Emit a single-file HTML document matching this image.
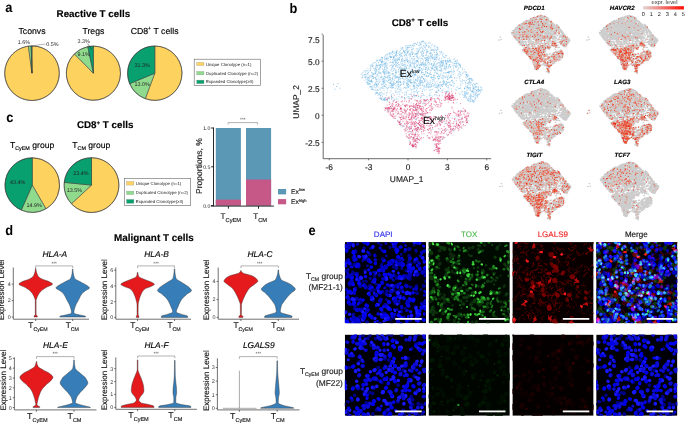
<!DOCTYPE html>
<html><head><meta charset="utf-8"><style>
html,body{margin:0;padding:0;background:#fff;width:685px;height:423px;overflow:hidden}
svg{display:block;will-change:transform}
text{font-family:"Liberation Sans", sans-serif;text-rendering:geometricPrecision}
</style></head><body>
<svg width="685" height="423" viewBox="0 0 685 423" font-family='"Liberation Sans", sans-serif'>
<rect width="685" height="423" fill="#fff"/>
<text transform="translate(5.2 11.7) scale(0.93 1)" font-size="13.8" font-weight="bold">a</text>
<text transform="translate(289.6 12.5) scale(0.93 1)" font-size="13.8" font-weight="bold">b</text>
<text transform="translate(6.2 121.5) scale(0.93 1)" font-size="13.8" font-weight="bold">c</text>
<text transform="translate(5.2 234.9) scale(0.93 1)" font-size="13.8" font-weight="bold">d</text>
<text transform="translate(308.6 235.0) scale(0.93 1)" font-size="13.8" font-weight="bold">e</text>
<text x="56.60" y="17.10" font-size="9.8" font-weight="bold" stroke="#000" stroke-width="0.15">Reactive T cells</text>
<text x="32.00" y="33.60" font-size="8.7" text-anchor="middle" stroke="#000" stroke-width="0.15">Tconvs</text>
<text x="93.40" y="33.60" font-size="8.7" text-anchor="middle" stroke="#000" stroke-width="0.15">Tregs</text>
<text x="154.60" y="33.60" font-size="8.7" text-anchor="middle" stroke="#000" stroke-width="0.15">CD8<tspan font-size="5.5" dy="-3.2">+</tspan><tspan dy="3.2"> T cells</tspan></text>
<path d="M32.00 73.20L32.00 45.90A27.3 27.3 0 1 1 28.41 46.14Z" fill="#FDD25E" stroke="#333" stroke-width="0.5" stroke-linejoin="round"/>
<path d="M32.00 73.20L28.41 46.14A27.3 27.3 0 0 1 31.14 45.91Z" fill="#90DA8E" stroke="#333" stroke-width="0.5" stroke-linejoin="round"/>
<path d="M32.00 73.20L31.14 45.91A27.3 27.3 0 0 1 32.00 45.90Z" fill="#08A06E" stroke="#333" stroke-width="0.5" stroke-linejoin="round"/>
<circle cx="32.0" cy="73.2" r="27.3" fill="none" stroke="#333" stroke-width="0.5"/>
<path d="M93.40 73.20L93.40 46.10A27.1 27.1 0 1 1 74.36 53.92Z" fill="#FDD25E" stroke="#333" stroke-width="0.5" stroke-linejoin="round"/>
<path d="M93.40 73.20L74.36 53.92A27.1 27.1 0 0 1 87.82 46.68Z" fill="#90DA8E" stroke="#333" stroke-width="0.5" stroke-linejoin="round"/>
<path d="M93.40 73.20L87.82 46.68A27.1 27.1 0 0 1 93.40 46.10Z" fill="#08A06E" stroke="#333" stroke-width="0.5" stroke-linejoin="round"/>
<circle cx="93.4" cy="73.2" r="27.1" fill="none" stroke="#333" stroke-width="0.5"/>
<path d="M154.80 73.20L154.80 46.00A27.2 27.2 0 1 1 145.27 98.67Z" fill="#FDD25E" stroke="#333" stroke-width="0.5" stroke-linejoin="round"/>
<path d="M154.80 73.20L145.27 98.67A27.2 27.2 0 0 1 129.70 83.69Z" fill="#90DA8E" stroke="#333" stroke-width="0.5" stroke-linejoin="round"/>
<path d="M154.80 73.20L129.70 83.69A27.2 27.2 0 0 1 154.80 46.00Z" fill="#08A06E" stroke="#333" stroke-width="0.5" stroke-linejoin="round"/>
<circle cx="154.8" cy="73.2" r="27.2" fill="none" stroke="#333" stroke-width="0.5"/>
<text x="17.80" y="44.20" font-size="5.4" fill="#222">1.6%</text>
<text x="46.20" y="46.00" font-size="5.4" fill="#222">0.5%</text>
<path d="M45.5 44.2 L39 44.8 L32.3 46.2" fill="none" stroke="#333" stroke-width="0.35"/>
<text x="77.40" y="43.20" font-size="5.4" fill="#222">3.3%</text>
<path d="M87.6 43.6 L91.8 49.5" fill="none" stroke="#222" stroke-width="0.5"/>
<text x="77.60" y="56.20" font-size="5.4" fill="#222">9.1%</text>
<text x="134.60" y="66.80" font-size="5.4" fill="#222">31.3%</text>
<text x="134.60" y="86.40" font-size="5.4" fill="#222">13.0%</text>
<rect x="194.2" y="59.2" width="66.40000000000003" height="26.299999999999997" fill="#fff" stroke="#666" stroke-width="0.6"/>
<rect x="196.7" y="62.4" width="7.300000000000011" height="3.1999999999999957" fill="#FDD25E" stroke="#999" stroke-width="0.3"/>
<text x="205.90" y="65.55" font-size="4.3" fill="#222">Unique Clonotype (n=1)</text>
<rect x="196.7" y="71.4" width="7.300000000000011" height="3.5" fill="#90DA8E" stroke="#999" stroke-width="0.3"/>
<text x="205.90" y="74.70" font-size="4.3" fill="#222">Duplicated Clonotype (n=2)</text>
<rect x="196.7" y="80.1" width="7.300000000000011" height="3.6000000000000085" fill="#08A06E" stroke="#999" stroke-width="0.3"/>
<text x="205.90" y="83.45" font-size="4.3" fill="#222">Expanded Clonotype(&#8805;3)</text>
<text x="76.90" y="128.10" font-size="9.8" font-weight="bold" stroke="#000" stroke-width="0.15">CD8<tspan font-size="6.2" dy="-3.6">+</tspan><tspan dy="3.6"> T cells</tspan></text>
<text x="32.10" y="148.40" font-size="8.6" text-anchor="middle" stroke="#000" stroke-width="0.15">T<tspan font-size="5.4" dy="2.0">CyEM</tspan><tspan dy="-2.0"> group</tspan></text>
<text x="91.30" y="148.40" font-size="8.6" text-anchor="middle" stroke="#000" stroke-width="0.15">T<tspan font-size="5.4" dy="2.0">CM</tspan><tspan dy="-2.0"> group</tspan></text>
<path d="M32.30 185.10L32.30 157.80A27.3 27.3 0 0 1 45.90 208.77Z" fill="#FDD25E" stroke="#333" stroke-width="0.5" stroke-linejoin="round"/>
<path d="M32.30 185.10L45.90 208.77A27.3 27.3 0 0 1 21.30 210.09Z" fill="#90DA8E" stroke="#333" stroke-width="0.5" stroke-linejoin="round"/>
<path d="M32.30 185.10L21.30 210.09A27.3 27.3 0 0 1 32.30 157.80Z" fill="#08A06E" stroke="#333" stroke-width="0.5" stroke-linejoin="round"/>
<circle cx="32.3" cy="185.1" r="27.3" fill="none" stroke="#333" stroke-width="0.5"/>
<path d="M91.50 185.10L91.50 157.70A27.4 27.4 0 1 1 71.41 203.73Z" fill="#FDD25E" stroke="#333" stroke-width="0.5" stroke-linejoin="round"/>
<path d="M91.50 185.10L71.41 203.73A27.4 27.4 0 0 1 64.24 182.35Z" fill="#90DA8E" stroke="#333" stroke-width="0.5" stroke-linejoin="round"/>
<path d="M91.50 185.10L64.24 182.35A27.4 27.4 0 0 1 91.50 157.70Z" fill="#08A06E" stroke="#333" stroke-width="0.5" stroke-linejoin="round"/>
<circle cx="91.5" cy="185.1" r="27.4" fill="none" stroke="#333" stroke-width="0.5"/>
<text x="9.90" y="184.30" font-size="5.4" fill="#222">43.4%</text>
<text x="26.50" y="206.50" font-size="5.4" fill="#222">14.9%</text>
<text x="73.20" y="174.90" font-size="5.4" fill="#222">23.4%</text>
<text x="66.80" y="191.60" font-size="5.4" fill="#222">13.5%</text>
<rect x="124.3" y="178.3" width="66.39999999999999" height="27.099999999999994" fill="#fff" stroke="#666" stroke-width="0.6"/>
<rect x="126.5" y="181.4" width="7.400000000000006" height="3.6999999999999886" fill="#FDD25E" stroke="#999" stroke-width="0.3"/>
<text x="135.80" y="184.80" font-size="4.3" fill="#222">Unique Clonotype (n=1)</text>
<rect x="126.5" y="191.1" width="7.400000000000006" height="3.5" fill="#90DA8E" stroke="#999" stroke-width="0.3"/>
<text x="135.80" y="194.40" font-size="4.3" fill="#222">Duplicated Clonotype (n=2)</text>
<rect x="126.5" y="199.4" width="7.400000000000006" height="3.9000000000000057" fill="#08A06E" stroke="#999" stroke-width="0.3"/>
<text x="135.80" y="202.90" font-size="4.3" fill="#222">Expanded Clonotype(&#8805;3)</text>
<rect x="215.8" y="128.00" width="25.1" height="77.60" fill="#5B98B6"/>
<rect x="215.8" y="199.62" width="25.1" height="5.98" fill="#C65887"/>
<rect x="246.0" y="128.00" width="25.1" height="77.60" fill="#5B98B6"/>
<rect x="246.0" y="179.53" width="25.1" height="26.07" fill="#C65887"/>
<path d="M213.5 127.5 V206.1 M211 206.1 H273.9 M228.4 206.1 v2.6 M258.5 206.1 v2.6 M213.5 128.00 h-2.4 M213.5 166.80 h-2.4 M213.5 205.60 h-2.4" stroke="#111" stroke-width="0.9" fill="none"/>
<text x="210.40" y="129.90" font-size="5.2" text-anchor="end" fill="#222">1.0</text>
<text x="210.40" y="168.70" font-size="5.2" text-anchor="end" fill="#222">0.5</text>
<text x="210.40" y="207.50" font-size="5.2" text-anchor="end" fill="#222">0.0</text>
<path d="M228.1 124.5 V122.6 H257.6 V124.5" stroke="#666" stroke-width="0.5" fill="none"/>
<text x="242.80" y="120.90" font-size="4.6" text-anchor="middle" fill="#444">***</text>
<text x="202.00" y="166.00" font-size="8.5" text-anchor="middle" fill="#222" stroke="#222" stroke-width="0.15" transform="rotate(-90 202.0 166.0)">Proportions, %</text>
<text x="220.60" y="218.90" font-size="8.1" fill="#222" stroke="#222" stroke-width="0.15">T<tspan font-size="5.7" dy="2.6">CyEM</tspan></text>
<text x="253.30" y="218.90" font-size="8.1" fill="#222" stroke="#222" stroke-width="0.15">T<tspan font-size="5.7" dy="2.6">CM</tspan></text>
<rect x="278" y="189" width="8.1" height="5.4" fill="#5B98B6"/>
<rect x="278" y="199.1" width="8.1" height="5.2" fill="#C65887"/>
<text x="291.00" y="194.00" font-size="6.8" fill="#222" stroke="#222" stroke-width="0.15">Ex<tspan font-size="4" dy="-2.6">low</tspan></text>
<text x="291.00" y="204.20" font-size="6.8" fill="#222" stroke="#222" stroke-width="0.15">Ex<tspan font-size="4" dy="-2.6">high</tspan></text>
<path d="M436.6 47.7h0.9M470.2 78.2h0.9M396.5 53.3h0.9M467.3 83.2h0.9M417.2 85.5h0.9M396.8 77.4h0.9M393.8 69.8h0.9M390.9 81.0h0.9M414.4 85.6h0.9M421.7 91.4h0.9M427.8 76.1h0.9M436.2 50.6h0.9M386.0 54.6h0.9M379.2 68.2h0.9M423.0 56.2h0.9M417.0 80.2h0.9M472.7 92.4h0.9M437.1 92.6h0.9M420.8 73.3h0.9M390.0 75.0h0.9M378.5 68.9h0.9M392.4 79.4h0.9M468.1 88.6h0.9M422.4 59.2h0.9M464.0 93.0h0.9M451.0 77.3h0.9M370.7 76.9h0.9M426.2 64.8h0.9M404.0 55.7h0.9M433.3 75.9h0.9M399.3 77.2h0.9M377.9 65.3h0.9M460.2 88.0h0.9M406.3 76.0h0.9M480.3 92.8h0.9M434.1 85.1h0.9M442.9 81.7h0.9M413.8 81.9h0.9M389.0 54.2h0.9M409.1 80.3h0.9M371.3 89.3h0.9M442.4 62.7h0.9M476.1 95.7h0.9M471.0 91.4h0.9M429.8 86.9h0.9M377.4 75.5h0.9M383.2 81.9h0.9M474.0 87.9h0.9M427.6 61.3h0.9M468.6 84.6h0.9M438.6 78.8h0.9M405.9 66.8h0.9M410.2 66.7h0.9M417.2 78.1h0.9M405.4 59.6h0.9M440.6 68.1h0.9M424.1 90.1h0.9M401.9 78.1h0.9M432.3 49.7h0.9M403.3 81.3h0.9M423.5 74.5h0.9M378.1 62.6h0.9M452.4 62.7h0.9M459.5 88.3h0.9M376.3 69.7h0.9M411.1 94.4h0.9M460.1 72.3h0.9M422.8 94.1h0.9M383.9 80.8h0.9M404.2 64.2h0.9M430.2 52.8h0.9M401.4 60.1h0.9M392.9 74.2h0.9M414.3 43.2h0.9M423.1 41.5h0.9M423.8 42.9h0.9M451.1 81.0h0.9M431.1 50.1h0.9M410.2 79.5h0.9M412.5 72.9h0.9M390.4 87.3h0.9M448.0 72.7h0.9M437.2 70.8h0.9M400.5 76.3h0.9M408.6 76.2h0.9M385.7 59.4h0.9M434.0 63.8h0.9M432.8 61.3h0.9M440.8 71.2h0.9M397.3 50.9h0.9M416.9 54.1h0.9M437.0 76.6h0.9M437.9 59.5h0.9M382.1 58.0h0.9M367.0 73.7h0.9M449.6 66.5h0.9M424.0 80.5h0.9M361.9 77.9h0.9M390.6 62.4h0.9M390.1 79.6h0.9M382.6 93.9h0.9M429.4 73.1h0.9M432.3 79.6h0.9M379.9 72.5h0.9M475.3 87.7h0.9M425.9 67.9h0.9M440.7 73.7h0.9M383.0 70.3h0.9M430.3 56.1h0.9M398.7 52.8h0.9M398.1 62.6h0.9M466.0 75.8h0.9M375.3 83.2h0.9M454.1 58.7h0.9M430.2 83.1h0.9M434.7 56.8h0.9M371.3 75.8h0.9M441.1 52.4h0.9M437.4 70.0h0.9M399.8 56.5h0.9M379.3 92.6h0.9M439.8 70.4h0.9M385.9 95.1h0.9M429.0 53.6h0.9M406.2 92.1h0.9M390.6 81.0h0.9M415.8 61.8h0.9M440.6 77.3h0.9M406.4 60.3h0.9M375.9 76.6h0.9M405.3 45.9h0.9M426.0 59.8h0.9M386.0 80.3h0.9M390.0 85.3h0.9M400.1 84.6h0.9M415.9 96.1h0.9M369.5 83.8h0.9M430.9 78.2h0.9M396.4 82.8h0.9M369.0 86.9h0.9M375.9 81.3h0.9M471.3 99.4h0.9M392.7 66.1h0.9M397.2 76.5h0.9M436.0 72.8h0.9M413.1 77.4h0.9M468.6 101.2h0.9M405.8 84.1h0.9M447.2 82.8h0.9M371.4 75.7h0.9M449.2 60.7h0.9M455.3 89.7h0.9M442.7 61.8h0.9M405.2 75.2h0.9M423.5 87.1h0.9M452.9 83.3h0.9M425.6 67.3h0.9M451.8 80.4h0.9M374.9 90.4h0.9M439.0 58.2h0.9M438.6 91.0h0.9M382.2 61.3h0.9M453.2 59.6h0.9M414.3 58.4h0.9M406.1 54.7h0.9M411.2 63.8h0.9M426.4 50.1h0.9M427.1 59.8h0.9M448.5 60.8h0.9M406.5 88.0h0.9M473.0 88.0h0.9M407.2 65.4h0.9M376.4 67.6h0.9M374.6 84.6h0.9M370.7 82.0h0.9M373.8 74.1h0.9M381.2 61.3h0.9M430.4 47.4h0.9M414.5 66.5h0.9M382.9 99.4h0.9M472.3 89.0h0.9M386.2 58.5h0.9M367.7 70.3h0.9M417.9 78.9h0.9M398.2 57.9h0.9M398.0 79.5h0.9M448.3 72.5h0.9M408.1 86.2h0.9M363.5 74.7h0.9M421.6 77.3h0.9M381.2 77.6h0.9M419.2 67.7h0.9M382.1 88.1h0.9M442.1 65.6h0.9M392.2 51.1h0.9M424.5 65.1h0.9M437.0 48.0h0.9M425.6 72.8h0.9M408.3 60.8h0.9M467.3 87.4h0.9M381.6 79.3h0.9M376.2 92.6h0.9M387.9 71.9h0.9M385.1 77.5h0.9M421.9 76.7h0.9M472.4 80.1h0.9M433.5 50.6h0.9M388.6 77.1h0.9M416.8 56.9h0.9M468.2 88.3h0.9M446.8 72.5h0.9M464.3 80.5h0.9M443.6 60.4h0.9M450.3 77.2h0.9M379.9 59.6h0.9M378.6 65.0h0.9M422.9 61.9h0.9M478.6 90.4h0.9M394.2 68.6h0.9M446.2 67.2h0.9M438.9 76.7h0.9M412.9 46.6h0.9M410.7 66.2h0.9M444.9 57.4h0.9M442.1 84.7h0.9M385.2 65.1h0.9M477.8 90.9h0.9M417.3 52.2h0.9M409.9 76.4h0.9M428.9 46.5h0.9M428.3 47.0h0.9M474.5 85.7h0.9M364.3 80.4h0.9M415.3 54.1h0.9M437.3 66.5h0.9M386.8 81.6h0.9M467.9 75.8h0.9M383.8 56.6h0.9M452.1 82.3h0.9M427.8 60.3h0.9M436.0 55.9h0.9M443.1 63.6h0.9M438.7 55.6h0.9M409.6 56.0h0.9M408.3 45.5h0.9M406.4 74.4h0.9M417.0 42.6h0.9M421.6 82.1h0.9M401.1 76.0h0.9M406.4 58.9h0.9M456.4 87.3h0.9M414.6 82.5h0.9M407.5 61.3h0.9M465.7 93.8h0.9M431.0 68.4h0.9M428.3 68.8h0.9M411.3 89.5h0.9M382.1 68.8h0.9M395.5 85.4h0.9M395.6 54.7h0.9M412.6 56.5h0.9M402.9 83.8h0.9M405.3 88.5h0.9M431.2 57.3h0.9M406.0 92.9h0.9M392.4 71.3h0.9M420.4 58.8h0.9M398.1 69.5h0.9M420.5 82.2h0.9M383.9 99.5h0.9M417.9 51.2h0.9M454.2 78.0h0.9M416.0 44.4h0.9M426.8 81.3h0.9M446.7 83.0h0.9M414.4 72.7h0.9M389.8 78.7h0.9M405.9 49.5h0.9M438.1 85.2h0.9M391.3 84.4h0.9M418.3 63.3h0.9M424.2 74.5h0.9M384.5 70.2h0.9M395.1 76.3h0.9M376.3 79.6h0.9M399.1 59.8h0.9M419.7 83.6h0.9M436.1 59.7h0.9M401.9 58.3h0.9M391.1 96.2h0.9M413.4 89.4h0.9M419.8 44.3h0.9M376.9 89.5h0.9M438.4 85.2h0.9M376.2 84.5h0.9M380.9 84.9h0.9M394.4 64.5h0.9M382.1 60.9h0.9M379.8 96.7h0.9M416.0 54.0h0.9M382.1 57.9h0.9M435.6 87.3h0.9M409.6 59.8h0.9M411.0 58.5h0.9M441.3 60.5h0.9M433.5 52.0h0.9M398.3 87.5h0.9M435.0 78.3h0.9M429.8 89.9h0.9M477.0 83.7h0.9M434.5 55.3h0.9M400.9 54.0h0.9M411.4 69.5h0.9M464.6 96.3h0.9M401.0 68.2h0.9M369.0 83.8h0.9M382.2 65.5h0.9M414.7 70.9h0.9M393.8 76.1h0.9M470.4 100.5h0.9M443.4 53.1h0.9M464.8 83.8h0.9M409.2 69.0h0.9M389.7 79.2h0.9M444.2 67.7h0.9M385.6 66.2h0.9M392.6 76.1h0.9M446.1 66.7h0.9M460.1 65.5h0.9M423.1 52.9h0.9M427.3 57.4h0.9M369.8 75.5h0.9M434.5 64.5h0.9M398.0 53.7h0.9M437.1 53.6h0.9M395.6 70.2h0.9M437.9 85.5h0.9M406.1 95.1h0.9M407.3 61.6h0.9M447.5 58.5h0.9M395.0 60.8h0.9M397.1 60.0h0.9M368.9 83.6h0.9M386.5 71.4h0.9M392.9 57.9h0.9M380.8 73.8h0.9M367.2 80.9h0.9M416.9 60.2h0.9M385.9 92.9h0.9M473.3 88.3h0.9M393.1 82.4h0.9M430.1 55.0h0.9M422.0 85.3h0.9M418.0 51.3h0.9M367.6 78.1h0.9M423.8 74.7h0.9M405.0 77.0h0.9M453.3 71.6h0.9M392.1 85.0h0.9M417.4 76.9h0.9M415.4 82.9h0.9M398.9 68.0h0.9M407.8 51.5h0.9M378.3 69.2h0.9M429.5 64.1h0.9M439.3 70.4h0.9M399.4 57.9h0.9M429.9 60.9h0.9M432.2 68.3h0.9M383.9 72.8h0.9M431.4 67.6h0.9M420.0 97.9h0.9M379.9 87.9h0.9M376.1 69.3h0.9M426.7 51.8h0.9M409.2 67.1h0.9M392.8 84.0h0.9M426.3 52.7h0.9M428.5 76.2h0.9M460.4 74.5h0.9M390.2 82.8h0.9M380.8 64.5h0.9M464.3 91.3h0.9M471.8 91.0h0.9M400.5 55.3h0.9M473.2 97.0h0.9M380.6 65.0h0.9M419.5 66.0h0.9M424.1 58.0h0.9M413.5 74.2h0.9M376.8 85.6h0.9M403.1 78.9h0.9M459.2 72.0h0.9M397.8 80.4h0.9M467.0 87.4h0.9M379.4 64.8h0.9M415.7 62.3h0.9M441.1 84.8h0.9M422.1 62.4h0.9M379.8 89.1h0.9M376.6 86.8h0.9M403.4 81.9h0.9M394.1 99.4h0.9M400.3 91.1h0.9M452.7 64.1h0.9M409.4 47.1h0.9M409.6 80.6h0.9M469.0 81.2h0.9M472.8 94.4h0.9M397.8 59.1h0.9M390.7 57.3h0.9M376.6 60.3h0.9M413.5 82.1h0.9M433.8 65.3h0.9M377.4 60.5h0.9M418.1 96.4h0.9M445.3 61.8h0.9M375.3 72.8h0.9M372.1 64.0h0.9M434.9 84.0h0.9M429.1 74.0h0.9M450.4 85.2h0.9M378.7 94.9h0.9M410.2 54.4h0.9M456.1 67.2h0.9M469.5 79.0h0.9M415.3 74.7h0.9M405.4 73.5h0.9M409.5 61.2h0.9M405.7 76.9h0.9M417.6 67.6h0.9M414.8 87.9h0.9M407.1 72.4h0.9M412.9 63.9h0.9M429.1 86.8h0.9M442.4 54.4h0.9M387.8 72.5h0.9M396.9 89.6h0.9M453.3 70.1h0.9M399.3 79.0h0.9M382.4 84.4h0.9M372.5 74.3h0.9M445.5 55.6h0.9M396.0 65.7h0.9M438.0 76.1h0.9M363.6 70.8h0.9M430.8 49.7h0.9M390.7 83.7h0.9M402.4 75.1h0.9M434.7 87.7h0.9M432.3 66.7h0.9M446.7 91.2h0.9M384.4 63.8h0.9M390.7 69.1h0.9M394.8 55.1h0.9M434.2 48.1h0.9M423.8 66.7h0.9M433.7 57.8h0.9M446.1 82.0h0.9M400.9 49.2h0.9M399.9 81.4h0.9M363.8 77.3h0.9M384.4 100.7h0.9M400.6 75.1h0.9M473.9 89.8h0.9M413.1 48.7h0.9M384.7 82.7h0.9M446.9 60.9h0.9M389.7 62.7h0.9M437.9 74.7h0.9M398.7 74.8h0.9M386.5 73.5h0.9M375.0 77.7h0.9M437.6 78.2h0.9M371.8 78.3h0.9M378.6 59.3h0.9M400.8 61.3h0.9M442.9 73.0h0.9M435.7 85.0h0.9M371.8 73.2h0.9M391.5 86.0h0.9M431.5 68.7h0.9M460.3 84.1h0.9M438.5 85.3h0.9M423.5 82.1h0.9M469.4 90.2h0.9M415.3 79.4h0.9M381.3 57.5h0.9M464.5 96.2h0.9M409.1 77.7h0.9M397.9 78.6h0.9M421.8 42.7h0.9M414.1 64.8h0.9M384.0 67.7h0.9M421.5 78.2h0.9M466.7 83.3h0.9M470.1 97.2h0.9M421.6 85.0h0.9M365.1 74.8h0.9M430.9 76.4h0.9M422.5 74.5h0.9M413.2 44.2h0.9M476.9 96.2h0.9M374.8 71.6h0.9M436.4 57.0h0.9M385.3 56.0h0.9M445.7 63.0h0.9M417.6 94.9h0.9M426.0 89.8h0.9M366.4 74.0h0.9M412.4 69.4h0.9M426.1 85.4h0.9M421.6 72.8h0.9M395.9 51.7h0.9M440.5 85.7h0.9M416.9 92.5h0.9M458.6 63.4h0.9M394.9 52.3h0.9M473.7 101.5h0.9M402.7 68.6h0.9M391.3 64.8h0.9M436.4 64.7h0.9M371.5 65.5h0.9M469.2 81.7h0.9M381.4 88.2h0.9M384.4 97.3h0.9M466.7 75.8h0.9M423.8 86.7h0.9M384.2 76.2h0.9M423.6 50.7h0.9M395.3 72.9h0.9M375.2 78.9h0.9M473.3 91.8h0.9M376.9 65.5h0.9M412.4 67.3h0.9M384.8 58.3h0.9M441.5 62.3h0.9M408.7 65.9h0.9M408.1 63.2h0.9M421.8 41.4h0.9M442.5 64.2h0.9M396.6 77.6h0.9M379.3 72.2h0.9M385.8 84.9h0.9M417.7 70.5h0.9M432.6 85.8h0.9M398.7 65.0h0.9M428.8 69.8h0.9M426.3 76.0h0.9M466.1 80.6h0.9M407.6 72.9h0.9M422.5 63.1h0.9M454.1 71.3h0.9M449.7 59.9h0.9M481.9 90.2h0.9M381.1 99.6h0.9M448.2 91.3h0.9M423.2 65.8h0.9M417.3 77.0h0.9M416.8 92.0h0.9M398.5 77.4h0.9M434.1 67.4h0.9M368.5 81.0h0.9M365.5 70.7h0.9M382.3 97.1h0.9M397.0 63.3h0.9M433.8 70.6h0.9M400.0 62.9h0.9M429.8 48.2h0.9M405.4 58.1h0.9M440.0 88.5h0.9M395.7 74.2h0.9M395.1 66.7h0.9M469.9 101.8h0.9M374.1 70.6h0.9M377.6 95.1h0.9M396.1 52.0h0.9M480.9 87.7h0.9M416.2 87.4h0.9M467.3 90.1h0.9M431.3 45.3h0.9M447.8 75.4h0.9M383.7 99.3h0.9M432.4 83.8h0.9M436.9 49.4h0.9M474.4 95.3h0.9M404.1 60.9h0.9M427.3 82.5h0.9M422.6 53.4h0.9M453.3 86.2h0.9M395.2 70.3h0.9M370.2 70.3h0.9M406.9 59.3h0.9M431.3 86.3h0.9M476.9 95.0h0.9M409.8 88.8h0.9M435.2 92.0h0.9M468.9 78.4h0.9M446.6 91.9h0.9M417.6 70.1h0.9M460.0 66.4h0.9M419.3 85.1h0.9M394.3 60.1h0.9M462.0 68.2h0.9M396.1 64.7h0.9M464.1 88.4h0.9M422.3 91.2h0.9M456.5 63.4h0.9M478.6 93.8h0.9M396.8 85.1h0.9M375.2 73.8h0.9M468.8 82.8h0.9M418.7 84.8h0.9M374.8 83.0h0.9M421.0 55.3h0.9M418.4 69.5h0.9M420.2 77.8h0.9M472.3 101.6h0.9M408.7 94.4h0.9M391.7 51.7h0.9M398.9 92.1h0.9M384.9 64.7h0.9M395.6 78.0h0.9M470.6 79.4h0.9M407.3 57.2h0.9M446.2 81.7h0.9M472.7 90.7h0.9M447.8 67.6h0.9M403.7 66.8h0.9M449.2 72.4h0.9M376.3 93.5h0.9M406.8 47.4h0.9M428.5 42.6h0.9M394.5 74.9h0.9M382.3 81.8h0.9M469.3 78.9h0.9M433.3 79.7h0.9M370.7 88.0h0.9M421.1 69.0h0.9M421.7 70.8h0.9M435.6 58.0h0.9M388.6 79.3h0.9M470.2 87.8h0.9M374.6 87.4h0.9M380.6 61.1h0.9M410.0 71.8h0.9M426.9 58.1h0.9M448.2 61.8h0.9M450.3 67.3h0.9M402.3 58.8h0.9M446.8 60.2h0.9M361.5 77.5h0.9M416.2 51.2h0.9M423.9 85.4h0.9M435.3 58.2h0.9M407.9 68.2h0.9M417.0 60.8h0.9M410.4 62.4h0.9M404.6 76.0h0.9M420.3 44.7h0.9M413.8 82.4h0.9M464.1 97.2h0.9M401.9 74.5h0.9M435.9 66.7h0.9M403.8 51.2h0.9M439.7 67.0h0.9M477.9 86.5h0.9M376.5 84.9h0.9M441.6 70.9h0.9M437.8 62.4h0.9M466.9 87.9h0.9M399.7 67.0h0.9M446.8 72.5h0.9M392.0 51.9h0.9M384.2 86.0h0.9M367.0 82.5h0.9M457.1 62.3h0.9M399.1 57.7h0.9M440.7 61.8h0.9M369.8 81.3h0.9M441.2 78.0h0.9M430.6 85.7h0.9M387.2 76.1h0.9M449.0 65.9h0.9M416.7 84.3h0.9M451.5 73.9h0.9M404.4 62.5h0.9M426.4 60.1h0.9M436.3 68.8h0.9M366.5 81.8h0.9M454.7 61.7h0.9M445.5 63.4h0.9M406.3 68.0h0.9M399.2 67.9h0.9M424.9 78.9h0.9M406.8 52.7h0.9M434.4 94.9h0.9M416.2 80.7h0.9M428.9 84.0h0.9M421.0 65.1h0.9M407.0 49.3h0.9M368.5 80.1h0.9M440.5 62.1h0.9M403.2 51.1h0.9M436.0 52.6h0.9M375.1 69.3h0.9M469.5 98.4h0.9M374.5 77.4h0.9M404.1 87.5h0.9M420.5 47.0h0.9M374.0 84.5h0.9M447.5 85.7h0.9M376.7 90.9h0.9M431.0 86.2h0.9M412.8 86.6h0.9M395.0 62.9h0.9M375.9 83.5h0.9M395.5 60.2h0.9M439.0 62.8h0.9M386.7 63.8h0.9M405.1 54.7h0.9M436.4 54.3h0.9M396.7 67.2h0.9M408.2 80.1h0.9M445.4 61.5h0.9M442.5 57.1h0.9M416.7 44.2h0.9M382.7 80.3h0.9M409.2 77.0h0.9M370.5 86.8h0.9M416.6 75.4h0.9M458.3 74.1h0.9M476.1 90.0h0.9M382.5 72.4h0.9M445.5 91.8h0.9M396.2 81.2h0.9M442.4 84.4h0.9M423.3 88.8h0.9M399.8 71.1h0.9M420.1 48.4h0.9M404.9 50.6h0.9M411.5 49.7h0.9M443.6 76.1h0.9M443.4 56.5h0.9M422.1 54.1h0.9M370.8 80.3h0.9M407.9 84.6h0.9M466.3 93.5h0.9M422.3 70.0h0.9M457.9 88.6h0.9M413.9 56.2h0.9M421.9 55.8h0.9M387.7 73.5h0.9M475.5 93.5h0.9M376.5 85.5h0.9M383.8 73.6h0.9M372.5 85.4h0.9M372.2 82.9h0.9M402.5 65.3h0.9M409.7 73.9h0.9M473.5 102.4h0.9M425.6 71.5h0.9M377.5 76.9h0.9M427.8 84.3h0.9M379.1 65.5h0.9M476.0 90.8h0.9M382.8 64.6h0.9M416.4 89.8h0.9M391.1 57.1h0.9M419.7 70.0h0.9M425.5 65.2h0.9M415.9 66.5h0.9M442.9 83.3h0.9M420.5 80.4h0.9M388.3 80.4h0.9M372.0 66.3h0.9M383.5 81.5h0.9M390.0 82.2h0.9M477.9 87.9h0.9M464.7 81.9h0.9M445.7 67.0h0.9M398.4 96.4h0.9M407.7 79.8h0.9M413.8 92.0h0.9M395.6 92.0h0.9M411.4 53.9h0.9M442.9 84.3h0.9M439.2 67.3h0.9M448.9 83.1h0.9M381.7 81.0h0.9M397.6 99.0h0.9M443.8 65.6h0.9M458.6 64.9h0.9M402.5 82.4h0.9M403.3 72.8h0.9M401.5 60.8h0.9M383.0 70.8h0.9M376.4 81.5h0.9M464.5 94.4h0.9M368.0 72.6h0.9M441.1 85.3h0.9M409.0 98.3h0.9M438.1 79.1h0.9M415.2 43.5h0.9M382.6 78.9h0.9M448.0 66.4h0.9M425.5 87.6h0.9M369.4 77.4h0.9M388.6 78.2h0.9M383.0 72.8h0.9M384.1 68.8h0.9M410.6 98.4h0.9M404.2 68.2h0.9M372.2 76.5h0.9M413.6 66.7h0.9M426.4 59.2h0.9M386.8 100.8h0.9M396.3 50.8h0.9M440.5 65.2h0.9M465.9 74.7h0.9M392.0 66.2h0.9M418.8 65.2h0.9M400.8 75.2h0.9M454.1 83.6h0.9M462.1 94.5h0.9M376.8 92.5h0.9M379.7 60.3h0.9M406.8 87.3h0.9M416.6 64.3h0.9M477.5 89.8h0.9M478.8 94.4h0.9M449.5 84.8h0.9M392.8 56.3h0.9M405.4 60.2h0.9M369.2 78.8h0.9M387.8 82.8h0.9M470.1 82.8h0.9M465.0 82.5h0.9M437.1 86.6h0.9M386.9 60.0h0.9M453.3 81.7h0.9M422.7 46.4h0.9M400.3 70.5h0.9M409.6 71.1h0.9M414.8 53.5h0.9M394.9 90.8h0.9M406.9 47.4h0.9M405.9 82.2h0.9M435.9 50.4h0.9M420.8 64.4h0.9M383.8 64.7h0.9M457.6 69.3h0.9M422.8 83.3h0.9M459.6 94.2h0.9M442.0 63.9h0.9M378.8 89.3h0.9M445.8 55.9h0.9M391.2 99.2h0.9M408.4 96.7h0.9M451.8 65.9h0.9M455.2 67.1h0.9M375.3 66.4h0.9M438.6 78.4h0.9M383.3 99.6h0.9M392.5 83.5h0.9M401.9 69.1h0.9M425.0 64.9h0.9M448.6 61.7h0.9M430.6 89.7h0.9M413.0 56.6h0.9M423.3 52.7h0.9M423.3 55.7h0.9M404.3 53.4h0.9M455.8 80.5h0.9M413.4 58.5h0.9M364.2 74.7h0.9M415.2 68.1h0.9M384.3 86.3h0.9M425.8 61.0h0.9M475.0 94.2h0.9M382.4 87.1h0.9M405.5 50.5h0.9M380.1 95.5h0.9M441.1 52.7h0.9M453.2 74.7h0.9M423.0 79.0h0.9M446.2 68.7h0.9M463.2 97.7h0.9M392.6 81.4h0.9M395.2 77.5h0.9M410.8 83.0h0.9M439.6 84.6h0.9M378.3 94.0h0.9M384.3 71.7h0.9M390.9 95.8h0.9M370.9 80.2h0.9M431.8 77.5h0.9M421.0 41.5h0.9M418.6 67.6h0.9M416.6 65.0h0.9M420.8 65.1h0.9M419.6 67.4h0.9M415.5 60.5h0.9M379.3 69.9h0.9M395.9 98.2h0.9M392.1 62.3h0.9M456.1 63.0h0.9M384.8 63.2h0.9M398.0 84.5h0.9M389.1 56.8h0.9M405.5 52.5h0.9M421.4 47.5h0.9M442.7 69.0h0.9M410.7 90.4h0.9M384.7 99.1h0.9M441.2 65.9h0.9M432.2 58.6h0.9M410.0 64.8h0.9M372.1 76.2h0.9M388.2 98.0h0.9M415.2 80.7h0.9M478.0 89.6h0.9M399.6 73.0h0.9M384.5 76.7h0.9M421.0 76.4h0.9M444.3 68.4h0.9M405.1 68.2h0.9M463.3 95.6h0.9M399.7 68.3h0.9M464.0 88.2h0.9M436.0 94.9h0.9M402.8 74.6h0.9M370.1 68.3h0.9M441.5 62.0h0.9M397.5 88.5h0.9M472.9 89.2h0.9M401.7 97.3h0.9M383.6 98.8h0.9M401.7 97.6h0.9M386.4 57.6h0.9M416.0 90.8h0.9M395.8 99.7h0.9M371.2 80.9h0.9M474.0 99.3h0.9M377.1 74.6h0.9M432.6 77.7h0.9M428.0 75.6h0.9M445.1 77.4h0.9M397.3 83.7h0.9M395.4 55.2h0.9M403.9 97.9h0.9M445.0 60.4h0.9M419.9 78.7h0.9M394.1 60.3h0.9M401.6 65.5h0.9M430.9 63.9h0.9M459.3 65.2h0.9M447.2 79.6h0.9M393.8 84.3h0.9M423.8 63.3h0.9M369.7 81.1h0.9M413.6 65.7h0.9M455.5 61.1h0.9M389.9 56.6h0.9M395.5 55.5h0.9M462.2 73.6h0.9M400.5 53.3h0.9M403.5 71.1h0.9M456.0 90.1h0.9M406.9 60.6h0.9M438.4 84.0h0.9M425.1 47.1h0.9M425.7 86.3h0.9M425.0 63.2h0.9M374.9 62.7h0.9M425.8 75.4h0.9M445.1 72.8h0.9M392.8 70.2h0.9M456.4 60.2h0.9M467.2 92.9h0.9M403.2 50.5h0.9M400.6 97.8h0.9M388.0 75.3h0.9M400.3 85.5h0.9M412.1 61.9h0.9M429.6 52.9h0.9M433.1 69.4h0.9M428.2 45.8h0.9M470.2 94.9h0.9M423.5 85.7h0.9M478.2 91.4h0.9M421.0 53.7h0.9M370.4 66.1h0.9M424.6 45.8h0.9M451.1 71.8h0.9M472.6 96.5h0.9M433.8 81.1h0.9M407.3 51.1h0.9M430.0 72.9h0.9M427.9 62.2h0.9M450.4 77.2h0.9M367.6 84.4h0.9M396.0 52.8h0.9M417.1 81.2h0.9M395.4 72.3h0.9M419.7 88.6h0.9M464.6 95.5h0.9M392.7 60.5h0.9M427.8 83.2h0.9M390.3 87.7h0.9M407.1 85.5h0.9M397.1 65.7h0.9M431.7 57.7h0.9M420.8 63.8h0.9M377.4 84.0h0.9M377.3 81.7h0.9M391.5 97.4h0.9M472.1 100.6h0.9M421.4 62.9h0.9M404.8 64.1h0.9M414.4 63.2h0.9M381.2 57.4h0.9M387.9 58.4h0.9M379.4 66.9h0.9M406.4 70.4h0.9M417.5 61.3h0.9M445.4 84.4h0.9M439.8 61.2h0.9M479.8 91.4h0.9M414.3 61.8h0.9M394.5 59.0h0.9M480.4 86.9h0.9M433.4 75.2h0.9M422.0 80.9h0.9M398.0 64.6h0.9M462.0 69.6h0.9M388.8 98.8h0.9M381.3 62.5h0.9M396.3 76.8h0.9M430.3 77.5h0.9M446.2 86.7h0.9M406.7 45.6h0.9M386.6 65.2h0.9M367.4 77.8h0.9M423.8 75.9h0.9M436.8 73.2h0.9M400.9 55.7h0.9M384.2 82.9h0.9M456.1 66.1h0.9M406.6 98.0h0.9M427.0 63.2h0.9M442.7 77.0h0.9M434.1 59.1h0.9M403.4 76.3h0.9M375.8 84.6h0.9M418.7 73.0h0.9M391.8 54.6h0.9M374.5 68.7h0.9M398.1 85.9h0.9M385.3 100.4h0.9M385.2 63.9h0.9M409.1 81.3h0.9M428.5 67.4h0.9M403.9 79.9h0.9M388.3 72.5h0.9M382.0 58.2h0.9M442.5 89.2h0.9M398.1 82.0h0.9M465.8 88.0h0.9M412.1 54.1h0.9M373.6 86.8h0.9M439.1 51.7h0.9M370.1 69.7h0.9M381.6 62.0h0.9M421.2 81.1h0.9M373.7 85.6h0.9M392.7 62.4h0.9M440.0 88.6h0.9M451.0 88.9h0.9M405.2 79.1h0.9M385.0 55.3h0.9M423.8 95.7h0.9M402.2 77.7h0.9M449.0 60.5h0.9M436.3 63.6h0.9M467.7 74.2h0.9M372.6 78.0h0.9M362.2 75.9h0.9M451.5 77.4h0.9M375.0 92.9h0.9M400.8 89.9h0.9M421.6 58.1h0.9M437.9 90.3h0.9M421.4 64.2h0.9M367.6 77.3h0.9M374.4 70.3h0.9M451.1 75.6h0.9M430.8 74.5h0.9M424.9 49.0h0.9M450.2 71.6h0.9M400.2 69.7h0.9M420.7 44.7h0.9M417.4 62.0h0.9M441.1 58.6h0.9M386.1 58.6h0.9M447.9 86.0h0.9M414.3 88.5h0.9M466.0 92.6h0.9M437.4 86.7h0.9M405.6 57.0h0.9M377.9 71.9h0.9M436.8 68.4h0.9M419.3 42.5h0.9M402.1 74.8h0.9M391.3 57.2h0.9M398.7 82.8h0.9M430.5 92.0h0.9M452.4 85.7h0.9M418.5 69.7h0.9M448.1 71.4h0.9M450.3 75.4h0.9M401.3 68.0h0.9M407.0 83.0h0.9M426.6 84.2h0.9M449.9 62.3h0.9M374.8 73.8h0.9M430.4 66.8h0.9M377.8 73.5h0.9M402.1 68.7h0.9M419.4 56.8h0.9M404.2 51.5h0.9M437.1 83.8h0.9M454.9 63.4h0.9M471.5 96.0h0.9M404.5 52.9h0.9M475.2 99.9h0.9M396.1 52.4h0.9M446.3 91.5h0.9M425.7 43.7h0.9M422.0 89.8h0.9M404.7 47.9h0.9M466.3 72.8h0.9M470.7 95.7h0.9M379.2 60.5h0.9M393.4 57.3h0.9M382.1 100.3h0.9M430.2 95.4h0.9M371.6 89.6h0.9M399.5 81.1h0.9M455.0 60.8h0.9M419.0 49.7h0.9M365.5 77.0h0.9M471.3 78.3h0.9M464.4 95.0h0.9M380.4 77.5h0.9M415.1 79.3h0.9M380.5 59.0h0.9M418.8 81.0h0.9M467.7 79.2h0.9M387.2 54.2h0.9M426.6 57.6h0.9M445.4 60.8h0.9M419.0 82.0h0.9M402.9 88.1h0.9M390.9 86.3h0.9M432.9 49.8h0.9M441.9 65.8h0.9M420.1 85.9h0.9M466.4 74.9h0.9M443.7 72.6h0.9M393.3 57.0h0.9M439.1 82.4h0.9M469.9 97.1h0.9M395.0 92.4h0.9M372.4 74.6h0.9M424.9 69.7h0.9M373.0 73.8h0.9M382.8 99.8h0.9M453.8 63.7h0.9M406.7 65.3h0.9M383.1 81.8h0.9M464.4 93.4h0.9M401.0 84.2h0.9M465.1 92.2h0.9M444.2 92.1h0.9M368.3 82.8h0.9M435.0 46.0h0.9M391.8 74.6h0.9M425.3 58.7h0.9M401.5 64.4h0.9M371.2 80.1h0.9M420.4 60.8h0.9M371.7 89.2h0.9M388.4 87.5h0.9M478.3 90.1h0.9M465.0 77.1h0.9M406.3 75.0h0.9M475.8 83.3h0.9M396.1 52.3h0.9M395.4 72.2h0.9M411.8 48.8h0.9M365.1 77.4h0.9M387.0 88.5h0.9M450.7 84.7h0.9M386.7 68.6h0.9M420.9 58.2h0.9M388.6 80.1h0.9M422.1 63.9h0.9M391.9 52.6h0.9M417.1 49.2h0.9M380.4 98.9h0.9M473.0 102.2h0.9M410.6 73.8h0.9M376.3 60.2h0.9M425.2 60.3h0.9M380.9 61.5h0.9M425.1 69.2h0.9M435.6 86.6h0.9M401.7 48.9h0.9M440.8 52.0h0.9M473.9 84.3h0.9M392.5 85.1h0.9M407.4 90.5h0.9M390.5 70.9h0.9M381.2 76.7h0.9M362.5 72.3h0.9M387.0 99.6h0.9M453.6 65.5h0.9M414.8 73.9h0.9M376.2 70.9h0.9M392.6 61.8h0.9M457.1 65.9h0.9M405.8 78.2h0.9M375.5 70.8h0.9M395.9 82.5h0.9M465.7 96.8h0.9M443.8 65.9h0.9M403.2 65.2h0.9M414.1 45.7h0.9M395.9 76.6h0.9M407.6 96.5h0.9M416.8 65.8h0.9M416.4 61.1h0.9M445.4 85.4h0.9M378.3 80.9h0.9M433.0 85.9h0.9M417.7 52.0h0.9M432.8 57.1h0.9M470.4 94.1h0.9M466.9 76.0h0.9M407.7 47.9h0.9M389.1 76.7h0.9M466.9 76.5h0.9M472.9 88.4h0.9M404.7 92.2h0.9M467.4 85.6h0.9M414.7 75.0h0.9M429.4 93.6h0.9M386.7 92.6h0.9M392.3 73.4h0.9M391.5 73.6h0.9M371.8 73.0h0.9M381.0 98.9h0.9M414.2 96.8h0.9M409.9 64.7h0.9M429.0 90.1h0.9M427.4 50.9h0.9M469.6 89.7h0.9M456.3 78.1h0.9M427.3 66.0h0.9M379.2 73.4h0.9M445.8 73.0h0.9M442.0 86.5h0.9M409.5 53.8h0.9M473.0 83.4h0.9M459.2 78.5h0.9M406.3 48.5h0.9M380.8 95.2h0.9M453.2 67.1h0.9M363.9 74.8h0.9M418.6 58.2h0.9M392.6 73.4h0.9M456.0 63.7h0.9M401.1 59.9h0.9M422.8 95.4h0.9M383.5 82.3h0.9M434.4 59.8h0.9M408.5 50.3h0.9M459.0 64.8h0.9M448.5 93.3h0.9M390.4 53.7h0.9M367.3 79.0h0.9M475.0 98.2h0.9M446.6 62.2h0.9M434.2 59.5h0.9M411.2 52.2h0.9M403.3 83.9h0.9M419.9 64.3h0.9M412.2 54.3h0.9M422.1 82.5h0.9M394.5 75.4h0.9M437.7 81.1h0.9M459.7 80.9h0.9M435.3 81.9h0.9M435.2 61.7h0.9M391.0 94.6h0.9M405.9 68.5h0.9M381.8 62.2h0.9M465.6 72.1h0.9M434.4 75.7h0.9M460.3 85.5h0.9M432.8 59.2h0.9M471.1 83.0h0.9M389.5 55.2h0.9M442.2 55.1h0.9M391.8 78.5h0.9M447.1 60.9h0.9M458.7 77.0h0.9M411.8 60.1h0.9M437.4 95.8h0.9M447.3 72.5h0.9M475.9 87.5h0.9M469.5 96.9h0.9M389.5 82.5h0.9M426.1 52.1h0.9M385.6 81.0h0.9M389.9 57.1h0.9M423.5 64.2h0.9M431.8 81.2h0.9M465.0 71.8h0.9M415.0 74.4h0.9M477.4 89.6h0.9M387.7 53.6h0.9M436.2 92.0h0.9M392.1 66.0h0.9M384.2 63.5h0.9M411.4 71.8h0.9M435.9 66.8h0.9M398.2 77.7h0.9M381.2 92.0h0.9M465.3 94.7h0.9M450.1 60.4h0.9M381.5 76.3h0.9M434.7 66.1h0.9M394.9 72.1h0.9M422.7 41.2h0.9M429.0 63.0h0.9M465.7 86.9h0.9M420.2 79.9h0.9M372.5 67.1h0.9M393.0 100.4h0.9M440.6 62.2h0.9M406.2 55.5h0.9M383.1 86.2h0.9M442.5 78.9h0.9M399.4 74.6h0.9M436.8 56.0h0.9M453.5 73.0h0.9M367.7 84.8h0.9M406.8 86.2h0.9M416.8 65.6h0.9M382.2 69.0h0.9M470.0 90.1h0.9M410.2 53.2h0.9M422.2 65.2h0.9M408.4 81.9h0.9M388.3 80.6h0.9M423.4 78.9h0.9M417.1 73.2h0.9M365.7 74.8h0.9M378.3 62.8h0.9M434.2 70.4h0.9M418.7 65.1h0.9M400.3 82.5h0.9M420.2 82.5h0.9M386.3 87.5h0.9M413.7 59.5h0.9M427.1 76.7h0.9M392.4 67.3h0.9M418.2 86.0h0.9M446.7 91.7h0.9M405.1 71.7h0.9M471.7 81.1h0.9M400.0 66.9h0.9M398.1 72.0h0.9M374.2 62.4h0.9M433.1 65.3h0.9M463.7 72.0h0.9M378.1 78.8h0.9M409.5 77.5h0.9M392.3 85.7h0.9M416.1 85.5h0.9M376.0 63.8h0.9M468.7 78.4h0.9M390.7 57.1h0.9M382.9 71.7h0.9M424.3 81.6h0.9M431.5 55.3h0.9M471.8 84.7h0.9M401.6 63.9h0.9M431.7 44.3h0.9M374.7 73.4h0.9M423.5 69.3h0.9M373.1 77.3h0.9M396.6 81.4h0.9M446.5 64.1h0.9M373.1 78.6h0.9M440.5 51.3h0.9M427.6 73.3h0.9M451.0 69.9h0.9M369.5 65.1h0.9M385.6 88.1h0.9M383.2 62.9h0.9M424.9 44.0h0.9M391.5 67.6h0.9M412.7 52.5h0.9M441.0 69.0h0.9M414.4 54.5h0.9M393.2 57.8h0.9M413.7 43.7h0.9M466.8 86.0h0.9M470.5 98.6h0.9M427.4 51.6h0.9M418.0 59.0h0.9M434.2 78.9h0.9M366.5 79.6h0.9M447.8 78.6h0.9M475.0 86.6h0.9M393.6 64.3h0.9M385.8 66.2h0.9M412.7 84.7h0.9M379.4 79.6h0.9M474.5 94.1h0.9M443.4 82.9h0.9M444.6 66.5h0.9M429.5 74.5h0.9M388.5 73.8h0.9M398.7 86.5h0.9M400.7 52.9h0.9M416.6 53.8h0.9M425.9 46.2h0.9M428.8 57.5h0.9M419.9 64.8h0.9M420.1 62.0h0.9M381.9 66.4h0.9M399.2 51.7h0.9M408.2 98.3h0.9M475.2 89.4h0.9M430.8 56.6h0.9M441.6 66.4h0.9M395.3 58.8h0.9M466.0 90.9h0.9M366.4 76.8h0.9M460.1 67.7h0.9M436.3 57.5h0.9M410.0 77.2h0.9M413.9 86.6h0.9M378.0 72.1h0.9M431.9 55.2h0.9M369.5 71.2h0.9M408.4 54.9h0.9M409.6 72.6h0.9M392.6 68.7h0.9M427.8 68.0h0.9M414.5 75.7h0.9M447.4 87.8h0.9M441.0 61.5h0.9M408.4 84.0h0.9M425.1 71.7h0.9M387.2 78.0h0.9M436.3 51.9h0.9M391.6 78.2h0.9M377.5 93.7h0.9M423.4 64.6h0.9M413.9 83.0h0.9M406.3 68.8h0.9M428.8 95.8h0.9M474.0 84.8h0.9M480.4 90.1h0.9M415.2 95.8h0.9M408.8 85.9h0.9M411.8 51.8h0.9M398.8 89.3h0.9M406.4 80.3h0.9M458.5 64.9h0.9M428.5 64.7h0.9M386.3 70.6h0.9M434.8 72.2h0.9M436.3 73.9h0.9M420.5 52.5h0.9M428.5 56.4h0.9M437.7 49.5h0.9M393.2 58.8h0.9M397.4 81.6h0.9M365.7 82.5h0.9M383.4 88.5h0.9M459.6 67.0h0.9M366.5 70.8h0.9M466.0 97.8h0.9M445.4 55.4h0.9M386.2 72.6h0.9M472.5 86.8h0.9M395.6 61.8h0.9M456.8 70.4h0.9M415.7 83.8h0.9M421.9 51.0h0.9M426.9 86.1h0.9M443.5 84.1h0.9M409.4 55.0h0.9M404.5 61.0h0.9M454.2 63.5h0.9M442.3 90.8h0.9M413.2 73.6h0.9M408.5 87.1h0.9M410.9 70.6h0.9M370.2 86.9h0.9M413.6 74.7h0.9M461.3 91.9h0.9M384.6 78.9h0.9M461.6 81.8h0.9M470.8 78.7h0.9M432.2 54.3h0.9M431.3 77.6h0.9M433.7 57.3h0.9M416.8 88.5h0.9M405.0 87.4h0.9M427.7 60.2h0.9M379.7 68.0h0.9M439.9 53.8h0.9M410.4 86.1h0.9M423.7 79.6h0.9M409.0 65.1h0.9M425.7 54.2h0.9M364.8 72.7h0.9M443.1 62.4h0.9M371.6 87.2h0.9M425.2 68.9h0.9M444.2 81.4h0.9M384.2 76.8h0.9M405.5 72.5h0.9M424.1 47.5h0.9M367.6 74.3h0.9M447.7 68.1h0.9M420.9 51.3h0.9M365.1 76.9h0.9M418.3 91.5h0.9M374.4 82.3h0.9M424.8 73.3h0.9M441.9 61.1h0.9M440.1 70.9h0.9M385.9 77.3h0.9M399.7 71.5h0.9M373.2 76.2h0.9M429.8 58.4h0.9M448.8 65.1h0.9M419.9 80.5h0.9M397.3 58.4h0.9M413.9 67.5h0.9M384.4 69.5h0.9M473.2 100.4h0.9M443.3 80.9h0.9M432.9 77.4h0.9M431.4 63.9h0.9M433.1 75.9h0.9M407.3 84.6h0.9M406.1 83.6h0.9M438.2 89.8h0.9M380.7 83.9h0.9M397.0 60.8h0.9M477.1 94.9h0.9M412.2 71.3h0.9M423.0 78.5h0.9M414.1 95.4h0.9M393.5 51.6h0.9M380.0 73.2h0.9M413.1 85.5h0.9M370.3 81.3h0.9M414.7 63.2h0.9M420.5 42.7h0.9M372.9 89.9h0.9M455.8 64.9h0.9M401.2 56.1h0.9M448.1 82.1h0.9M426.8 51.7h0.9M412.5 62.6h0.9M360.7 74.4h0.9M393.1 52.9h0.9M432.8 64.7h0.9M434.4 77.3h0.9M394.4 53.4h0.9M408.8 53.8h0.9M427.7 55.7h0.9M401.9 47.3h0.9M447.4 76.5h0.9M444.8 68.8h0.9M418.6 96.9h0.9M437.2 76.8h0.9M398.3 59.5h0.9M462.8 80.6h0.9M379.7 76.2h0.9M420.0 70.6h0.9M413.5 86.3h0.9M411.8 58.7h0.9M449.1 77.2h0.9M386.8 77.2h0.9M437.5 48.0h0.9M397.7 70.9h0.9M361.9 75.9h0.9M382.2 71.4h0.9M371.5 86.4h0.9M469.5 99.6h0.9M413.0 73.0h0.9M449.8 82.1h0.9M416.4 56.0h0.9M426.3 49.5h0.9M397.3 77.3h0.9M432.7 67.0h0.9M393.4 85.3h0.9M437.3 54.5h0.9M425.9 76.2h0.9M402.5 48.9h0.9M434.9 59.3h0.9M458.1 67.8h0.9M421.7 77.0h0.9M387.1 67.7h0.9M380.4 61.2h0.9M429.8 80.7h0.9M449.6 71.4h0.9M365.1 78.8h0.9M409.7 80.9h0.9M369.8 67.1h0.9M438.8 94.9h0.9M413.5 63.8h0.9M436.1 68.7h0.9M411.8 54.8h0.9M442.4 78.0h0.9M391.2 53.1h0.9M467.5 94.4h0.9M384.6 73.7h0.9M407.1 61.9h0.9M400.2 50.5h0.9M404.6 55.0h0.9M389.2 53.4h0.9M468.3 100.0h0.9M399.1 54.7h0.9M387.3 56.0h0.9M386.2 67.9h0.9M387.1 100.0h0.9M384.8 71.8h0.9M389.5 52.6h0.9M376.4 74.7h0.9M411.4 47.5h0.9M392.7 84.6h0.9M382.3 83.2h0.9M376.6 92.6h0.9M457.5 86.9h0.9M439.5 75.8h0.9M406.1 85.4h0.9M459.0 94.0h0.9M419.8 81.5h0.9M439.9 74.8h0.9M392.6 87.8h0.9M389.2 75.5h0.9M387.5 77.0h0.9M472.1 85.5h0.9M413.3 91.4h0.9M380.0 64.3h0.9M440.4 82.2h0.9M468.0 98.6h0.9M379.8 65.2h0.9M454.3 77.7h0.9M429.3 84.5h0.9M411.3 69.0h0.9M468.9 81.2h0.9M448.7 82.4h0.9M385.5 84.5h0.9M427.9 62.5h0.9M428.8 95.3h0.9M375.7 64.6h0.9M403.8 55.8h0.9M388.7 85.7h0.9M442.9 60.5h0.9M478.1 94.8h0.9M416.0 60.8h0.9M439.2 59.8h0.9M442.5 64.5h0.9M466.8 100.1h0.9M422.4 41.2h0.9M431.9 96.2h0.9M395.6 87.1h0.9M463.7 92.0h0.9M418.3 70.9h0.9M438.5 65.2h0.9M412.0 63.3h0.9M413.8 85.9h0.9M381.4 93.3h0.9M417.9 52.9h0.9M469.7 83.1h0.9M381.5 87.1h0.9M478.9 90.3h0.9M465.6 98.0h0.9M406.8 61.7h0.9M431.1 63.9h0.9M416.9 61.0h0.9M462.0 83.6h0.9M384.3 72.9h0.9M471.3 80.1h0.9M396.6 92.2h0.9M411.6 74.0h0.9M418.6 79.8h0.9M417.2 70.3h0.9M472.8 87.0h0.9M402.2 78.6h0.9M394.9 63.9h0.9M440.2 82.0h0.9M383.9 74.5h0.9M408.9 47.4h0.9M448.1 87.8h0.9M407.2 47.6h0.9M390.0 57.3h0.9M426.1 84.7h0.9M395.9 53.1h0.9M432.3 83.3h0.9M434.4 84.2h0.9M375.7 78.7h0.9M410.5 83.8h0.9M399.0 55.1h0.9M414.8 91.6h0.9M412.0 75.5h0.9M408.0 84.4h0.9M427.6 69.2h0.9M386.4 58.9h0.9M411.4 49.5h0.9M419.3 76.0h0.9M449.4 64.6h0.9M397.7 59.1h0.9M380.1 92.5h0.9M379.9 67.2h0.9M450.9 85.5h0.9M400.6 73.7h0.9M454.6 65.5h0.9M376.1 86.8h0.9M439.0 76.3h0.9M399.2 94.4h0.9M380.9 98.0h0.9M402.9 68.9h0.9M436.7 67.3h0.9M404.5 94.4h0.9M433.5 46.6h0.9M452.7 68.8h0.9M476.8 96.1h0.9M430.4 56.3h0.9M382.5 79.1h0.9M457.6 75.0h0.9M451.0 62.1h0.9M400.5 48.2h0.9M439.9 63.9h0.9M444.5 77.7h0.9M371.5 64.6h0.9M423.2 60.0h0.9M437.2 88.1h0.9M429.7 82.2h0.9M404.2 95.2h0.9M462.4 73.0h0.9M421.3 72.7h0.9M437.2 73.7h0.9M416.7 57.7h0.9M405.7 67.1h0.9M423.3 45.4h0.9M422.8 49.0h0.9M371.1 72.3h0.9M421.7 50.3h0.9M466.1 74.9h0.9M381.8 59.9h0.9M392.9 63.6h0.9M426.0 83.7h0.9M477.7 88.0h0.9M468.1 100.7h0.9M384.3 57.7h0.9M374.7 94.3h0.9M367.6 79.8h0.9M370.8 81.7h0.9M425.6 67.5h0.9M451.8 80.2h0.9M468.0 82.9h0.9M474.6 94.9h0.9M454.3 61.6h0.9M406.8 80.2h0.9M472.1 91.2h0.9M411.3 92.3h0.9M419.7 84.2h0.9M445.7 84.4h0.9M444.4 76.1h0.9M445.0 61.1h0.9M436.4 91.1h0.9M422.2 48.7h0.9M408.3 47.2h0.9M391.8 87.9h0.9M380.2 66.9h0.9M475.9 86.5h0.9M437.1 63.2h0.9M408.0 87.4h0.9M446.3 65.5h0.9M459.1 88.5h0.9M376.3 79.9h0.9M418.9 68.6h0.9M470.0 88.2h0.9M428.1 87.8h0.9M434.8 67.7h0.9M403.0 51.5h0.9M428.2 85.9h0.9M432.6 79.9h0.9M390.2 56.5h0.9M433.2 63.3h0.9M396.7 94.2h0.9M433.9 45.4h0.9M374.9 68.5h0.9M425.5 80.1h0.9M426.1 45.5h0.9M424.9 42.0h0.9M393.0 65.7h0.9M481.1 90.1h0.9M435.8 54.4h0.9M409.4 81.6h0.9M410.3 76.2h0.9M471.6 80.0h0.9M472.4 100.3h0.9M410.2 82.2h0.9M451.3 80.5h0.9M464.2 88.8h0.9M383.8 98.6h0.9M388.9 83.3h0.9M376.4 61.4h0.9M375.2 67.8h0.9M472.1 91.6h0.9M379.9 98.4h0.9M400.1 73.3h0.9M385.5 66.9h0.9M392.0 77.9h0.9M422.4 56.2h0.9M379.3 93.9h0.9M409.7 63.2h0.9M443.6 82.8h0.9M393.0 87.3h0.9M399.9 89.8h0.9M406.7 51.7h0.9M409.0 62.2h0.9M425.3 58.5h0.9M399.4 85.2h0.9M393.8 82.9h0.9M400.4 88.0h0.9M393.2 57.1h0.9M449.1 58.1h0.9M411.4 82.7h0.9M403.1 60.0h0.9M411.4 76.4h0.9M417.3 55.9h0.9M386.4 61.9h0.9M461.8 91.9h0.9M387.5 57.8h0.9M435.2 70.8h0.9M475.1 84.1h0.9M468.2 82.9h0.9M432.1 68.7h0.9M413.6 94.0h0.9M441.0 70.4h0.9M445.5 84.9h0.9M446.0 63.5h0.9M390.6 65.5h0.9M367.5 68.6h0.9M474.6 92.2h0.9M434.1 72.9h0.9M378.7 98.2h0.9M374.8 77.6h0.9M414.5 95.4h0.9M439.4 87.2h0.9M396.5 60.7h0.9M426.4 96.8h0.9M434.1 52.5h0.9M410.1 56.2h0.9M466.3 93.4h0.9M407.7 52.1h0.9M396.9 55.6h0.9M467.8 100.4h0.9M383.7 61.3h0.9M416.5 79.3h0.9M436.0 87.6h0.9M436.4 54.7h0.9M399.7 78.9h0.9M442.7 80.3h0.9M459.4 76.5h0.9M459.9 64.3h0.9M407.1 83.3h0.9M427.7 43.3h0.9M394.2 56.7h0.9M376.5 90.1h0.9M464.2 88.4h0.9M429.8 53.3h0.9M406.8 78.4h0.9M440.9 63.6h0.9M430.8 64.2h0.9M468.3 87.5h0.9M419.5 67.8h0.9M378.2 90.6h0.9M438.0 86.7h0.9M404.0 98.9h0.9M369.5 81.2h0.9M396.5 81.6h0.9M411.2 45.7h0.9M375.5 79.8h0.9M375.9 71.8h0.9M391.2 85.6h0.9M430.9 70.2h0.9M441.8 95.3h0.9M430.6 53.4h0.9M383.8 66.0h0.9M402.1 53.0h0.9M424.4 50.7h0.9M435.8 69.1h0.9M413.8 71.7h0.9M436.8 47.1h0.9M415.9 48.8h0.9M410.1 94.3h0.9M422.7 72.6h0.9M410.2 65.4h0.9M447.0 77.6h0.9M401.5 61.7h0.9M475.1 97.9h0.9M411.4 80.2h0.9M408.4 79.5h0.9M440.3 66.7h0.9M479.7 89.8h0.9M421.5 72.4h0.9M395.1 65.7h0.9M401.9 92.7h0.9M412.8 88.8h0.9M432.2 50.3h0.9M372.9 65.6h0.9M367.4 83.0h0.9M402.3 61.3h0.9M438.4 70.2h0.9M368.2 77.7h0.9M414.0 74.8h0.9M395.9 72.7h0.9M383.6 90.7h0.9M415.7 70.0h0.9M397.8 67.0h0.9M400.8 69.7h0.9M419.4 47.9h0.9M412.6 45.5h0.9M371.6 66.2h0.9M410.3 82.4h0.9M404.1 60.6h0.9M415.4 80.2h0.9M404.6 65.0h0.9M447.4 61.9h0.9M418.5 45.1h0.9M382.8 77.8h0.9M384.5 99.0h0.9M465.8 74.4h0.9M455.1 66.4h0.9M379.0 82.5h0.9M392.0 87.1h0.9M420.5 52.4h0.9M434.0 62.2h0.9M413.4 80.9h0.9M447.6 72.3h0.9M476.8 91.8h0.9M380.3 66.7h0.9M388.7 98.4h0.9M434.7 54.4h0.9M410.1 82.0h0.9M398.4 91.3h0.9M445.5 64.4h0.9M471.6 96.7h0.9M460.6 81.2h0.9M402.2 56.7h0.9M468.6 96.4h0.9M389.9 77.4h0.9M445.2 83.4h0.9M480.8 88.0h0.9M383.6 80.7h0.9M430.4 59.2h0.9M411.8 82.6h0.9M369.6 84.7h0.9M384.3 72.2h0.9M430.9 84.5h0.9M417.1 93.3h0.9M403.6 71.1h0.9M395.5 54.6h0.9M404.0 68.8h0.9M417.8 48.7h0.9M373.2 68.6h0.9M427.4 73.5h0.9M399.9 72.8h0.9M390.9 69.8h0.9M418.8 45.6h0.9M382.0 96.1h0.9M378.1 84.2h0.9M446.1 76.3h0.9M412.5 97.1h0.9M442.4 81.8h0.9M417.4 58.3h0.9M421.6 95.5h0.9M397.8 86.8h0.9M412.1 45.4h0.9M401.7 63.6h0.9M389.8 93.0h0.9M386.6 98.2h0.9M401.9 47.5h0.9M389.4 73.3h0.9M441.8 75.3h0.9M447.1 79.3h0.9M434.4 94.7h0.9M385.4 62.6h0.9M404.8 66.2h0.9M368.5 83.7h0.9M425.9 86.8h0.9M438.7 63.1h0.9M427.5 57.0h0.9M440.8 69.1h0.9M404.0 69.2h0.9M440.2 64.9h0.9M391.3 98.3h0.9M379.7 81.2h0.9M426.6 69.1h0.9M413.4 78.9h0.9M426.0 57.9h0.9M367.4 72.0h0.9M426.0 45.1h0.9M377.9 83.8h0.9M371.0 81.6h0.9M440.8 86.0h0.9M400.1 82.2h0.9M391.4 88.0h0.9M391.5 99.0h0.9M368.3 80.5h0.9M383.7 93.7h0.9M370.1 86.6h0.9M458.7 71.6h0.9M424.8 57.4h0.9M417.1 86.8h0.9M436.5 85.6h0.9M423.2 64.2h0.9M429.8 43.1h0.9M418.3 50.5h0.9M469.1 87.8h0.9M456.9 60.6h0.9M475.8 91.1h0.9M430.7 53.8h0.9M428.7 58.6h0.9M466.9 99.1h0.9M390.6 91.1h0.9M412.4 53.6h0.9M392.1 59.3h0.9M403.5 65.1h0.9M383.7 79.1h0.9M371.9 88.2h0.9M388.3 87.8h0.9M398.7 76.8h0.9M384.7 59.8h0.9M437.9 90.3h0.9M407.1 52.3h0.9M402.8 84.7h0.9M369.3 76.4h0.9M432.9 65.5h0.9M393.6 55.8h0.9M449.2 77.7h0.9M472.9 92.8h0.9M451.8 72.0h0.9M383.4 83.5h0.9M393.7 77.2h0.9M371.9 81.6h0.9M470.0 85.1h0.9M425.0 55.4h0.9M430.2 87.4h0.9M449.2 71.5h0.9M430.6 50.2h0.9M382.6 84.6h0.9M394.4 78.6h0.9M390.0 62.2h0.9M422.4 51.4h0.9M442.6 75.7h0.9M425.1 60.5h0.9M404.4 82.5h0.9M399.4 64.9h0.9M388.3 60.5h0.9M431.7 65.4h0.9M400.1 82.0h0.9M399.7 54.6h0.9M419.6 43.6h0.9M448.9 64.6h0.9M378.3 87.1h0.9M377.7 69.8h0.9M407.4 77.7h0.9M465.3 74.4h0.9M388.2 72.1h0.9M466.0 78.0h0.9M404.1 52.5h0.9M392.2 79.9h0.9M428.0 58.6h0.9M434.8 66.7h0.9M396.4 59.5h0.9M427.5 60.4h0.9M384.3 59.3h0.9M375.7 93.3h0.9M376.4 65.4h0.9M428.2 47.1h0.9M364.9 71.1h0.9M467.9 92.8h0.9M376.8 65.8h0.9M417.4 72.2h0.9M472.7 100.6h0.9M416.1 53.6h0.9M434.5 69.4h0.9M427.4 87.2h0.9M436.4 69.7h0.9M384.0 100.3h0.9M462.1 79.9h0.9M391.0 83.9h0.9M431.7 57.2h0.9M421.1 68.6h0.9M420.9 97.1h0.9M395.4 62.3h0.9M444.4 68.7h0.9M399.1 81.8h0.9M441.5 90.4h0.9M361.8 73.2h0.9M471.5 91.9h0.9M474.8 97.2h0.9M430.0 74.2h0.9M414.7 74.4h0.9M460.6 75.6h0.9M414.7 67.7h0.9M445.8 64.2h0.9M385.6 69.6h0.9M376.3 65.6h0.9M392.4 62.4h0.9M431.8 68.8h0.9M372.9 63.1h0.9M411.8 75.6h0.9M405.7 46.0h0.9M394.8 88.6h0.9M467.5 79.6h0.9M439.2 65.3h0.9M450.0 61.2h0.9M410.9 82.6h0.9M389.9 59.4h0.9M415.9 56.3h0.9M422.6 68.2h0.9M395.8 71.8h0.9M379.3 94.2h0.9M458.1 63.2h0.9M374.7 89.1h0.9M395.9 56.5h0.9M476.9 97.2h0.9M381.0 62.8h0.9M424.6 81.2h0.9M425.8 76.2h0.9M421.2 71.4h0.9M426.8 70.4h0.9M426.9 72.4h0.9M413.8 76.4h0.9M409.4 57.9h0.9M425.8 55.3h0.9M446.3 83.9h0.9M440.5 91.8h0.9M392.6 93.7h0.9M392.5 97.7h0.9M443.8 82.0h0.9M444.6 69.9h0.9M435.0 49.5h0.9M406.7 53.5h0.9M416.7 53.5h0.9M391.4 83.2h0.9M399.0 59.8h0.9M430.1 71.0h0.9M381.7 64.0h0.9M418.7 77.5h0.9M367.2 83.9h0.9M432.2 57.9h0.9M394.1 80.3h0.9M396.9 63.3h0.9M463.9 69.6h0.9M448.5 73.4h0.9M459.4 73.9h0.9M400.1 78.6h0.9M429.7 51.2h0.9M384.3 85.8h0.9M384.8 86.4h0.9M388.9 72.4h0.9M411.5 50.9h0.9M384.2 67.3h0.9M428.2 87.0h0.9M381.1 99.4h0.9M418.9 82.2h0.9M424.5 64.8h0.9M413.6 87.2h0.9M401.4 59.1h0.9M410.4 73.3h0.9M383.5 78.7h0.9M419.2 77.1h0.9M427.1 72.6h0.9M404.2 97.5h0.9M418.1 83.5h0.9M432.1 89.4h0.9M376.9 66.8h0.9M426.5 53.2h0.9M449.9 66.9h0.9M387.1 90.0h0.9M396.2 62.8h0.9M407.3 81.8h0.9M476.4 83.4h0.9M384.8 99.5h0.9M394.8 83.4h0.9M465.3 86.4h0.9M407.5 70.8h0.9M436.7 58.0h0.9M470.4 101.5h0.9M372.7 89.7h0.9M420.3 88.0h0.9M471.6 91.5h0.9M420.9 82.3h0.9M389.3 66.1h0.9M413.7 83.9h0.9M403.9 97.6h0.9M409.9 45.3h0.9M418.0 86.1h0.9M476.1 93.1h0.9M419.8 83.7h0.9M385.4 63.3h0.9M417.9 61.4h0.9M413.4 60.2h0.9M375.4 84.7h0.9M385.4 74.9h0.9M394.4 61.4h0.9M433.7 50.2h0.9M468.8 80.0h0.9M393.5 84.1h0.9M425.0 62.3h0.9M421.2 76.2h0.9M450.2 76.4h0.9M379.8 77.7h0.9M374.6 72.8h0.9M407.8 81.7h0.9M443.6 57.6h0.9M390.0 83.5h0.9M397.5 82.5h0.9M409.6 45.0h0.9M469.7 95.2h0.9" stroke="#62B0E2" stroke-width="0.9" stroke-opacity="0.62" fill="none"/>
<path d="M389.9 107.1h0.9M416.1 120.0h0.9M399.6 121.7h0.9M434.5 132.3h0.9M410.7 128.4h0.9M402.3 127.0h0.9M416.2 113.9h0.9M425.5 116.6h0.9M409.3 129.3h0.9M409.3 140.8h0.9M411.0 117.7h0.9M394.7 118.1h0.9M424.5 99.6h0.9M414.9 108.5h0.9M415.9 118.9h0.9M431.6 106.3h0.9M415.6 139.3h0.9M417.5 129.0h0.9M406.7 136.3h0.9M414.8 144.0h0.9M409.1 134.3h0.9M428.7 121.2h0.9M413.7 137.9h0.9M464.5 111.6h0.9M457.5 116.8h0.9M443.8 122.9h0.9M417.1 127.1h0.9M410.7 103.0h0.9M397.0 120.8h0.9M461.1 111.5h0.9M421.4 127.3h0.9M441.7 139.2h0.9M416.4 114.4h0.9M400.3 125.9h0.9M432.3 129.4h0.9M410.8 132.5h0.9M402.5 112.6h0.9M446.7 135.4h0.9M433.2 140.2h0.9M418.2 138.9h0.9M416.5 124.1h0.9M430.9 125.6h0.9M467.6 120.5h0.9M454.6 120.9h0.9M391.6 106.9h0.9M409.0 126.9h0.9M411.2 117.4h0.9M445.8 130.2h0.9M455.1 126.6h0.9M452.2 131.2h0.9M387.2 110.3h0.9M435.8 117.2h0.9M408.1 138.5h0.9M410.7 131.8h0.9M447.7 118.6h0.9M435.1 137.3h0.9M423.6 103.5h0.9M421.9 113.6h0.9M427.0 129.9h0.9M454.4 117.2h0.9M424.0 99.9h0.9M393.1 109.9h0.9M440.5 116.2h0.9M425.9 135.9h0.9M434.4 99.5h0.9M420.0 114.3h0.9M449.3 123.7h0.9M383.7 107.7h0.9M403.3 126.1h0.9M414.4 130.0h0.9M419.4 113.9h0.9M415.0 133.0h0.9M428.1 100.5h0.9M439.9 102.4h0.9M448.2 95.5h0.9M461.8 117.2h0.9M441.1 117.8h0.9M437.1 98.0h0.9M453.0 130.7h0.9M397.1 113.7h0.9M408.9 126.5h0.9M421.5 115.5h0.9M416.3 110.7h0.9M400.3 124.4h0.9M456.6 119.2h0.9M437.3 149.2h0.9M418.7 114.0h0.9M411.9 138.1h0.9M461.9 122.6h0.9M405.4 110.1h0.9M461.1 110.9h0.9M399.7 122.6h0.9M429.0 116.4h0.9M443.6 138.1h0.9M415.0 119.5h0.9M387.7 111.5h0.9M415.0 108.7h0.9M456.5 102.8h0.9M445.0 123.4h0.9M410.1 128.3h0.9M402.7 125.5h0.9M417.0 138.3h0.9M449.9 98.9h0.9M421.4 101.4h0.9M427.5 118.6h0.9M451.4 129.3h0.9M451.5 100.1h0.9M439.4 130.0h0.9M449.1 95.8h0.9M406.2 128.2h0.9" stroke="#62B0E2" stroke-width="0.9" stroke-opacity="0.6" fill="none"/>
<path d="M333.0 84.5h0.9M336.0 86.5h0.9M339.5 88.2h0.9M334.5 89.2h0.9M337.5 83.5h0.9" stroke="#62B0E2" stroke-width="0.9" stroke-opacity="0.8" fill="none"/>
<path d="M461.8 121.9h0.9M422.4 108.7h0.9M399.5 123.6h0.9M421.3 110.9h0.9M407.8 115.9h0.9M444.0 129.9h0.9M422.9 124.9h0.9M412.4 113.4h0.9M456.1 121.1h0.9M417.6 102.0h0.9M436.7 98.4h0.9M417.9 127.4h0.9M406.2 120.1h0.9M418.7 120.2h0.9M448.0 97.3h0.9M417.0 109.2h0.9M398.9 124.4h0.9M436.6 134.8h0.9M395.6 102.5h0.9M447.5 98.0h0.9M452.8 97.5h0.9M393.4 108.7h0.9M411.3 124.5h0.9M411.5 134.0h0.9M404.2 113.9h0.9M425.4 110.0h0.9M404.4 110.6h0.9M444.8 97.0h0.9M391.2 111.0h0.9M433.7 101.3h0.9M405.2 116.8h0.9M400.0 119.0h0.9M410.0 138.0h0.9M429.7 112.8h0.9M458.8 117.1h0.9M422.7 113.6h0.9M461.4 119.3h0.9M418.6 107.9h0.9M425.0 105.6h0.9M434.9 101.3h0.9M436.8 106.7h0.9M413.4 118.1h0.9M458.2 119.6h0.9M459.7 112.0h0.9M465.8 116.3h0.9M459.1 122.5h0.9M414.4 105.9h0.9M420.2 118.7h0.9M396.8 114.2h0.9M453.0 128.3h0.9M392.4 109.0h0.9M415.6 105.9h0.9M425.9 113.4h0.9M399.7 107.2h0.9M464.6 112.0h0.9M457.9 124.2h0.9M423.4 116.0h0.9M456.1 114.0h0.9M452.4 129.2h0.9M409.1 106.7h0.9M456.4 127.4h0.9M395.4 102.5h0.9M392.6 109.3h0.9M388.0 107.8h0.9M427.0 118.5h0.9M466.7 115.7h0.9M464.4 117.2h0.9M439.7 117.1h0.9M411.2 116.1h0.9M412.3 145.3h0.9M465.0 117.7h0.9M410.5 106.4h0.9M417.0 129.3h0.9M406.1 101.2h0.9M421.2 118.1h0.9M457.8 114.4h0.9M420.2 103.4h0.9M415.6 131.9h0.9M414.4 126.1h0.9M410.0 109.0h0.9M451.7 129.6h0.9M411.8 114.4h0.9M389.8 114.5h0.9M418.4 113.5h0.9M389.0 104.4h0.9M420.1 114.2h0.9M400.5 113.8h0.9M386.7 105.1h0.9M410.1 143.1h0.9M406.1 117.1h0.9M449.9 129.3h0.9M435.2 120.1h0.9M466.4 116.9h0.9M405.7 123.1h0.9M395.5 109.8h0.9M401.4 108.7h0.9M416.9 117.9h0.9M438.5 107.2h0.9M398.8 104.7h0.9M417.3 107.6h0.9M454.9 113.2h0.9M420.3 128.6h0.9M438.4 133.0h0.9M448.9 125.5h0.9M421.4 129.6h0.9M413.7 117.2h0.9M412.6 132.4h0.9M435.6 147.6h0.9M402.4 104.3h0.9M415.1 140.6h0.9M416.8 134.3h0.9M448.0 134.5h0.9M414.3 134.1h0.9M399.2 122.2h0.9M423.8 125.3h0.9M423.4 99.8h0.9M421.3 113.7h0.9M453.7 118.7h0.9M408.8 107.4h0.9M437.6 151.1h0.9M462.4 111.1h0.9M446.3 134.3h0.9M416.7 100.6h0.9M460.3 124.1h0.9M408.1 117.8h0.9M438.4 104.8h0.9M401.0 108.1h0.9M463.5 122.2h0.9M417.8 132.0h0.9M436.7 148.9h0.9M401.1 119.4h0.9M413.7 134.6h0.9M417.9 117.6h0.9M464.6 110.6h0.9M407.9 117.3h0.9M423.6 133.7h0.9M419.4 121.8h0.9M397.5 106.1h0.9M418.6 124.6h0.9M438.8 121.4h0.9M403.5 112.5h0.9M421.4 118.9h0.9M386.4 107.5h0.9M389.6 111.2h0.9M398.0 121.4h0.9M440.5 137.1h0.9M411.6 112.2h0.9M409.1 119.5h0.9M451.7 118.1h0.9M398.6 106.3h0.9M420.7 106.6h0.9M448.2 117.4h0.9M414.2 140.3h0.9M442.4 130.2h0.9M400.0 108.2h0.9M392.9 114.4h0.9M422.5 103.8h0.9M407.4 127.1h0.9M421.1 131.7h0.9M417.8 111.6h0.9M415.7 104.2h0.9M464.4 109.8h0.9M447.0 124.3h0.9M419.9 102.1h0.9M409.8 143.3h0.9M409.6 113.9h0.9M447.5 129.8h0.9M384.6 109.1h0.9M468.1 116.2h0.9M411.7 113.6h0.9M422.1 124.7h0.9M446.9 117.7h0.9M423.4 114.0h0.9M418.0 128.0h0.9M418.3 139.5h0.9M415.9 129.9h0.9M422.2 106.7h0.9M413.1 115.1h0.9M424.6 114.9h0.9M411.5 126.3h0.9M433.6 104.6h0.9M420.0 123.7h0.9M426.5 118.9h0.9M413.1 137.9h0.9M390.1 106.6h0.9M419.2 106.3h0.9M415.1 129.0h0.9M437.0 124.4h0.9M418.4 123.0h0.9M410.6 105.5h0.9M436.0 137.3h0.9M450.8 130.6h0.9M413.0 103.7h0.9M429.7 106.8h0.9M445.7 130.0h0.9M408.7 122.6h0.9M434.2 139.2h0.9M437.3 106.2h0.9M417.4 129.9h0.9M456.8 116.1h0.9M456.0 124.9h0.9M408.9 134.6h0.9M417.6 127.7h0.9M416.4 140.5h0.9M399.6 114.8h0.9M407.0 108.9h0.9M445.1 131.3h0.9M393.3 113.5h0.9M440.7 121.5h0.9M432.7 118.8h0.9M457.7 111.4h0.9M400.5 111.1h0.9M387.3 107.7h0.9M394.2 108.0h0.9M423.5 122.1h0.9M415.9 130.5h0.9M457.8 111.5h0.9M396.3 109.3h0.9M398.0 122.7h0.9M437.4 104.6h0.9M423.0 130.1h0.9M448.5 96.3h0.9M442.8 136.7h0.9M387.2 110.2h0.9M444.6 99.9h0.9M411.8 139.8h0.9M404.0 118.0h0.9M407.5 121.9h0.9M441.1 131.5h0.9M460.3 119.8h0.9M435.5 136.4h0.9M400.7 101.6h0.9M410.1 122.8h0.9M432.4 98.7h0.9M438.3 128.7h0.9M440.1 137.3h0.9M409.8 136.8h0.9M441.1 115.7h0.9M421.8 112.6h0.9M392.1 110.3h0.9M465.1 111.3h0.9M441.2 128.5h0.9M408.7 113.0h0.9M411.4 134.7h0.9M465.2 110.9h0.9M430.1 127.7h0.9M421.4 133.2h0.9M466.3 118.3h0.9M420.5 125.4h0.9M462.8 108.3h0.9M401.5 111.2h0.9M413.5 106.8h0.9M415.3 116.5h0.9M408.5 119.5h0.9M422.2 121.6h0.9M397.6 111.5h0.9M443.7 126.5h0.9M408.5 137.4h0.9M464.6 125.5h0.9M430.8 103.9h0.9M439.4 99.1h0.9M435.8 145.0h0.9M402.9 118.2h0.9M392.7 109.1h0.9M430.4 133.9h0.9M431.7 108.8h0.9M392.2 106.3h0.9M419.1 106.9h0.9M466.5 119.0h0.9M418.7 108.4h0.9M391.4 111.2h0.9M408.4 137.9h0.9M420.8 109.7h0.9M435.1 139.9h0.9M407.2 109.6h0.9M388.8 107.3h0.9M414.0 123.2h0.9M415.8 122.9h0.9M418.1 123.4h0.9M408.7 116.9h0.9M410.9 117.5h0.9M393.9 108.6h0.9M466.4 122.4h0.9M421.6 128.8h0.9M438.7 143.8h0.9M410.8 122.0h0.9M417.4 105.2h0.9M423.5 125.9h0.9M426.8 108.3h0.9M439.7 140.7h0.9M428.0 130.5h0.9M427.0 122.9h0.9M448.4 122.9h0.9M431.4 118.6h0.9M399.8 120.8h0.9M423.2 111.2h0.9M387.7 109.9h0.9M434.6 100.7h0.9M411.6 131.4h0.9M457.9 120.8h0.9M415.6 138.6h0.9M416.3 118.9h0.9M398.5 113.7h0.9M421.3 108.9h0.9M412.1 130.9h0.9M411.4 108.4h0.9M409.1 129.3h0.9M437.2 139.2h0.9M421.0 137.6h0.9M392.7 102.0h0.9M415.0 126.9h0.9M419.1 124.8h0.9M403.6 109.8h0.9M404.0 101.1h0.9M405.9 116.2h0.9M401.0 109.2h0.9M413.7 125.4h0.9M436.5 123.8h0.9M461.3 118.6h0.9M462.5 121.4h0.9M439.6 123.1h0.9M391.3 115.1h0.9M439.7 137.4h0.9M449.1 99.0h0.9M468.6 113.6h0.9M450.3 128.2h0.9M412.6 134.7h0.9M388.8 107.6h0.9M417.0 131.0h0.9M402.1 126.1h0.9M449.5 95.9h0.9M419.9 120.5h0.9M400.5 105.5h0.9M427.2 135.7h0.9M415.0 144.1h0.9M392.6 113.9h0.9M412.7 141.9h0.9M455.7 115.2h0.9M416.3 125.5h0.9M451.0 100.5h0.9M423.1 107.2h0.9M421.3 117.8h0.9M457.8 114.8h0.9M409.0 105.8h0.9M429.8 116.9h0.9M415.2 134.6h0.9M468.1 115.3h0.9M415.5 104.7h0.9M436.2 102.6h0.9M427.9 137.5h0.9M452.6 123.5h0.9M411.4 145.5h0.9M406.2 127.8h0.9M415.3 104.5h0.9M410.0 119.3h0.9M447.1 115.2h0.9M412.1 146.4h0.9M446.2 120.3h0.9M467.4 112.7h0.9M426.1 104.4h0.9M418.6 134.6h0.9M387.8 108.5h0.9M405.7 111.9h0.9M401.5 117.0h0.9M447.5 95.6h0.9M424.6 116.3h0.9M437.8 144.3h0.9M387.6 112.8h0.9M460.6 111.0h0.9M386.7 108.6h0.9M432.0 109.0h0.9M402.6 118.4h0.9M433.8 117.8h0.9M416.1 108.1h0.9M465.8 119.9h0.9M449.8 97.1h0.9M435.8 126.1h0.9M399.8 124.6h0.9M420.5 129.4h0.9M439.7 136.7h0.9M391.6 115.9h0.9M404.0 105.4h0.9M436.1 117.0h0.9M433.6 139.3h0.9M429.5 109.7h0.9M392.5 104.5h0.9M415.0 116.7h0.9M439.7 124.4h0.9M416.2 142.5h0.9M448.4 127.2h0.9M407.6 132.1h0.9M429.7 128.6h0.9M412.1 130.3h0.9M405.8 135.8h0.9M415.3 126.3h0.9M394.3 107.9h0.9M438.4 142.9h0.9M430.1 117.0h0.9M438.6 136.7h0.9M410.5 128.9h0.9M388.5 110.0h0.9M405.0 106.6h0.9M384.6 110.4h0.9M457.5 113.0h0.9M393.7 117.9h0.9M441.7 133.1h0.9M442.9 121.1h0.9M421.8 117.4h0.9M452.8 126.2h0.9M460.0 112.7h0.9M403.6 126.3h0.9M454.9 128.8h0.9M410.7 126.2h0.9M444.4 96.8h0.9M400.3 108.5h0.9M441.5 122.6h0.9M402.6 119.9h0.9M415.1 114.8h0.9M459.1 119.8h0.9M449.3 115.2h0.9M406.4 105.9h0.9M398.1 104.8h0.9M397.0 108.4h0.9M407.0 129.4h0.9M449.2 122.6h0.9M434.3 131.8h0.9M400.2 107.9h0.9M415.8 114.0h0.9M431.2 117.3h0.9M432.6 140.5h0.9M385.0 107.4h0.9M430.6 109.3h0.9M406.5 126.2h0.9M418.8 136.8h0.9M420.3 109.3h0.9M408.6 112.9h0.9M430.5 130.7h0.9M417.0 105.5h0.9M420.9 127.0h0.9M457.3 126.4h0.9M406.7 122.4h0.9M461.3 114.8h0.9M392.0 111.7h0.9M458.6 129.4h0.9M423.8 119.5h0.9M428.3 107.4h0.9M439.8 125.5h0.9M386.6 108.7h0.9M424.2 100.7h0.9M429.0 128.8h0.9M405.6 105.3h0.9M442.5 137.4h0.9M409.6 119.0h0.9M466.4 122.4h0.9M457.1 99.5h0.9M408.0 135.0h0.9M390.5 115.6h0.9M447.5 135.4h0.9M432.6 107.9h0.9M408.7 100.8h0.9M416.0 103.7h0.9M420.1 138.3h0.9M437.4 140.9h0.9M453.7 99.4h0.9M436.7 132.3h0.9M411.5 105.6h0.9M415.1 136.1h0.9M412.8 106.6h0.9M416.4 141.6h0.9M466.2 120.1h0.9M396.1 101.9h0.9M393.5 111.0h0.9M438.1 131.9h0.9M393.6 109.8h0.9M421.0 120.3h0.9M405.3 111.7h0.9M458.4 125.2h0.9M435.3 141.1h0.9M416.3 130.2h0.9M448.2 113.9h0.9M432.2 127.9h0.9M421.1 117.5h0.9M414.8 128.9h0.9M413.8 142.0h0.9M415.2 128.8h0.9M433.8 139.6h0.9M393.3 107.1h0.9M385.1 108.6h0.9M413.6 137.6h0.9M449.8 131.2h0.9M410.3 124.7h0.9M466.2 120.0h0.9M397.6 103.4h0.9M424.4 100.8h0.9M429.4 110.3h0.9M435.3 125.0h0.9M441.7 139.0h0.9M462.2 118.8h0.9M446.5 116.1h0.9M407.8 123.4h0.9M413.9 107.2h0.9M412.9 110.5h0.9M429.8 99.2h0.9M438.2 137.7h0.9M440.8 116.6h0.9M441.0 115.8h0.9M425.5 103.9h0.9M437.7 136.2h0.9M415.6 109.6h0.9M419.3 124.8h0.9M422.9 111.2h0.9M410.8 121.1h0.9M422.9 131.4h0.9M411.7 106.5h0.9M434.5 126.5h0.9M417.0 115.1h0.9M445.8 123.7h0.9M421.6 119.2h0.9M421.1 108.3h0.9M408.2 127.7h0.9M410.8 118.0h0.9M450.9 133.6h0.9M425.3 100.5h0.9M449.3 120.7h0.9M422.1 118.7h0.9M417.3 142.8h0.9M415.0 107.9h0.9M408.9 138.8h0.9M404.2 110.8h0.9M390.8 107.7h0.9M452.9 111.0h0.9M394.7 108.2h0.9M425.6 117.4h0.9M439.9 141.1h0.9M428.8 128.3h0.9M416.0 122.5h0.9M417.4 142.6h0.9M447.8 123.0h0.9M419.5 105.6h0.9M417.2 127.6h0.9M398.2 113.2h0.9M450.0 113.5h0.9M419.3 140.3h0.9M445.2 128.5h0.9M412.0 119.8h0.9M422.2 115.8h0.9M434.1 98.6h0.9M435.8 102.1h0.9M435.2 105.7h0.9M458.2 115.4h0.9M416.0 110.0h0.9M458.6 125.6h0.9M405.6 133.7h0.9M406.5 114.2h0.9M389.7 112.4h0.9M407.2 121.8h0.9M424.0 128.2h0.9M431.6 136.3h0.9M428.2 102.3h0.9M429.0 118.4h0.9M399.1 122.5h0.9M459.1 126.0h0.9M408.5 102.2h0.9M450.2 126.0h0.9M451.4 107.0h0.9M415.0 123.9h0.9M458.2 130.6h0.9M458.1 124.7h0.9M449.7 98.3h0.9M431.1 99.9h0.9M404.9 128.2h0.9M414.1 113.0h0.9M420.3 102.1h0.9M405.8 125.4h0.9M399.2 122.0h0.9M414.4 141.1h0.9M399.5 109.4h0.9M393.9 107.8h0.9M423.3 126.7h0.9M464.1 117.5h0.9M439.1 138.9h0.9M389.0 108.8h0.9M428.7 101.7h0.9M400.9 125.2h0.9M461.0 126.9h0.9M427.2 129.7h0.9M450.6 126.8h0.9M396.0 104.5h0.9M444.4 121.0h0.9M424.4 103.4h0.9M417.9 123.9h0.9M431.3 106.8h0.9M458.4 110.6h0.9M450.3 123.8h0.9M455.0 127.1h0.9M438.8 123.9h0.9M434.5 144.8h0.9M459.4 114.4h0.9M435.8 144.1h0.9M461.4 128.1h0.9M415.5 109.9h0.9M438.4 118.1h0.9M402.2 112.4h0.9M429.9 99.5h0.9M411.7 115.9h0.9M419.1 103.5h0.9M405.1 105.2h0.9M431.5 125.7h0.9M416.9 138.8h0.9M416.1 128.3h0.9M390.4 109.0h0.9M466.8 122.4h0.9M413.7 136.4h0.9M454.0 126.2h0.9M410.3 128.0h0.9M426.0 108.5h0.9M416.1 138.6h0.9M392.3 116.7h0.9M411.0 119.1h0.9M409.5 141.4h0.9M421.9 118.6h0.9M391.5 108.7h0.9M436.3 138.0h0.9M419.6 114.3h0.9M456.3 123.0h0.9M411.0 136.8h0.9M404.4 118.8h0.9M413.4 128.9h0.9M464.3 114.8h0.9M413.3 122.1h0.9M453.0 102.5h0.9M422.9 127.4h0.9M414.7 116.0h0.9M431.7 121.3h0.9M447.6 94.9h0.9M413.3 115.7h0.9M436.4 131.8h0.9M407.2 137.5h0.9M458.0 115.8h0.9M401.6 102.1h0.9M440.7 105.5h0.9M423.4 102.1h0.9M433.4 140.2h0.9M449.2 98.8h0.9M414.1 124.3h0.9M445.1 115.5h0.9M416.5 110.6h0.9M440.3 133.7h0.9M448.5 119.2h0.9M420.1 126.5h0.9M409.0 135.8h0.9M441.3 121.9h0.9M441.0 132.6h0.9M411.1 118.6h0.9M441.7 120.2h0.9M408.6 128.5h0.9M423.8 128.2h0.9M412.5 123.7h0.9M418.1 115.2h0.9M417.4 107.8h0.9M405.7 121.4h0.9M404.8 113.3h0.9M449.9 129.2h0.9M407.5 123.6h0.9M413.8 122.8h0.9M443.2 133.3h0.9M412.7 139.5h0.9M409.0 115.4h0.9M404.2 105.9h0.9M406.3 130.9h0.9M415.2 134.6h0.9M411.4 122.4h0.9M413.8 110.1h0.9M393.1 109.1h0.9M438.6 148.4h0.9M411.1 127.1h0.9M417.2 138.4h0.9M448.5 121.9h0.9M437.9 99.2h0.9M421.6 110.5h0.9M412.4 134.1h0.9M409.0 113.9h0.9M430.6 101.1h0.9M437.0 139.6h0.9M388.6 109.0h0.9M448.5 127.0h0.9M413.7 118.3h0.9M466.7 113.8h0.9M420.1 114.9h0.9M414.7 107.3h0.9M430.7 132.2h0.9M415.4 116.1h0.9M414.8 140.9h0.9M422.5 120.9h0.9M399.5 123.8h0.9M409.5 143.0h0.9M412.1 130.6h0.9M434.5 143.9h0.9M394.8 118.5h0.9M416.7 136.3h0.9M395.4 105.0h0.9M439.1 100.3h0.9M430.4 121.3h0.9M428.9 105.7h0.9M415.1 121.4h0.9M391.6 105.6h0.9M453.3 100.1h0.9M415.5 114.3h0.9M420.7 139.0h0.9M450.7 131.8h0.9M432.1 127.7h0.9M415.0 110.0h0.9M438.3 138.7h0.9M416.3 115.9h0.9M416.4 111.9h0.9M440.9 103.9h0.9M457.8 128.4h0.9M396.4 110.7h0.9M448.7 132.1h0.9M435.3 139.0h0.9M438.2 121.8h0.9M438.6 140.8h0.9M427.2 112.9h0.9M449.7 132.9h0.9M410.7 128.6h0.9M417.1 107.1h0.9M409.4 120.1h0.9M413.7 129.9h0.9M419.4 125.4h0.9M428.9 120.1h0.9M425.0 113.7h0.9M444.5 131.0h0.9M419.5 107.2h0.9M458.4 115.2h0.9M430.1 99.5h0.9M416.7 101.6h0.9M437.2 125.6h0.9M400.7 119.3h0.9M411.6 116.0h0.9M457.0 128.1h0.9M409.7 110.1h0.9M412.2 109.1h0.9M418.7 139.7h0.9M400.4 117.5h0.9M404.4 124.3h0.9M442.0 122.2h0.9M452.6 97.3h0.9M420.1 128.0h0.9M416.4 128.7h0.9M427.8 132.9h0.9M449.2 127.1h0.9M423.5 113.7h0.9M425.6 100.3h0.9M424.4 112.9h0.9M394.4 116.0h0.9M458.7 125.5h0.9M430.0 105.4h0.9M411.8 117.1h0.9M416.0 109.6h0.9M418.9 121.9h0.9M430.4 125.2h0.9M414.9 139.4h0.9M390.2 106.5h0.9M430.5 129.7h0.9M459.7 121.7h0.9M435.7 145.4h0.9M398.1 104.2h0.9M411.8 123.6h0.9M404.7 105.5h0.9M435.4 140.0h0.9M452.4 129.8h0.9M403.7 129.4h0.9M405.0 111.9h0.9M413.3 106.0h0.9M454.6 118.8h0.9M428.5 126.3h0.9M422.3 119.3h0.9M423.3 109.0h0.9M437.9 98.3h0.9M461.6 117.9h0.9M430.7 119.7h0.9M434.5 139.1h0.9M412.8 117.3h0.9M406.4 126.0h0.9M429.8 118.1h0.9M427.5 103.5h0.9M393.2 118.0h0.9M426.9 99.6h0.9M406.4 136.7h0.9M448.1 98.0h0.9M426.4 125.4h0.9M414.1 126.7h0.9M441.5 103.3h0.9M413.2 105.1h0.9M405.9 123.7h0.9M459.6 115.4h0.9M421.0 126.1h0.9M428.2 122.2h0.9M404.8 130.9h0.9M429.7 124.8h0.9M445.0 117.9h0.9M407.0 124.2h0.9M466.3 118.6h0.9M450.0 126.3h0.9M401.6 115.3h0.9M419.9 125.7h0.9M432.7 121.5h0.9M429.4 138.6h0.9M432.2 121.0h0.9M440.0 103.9h0.9M459.4 127.2h0.9M457.7 125.2h0.9M460.5 122.1h0.9M405.4 118.8h0.9M432.1 137.6h0.9M440.3 143.3h0.9M389.4 108.5h0.9M454.2 112.7h0.9M413.0 140.9h0.9M390.9 108.5h0.9M440.3 139.7h0.9M415.1 134.0h0.9M425.9 111.2h0.9M454.0 119.5h0.9M395.2 106.0h0.9M436.0 143.9h0.9M417.2 123.3h0.9M414.5 122.0h0.9M428.8 125.7h0.9M415.3 113.6h0.9M425.8 111.9h0.9M397.2 121.1h0.9M451.5 128.8h0.9M447.5 125.7h0.9M420.0 106.4h0.9M409.2 109.7h0.9M444.3 129.3h0.9M452.8 112.6h0.9M430.2 119.1h0.9M430.9 108.0h0.9M409.5 114.3h0.9M466.3 122.9h0.9M424.4 105.1h0.9M410.7 136.9h0.9M453.4 121.8h0.9M460.1 103.6h0.9M415.1 143.8h0.9M401.3 113.8h0.9M437.2 141.1h0.9M435.9 147.4h0.9M430.8 103.5h0.9M405.3 106.8h0.9M436.0 131.7h0.9M385.4 108.3h0.9M420.3 108.7h0.9M416.7 105.7h0.9M421.2 124.1h0.9M409.6 110.6h0.9M448.9 115.5h0.9M417.7 123.6h0.9M444.3 137.6h0.9M405.1 129.6h0.9M423.4 118.3h0.9M419.0 122.5h0.9M435.3 131.6h0.9M387.7 111.5h0.9M392.8 116.3h0.9M439.1 141.5h0.9M423.2 115.3h0.9M419.6 113.8h0.9M415.5 113.5h0.9M402.1 100.8h0.9M388.3 107.9h0.9M400.7 111.5h0.9M449.3 132.7h0.9M423.2 126.0h0.9M403.9 108.9h0.9M435.0 102.0h0.9M414.5 110.5h0.9M396.7 106.5h0.9M448.4 125.7h0.9M385.9 108.9h0.9M416.6 105.9h0.9M411.3 111.8h0.9M431.1 104.7h0.9M421.9 126.5h0.9M457.7 125.1h0.9M412.9 109.7h0.9M417.9 103.2h0.9M417.2 113.2h0.9M411.6 123.8h0.9M387.7 108.1h0.9M412.6 110.8h0.9M406.5 104.5h0.9M421.8 115.3h0.9M433.3 116.3h0.9M414.6 116.4h0.9M416.7 137.1h0.9M397.9 105.4h0.9M448.8 113.8h0.9M425.0 110.1h0.9M404.3 123.5h0.9M462.5 125.7h0.9M436.9 137.5h0.9M435.3 132.1h0.9M400.8 123.6h0.9M452.5 123.2h0.9M436.5 133.6h0.9M429.6 116.9h0.9M430.5 119.5h0.9M459.7 127.1h0.9M462.6 111.7h0.9M409.3 130.0h0.9M431.1 98.4h0.9M436.0 104.3h0.9M404.4 130.9h0.9M416.6 100.5h0.9M413.0 107.4h0.9M418.4 105.4h0.9M465.3 121.0h0.9M391.8 116.6h0.9M464.8 116.1h0.9M418.5 109.8h0.9M424.7 130.3h0.9M441.3 136.6h0.9M412.2 137.7h0.9M414.0 139.1h0.9M434.6 134.9h0.9M400.2 108.5h0.9M410.3 133.4h0.9M400.3 108.9h0.9M455.8 124.1h0.9M459.8 111.1h0.9M427.5 112.7h0.9M412.3 112.2h0.9M426.6 123.0h0.9M436.9 147.6h0.9M405.2 110.1h0.9M415.2 106.8h0.9M451.7 108.2h0.9M427.6 129.4h0.9M425.4 101.6h0.9M448.3 122.9h0.9M416.8 128.0h0.9M438.8 102.2h0.9M417.3 105.8h0.9M390.5 103.9h0.9M420.4 109.0h0.9M438.4 144.2h0.9M414.3 135.4h0.9M463.1 124.5h0.9M397.6 112.8h0.9M392.0 103.5h0.9M390.1 113.6h0.9M417.9 135.4h0.9M453.2 100.3h0.9M454.2 130.0h0.9M447.9 125.7h0.9M400.0 117.5h0.9M419.0 101.2h0.9M391.5 115.3h0.9M440.0 106.6h0.9M399.6 124.6h0.9M408.6 131.5h0.9M428.7 138.3h0.9M418.5 120.7h0.9M407.7 114.8h0.9M403.0 116.2h0.9M441.1 100.6h0.9M418.7 129.1h0.9M455.5 126.0h0.9M429.1 132.6h0.9M422.9 137.7h0.9M416.0 103.5h0.9M412.6 124.4h0.9M423.9 120.4h0.9M415.6 100.7h0.9M437.0 143.7h0.9M463.3 113.8h0.9M449.3 96.9h0.9M429.4 137.7h0.9M414.6 123.6h0.9M438.5 122.9h0.9M459.8 123.3h0.9M391.4 105.2h0.9M434.4 116.5h0.9M438.0 140.8h0.9M435.9 145.2h0.9M449.6 124.9h0.9M427.0 112.6h0.9M447.6 116.2h0.9M413.1 138.7h0.9M414.4 110.8h0.9M407.3 105.3h0.9M438.3 141.0h0.9M412.6 122.2h0.9M432.8 139.4h0.9M419.0 129.8h0.9M420.9 114.6h0.9M442.6 130.2h0.9M424.4 127.7h0.9M406.0 110.6h0.9M428.4 117.9h0.9M422.9 122.6h0.9M421.9 114.6h0.9M444.1 132.9h0.9M428.9 117.2h0.9M422.3 111.7h0.9M442.6 138.6h0.9M413.6 114.1h0.9M413.0 137.6h0.9M395.5 116.1h0.9M456.0 123.4h0.9M395.3 112.1h0.9M393.4 109.6h0.9M436.4 140.2h0.9M403.0 117.8h0.9M409.6 131.5h0.9M410.6 114.2h0.9M422.7 127.4h0.9M409.7 106.4h0.9M409.2 127.2h0.9M429.9 100.0h0.9M450.0 121.0h0.9M417.9 112.6h0.9M450.4 113.8h0.9M459.8 113.6h0.9M420.8 110.1h0.9M414.6 117.9h0.9M392.6 111.2h0.9M423.4 130.2h0.9M453.3 128.7h0.9M434.8 138.0h0.9M467.6 116.6h0.9M399.3 117.7h0.9M401.6 116.9h0.9M431.1 110.6h0.9M400.0 109.2h0.9M417.0 139.1h0.9M440.2 124.7h0.9M430.1 97.9h0.9M421.5 114.2h0.9M466.9 121.6h0.9M410.1 109.4h0.9M436.4 146.7h0.9M398.5 116.9h0.9M418.5 105.0h0.9M414.9 141.3h0.9M446.4 121.7h0.9M402.5 121.6h0.9M451.8 95.4h0.9M450.8 97.7h0.9M451.8 98.2h0.9M449.1 99.3h0.9M445.2 95.2h0.9M445.8 93.1h0.9M447.6 99.8h0.9M446.1 96.8h0.9M446.7 96.7h0.9M448.3 99.5h0.9M448.8 93.4h0.9M447.7 97.0h0.9M449.9 96.2h0.9M454.5 98.2h0.9M446.1 96.9h0.9M447.3 98.7h0.9M445.6 93.8h0.9M452.2 96.0h0.9M451.5 94.9h0.9M445.1 99.8h0.9M450.3 100.3h0.9M444.9 97.3h0.9M450.1 98.8h0.9M449.0 96.5h0.9M449.1 95.5h0.9M443.8 100.5h0.9M449.5 96.8h0.9M449.5 100.5h0.9M452.8 103.1h0.9M449.3 94.1h0.9M448.8 98.6h0.9M446.9 96.3h0.9M450.5 98.1h0.9M451.3 91.3h0.9M451.2 98.6h0.9M451.6 94.9h0.9M448.5 97.8h0.9M444.9 98.2h0.9M449.2 99.2h0.9M453.2 97.1h0.9M452.6 97.9h0.9M447.0 96.4h0.9M455.0 93.3h0.9M453.0 95.6h0.9M451.4 95.9h0.9M446.2 96.3h0.9M451.0 97.5h0.9M451.8 97.7h0.9M455.4 99.8h0.9M447.8 102.1h0.9M448.2 94.5h0.9M452.5 97.5h0.9M452.4 98.2h0.9M451.6 96.5h0.9M447.6 98.8h0.9M409.1 144.5h0.9M413.6 146.6h0.9M412.2 145.8h0.9M409.6 144.3h0.9M412.2 144.7h0.9M415.6 148.0h0.9M412.4 145.4h0.9M415.8 146.3h0.9M416.0 145.0h0.9M413.0 145.4h0.9M412.1 145.5h0.9M413.7 144.9h0.9M414.8 146.6h0.9M415.4 146.9h0.9M413.1 146.6h0.9M411.2 145.1h0.9M415.0 144.8h0.9M409.8 143.0h0.9M412.2 147.0h0.9M412.7 145.2h0.9M413.4 144.0h0.9M411.7 144.1h0.9M412.8 146.6h0.9M414.0 145.2h0.9M412.7 146.5h0.9M437.8 148.2h0.9M438.8 153.1h0.9M437.9 148.9h0.9M433.9 150.6h0.9M439.3 148.3h0.9M435.9 147.0h0.9M439.5 148.7h0.9M437.8 153.4h0.9M436.6 149.6h0.9M436.9 146.1h0.9M436.5 151.4h0.9M438.1 151.7h0.9M438.2 148.2h0.9M435.9 149.8h0.9M435.2 149.6h0.9M439.2 148.2h0.9M438.1 149.8h0.9M435.9 146.8h0.9M438.9 150.2h0.9M439.1 151.4h0.9M438.2 148.1h0.9M438.2 150.8h0.9M436.9 151.0h0.9M433.8 150.6h0.9M438.5 152.2h0.9" stroke="#D8336A" stroke-width="0.9" stroke-opacity="0.66" fill="none"/>
<path d="M444.5 97.9h0.9M414.3 100.1h0.9M426.2 100.2h0.9M411.3 99.0h0.9M380.3 98.1h0.9M445.7 92.1h0.9M388.7 102.2h0.9M447.9 94.3h0.9M385.4 97.7h0.9M435.8 92.4h0.9M393.8 95.2h0.9M413.2 95.2h0.9M445.0 93.7h0.9M420.6 99.9h0.9M420.4 96.0h0.9M421.6 93.5h0.9M446.4 99.5h0.9M416.3 95.6h0.9M445.0 97.6h0.9M386.3 99.6h0.9M389.2 102.6h0.9M391.2 96.7h0.9M445.4 98.5h0.9M415.7 95.4h0.9M451.2 95.2h0.9M442.3 92.6h0.9M401.4 96.5h0.9M426.5 99.4h0.9M386.4 99.4h0.9M397.7 101.3h0.9M412.1 96.4h0.9M387.3 98.3h0.9M449.3 98.2h0.9M392.7 101.1h0.9M420.0 100.6h0.9M388.5 97.8h0.9M404.6 98.9h0.9M431.1 97.7h0.9M423.4 99.9h0.9M410.9 96.0h0.9M388.5 97.2h0.9M449.2 97.3h0.9M439.1 95.9h0.9M449.1 92.6h0.9M408.8 100.8h0.9M395.7 102.1h0.9M451.6 93.3h0.9M394.3 100.3h0.9M410.8 98.8h0.9M409.4 99.0h0.9" stroke="#D8336A" stroke-width="0.9" stroke-opacity="0.6" fill="none"/>
<path d="M323.2 35.0 V158.7 H491.2" stroke="#444" stroke-width="0.8" fill="none"/>
<path d="M329.22 158.7v1.6M368.61 158.7v1.6M408.00 158.7v1.6M447.39 158.7v1.6M486.78 158.7v1.6M323.2 34.15h-1.6M323.2 61.20h-1.6M323.2 88.25h-1.6M323.2 115.30h-1.6M323.2 142.35h-1.6" stroke="#444" stroke-width="0.7" fill="none"/>
<text x="329.22" y="169.60" font-size="8.3" text-anchor="middle" fill="#222" stroke="#222" stroke-width="0.15">-6</text>
<text x="368.61" y="169.60" font-size="8.3" text-anchor="middle" fill="#222" stroke="#222" stroke-width="0.15">-3</text>
<text x="408.00" y="169.60" font-size="8.3" text-anchor="middle" fill="#222" stroke="#222" stroke-width="0.15">0</text>
<text x="447.39" y="169.60" font-size="8.3" text-anchor="middle" fill="#222" stroke="#222" stroke-width="0.15">3</text>
<text x="486.78" y="169.60" font-size="8.3" text-anchor="middle" fill="#222" stroke="#222" stroke-width="0.15">6</text>
<text x="319.60" y="42.90" font-size="8.3" text-anchor="end" fill="#222" stroke="#222" stroke-width="0.15">7.5</text>
<text x="319.60" y="64.70" font-size="8.3" text-anchor="end" fill="#222" stroke="#222" stroke-width="0.15">5.0</text>
<text x="319.60" y="91.50" font-size="8.3" text-anchor="end" fill="#222" stroke="#222" stroke-width="0.15">2.5</text>
<text x="319.60" y="118.50" font-size="8.3" text-anchor="end" fill="#222" stroke="#222" stroke-width="0.15">0</text>
<text x="319.60" y="145.90" font-size="8.3" text-anchor="end" fill="#222" stroke="#222" stroke-width="0.15">-2.5</text>
<text x="406.60" y="182.40" font-size="8.4" text-anchor="middle" fill="#222" stroke="#222" stroke-width="0.15">UMAP_1</text>
<text x="299.40" y="101.90" font-size="8.4" text-anchor="middle" fill="#222" stroke="#222" stroke-width="0.15" transform="rotate(-90 299.4 101.9)">UMAP_2</text>
<text x="399.80" y="76.90" font-size="10.3" stroke="#000" stroke-width="0.15">Ex<tspan font-size="5.2" dy="-3.9" fill="#555">low</tspan></text>
<text x="423.00" y="124.00" font-size="10.3" stroke="#000" stroke-width="0.15">Ex<tspan font-size="5.2" dy="-3.9" fill="#555">high</tspan></text>
<text x="391.70" y="25.50" font-size="9.8" font-weight="bold" stroke="#000" stroke-width="0.15">CD8<tspan font-size="6.2" dy="-3.6">+</tspan><tspan dy="3.6"> T cells</tspan></text>
<defs><path id="sg" d="M0.1 1.1h0.6M19.9 21.5h0.6M14.3 30.6h0.6M-14.0 17.9h0.6M-23.9 17.2h0.6M-14.8 22.3h0.6M-3.8 22.2h0.6M-15.6 27.8h0.6M24.1 25.3h0.6M-21.2 16.2h0.6M-19.8 23.9h0.6M-12.5 37.1h0.6M-20.1 12.0h0.6M0.9 31.3h0.6M13.4 18.9h0.6M8.6 10.9h0.6M3.5 17.4h0.6M6.6 3.8h0.6M-0.3 10.9h0.6M26.1 23.6h0.6M-0.9 26.1h0.6M-24.7 18.3h0.6M4.8 8.6h0.6M-2.0 37.7h0.6M-3.5 40.3h0.6M3.1 29.5h0.6M15.6 42.6h0.6M23.4 24.9h0.6M13.5 45.8h0.6M-7.8 21.2h0.6M2.0 47.5h0.6M13.4 45.3h0.6M20.8 18.2h0.6M1.8 16.9h0.6M11.5 43.8h0.6M11.5 48.7h0.6M-3.3 49.6h0.6M0.1 17.5h0.6M-5.6 11.6h0.6M-13.8 7.4h0.6M-1.3 21.4h0.6M-2.4 20.1h0.6M-15.6 6.4h0.6M4.4 13.5h0.6M14.2 30.7h0.6M-4.7 40.0h0.6M-22.6 13.9h0.6M-6.5 21.3h0.6M1.3 6.2h0.6M4.5 18.9h0.6M-2.4 51.0h0.6M-14.8 35.2h0.6M25.2 25.4h0.6M-6.4 23.4h0.6M-21.2 12.4h0.6M-0.8 37.5h0.6M6.2 51.2h0.6M-5.4 29.1h0.6M-3.3 30.8h0.6M3.0 3.9h0.6M4.2 21.9h0.6M-24.9 19.4h0.6M-0.8 5.3h0.6M-13.5 16.2h0.6M9.6 18.2h0.6M-3.9 37.9h0.6M11.2 28.6h0.6M-0.1 14.7h0.6M-4.7 8.0h0.6M-22.4 26.7h0.6M-7.4 10.4h0.6M-3.8 32.7h0.6M12.0 47.1h0.6M-4.4 41.9h0.6M-15.8 8.4h0.6M-3.9 37.5h0.6M-15.5 38.3h0.6M17.4 37.6h0.6M15.6 43.4h0.6M19.8 38.8h0.6M-18.9 11.7h0.6M-13.6 19.0h0.6M7.7 43.1h0.6M-19.5 21.1h0.6M-6.7 7.9h0.6M-4.9 38.6h0.6M-3.6 20.6h0.6M0.6 8.6h0.6M-3.9 33.0h0.6M-0.0 23.2h0.6M-5.1 3.1h0.6M-0.7 6.9h0.6M-2.4 41.2h0.6M21.0 24.1h0.6M-2.5 42.4h0.6M12.5 15.8h0.6M-5.4 37.4h0.6M6.6 51.6h0.6M-9.1 33.4h0.6M-5.6 17.9h0.6M-18.8 18.6h0.6M6.8 20.8h0.6M-5.9 25.1h0.6M-16.7 34.4h0.6M-11.7 41.9h0.6M17.5 16.3h0.6M-2.4 40.9h0.6M-2.2 45.9h0.6M-9.1 18.2h0.6M-3.1 44.8h0.6M12.3 44.5h0.6M-10.9 42.7h0.6M2.3 18.3h0.6M-5.7 18.0h0.6M5.1 50.7h0.6M-1.1 39.7h0.6M4.6 51.2h0.6M3.0 39.2h0.6M-20.3 8.7h0.6M-11.1 36.3h0.6M-8.7 6.1h0.6M5.5 40.9h0.6M-17.2 16.4h0.6M0.5 38.9h0.6M-3.4 17.9h0.6M7.8 12.0h0.6M8.2 5.8h0.6M6.5 17.0h0.6M3.0 39.9h0.6M-4.8 45.9h0.6M23.6 26.6h0.6M-24.4 25.2h0.6M-12.1 24.1h0.6M22.7 19.6h0.6M10.7 11.7h0.6M-12.1 37.6h0.6M-13.0 6.5h0.6M0.5 2.6h0.6M16.6 11.6h0.6M0.9 32.6h0.6M-24.5 17.3h0.6M11.4 24.3h0.6M-7.2 39.2h0.6M8.3 15.3h0.6M-8.9 7.2h0.6M11.6 42.4h0.6M-17.6 24.6h0.6M7.0 50.0h0.6M-13.6 31.8h0.6M-3.7 28.5h0.6M15.5 12.5h0.6M-7.8 22.6h0.6M-3.0 46.0h0.6M12.6 45.6h0.6M-2.5 5.0h0.6M-13.1 5.2h0.6M12.0 10.3h0.6M1.1 18.3h0.6M-1.4 35.5h0.6M-9.4 31.1h0.6M-23.6 15.2h0.6M7.2 51.5h0.6M10.3 39.8h0.6M-27.0 19.7h0.6M2.0 1.4h0.6M4.5 23.3h0.6M-11.6 8.9h0.6M0.7 14.7h0.6M-14.8 22.6h0.6M-0.4 2.9h0.6M-4.9 41.9h0.6M-7.1 23.3h0.6M-15.1 11.1h0.6M21.1 39.1h0.6M-11.4 15.8h0.6M-2.5 15.5h0.6M16.5 38.7h0.6M-19.1 16.6h0.6M-5.9 21.6h0.6M-5.1 53.9h0.6M-5.1 32.5h0.6M-11.2 34.9h0.6M-24.4 12.8h0.6M-13.4 16.0h0.6M-10.3 8.2h0.6M12.0 10.8h0.6M-8.1 5.7h0.6M-21.9 12.7h0.6M17.3 27.5h0.6M-11.6 20.8h0.6M-5.1 51.6h0.6M-1.7 19.1h0.6M21.4 24.7h0.6M-9.4 10.2h0.6M-2.1 18.2h0.6M1.7 9.8h0.6M4.8 5.1h0.6M21.3 38.9h0.6M27.3 23.8h0.6M-0.3 19.5h0.6M2.1 11.1h0.6M-22.8 22.5h0.6M-11.9 33.0h0.6M15.6 13.6h0.6M-0.4 4.3h0.6M-3.8 33.6h0.6M-13.3 8.1h0.6M3.1 7.4h0.6M-9.8 9.9h0.6M6.8 11.2h0.6M-24.2 18.3h0.6M13.9 29.1h0.6M-9.0 5.1h0.6M-0.6 15.1h0.6M-5.0 26.1h0.6M26.5 27.7h0.6M23.9 31.8h0.6M-6.8 10.6h0.6M-16.1 8.5h0.6M15.6 13.1h0.6M-1.3 5.5h0.6M-4.9 17.3h0.6M23.3 26.0h0.6M-15.0 19.9h0.6M-6.2 49.5h0.6M-4.5 24.6h0.6M-0.5 14.2h0.6M-3.5 5.4h0.6M12.2 28.4h0.6M-1.7 42.7h0.6M-10.4 17.4h0.6M20.6 39.2h0.6M-16.2 8.2h0.6M-6.6 52.8h0.6M-18.7 21.6h0.6M-4.3 42.7h0.6M12.3 30.0h0.6M-17.0 20.5h0.6M11.7 13.2h0.6M-26.9 22.7h0.6M25.4 22.0h0.6M-2.7 44.9h0.6M3.5 18.4h0.6M-7.0 37.7h0.6M-24.7 12.0h0.6M12.3 27.5h0.6M-1.3 35.7h0.6M-28.7 17.6h0.6M18.2 21.2h0.6M11.3 20.0h0.6M-15.1 32.3h0.6M-0.5 17.4h0.6M-15.5 30.1h0.6M-7.9 35.5h0.6M-3.3 31.3h0.6M6.9 23.7h0.6M17.3 13.5h0.6M23.4 20.3h0.6M-11.2 15.0h0.6M6.5 11.6h0.6M-6.7 11.6h0.6M-18.6 11.6h0.6M-4.7 39.4h0.6M6.0 24.1h0.6M-0.7 43.3h0.6M-3.0 18.7h0.6M-15.6 23.1h0.6M14.8 29.6h0.6M-3.5 46.1h0.6M-18.8 29.2h0.6M-11.8 8.8h0.6M0.1 28.3h0.6M21.5 30.5h0.6M-16.8 20.3h0.6M1.3 9.6h0.6M11.8 10.9h0.6M-15.8 26.0h0.6M3.7 40.1h0.6M6.1 50.1h0.6M14.2 13.6h0.6M2.6 6.6h0.6M15.1 27.1h0.6M-16.1 23.0h0.6M-19.4 30.4h0.6M-0.3 50.0h0.6M-4.1 17.4h0.6M27.0 26.1h0.6M-12.4 13.6h0.6M-11.9 25.0h0.6M12.4 22.7h0.6M10.2 14.5h0.6M5.3 8.3h0.6M-13.2 5.8h0.6M-17.9 9.4h0.6M-10.6 9.5h0.6M-13.2 11.4h0.6M0.9 39.1h0.6M9.1 12.1h0.6M-3.1 34.2h0.6M5.5 4.5h0.6M17.1 16.1h0.6M-10.6 12.2h0.6M-0.7 41.7h0.6M-5.4 14.8h0.6M-4.2 24.3h0.6M-2.8 36.5h0.6M6.5 15.5h0.6M-6.6 24.7h0.6M5.9 13.4h0.6M16.2 44.1h0.6M15.7 42.4h0.6M-8.0 35.1h0.6M10.5 7.7h0.6M18.7 41.6h0.6M3.2 24.0h0.6M3.3 26.4h0.6M-1.8 12.4h0.6M10.9 12.8h0.6M20.8 30.6h0.6M-17.7 31.0h0.6M2.2 3.3h0.6M8.9 22.7h0.6M9.4 11.8h0.6M-6.2 46.9h0.6M19.4 14.9h0.6M-11.3 40.3h0.6M-7.0 38.5h0.6M-4.0 48.4h0.6M-16.8 19.3h0.6M-13.4 19.2h0.6M-7.7 28.8h0.6M-14.4 22.4h0.6M5.0 11.1h0.6M21.0 25.5h0.6M0.3 21.1h0.6M-21.8 19.6h0.6M-0.2 12.1h0.6M-17.3 36.5h0.6M-3.1 37.3h0.6M-7.8 44.5h0.6M23.7 24.5h0.6M0.9 13.8h0.6M10.3 10.2h0.6M3.1 39.3h0.6M19.9 16.0h0.6M16.3 14.7h0.6M-22.8 23.7h0.6M6.3 16.7h0.6M-14.9 16.8h0.6M3.0 30.5h0.6M-8.3 18.2h0.6M0.6 14.9h0.6M-3.9 10.2h0.6M27.2 25.4h0.6M-1.5 45.7h0.6M22.1 25.2h0.6M16.9 15.9h0.6M5.9 53.7h0.6M-10.5 11.8h0.6M23.1 20.8h0.6M3.5 12.1h0.6M-4.5 1.3h0.6M20.5 40.9h0.6M-21.9 22.2h0.6M-5.9 53.8h0.6M8.2 41.6h0.6M-7.6 38.7h0.6M-5.4 13.7h0.6M21.6 31.1h0.6M-7.1 37.2h0.6M16.6 40.6h0.6M-14.2 30.2h0.6M-0.1 37.8h0.6M3.2 18.9h0.6M-27.9 15.4h0.6M11.5 30.4h0.6M-0.6 26.0h0.6M-2.1 43.3h0.6M-11.6 35.4h0.6M24.8 25.1h0.6M-9.2 36.0h0.6M15.1 44.2h0.6M-0.1 38.8h0.6M19.6 39.4h0.6M8.3 38.7h0.6M-7.6 21.1h0.6M13.8 11.3h0.6M-0.8 44.2h0.6M-15.9 35.2h0.6M18.5 16.9h0.6M18.1 40.1h0.6M-22.9 22.6h0.6M-19.9 24.4h0.6M9.7 30.8h0.6M-1.2 34.8h0.6M13.9 29.2h0.6M-5.2 11.9h0.6M14.3 41.8h0.6M-20.7 9.4h0.6M-16.1 11.1h0.6M7.7 49.8h0.6M22.2 31.5h0.6M-8.8 35.7h0.6M-18.6 16.0h0.6M-2.8 47.0h0.6M-4.3 15.6h0.6M-18.9 21.7h0.6M9.7 13.0h0.6M0.3 3.5h0.6M-4.1 41.5h0.6M9.6 10.1h0.6M-0.8 38.0h0.6M3.9 12.7h0.6M10.6 7.8h0.6M5.1 3.8h0.6M18.0 44.4h0.6M15.3 10.5h0.6M-8.4 31.1h0.6M-9.4 14.5h0.6M11.4 16.4h0.6M-4.0 45.4h0.6M17.1 19.5h0.6M5.6 47.1h0.6M17.0 27.4h0.6M-4.4 51.7h0.6M-19.4 21.2h0.6M-8.4 45.1h0.6M12.8 45.1h0.6M-21.9 16.1h0.6M-2.2 32.3h0.6M-12.1 39.2h0.6M-5.9 18.4h0.6M-12.5 30.0h0.6M-1.9 37.6h0.6M22.8 26.1h0.6M-8.0 45.7h0.6M16.6 17.2h0.6M-0.2 36.3h0.6M-5.0 54.6h0.6M-8.9 33.9h0.6M11.5 29.9h0.6M-13.6 16.6h0.6M-5.1 36.0h0.6M-25.2 21.1h0.6M-19.9 10.6h0.6M-5.0 38.3h0.6M12.3 41.2h0.6M-6.8 6.7h0.6M17.2 38.0h0.6M-27.4 20.0h0.6M10.5 12.2h0.6M5.2 18.0h0.6M-3.8 30.9h0.6M12.3 18.8h0.6M20.0 41.4h0.6M13.2 29.2h0.6M6.2 56.1h0.6M-17.7 35.0h0.6M-4.0 21.7h0.6M24.7 29.5h0.6M-5.3 36.1h0.6M2.6 11.5h0.6M-9.7 21.2h0.6M-2.7 44.7h0.6M-18.3 34.8h0.6M-3.4 43.0h0.6M-4.1 45.5h0.6M15.5 20.5h0.6M13.5 39.9h0.6M27.6 25.5h0.6M1.8 13.0h0.6M15.0 45.4h0.6M-9.0 46.5h0.6M-16.2 19.6h0.6M15.3 30.4h0.6M-5.3 16.6h0.6M-4.9 33.6h0.6M-6.3 22.2h0.6M19.5 26.1h0.6M6.5 51.7h0.6M-3.2 39.8h0.6M-20.5 30.0h0.6M-12.0 6.2h0.6M12.8 17.9h0.6M19.3 16.1h0.6M5.9 53.8h0.6M-2.3 49.5h0.6M-25.9 20.8h0.6M22.3 29.1h0.6M2.4 41.5h0.6M15.0 37.3h0.6M-1.7 38.2h0.6M-18.8 11.9h0.6M-4.1 49.1h0.6M-9.0 45.1h0.6M-6.7 40.3h0.6M1.2 22.7h0.6M-11.0 36.5h0.6M-15.0 35.2h0.6M12.0 21.5h0.6M-28.9 17.5h0.6M-16.8 18.7h0.6M-23.2 21.9h0.6M13.0 22.7h0.6M-4.9 9.1h0.6M16.8 12.4h0.6M8.8 28.1h0.6M22.0 28.9h0.6M8.2 11.1h0.6M1.7 16.4h0.6M-8.8 9.7h0.6M6.7 19.3h0.6M14.0 12.0h0.6M20.0 36.1h0.6M-18.9 8.7h0.6M-20.0 28.5h0.6M17.4 36.3h0.6M16.7 43.5h0.6M-11.1 17.7h0.6M-15.5 12.4h0.6M-12.3 12.3h0.6M-22.7 20.2h0.6M-14.7 30.7h0.6M-14.0 6.5h0.6M-23.2 17.0h0.6M-18.3 11.6h0.6M-4.7 21.2h0.6M-21.9 11.3h0.6M-7.4 39.7h0.6M6.6 13.3h0.6M0.7 16.0h0.6M-2.7 5.5h0.6M12.7 10.6h0.6M-14.4 35.6h0.6M3.5 15.2h0.6M-7.0 20.4h0.6M-10.5 39.2h0.6M-5.9 42.1h0.6M-9.3 33.6h0.6M-2.6 42.6h0.6M0.4 44.8h0.6M11.2 10.4h0.6M-8.7 16.4h0.6M-12.7 41.4h0.6M15.9 15.3h0.6M-4.1 40.6h0.6M-12.8 25.2h0.6M15.8 40.4h0.6M0.3 30.9h0.6M-14.6 21.5h0.6M17.3 38.5h0.6M-6.0 5.9h0.6M7.1 15.2h0.6M-11.7 39.6h0.6M-4.9 25.1h0.6M-7.8 5.3h0.6M-3.2 6.9h0.6M17.3 41.7h0.6M11.9 42.3h0.6M-10.0 43.7h0.6M-4.8 53.7h0.6M-14.5 8.5h0.6M-8.5 26.9h0.6M-0.9 45.4h0.6M-6.2 44.0h0.6M4.1 14.2h0.6M-24.9 25.0h0.6M20.5 40.8h0.6M5.2 44.2h0.6M10.4 23.0h0.6M15.8 32.0h0.6M1.7 48.9h0.6M1.1 49.1h0.6M7.2 53.1h0.6M-3.6 35.7h0.6M20.5 42.3h0.6M-9.6 44.1h0.6M-1.6 24.3h0.6M-22.3 17.4h0.6M19.4 24.6h0.6M-14.4 18.8h0.6M2.9 45.3h0.6M-20.2 27.1h0.6M-4.0 17.5h0.6M12.9 29.6h0.6M26.1 24.3h0.6M5.4 2.7h0.6M-3.1 23.1h0.6M-19.1 8.2h0.6M-1.1 12.1h0.6M14.4 12.8h0.6M-15.4 21.9h0.6M-10.1 37.0h0.6M6.9 18.2h0.6M8.4 13.0h0.6M-0.2 38.4h0.6M-13.3 32.9h0.6M-3.6 6.7h0.6M-4.8 24.0h0.6M-1.7 23.3h0.6M-5.4 36.8h0.6M20.7 23.3h0.6M9.5 22.4h0.6M4.1 41.4h0.6M7.2 49.4h0.6M17.6 40.7h0.6M3.8 14.4h0.6M-9.5 29.4h0.6M-13.8 11.9h0.6M-15.4 35.0h0.6M-10.9 43.5h0.6M19.9 18.7h0.6M25.1 23.6h0.6M-10.9 6.8h0.6M-15.9 15.5h0.6M-5.8 48.4h0.6M-5.5 46.3h0.6M-19.7 19.8h0.6M-8.4 40.9h0.6M1.2 9.9h0.6M-1.1 15.8h0.6M-2.6 23.3h0.6M23.7 25.0h0.6M3.4 25.2h0.6M-8.6 18.6h0.6M8.3 23.4h0.6M0.1 40.6h0.6M-6.5 35.4h0.6M-8.8 19.8h0.6M-11.5 41.7h0.6M-13.5 15.2h0.6M-8.6 22.4h0.6M-4.0 44.1h0.6M-8.3 26.5h0.6M-3.7 4.2h0.6M14.1 46.4h0.6M-28.5 17.5h0.6M-15.0 16.9h0.6M-2.0 8.3h0.6M-29.8 18.9h0.6M-5.9 36.6h0.6M-11.4 25.3h0.6M8.3 32.5h0.6M-14.3 15.0h0.6M-0.6 9.5h0.6M5.8 24.0h0.6M-9.0 37.4h0.6M2.5 33.5h0.6M-10.6 12.8h0.6M-3.3 22.4h0.6M-7.7 47.1h0.6M-10.5 4.2h0.6M0.4 12.6h0.6M-22.5 10.1h0.6M-23.8 22.5h0.6M1.6 46.0h0.6M-13.3 21.5h0.6M-5.9 34.9h0.6M-25.4 18.7h0.6M-19.9 8.9h0.6M11.9 16.4h0.6M1.4 40.3h0.6M11.6 29.0h0.6M26.0 25.8h0.6M-11.7 14.0h0.6M-15.0 11.2h0.6M9.0 21.2h0.6M-27.0 19.1h0.6M-15.1 5.3h0.6M12.5 13.3h0.6M6.8 4.5h0.6M-7.5 39.5h0.6M-0.7 4.1h0.6M-0.9 39.5h0.6M10.0 41.3h0.6M-6.6 52.7h0.6M10.4 28.1h0.6M-6.7 2.2h0.6M-25.6 20.9h0.6M0.6 19.7h0.6M-7.6 14.2h0.6M6.9 30.1h0.6M18.3 26.4h0.6M-4.2 51.8h0.6M-4.8 17.5h0.6M-4.3 17.7h0.6M-9.6 12.6h0.6M-3.8 42.4h0.6M-19.6 30.5h0.6M14.4 16.6h0.6M10.6 27.0h0.6M7.3 27.9h0.6M-11.3 34.8h0.6M-9.8 5.0h0.6M16.8 45.7h0.6M11.0 12.0h0.6M15.1 13.2h0.6M13.8 29.6h0.6M-14.7 37.9h0.6M-22.4 13.5h0.6M-10.0 22.6h0.6M5.4 50.1h0.6M11.4 29.9h0.6M10.8 21.3h0.6M-7.3 50.0h0.6M-22.0 15.0h0.6M10.5 27.4h0.6M-1.8 19.5h0.6M-18.8 15.2h0.6M-21.5 25.0h0.6M-9.4 33.3h0.6M4.1 7.0h0.6M-42.8 25.0h0.6M-26.0 20.8h0.6M-11.8 9.8h0.6M-10.8 9.9h0.6M3.3 48.0h0.6M-9.5 7.8h0.6M-5.7 7.2h0.6M19.5 38.1h0.6M-25.0 24.0h0.6M-16.0 21.7h0.6M-17.8 15.8h0.6M-0.2 24.8h0.6M-20.5 10.7h0.6M0.1 18.1h0.6M16.9 43.7h0.6M-7.1 42.2h0.6M23.0 26.2h0.6M0.4 12.4h0.6M21.4 21.7h0.6M-4.4 36.1h0.6M-1.0 19.3h0.6M-18.4 12.0h0.6M-6.2 13.1h0.6M-4.1 39.2h0.6M1.4 42.4h0.6M21.5 24.1h0.6M-8.5 14.3h0.6M-3.5 36.7h0.6M6.1 12.3h0.6M-4.0 14.1h0.6M0.8 30.8h0.6M-4.4 33.6h0.6M21.7 20.2h0.6M5.6 21.2h0.6M9.1 19.7h0.6M-23.4 17.0h0.6M8.8 12.0h0.6M-2.7 32.2h0.6M-15.3 5.7h0.6M18.5 40.2h0.6M-0.1 40.0h0.6M7.7 49.4h0.6M-16.0 24.2h0.6M-8.7 47.9h0.6M-3.6 24.1h0.6M1.3 28.9h0.6M-11.8 7.4h0.6M6.8 9.7h0.6M-17.3 37.1h0.6M3.6 12.0h0.6M-2.2 31.2h0.6M1.2 32.8h0.6M-5.7 33.9h0.6M-12.6 21.1h0.6M-24.2 14.4h0.6M11.1 21.8h0.6M-26.2 23.8h0.6M-10.9 35.3h0.6M-22.9 18.5h0.6M-2.8 19.7h0.6M5.6 50.6h0.6M0.9 24.2h0.6M-11.5 19.7h0.6M5.6 46.8h0.6M-19.2 21.0h0.6M12.2 13.0h0.6M14.2 15.9h0.6M2.8 50.4h0.6M19.7 21.2h0.6M19.6 20.5h0.6M14.8 10.8h0.6M-8.3 17.4h0.6M-3.2 45.6h0.6M-0.8 18.5h0.6M11.6 14.1h0.6M-5.8 5.2h0.6M13.8 23.2h0.6M17.0 42.1h0.6M6.5 22.2h0.6M1.2 2.3h0.6M8.5 41.8h0.6M-6.8 52.7h0.6M20.3 26.7h0.6M-2.5 26.2h0.6M10.9 23.7h0.6M10.5 11.7h0.6M-0.7 12.6h0.6M-7.3 20.0h0.6M-13.6 36.8h0.6M-10.5 11.9h0.6M3.5 32.4h0.6M-13.7 26.6h0.6M-18.8 16.2h0.6M-4.6 23.6h0.6M1.9 45.7h0.6M22.0 29.7h0.6M5.9 49.8h0.6M-6.8 40.9h0.6M10.0 18.2h0.6M-24.5 23.0h0.6M-27.4 17.2h0.6M-14.9 35.3h0.6M-13.5 35.6h0.6M26.9 25.3h0.6M-18.9 23.5h0.6M2.6 47.3h0.6M2.9 39.3h0.6M3.9 20.9h0.6M20.1 16.2h0.6M-21.0 28.8h0.6M-9.4 29.3h0.6M-7.9 6.0h0.6M-17.7 29.6h0.6M-8.5 4.6h0.6M6.3 47.2h0.6M-18.9 18.3h0.6M-0.1 35.2h0.6M-0.1 30.4h0.6M-20.2 23.9h0.6M26.2 27.9h0.6M22.5 29.8h0.6M-6.5 42.3h0.6M1.1 7.5h0.6M4.1 25.1h0.6M-7.5 23.4h0.6M26.4 25.6h0.6M-4.6 53.8h0.6M-1.3 7.5h0.6M-16.1 37.5h0.6M-9.8 5.4h0.6M10.5 10.7h0.6M6.1 8.7h0.6M-6.5 50.1h0.6M5.1 15.3h0.6M2.9 6.3h0.6M-12.8 11.6h0.6M3.8 43.8h0.6M2.4 12.4h0.6M-3.4 51.4h0.6M14.7 22.1h0.6M4.4 12.4h0.6M5.0 9.5h0.6M-5.4 54.7h0.6M-22.9 22.0h0.6M-21.7 27.4h0.6M-4.8 9.7h0.6M11.6 17.9h0.6M19.0 29.3h0.6M-6.5 16.0h0.6M-4.9 21.3h0.6M-14.8 10.2h0.6M-9.1 26.5h0.6M-7.2 13.0h0.6M12.6 11.1h0.6M-1.7 37.8h0.6M6.2 26.0h0.6M-9.2 6.3h0.6M17.0 12.4h0.6M-7.0 11.1h0.6M1.6 16.3h0.6M5.8 44.0h0.6M-14.9 21.0h0.6M-1.1 31.2h0.6M-8.8 17.8h0.6M2.5 45.1h0.6M5.1 9.7h0.6M-2.3 14.4h0.6M-15.7 28.4h0.6M-20.0 9.9h0.6M22.0 25.5h0.6M-7.0 53.5h0.6M-1.5 6.0h0.6M4.7 3.0h0.6M22.5 19.9h0.6M-15.8 11.2h0.6M-8.9 15.9h0.6M6.1 26.4h0.6M11.2 16.4h0.6M25.6 28.0h0.6M1.2 22.1h0.6M2.6 23.8h0.6M0.4 30.9h0.6M-1.2 14.4h0.6M14.2 17.5h0.6M24.4 28.1h0.6M8.3 15.7h0.6M-13.5 7.5h0.6M1.3 4.5h0.6M-0.4 27.5h0.6M6.9 17.5h0.6M-3.5 43.7h0.6M2.8 35.9h0.6M-25.8 17.9h0.6M-2.3 41.8h0.6M-16.2 26.9h0.6M-5.8 33.4h0.6M10.8 13.6h0.6M8.4 6.0h0.6M-3.0 18.6h0.6M21.0 21.9h0.6M-4.2 34.9h0.6M9.1 50.4h0.6M-14.4 12.2h0.6M-18.4 12.5h0.6M20.7 42.1h0.6M6.9 56.2h0.6M13.3 34.1h0.6M9.5 6.4h0.6M-12.8 7.7h0.6M-22.2 17.9h0.6M-19.1 19.8h0.6M-17.6 21.0h0.6M1.9 10.1h0.6M-3.2 12.9h0.6M-18.9 14.5h0.6M0.9 20.3h0.6M3.9 8.7h0.6M1.5 15.3h0.6M14.2 23.4h0.6M-9.9 14.5h0.6M13.1 15.0h0.6M15.2 13.6h0.6M-21.0 24.3h0.6M3.1 44.8h0.6M-22.4 23.1h0.6M6.3 14.3h0.6M-3.7 13.3h0.6M10.1 13.3h0.6M12.9 37.6h0.6M-9.5 5.4h0.6M-13.9 34.8h0.6M-3.6 34.7h0.6M1.6 30.3h0.6M-23.5 27.6h0.6M-13.5 7.2h0.6M2.6 39.0h0.6M16.4 36.4h0.6M0.8 9.2h0.6M-4.8 12.9h0.6M22.6 28.3h0.6M2.2 23.3h0.6M9.4 11.2h0.6M-4.0 37.5h0.6M-14.3 35.0h0.6M-24.7 13.2h0.6M-4.2 26.2h0.6M-4.3 39.0h0.6M11.1 48.8h0.6M-14.1 34.7h0.6M-14.6 8.5h0.6M-5.7 42.8h0.6M-21.1 10.1h0.6M7.5 55.4h0.6M-20.4 30.3h0.6M4.4 40.2h0.6M-10.7 14.0h0.6M-7.1 34.3h0.6M1.0 10.5h0.6M6.1 7.0h0.6M-4.1 42.9h0.6M13.8 45.6h0.6M-4.0 1.5h0.6M4.4 12.7h0.6M-16.8 23.2h0.6M-9.8 16.5h0.6M-12.2 21.3h0.6M21.4 24.5h0.6M2.6 25.4h0.6M5.6 43.4h0.6M8.6 42.2h0.6M26.1 25.2h0.6M-8.3 15.3h0.6M16.3 17.6h0.6M20.7 38.6h0.6M12.0 28.6h0.6M11.8 39.5h0.6M-3.2 1.0h0.6M-14.0 10.7h0.6M-8.9 36.7h0.6M1.8 8.6h0.6M-15.5 8.5h0.6M-14.4 36.2h0.6M5.3 47.2h0.6M12.6 13.5h0.6M18.6 16.6h0.6M19.7 28.6h0.6M12.1 12.3h0.6M-4.4 16.5h0.6M12.4 47.4h0.6M-24.5 19.2h0.6M-12.4 20.4h0.6M14.0 14.5h0.6M23.9 26.3h0.6M-11.7 5.7h0.6M9.2 20.4h0.6M2.5 15.0h0.6M-11.4 15.7h0.6M20.2 23.8h0.6M-5.1 34.4h0.6M-10.9 34.7h0.6M-26.1 18.4h0.6M-2.8 4.1h0.6M4.4 10.6h0.6M2.2 2.6h0.6M0.4 33.2h0.6M5.9 39.4h0.6M22.1 30.3h0.6M-15.1 20.2h0.6M-16.6 18.6h0.6M8.8 17.8h0.6M-14.3 34.6h0.6M-11.9 18.6h0.6M-21.0 20.8h0.6M-6.3 11.2h0.6M26.5 25.5h0.6M-16.4 7.4h0.6M-4.0 6.9h0.6M13.2 18.0h0.6M-13.5 23.9h0.6M-9.4 14.7h0.6M-15.4 30.0h0.6M-4.4 28.2h0.6M-11.1 18.3h0.6M-24.0 23.8h0.6M20.8 41.7h0.6M14.5 11.8h0.6M-15.3 24.3h0.6M-2.2 34.1h0.6M-13.7 18.3h0.6M-0.9 28.2h0.6M-1.9 24.6h0.6M-11.8 7.2h0.6M7.0 55.3h0.6M11.6 40.1h0.6M3.0 20.6h0.6M-8.2 32.9h0.6M-24.7 18.4h0.6M-16.2 18.9h0.6M-19.9 8.8h0.6M-0.6 36.6h0.6M21.6 19.4h0.6M10.3 46.7h0.6M9.3 21.9h0.6M1.0 30.7h0.6M-18.2 14.9h0.6M1.9 10.1h0.6M22.1 21.8h0.6M-16.3 36.9h0.6M2.5 3.0h0.6M-18.4 11.3h0.6M-13.3 29.6h0.6M0.7 33.4h0.6M-7.8 12.7h0.6M2.3 13.8h0.6M-6.1 15.4h0.6M4.9 15.4h0.6M-2.1 51.3h0.6M7.1 12.6h0.6M-4.2 45.4h0.6M-14.3 18.2h0.6M4.8 4.9h0.6M-5.8 44.1h0.6M-20.6 28.1h0.6M10.4 10.9h0.6M-0.2 2.4h0.6M3.4 40.7h0.6M-14.5 34.2h0.6M3.4 31.1h0.6M6.5 24.4h0.6M9.9 26.5h0.6M10.8 14.4h0.6M7.2 23.0h0.6M2.5 40.9h0.6M-3.1 20.9h0.6M-0.5 6.6h0.6M0.6 4.3h0.6M-3.3 49.2h0.6M-2.3 19.0h0.6M-7.4 29.7h0.6M3.5 8.2h0.6M9.8 47.5h0.6M20.7 21.9h0.6M12.3 30.1h0.6M-29.6 18.1h0.6M2.8 12.0h0.6M10.7 16.7h0.6M-13.6 33.6h0.6M-1.2 39.5h0.6M-19.2 29.9h0.6M-5.8 17.1h0.6M-28.2 16.5h0.6M-3.7 40.3h0.6M4.6 18.1h0.6M6.6 33.7h0.6M2.1 11.2h0.6M-17.7 11.9h0.6M-3.8 11.1h0.6M-3.9 35.7h0.6M-5.2 54.5h0.6M9.6 50.2h0.6M7.0 47.0h0.6M-3.7 10.4h0.6M-23.2 14.0h0.6M12.8 18.4h0.6M7.7 13.5h0.6M3.1 30.3h0.6M-12.0 33.8h0.6M4.2 22.2h0.6M1.6 23.4h0.6M16.7 36.0h0.6M-3.5 45.3h0.6M7.2 34.2h0.6M-12.9 27.5h0.6M22.8 21.8h0.6M-8.6 13.6h0.6M20.4 19.2h0.6M-21.0 24.9h0.6M-22.7 15.0h0.6M-10.3 17.6h0.6M-5.5 7.0h0.6M-10.4 26.8h0.6M20.8 24.3h0.6M-14.7 35.2h0.6M-4.1 47.5h0.6M13.2 24.8h0.6M-14.5 35.5h0.6M-11.4 8.1h0.6M-12.9 22.9h0.6M18.5 20.2h0.6M5.7 8.9h0.6M-7.8 33.3h0.6M14.9 12.8h0.6M5.0 13.7h0.6M-18.3 22.6h0.6M-4.8 11.9h0.6M-2.4 28.9h0.6M-0.9 0.4h0.6M25.6 29.1h0.6M20.3 25.9h0.6M11.7 23.3h0.6M-30.2 17.3h0.6M4.1 14.4h0.6M14.0 32.1h0.6M-0.9 15.5h0.6M-14.7 6.3h0.6M-1.2 18.3h0.6M2.9 34.0h0.6M14.8 19.1h0.6M4.8 5.8h0.6M-18.0 9.2h0.6M-8.2 29.5h0.6M-5.9 4.5h0.6M-18.5 35.0h0.6M-15.0 13.7h0.6M3.7 8.6h0.6M4.5 14.8h0.6M20.7 37.7h0.6M8.0 21.2h0.6M5.9 16.6h0.6M-3.5 38.0h0.6M-4.1 35.7h0.6M-19.0 20.7h0.6M-21.0 12.6h0.6M-1.8 22.1h0.6M-17.9 9.1h0.6M-22.8 11.9h0.6M-6.1 41.4h0.6M-22.6 26.7h0.6M17.6 42.9h0.6M25.1 25.8h0.6M21.9 19.6h0.6M-5.2 53.8h0.6M-12.1 28.7h0.6M1.1 25.3h0.6M-13.3 16.5h0.6M7.6 30.1h0.6M-3.0 16.2h0.6M4.2 4.7h0.6M-6.5 12.4h0.6M-8.3 14.1h0.6M-3.2 38.3h0.6M-7.2 23.9h0.6M-0.0 43.9h0.6M6.6 55.9h0.6M-7.1 31.0h0.6M3.3 9.5h0.6M23.6 23.8h0.6M13.9 29.5h0.6M-11.2 15.3h0.6M-13.8 24.7h0.6M11.8 27.7h0.6M-1.0 37.8h0.6M-8.7 10.0h0.6M-7.0 48.4h0.6M16.4 43.5h0.6M-1.1 16.5h0.6M-14.9 37.7h0.6M-10.6 35.0h0.6M5.3 30.9h0.6M-4.2 50.8h0.6M-1.0 16.3h0.6M-14.1 8.3h0.6M6.8 53.4h0.6M-15.2 36.6h0.6M-6.8 46.0h0.6M-8.8 9.0h0.6M-0.7 21.5h0.6M14.6 15.8h0.6M1.8 23.9h0.6M-15.6 28.6h0.6M9.3 41.4h0.6M-8.1 6.6h0.6M3.2 40.4h0.6M13.5 16.1h0.6M-13.8 40.1h0.6M11.3 21.7h0.6M2.5 50.2h0.6M12.3 10.3h0.6M-7.5 11.6h0.6M-8.0 3.5h0.6M7.1 33.0h0.6M-19.1 16.9h0.6M-16.1 22.1h0.6M-21.7 20.7h0.6M-3.3 26.4h0.6M-3.5 7.9h0.6M28.0 25.5h0.6M-6.3 17.0h0.6M-0.3 0.4h0.6M-0.4 22.0h0.6M-16.6 35.1h0.6M-26.2 22.2h0.6M-5.7 39.4h0.6M26.3 25.4h0.6M-14.5 37.5h0.6M-3.2 8.3h0.6M-9.2 42.6h0.6M-28.2 15.6h0.6M-1.8 41.1h0.6M0.9 12.6h0.6M12.4 28.4h0.6M-14.0 9.4h0.6M-25.4 21.1h0.6M20.7 18.1h0.6M-25.1 20.7h0.6M-2.5 35.6h0.6M-10.9 17.8h0.6M9.9 45.6h0.6M17.2 18.4h0.6M-6.1 21.6h0.6M0.6 0.7h0.6M-9.3 5.6h0.6M-18.4 30.7h0.6M-19.2 20.6h0.6M-19.5 16.0h0.6M-3.6 35.5h0.6M-19.9 30.7h0.6M-8.4 7.2h0.6M-21.3 10.2h0.6M24.4 27.5h0.6M11.7 48.3h0.6M-4.9 19.7h0.6M-0.9 22.8h0.6M-7.2 40.6h0.6M5.9 53.3h0.6M22.9 19.4h0.6M-9.2 11.2h0.6M20.2 17.3h0.6M23.7 26.9h0.6M12.1 27.2h0.6M8.1 26.3h0.6M-9.8 44.0h0.6M-4.6 44.3h0.6M21.3 18.1h0.6M10.6 42.7h0.6M-2.9 13.8h0.6M18.8 20.6h0.6M-0.0 41.9h0.6M-22.7 21.0h0.6M3.6 33.0h0.6M-7.0 45.6h0.6M9.1 49.8h0.6M-5.5 53.5h0.6M-12.2 19.1h0.6M-1.7 37.9h0.6M3.4 4.7h0.6M-4.2 17.1h0.6M-10.8 40.5h0.6M-21.3 14.2h0.6M0.2 25.4h0.6M-6.0 38.8h0.6M-19.0 13.9h0.6M11.1 26.3h0.6M-11.3 35.3h0.6M22.5 30.8h0.6M-10.6 10.8h0.6M-20.2 19.9h0.6M24.9 27.2h0.6M-15.7 15.0h0.6M-12.8 11.7h0.6M-5.2 39.4h0.6M23.6 30.9h0.6M-6.5 27.6h0.6M-5.2 52.1h0.6M-5.5 10.9h0.6M-16.2 9.6h0.6M-18.9 23.2h0.6M-5.3 8.1h0.6M4.4 50.8h0.6M-4.1 53.6h0.6M-2.2 4.7h0.6M19.8 22.2h0.6M11.6 13.9h0.6M-23.1 15.5h0.6M-6.2 45.3h0.6M-4.0 48.4h0.6M-2.3 45.5h0.6M-11.4 43.2h0.6M-13.7 12.9h0.6M-8.1 12.7h0.6M7.0 19.8h0.6M-5.8 3.5h0.6M-14.9 18.2h0.6M-2.9 44.8h0.6M-11.3 19.5h0.6M-1.6 40.2h0.6M5.2 7.5h0.6M-11.5 34.2h0.6M-19.8 15.8h0.6M-4.7 42.3h0.6M-3.4 36.0h0.6M2.0 10.1h0.6M17.1 43.9h0.6M17.5 12.8h0.6M10.2 8.6h0.6M-0.3 34.3h0.6M-11.2 23.1h0.6M12.7 37.5h0.6M0.5 20.8h0.6M3.3 41.5h0.6M-21.6 29.6h0.6M-2.1 18.7h0.6M-6.2 47.3h0.6M-0.8 40.1h0.6M-22.5 25.8h0.6M-8.0 9.6h0.6M-25.5 13.1h0.6M11.3 19.9h0.6M13.1 47.9h0.6M-3.2 20.4h0.6M-21.6 12.5h0.6M-10.2 44.5h0.6M7.9 24.7h0.6M-6.4 47.7h0.6M23.6 27.6h0.6M6.6 32.9h0.6M-8.0 43.0h0.6M22.4 24.2h0.6M0.3 17.4h0.6M-8.1 10.8h0.6M-12.6 5.2h0.6M-19.7 22.6h0.6M-12.3 33.3h0.6M5.1 16.6h0.6M3.6 4.8h0.6M18.3 39.4h0.6M10.4 7.6h0.6M16.5 43.0h0.6M-6.4 16.8h0.6M21.9 21.1h0.6M-5.9 54.0h0.6M14.7 46.0h0.6M19.7 43.7h0.6M-23.4 15.9h0.6M-5.5 6.9h0.6M-1.0 16.5h0.6M-12.5 24.6h0.6M-8.7 33.3h0.6M5.9 55.0h0.6M-8.3 33.6h0.6M6.4 56.8h0.6M-13.2 20.9h0.6M-15.8 14.6h0.6M-18.2 22.8h0.6M15.2 25.2h0.6M-18.1 7.1h0.6M-13.4 17.3h0.6M-14.5 8.4h0.6M8.4 9.2h0.6M1.7 37.2h0.6M4.0 28.6h0.6M-26.9 22.5h0.6M14.1 36.2h0.6M13.0 44.3h0.6M-17.5 13.9h0.6M4.5 12.7h0.6M-2.7 10.7h0.6M2.5 43.8h0.6M-5.7 10.0h0.6M3.3 23.2h0.6M8.7 41.0h0.6M-13.9 39.8h0.6M-15.7 34.5h0.6M1.9 8.4h0.6M-5.2 54.5h0.6M-20.9 26.7h0.6M14.1 45.1h0.6M-1.0 18.8h0.6M-8.6 42.4h0.6M19.9 36.4h0.6M7.2 11.5h0.6M-4.9 20.7h0.6M10.2 29.0h0.6M4.1 4.9h0.6M-23.0 12.3h0.6M-1.0 35.9h0.6M0.1 43.6h0.6M6.1 46.9h0.6M14.4 30.2h0.6M-16.9 17.0h0.6M-18.9 16.6h0.6M8.1 12.6h0.6M-1.6 32.3h0.6M16.8 43.7h0.6M-7.9 21.9h0.6M-19.1 27.3h0.6M-12.4 19.5h0.6M-0.3 46.7h0.6M25.2 27.0h0.6M8.6 25.6h0.6M16.3 23.8h0.6M5.4 13.9h0.6M-2.7 5.4h0.6M-8.2 37.8h0.6M27.5 24.3h0.6M-7.3 21.2h0.6M-1.5 20.4h0.6M-4.3 17.3h0.6M18.5 27.7h0.6M13.5 28.7h0.6M6.5 6.6h0.6M24.4 23.2h0.6M10.7 12.1h0.6M0.2 30.5h0.6M18.8 34.8h0.6M-17.5 35.8h0.6M-9.2 10.4h0.6M8.4 6.2h0.6M12.7 44.1h0.6M22.5 31.3h0.6M-27.8 21.5h0.6M13.3 26.0h0.6M7.6 18.1h0.6M-20.1 20.8h0.6M-13.6 11.1h0.6M-22.8 14.7h0.6M-1.7 20.2h0.6M-0.7 11.2h0.6M8.3 11.8h0.6M23.0 28.5h0.6M3.5 34.7h0.6M-10.6 31.6h0.6M-12.3 42.2h0.6M-12.7 12.9h0.6M-11.7 42.0h0.6M-0.8 7.8h0.6M23.5 25.7h0.6M-14.9 14.4h0.6M-11.6 17.4h0.6M-6.2 45.2h0.6M-24.3 17.1h0.6M1.0 16.5h0.6M11.5 23.2h0.6M2.1 9.2h0.6M-2.5 14.9h0.6M-19.1 13.0h0.6M6.5 43.7h0.6M-4.3 11.6h0.6M18.4 41.8h0.6M2.0 22.4h0.6M-15.7 23.5h0.6M20.3 18.1h0.6M16.5 13.9h0.6M6.8 25.5h0.6M-8.5 19.3h0.6M18.4 14.9h0.6M-13.2 6.0h0.6M0.4 32.3h0.6M-3.1 42.6h0.6M23.7 31.7h0.6M4.9 2.4h0.6M-17.1 9.1h0.6M-20.4 19.0h0.6M7.4 9.0h0.6M-6.4 20.0h0.6M17.1 12.6h0.6M-16.2 38.0h0.6M-2.9 31.6h0.6M-6.9 18.7h0.6M-21.3 27.5h0.6M-24.5 13.6h0.6M8.3 14.6h0.6M-9.5 20.2h0.6M-23.4 14.3h0.6M2.0 7.7h0.6M-2.0 13.9h0.6M-14.0 19.5h0.6M14.0 29.2h0.6M-18.3 17.6h0.6M-26.8 15.2h0.6M-1.8 21.0h0.6M-20.1 11.1h0.6M-9.4 6.1h0.6M-5.7 38.7h0.6M11.9 42.3h0.6M14.9 10.8h0.6M23.2 22.7h0.6M-6.2 29.7h0.6M-1.3 29.0h0.6M-4.3 39.8h0.6M-15.1 9.6h0.6M-1.8 1.9h0.6M10.0 28.9h0.6M18.7 36.6h0.6M-16.1 20.0h0.6M10.9 22.3h0.6M3.3 46.4h0.6M-25.1 18.0h0.6M2.4 44.1h0.6M15.7 44.6h0.6M11.6 31.6h0.6M-26.4 20.3h0.6M-20.2 18.3h0.6M8.5 49.4h0.6M-17.8 34.4h0.6M-10.7 37.7h0.6M-9.4 35.1h0.6M1.6 11.6h0.6M-26.4 20.8h0.6M-10.2 9.3h0.6M3.7 2.3h0.6M-14.3 39.8h0.6M10.0 46.5h0.6M13.2 20.8h0.6M-17.1 17.8h0.6M-9.4 39.8h0.6M10.6 11.5h0.6M-14.0 38.8h0.6M12.0 40.4h0.6M-14.7 11.8h0.6M-8.3 43.9h0.6M-22.7 20.0h0.6M-9.7 18.3h0.6M23.3 23.1h0.6M-7.0 20.9h0.6M-14.9 24.3h0.6M-7.0 29.6h0.6M17.8 36.2h0.6M-11.5 14.2h0.6M-1.2 46.8h0.6M-5.9 11.9h0.6M-12.9 33.9h0.6M-5.9 14.6h0.6M-12.0 17.5h0.6M-18.2 9.6h0.6M3.1 15.6h0.6M2.4 1.0h0.6M-9.7 20.9h0.6M-5.3 48.4h0.6M-25.0 12.3h0.6M18.4 14.2h0.6M7.1 45.3h0.6M-17.0 29.5h0.6M-10.5 38.4h0.6M3.5 14.3h0.6M-2.6 50.9h0.6M-14.1 20.4h0.6M22.3 21.7h0.6M11.0 38.8h0.6M12.3 8.9h0.6M-15.0 39.1h0.6M9.2 49.4h0.6M4.2 13.4h0.6M2.5 28.4h0.6M-4.8 49.3h0.6M8.1 23.2h0.6M-3.1 4.4h0.6M3.7 34.0h0.6M-8.9 33.2h0.6M-5.4 53.9h0.6M6.5 29.5h0.6M6.0 9.8h0.6M-11.6 22.9h0.6M-3.5 25.3h0.6M-10.3 14.4h0.6M-23.2 16.6h0.6M-17.7 26.7h0.6M20.3 38.9h0.6M-15.2 13.2h0.6M1.9 14.7h0.6M-26.7 16.4h0.6M11.5 28.3h0.6M21.3 29.8h0.6M-25.4 24.4h0.6M19.5 24.6h0.6M-10.0 17.5h0.6M21.7 21.7h0.6M-12.3 20.0h0.6M-11.7 27.6h0.6M2.0 21.9h0.6M-9.1 3.7h0.6M-14.9 29.4h0.6M-12.5 36.5h0.6M-3.5 36.1h0.6M20.5 17.6h0.6M-12.9 13.6h0.6M19.4 24.5h0.6M-12.4 15.6h0.6M-1.3 12.2h0.6M-11.3 34.9h0.6M-7.6 20.1h0.6M12.7 29.9h0.6M5.6 10.8h0.6M-3.4 52.0h0.6M-6.0 39.7h0.6M9.7 42.3h0.6M-20.9 16.7h0.6M-17.5 7.0h0.6M-3.2 10.1h0.6M-20.5 29.5h0.6M-4.7 43.6h0.6M7.5 13.7h0.6M-26.9 14.4h0.6M-14.1 10.0h0.6M-26.0 15.7h0.6M-16.3 19.8h0.6M-19.3 19.6h0.6M-18.1 28.0h0.6M24.2 30.2h0.6M-8.2 44.0h0.6M-7.3 7.3h0.6M1.2 8.9h0.6M-4.7 23.3h0.6M-15.2 5.8h0.6M14.1 22.0h0.6M-1.5 21.4h0.6M6.2 47.9h0.6M2.3 34.3h0.6M-21.3 27.4h0.6M16.3 39.2h0.6M-6.7 46.7h0.6M2.8 27.2h0.6M10.9 26.2h0.6M-2.4 13.8h0.6M6.2 42.8h0.6M1.2 34.9h0.6M20.5 40.0h0.6M-27.1 17.0h0.6M2.2 42.0h0.6M-12.6 18.8h0.6M20.4 29.4h0.6M23.0 28.8h0.6M-19.3 24.6h0.6M-7.6 5.9h0.6M3.0 10.4h0.6M-19.6 12.3h0.6M5.8 53.9h0.6M11.5 45.9h0.6M7.8 6.8h0.6M-0.0 37.6h0.6M-7.2 37.2h0.6M-2.0 22.9h0.6M14.0 37.0h0.6M-23.4 21.8h0.6M7.8 17.6h0.6M14.9 41.3h0.6M-18.8 14.9h0.6M15.3 43.9h0.6M-15.0 23.2h0.6M-12.2 16.1h0.6M2.3 14.5h0.6M13.7 28.5h0.6M11.9 43.8h0.6M-16.9 24.2h0.6M12.3 42.2h0.6M-2.1 33.8h0.6M17.6 22.3h0.6M-14.9 13.1h0.6M-1.1 11.4h0.6M5.1 19.7h0.6M-15.3 19.5h0.6M4.1 44.9h0.6M10.8 29.0h0.6M17.0 40.7h0.6M9.9 14.3h0.6M6.2 54.6h0.6M-26.0 12.6h0.6M-0.5 41.3h0.6M11.7 43.8h0.6M11.8 15.8h0.6M-1.5 1.0h0.6M-25.1 18.1h0.6M3.6 36.0h0.6M-2.7 23.4h0.6M7.5 9.8h0.6M-25.5 23.7h0.6M13.5 29.6h0.6M13.5 29.3h0.6M14.2 29.1h0.6M-11.8 9.9h0.6M-23.5 16.5h0.6M-14.9 22.0h0.6M-7.7 15.5h0.6M5.0 11.9h0.6M23.9 24.5h0.6M16.9 39.3h0.6M-7.2 45.2h0.6M8.8 42.0h0.6M0.1 13.4h0.6M-23.3 14.7h0.6M-12.5 32.3h0.6M20.6 40.3h0.6M22.9 30.2h0.6M-15.4 17.0h0.6M3.4 47.1h0.6M-0.1 6.2h0.6M-8.8 36.5h0.6M0.2 23.0h0.6M-1.2 43.0h0.6M11.5 9.2h0.6M-28.1 17.5h0.6M1.3 10.0h0.6M5.2 39.0h0.6M-1.2 18.4h0.6M-4.1 53.3h0.6M3.9 41.5h0.6M13.1 11.0h0.6M24.7 23.6h0.6M-16.1 17.7h0.6M-5.7 5.7h0.6M-19.5 15.2h0.6M8.2 17.0h0.6M-7.3 4.9h0.6M-25.7 15.2h0.6M11.9 44.4h0.6M-14.6 35.6h0.6M10.2 29.6h0.6M4.8 50.8h0.6M6.9 25.6h0.6M22.3 25.4h0.6M-22.5 12.9h0.6M-6.6 2.4h0.6M26.4 27.3h0.6M-5.2 22.6h0.6M9.3 16.6h0.6M21.6 22.6h0.6M-22.4 25.1h0.6M6.4 49.9h0.6M-1.5 10.4h0.6M-9.3 37.7h0.6M-0.1 12.3h0.6M-4.5 28.9h0.6M-1.1 37.6h0.6M-16.6 21.9h0.6M15.7 10.1h0.6M-2.0 41.8h0.6M18.2 39.8h0.6M-10.4 9.1h0.6M3.0 9.1h0.6M-1.2 12.5h0.6M-40.4 24.5h0.6M-25.0 25.2h0.6M-0.1 19.7h0.6M-2.5 2.3h0.6M-4.7 18.4h0.6M6.3 13.7h0.6M-15.4 38.4h0.6M-7.4 20.3h0.6M-6.4 12.7h0.6M7.8 10.6h0.6M7.1 42.3h0.6M-14.1 34.6h0.6M4.7 17.8h0.6M7.3 18.5h0.6M-13.3 30.4h0.6M7.0 25.3h0.6M19.7 36.0h0.6M12.6 29.1h0.6M-23.3 26.9h0.6M24.7 22.4h0.6M-8.7 40.2h0.6M-2.1 43.3h0.6M5.6 51.7h0.6M9.1 46.1h0.6M-2.8 42.8h0.6M2.6 45.4h0.6M6.1 5.1h0.6M-1.5 43.6h0.6M-16.6 7.0h0.6M-0.9 37.0h0.6M0.9 35.7h0.6M-22.7 27.2h0.6M-0.9 1.0h0.6M10.1 15.1h0.6M25.6 28.6h0.6M-18.7 17.0h0.6M-6.7 17.1h0.6M-25.0 12.8h0.6M-11.0 6.3h0.6M1.8 40.1h0.6M8.9 7.4h0.6M-13.3 6.4h0.6M1.2 23.0h0.6M-19.4 11.4h0.6M-4.7 21.5h0.6M-8.7 5.1h0.6M-8.1 19.4h0.6M1.0 7.0h0.6M-10.8 7.9h0.6M5.6 9.0h0.6M-17.8 12.6h0.6M-6.0 2.6h0.6M-14.9 36.3h0.6M-27.0 21.8h0.6M-13.1 35.3h0.6M-7.9 21.8h0.6M0.7 37.6h0.6M13.2 30.8h0.6M-7.0 12.6h0.6M3.0 23.8h0.6M5.1 22.9h0.6M0.7 7.6h0.6M12.0 27.1h0.6M-6.2 25.6h0.6M-0.0 17.4h0.6M25.1 21.9h0.6M5.3 48.5h0.6M-3.6 40.8h0.6M-1.3 9.0h0.6M-2.0 43.6h0.6M-3.2 50.7h0.6M3.7 39.4h0.6M-1.7 29.5h0.6M-12.3 41.6h0.6M5.2 22.4h0.6M-17.6 18.8h0.6M-12.9 18.9h0.6M-14.6 9.3h0.6M8.3 10.7h0.6M-12.4 23.7h0.6M-3.6 53.7h0.6M10.9 41.0h0.6M-0.2 6.3h0.6M12.1 12.6h0.6M3.5 32.5h0.6M18.1 38.2h0.6M-16.7 34.3h0.6M-8.3 7.6h0.6M14.6 44.0h0.6M-22.2 21.1h0.6M3.5 11.9h0.6M-4.3 34.3h0.6M-4.5 37.2h0.6M-16.9 20.5h0.6M-7.1 50.5h0.6M-18.6 23.5h0.6M-11.1 33.4h0.6M17.4 12.1h0.6M16.1 30.3h0.6M-4.6 12.4h0.6M-14.5 23.0h0.6M-6.5 18.8h0.6M23.8 30.7h0.6M-22.1 28.0h0.6M-4.8 37.8h0.6M-10.9 25.3h0.6M6.5 43.1h0.6M-26.9 18.8h0.6M9.6 21.7h0.6M12.3 30.2h0.6M18.4 42.2h0.6M-22.2 22.3h0.6M-11.1 6.5h0.6M-15.4 19.3h0.6M0.0 20.1h0.6M-10.1 40.0h0.6M-16.3 36.3h0.6M-3.7 6.9h0.6M-1.9 37.9h0.6M-10.9 7.7h0.6M-1.4 12.6h0.6M-27.1 20.7h0.6M-11.5 7.2h0.6M7.1 52.6h0.6M-20.0 13.2h0.6M-16.6 32.8h0.6M21.2 19.8h0.6M1.0 1.5h0.6M-4.7 35.7h0.6M17.7 17.4h0.6M-8.9 18.7h0.6M-10.3 19.1h0.6M4.2 29.9h0.6M-11.1 3.8h0.6M11.1 11.1h0.6M8.0 12.4h0.6M-10.1 21.5h0.6M-19.6 20.4h0.6M-6.7 16.4h0.6M-7.8 8.5h0.6M-6.7 35.8h0.6M-5.7 4.1h0.6M-26.3 22.1h0.6M6.8 49.2h0.6M-3.8 15.1h0.6M-1.2 20.8h0.6M-3.5 38.7h0.6M11.8 26.1h0.6M1.6 9.0h0.6M8.6 32.3h0.6M-14.7 24.0h0.6M14.1 28.3h0.6M-26.9 20.1h0.6M-13.0 21.1h0.6M-2.5 15.0h0.6M19.1 28.3h0.6M12.4 28.9h0.6M-4.8 13.4h0.6M-14.3 22.5h0.6M2.7 22.6h0.6M16.8 11.7h0.6M-13.3 18.5h0.6M-21.2 26.7h0.6M9.3 21.1h0.6M-11.6 42.7h0.6M15.4 42.9h0.6M-17.3 6.6h0.6M5.7 23.6h0.6M7.4 51.9h0.6M-7.5 22.5h0.6M-8.7 16.9h0.6M8.1 49.6h0.6M-4.8 54.5h0.6M24.5 27.9h0.6M2.3 39.8h0.6M0.5 38.2h0.6M7.4 11.4h0.6M-8.3 49.5h0.6M3.8 33.8h0.6M11.2 43.1h0.6M-16.5 13.1h0.6M9.1 12.3h0.6M-2.2 42.1h0.6M12.1 38.5h0.6M-3.6 50.4h0.6M-41.3 22.0h0.6M-23.0 27.1h0.6M5.9 13.4h0.6M-18.1 26.9h0.6M-27.8 17.6h0.6M-17.0 34.6h0.6M-9.3 36.1h0.6M-6.3 45.4h0.6M10.4 22.0h0.6M7.5 55.4h0.6M-20.6 17.0h0.6M-11.5 16.6h0.6M-5.3 42.0h0.6M-11.4 16.5h0.6M-13.5 7.6h0.6M-11.4 21.0h0.6M10.0 19.0h0.6M-5.1 16.6h0.6M-4.4 23.1h0.6M-19.8 22.5h0.6M-11.7 42.1h0.6M-7.3 28.8h0.6M3.5 19.3h0.6M-21.8 11.4h0.6M-12.9 37.9h0.6M8.9 12.8h0.6M22.4 27.9h0.6M-9.6 35.6h0.6M-4.5 28.2h0.6M-20.2 11.0h0.6M-8.4 44.9h0.6M24.2 24.3h0.6M-8.3 10.1h0.6M-5.0 4.1h0.6M-9.9 39.7h0.6M9.7 12.8h0.6M22.3 22.9h0.6M-22.6 25.5h0.6M-8.2 9.4h0.6M-3.0 33.2h0.6M-3.1 23.8h0.6M-4.2 51.6h0.6M12.0 16.8h0.6M1.3 4.9h0.6M-2.5 33.3h0.6M-6.8 3.3h0.6M12.2 21.8h0.6M-1.1 45.8h0.6M-14.0 12.2h0.6M-12.4 9.5h0.6M1.0 23.5h0.6M11.2 28.7h0.6M-5.8 4.7h0.6M1.2 2.5h0.6M-20.3 24.5h0.6M-7.9 16.3h0.6M-9.1 7.3h0.6M9.5 21.7h0.6M3.6 29.7h0.6M7.7 51.5h0.6M2.1 46.3h0.6M-1.5 35.2h0.6M7.9 15.5h0.6M-9.6 37.0h0.6M-5.0 1.8h0.6M19.6 27.6h0.6M0.4 30.3h0.6M5.9 5.0h0.6M9.0 7.0h0.6M-8.4 22.1h0.6M19.2 26.4h0.6M5.3 13.1h0.6M-13.2 6.0h0.6M-3.7 37.8h0.6M-17.2 34.9h0.6M-5.5 2.4h0.6M-21.0 9.7h0.6M-16.1 21.4h0.6M-12.4 9.5h0.6M-19.1 17.4h0.6M-9.3 6.6h0.6M-17.1 16.1h0.6M-0.3 42.2h0.6M7.1 53.3h0.6M0.5 46.2h0.6M12.1 43.7h0.6M-21.9 16.2h0.6M4.8 8.8h0.6M-6.7 9.8h0.6M21.7 20.9h0.6M-6.7 37.7h0.6M16.3 37.2h0.6M-7.2 46.8h0.6M11.1 10.0h0.6M-20.3 18.5h0.6M19.6 28.0h0.6M-4.1 51.5h0.6M-3.7 46.2h0.6M6.9 29.7h0.6M-18.1 20.4h0.6M13.5 28.2h0.6M-25.7 23.6h0.6M9.1 8.4h0.6M-6.7 20.5h0.6M-1.5 9.3h0.6M14.7 19.2h0.6M-0.8 20.7h0.6M-19.7 16.3h0.6M-13.3 5.6h0.6M-0.7 11.9h0.6M7.8 51.7h0.6M-2.2 21.3h0.6M-12.6 22.2h0.6M-1.4 34.0h0.6M-6.8 37.9h0.6M-1.6 35.3h0.6M-5.9 14.8h0.6M-6.2 33.3h0.6M0.7 11.6h0.6M-7.0 49.0h0.6M-26.6 20.5h0.6M12.6 28.6h0.6M20.5 42.1h0.6M13.3 45.6h0.6M-5.4 6.6h0.6M-5.7 53.3h0.6M-19.9 10.4h0.6M-17.8 16.9h0.6M5.3 7.0h0.6M23.1 25.9h0.6M6.6 28.4h0.6M-6.8 18.9h0.6M6.2 48.4h0.6M-10.9 14.9h0.6M-2.9 10.6h0.6M-18.7 30.1h0.6M25.7 27.9h0.6M-1.8 43.8h0.6M11.3 38.4h0.6M-17.7 33.2h0.6M5.2 30.3h0.6M7.2 19.6h0.6M11.1 28.8h0.6M-15.2 6.1h0.6M8.8 23.6h0.6M-17.7 14.4h0.6M9.7 21.3h0.6M-8.0 6.2h0.6M-8.1 42.1h0.6M-27.2 21.5h0.6M-14.5 35.0h0.6M-6.2 32.1h0.6M12.8 42.8h0.6M-2.7 39.6h0.6M2.3 3.3h0.6M17.5 32.4h0.6M-20.4 26.4h0.6M4.1 9.2h0.6M-13.3 6.2h0.6M-12.1 26.1h0.6M-25.8 20.9h0.6M-2.4 48.4h0.6M25.1 24.1h0.6M11.9 44.5h0.6M-2.7 6.3h0.6M-8.7 35.8h0.6M-1.8 20.5h0.6M-10.7 10.0h0.6M-18.8 30.9h0.6M-17.5 19.2h0.6M-4.6 2.6h0.6M-8.0 23.5h0.6M24.1 31.3h0.6M14.3 15.1h0.6M20.8 24.1h0.6M-4.2 54.5h0.6M2.9 37.1h0.6M-16.5 17.9h0.6M18.6 36.3h0.6M-18.9 16.0h0.6M-22.1 27.3h0.6M-16.4 34.9h0.6M-16.1 33.9h0.6M-1.5 3.3h0.6M-2.8 42.7h0.6M-3.2 33.4h0.6M-23.6 14.4h0.6M-6.4 43.3h0.6M12.6 45.6h0.6M-10.1 40.8h0.6M-0.2 43.9h0.6M-7.8 10.8h0.6M10.1 30.5h0.6M11.5 27.9h0.6M12.4 12.3h0.6M-12.5 33.7h0.6M-1.9 15.1h0.6M-17.5 30.6h0.6M-0.1 31.6h0.6M-1.3 38.1h0.6M-8.8 24.6h0.6M-3.0 52.5h0.6M-6.6 18.4h0.6M-6.4 18.3h0.6M-3.3 33.6h0.6M3.4 6.5h0.6M-15.1 22.8h0.6M-6.1 9.2h0.6M-9.1 12.5h0.6M-26.4 22.2h0.6M-11.1 39.5h0.6M-4.7 21.8h0.6M10.5 26.3h0.6M-24.9 16.7h0.6M24.8 30.5h0.6M-20.8 13.4h0.6M-0.0 5.2h0.6M8.7 50.7h0.6M-23.7 11.2h0.6M6.9 55.7h0.6M-6.9 13.6h0.6M12.8 18.8h0.6M-18.7 35.9h0.6M10.6 46.0h0.6M-4.0 39.0h0.6M-11.2 43.9h0.6M-3.0 5.9h0.6M-7.9 49.8h0.6M-15.7 20.8h0.6M-4.5 48.1h0.6M-11.2 43.1h0.6M12.3 38.3h0.6M-8.6 43.6h0.6M21.1 20.0h0.6M-28.1 18.7h0.6M-11.9 43.1h0.6M-5.2 34.0h0.6M-9.2 21.5h0.6M4.8 32.9h0.6M-20.0 9.0h0.6M-3.4 12.5h0.6M16.4 38.0h0.6M-11.7 18.8h0.6M-10.3 31.0h0.6M6.6 15.1h0.6M-3.1 50.3h0.6M-17.5 35.8h0.6M21.1 41.1h0.6M-25.9 22.6h0.6M-2.4 34.9h0.6M2.9 21.4h0.6M4.9 56.6h0.6M-15.8 22.2h0.6M-1.1 36.1h0.6M3.0 25.3h0.6M3.8 7.5h0.6M-0.6 5.5h0.6M-0.0 12.1h0.6M3.6 23.4h0.6M-18.7 9.8h0.6M-2.9 45.5h0.6M-4.0 32.9h0.6M-9.3 14.2h0.6M7.3 56.4h0.6M19.2 42.0h0.6M13.2 16.0h0.6M20.8 18.4h0.6M-0.4 16.4h0.6M-7.5 22.6h0.6M15.0 11.7h0.6M7.3 41.6h0.6M-20.8 13.5h0.6M0.6 1.7h0.6M3.7 23.5h0.6M-1.2 14.6h0.6M12.3 28.9h0.6M-1.6 2.1h0.6M6.0 6.1h0.6M5.2 53.1h0.6M-19.9 14.5h0.6M6.5 23.6h0.6M12.8 15.9h0.6M-2.2 21.4h0.6M-19.8 29.1h0.6M1.1 36.3h0.6M-13.5 38.8h0.6M-25.8 13.6h0.6M-17.0 16.2h0.6M-2.5 37.5h0.6M13.4 17.1h0.6M-1.6 35.0h0.6M-3.2 35.3h0.6M-16.6 8.3h0.6M22.3 24.4h0.6M14.0 44.0h0.6M-22.7 26.7h0.6M21.2 17.3h0.6M-19.7 27.4h0.6M-0.9 4.9h0.6M-5.1 8.2h0.6M-12.3 14.8h0.6M5.4 9.6h0.6M24.8 24.2h0.6M10.3 30.4h0.6M5.9 54.6h0.6M5.6 15.5h0.6M-21.2 20.0h0.6M-18.5 34.3h0.6M-2.7 38.4h0.6M-5.4 53.9h0.6M-21.4 21.5h0.6M-3.2 50.5h0.6M12.0 29.4h0.6M3.9 19.0h0.6M10.5 22.5h0.6M-7.1 3.5h0.6M-5.5 50.0h0.6M-10.6 39.3h0.6M19.1 37.7h0.6M-0.8 38.4h0.6M-18.1 18.9h0.6M11.6 19.5h0.6M-17.6 30.3h0.6M11.5 16.3h0.6M19.6 36.5h0.6M-4.6 50.7h0.6M-23.1 20.1h0.6M12.9 22.9h0.6M-10.8 18.2h0.6M3.0 1.3h0.6M10.8 21.1h0.6M3.0 6.5h0.6M6.2 14.9h0.6M-11.5 13.5h0.6M-22.7 12.8h0.6M-4.1 35.0h0.6M-7.1 6.8h0.6M-0.5 32.5h0.6M-6.1 39.6h0.6M12.3 29.9h0.6M7.0 56.7h0.6M-6.4 21.5h0.6M-28.1 18.9h0.6M-3.6 23.1h0.6M-5.0 18.9h0.6M14.7 37.1h0.6M-22.7 12.7h0.6M5.6 26.4h0.6M6.9 57.2h0.6M-26.0 18.9h0.6M8.7 47.6h0.6M-25.1 25.0h0.6M20.5 40.1h0.6M4.4 8.4h0.6M8.4 23.0h0.6M-11.5 43.2h0.6M-9.3 28.1h0.6M1.1 2.8h0.6M-15.2 23.9h0.6M-13.7 13.4h0.6M-18.7 19.7h0.6M8.3 14.6h0.6M-0.1 44.3h0.6M16.5 24.7h0.6M-8.4 23.0h0.6M-15.9 32.5h0.6M10.6 22.5h0.6M2.9 5.4h0.6M-3.9 38.8h0.6M-7.9 23.0h0.6M-17.2 21.7h0.6M3.1 17.3h0.6M-8.2 20.4h0.6M7.1 22.3h0.6M15.6 41.4h0.6M-10.9 10.6h0.6M3.9 35.1h0.6M14.1 31.8h0.6M-13.8 22.0h0.6M-24.2 19.5h0.6M-23.1 22.7h0.6M1.8 5.6h0.6M-14.8 31.6h0.6M11.2 39.7h0.6M4.9 12.7h0.6M-6.9 45.6h0.6M-24.8 21.0h0.6M2.8 50.0h0.6M-1.7 33.8h0.6M-8.3 17.6h0.6M-26.1 19.6h0.6M-1.9 13.0h0.6M-23.0 19.6h0.6M20.3 17.5h0.6M5.9 32.7h0.6M2.1 30.8h0.6M-3.6 37.7h0.6M-3.6 32.5h0.6M-0.6 35.0h0.6M1.1 37.5h0.6M1.4 22.4h0.6M15.1 10.3h0.6M13.2 18.9h0.6M-10.4 19.3h0.6M7.6 55.6h0.6M19.7 36.7h0.6M-10.2 17.7h0.6M18.0 36.4h0.6M-1.0 38.5h0.6M-20.6 22.2h0.6M24.6 29.6h0.6M-17.2 16.9h0.6M-0.7 38.7h0.6M-1.7 15.4h0.6M-6.9 35.6h0.6M-27.9 18.7h0.6M-2.6 22.1h0.6M-23.5 24.1h0.6M10.6 13.5h0.6M7.3 31.7h0.6M-21.3 16.8h0.6M9.6 16.4h0.6M1.9 32.4h0.6M-19.1 30.3h0.6M-16.9 16.4h0.6M-7.4 44.8h0.6M4.3 20.2h0.6M-18.4 7.9h0.6M-28.5 20.4h0.6M-2.4 43.2h0.6M27.2 26.8h0.6M3.3 43.5h0.6M13.1 23.1h0.6M20.8 30.1h0.6M6.6 7.1h0.6M-15.9 38.6h0.6M6.2 23.1h0.6M-13.1 21.7h0.6M8.4 38.6h0.6M7.9 24.6h0.6M25.6 22.2h0.6M-18.2 13.1h0.6M12.3 19.1h0.6M2.1 18.0h0.6M7.8 15.3h0.6M-3.4 30.8h0.6M3.1 33.3h0.6M7.7 42.4h0.6M-6.2 37.8h0.6M-1.4 50.6h0.6M12.4 30.8h0.6M-10.9 14.2h0.6M-3.6 45.1h0.6M-5.6 50.2h0.6M-11.2 25.9h0.6M-22.4 12.8h0.6M-5.2 24.8h0.6M-4.8 22.2h0.6M8.7 13.2h0.6M-10.2 36.9h0.6M-7.0 33.5h0.6M5.9 31.6h0.6M-0.1 7.7h0.6M-0.4 0.3h0.6M-15.6 22.2h0.6M-5.7 42.7h0.6M-3.0 11.0h0.6M-11.7 19.7h0.6M-1.3 11.9h0.6M6.4 4.5h0.6M13.8 45.9h0.6M8.8 12.9h0.6M-4.1 53.1h0.6M21.3 30.9h0.6M-4.6 17.6h0.6M-22.7 10.1h0.6M16.6 38.5h0.6M-20.3 11.2h0.6M-4.1 48.0h0.6M-17.9 24.1h0.6M-16.8 35.7h0.6M9.3 10.2h0.6M3.8 49.2h0.6M-6.0 49.5h0.6M6.2 8.4h0.6M-1.0 40.4h0.6M-19.6 19.1h0.6M-0.3 8.0h0.6M23.5 28.7h0.6M-4.5 10.9h0.6M-15.4 29.2h0.6M11.0 26.4h0.6M-2.4 9.0h0.6M-17.4 7.9h0.6M5.9 56.2h0.6M-3.3 24.6h0.6M6.1 17.1h0.6M-3.1 19.2h0.6M-9.7 22.2h0.6M21.8 24.3h0.6M-23.6 18.9h0.6M1.4 6.4h0.6M-17.9 14.0h0.6M-17.1 34.5h0.6M-2.7 9.4h0.6M16.0 10.3h0.6M-5.6 40.7h0.6M-12.2 37.4h0.6M-15.5 29.7h0.6M4.6 11.6h0.6M-11.0 17.0h0.6M-4.4 9.1h0.6M-3.8 50.8h0.6M-4.1 44.4h0.6M12.7 41.3h0.6M-14.6 39.8h0.6M-4.9 39.9h0.6M-19.1 12.4h0.6M3.3 4.9h0.6M-13.2 31.5h0.6M-4.4 13.3h0.6M-15.8 12.8h0.6M-26.9 19.3h0.6M-7.9 3.5h0.6M3.3 45.8h0.6M-8.6 8.4h0.6M-4.8 48.4h0.6M-17.9 8.7h0.6M1.1 17.9h0.6M-21.8 22.4h0.6M-12.2 11.3h0.6M21.2 30.8h0.6M-16.2 8.5h0.6M-2.4 33.1h0.6M-14.7 12.9h0.6M-6.3 33.9h0.6M-28.8 15.5h0.6M-22.7 15.5h0.6M-10.4 3.5h0.6M-5.1 49.9h0.6M-2.7 48.8h0.6M3.7 12.0h0.6M-16.9 10.2h0.6M-24.6 17.4h0.6M-1.3 44.4h0.6M14.2 45.3h0.6M-4.1 38.2h0.6M6.5 50.7h0.6M8.6 15.6h0.6M-9.6 15.7h0.6M-9.0 12.0h0.6M-22.7 17.5h0.6M-16.7 29.9h0.6M-24.4 25.4h0.6M-12.1 9.7h0.6M-10.3 44.0h0.6M-7.3 2.5h0.6M-13.7 10.3h0.6M0.7 10.2h0.6M5.4 22.3h0.6M-28.7 18.9h0.6M3.9 1.8h0.6M-11.2 35.1h0.6M-1.7 11.0h0.6M5.2 53.6h0.6M-12.3 32.7h0.6M-7.5 24.1h0.6M11.9 30.3h0.6M-6.4 45.0h0.6M-4.7 34.3h0.6M9.9 49.9h0.6M-6.5 35.2h0.6M-4.2 53.2h0.6M1.9 37.1h0.6M-3.0 34.5h0.6M1.6 37.0h0.6M2.5 22.3h0.6M-3.8 10.9h0.6M0.6 16.8h0.6M7.4 57.0h0.6M-0.4 28.2h0.6M6.2 57.0h0.6M5.9 54.8h0.6M-10.1 41.6h0.6M-17.3 18.7h0.6M0.8 14.5h0.6M-13.4 10.9h0.6M16.4 45.2h0.6M8.1 38.9h0.6M14.5 40.2h0.6M2.2 31.7h0.6M-7.8 19.1h0.6M-11.3 21.4h0.6M21.2 26.8h0.6M18.1 45.0h0.6M-8.4 28.0h0.6M11.8 37.7h0.6M0.7 35.8h0.6M5.2 27.9h0.6M-7.4 50.4h0.6M5.0 6.1h0.6M2.6 39.4h0.6M2.5 28.1h0.6M-4.0 34.1h0.6M-25.4 21.3h0.6M-4.3 13.9h0.6M19.9 26.5h0.6M9.0 25.8h0.6M-0.2 12.9h0.6M-3.2 26.7h0.6M-2.6 28.7h0.6M-19.9 14.6h0.6M-21.0 13.7h0.6M-19.2 25.8h0.6M-13.5 33.1h0.6M-7.3 22.3h0.6M3.3 40.6h0.6M-14.6 8.8h0.6M3.5 43.7h0.6M-0.6 40.5h0.6M-7.9 10.9h0.6M-11.2 21.5h0.6M-4.4 7.1h0.6M5.2 14.8h0.6M20.2 24.4h0.6M10.8 13.4h0.6M19.4 29.1h0.6M-4.4 46.0h0.6M25.8 25.2h0.6M-19.8 21.1h0.6M-15.5 22.5h0.6M-6.5 45.1h0.6M-16.4 6.1h0.6M-14.0 17.6h0.6M-5.5 46.1h0.6M-5.9 26.6h0.6M11.1 26.0h0.6M5.4 31.2h0.6M-15.3 7.1h0.6M-4.0 20.4h0.6M-5.6 51.0h0.6M1.9 10.6h0.6M9.0 19.2h0.6M-22.6 23.7h0.6M-27.0 16.1h0.6M-7.2 31.7h0.6M-11.3 13.5h0.6M19.5 24.8h0.6M7.3 57.9h0.6M2.8 16.7h0.6M6.9 51.5h0.6M7.4 21.5h0.6M-5.5 46.5h0.6M22.2 29.0h0.6M-1.0 44.6h0.6M12.7 10.1h0.6M-7.6 42.6h0.6M-4.1 19.9h0.6M-4.9 53.2h0.6M-8.3 4.0h0.6M-1.2 0.4h0.6M-7.0 44.4h0.6M-12.2 33.0h0.6M-2.4 22.7h0.6M14.8 39.4h0.6M6.7 56.9h0.6M11.0 41.7h0.6M-8.6 41.6h0.6M-3.2 50.3h0.6M-8.5 38.9h0.6M24.6 29.1h0.6M-3.4 12.2h0.6M-16.0 33.9h0.6M-10.3 6.3h0.6M-10.5 29.1h0.6M1.7 45.9h0.6M-6.9 51.6h0.6M19.4 26.9h0.6M-2.3 12.6h0.6M-21.0 29.7h0.6M-23.2 13.2h0.6M20.5 27.1h0.6M-4.8 27.4h0.6M8.1 11.0h0.6M20.5 42.1h0.6M10.5 22.8h0.6M-10.0 39.9h0.6M-18.0 16.4h0.6M-4.0 19.9h0.6M-3.9 54.7h0.6M0.8 10.1h0.6M-2.1 0.9h0.6M-1.1 40.3h0.6M-25.0 23.5h0.6M7.5 12.6h0.6M-10.4 3.4h0.6M6.5 18.6h0.6M-0.9 9.0h0.6M-12.1 18.9h0.6M9.7 44.2h0.6M-15.8 8.6h0.6M17.5 13.9h0.6M20.4 17.6h0.6M8.4 30.9h0.6M4.9 20.8h0.6M-22.6 22.7h0.6M5.6 33.5h0.6M-9.9 19.7h0.6M-12.2 8.9h0.6M18.4 22.1h0.6M-14.9 22.9h0.6M-5.1 50.1h0.6M7.1 50.5h0.6M-8.4 39.4h0.6M-3.0 7.8h0.6M-15.1 35.8h0.6M11.7 29.1h0.6M-5.5 35.2h0.6M-5.0 50.4h0.6M13.4 27.9h0.6M-8.8 2.7h0.6M-2.6 11.6h0.6M12.5 9.9h0.6M1.8 21.6h0.6M-13.5 10.0h0.6M-3.0 52.6h0.6M4.8 31.2h0.6M23.0 20.2h0.6M-5.8 20.4h0.6M17.5 37.1h0.6M17.5 13.2h0.6M-15.2 17.5h0.6M2.5 9.2h0.6M11.4 18.5h0.6M-21.7 14.5h0.6M-15.0 15.7h0.6M-8.1 2.5h0.6M8.0 52.8h0.6M-12.7 10.0h0.6M6.1 11.8h0.6M15.9 38.9h0.6M11.8 28.2h0.6M-3.3 1.8h0.6M-15.2 19.2h0.6M7.4 18.3h0.6M-15.4 13.8h0.6M-2.3 2.5h0.6M1.0 39.5h0.6M-13.1 9.7h0.6M4.1 8.9h0.6M16.1 11.1h0.6M-22.9 20.9h0.6M-0.3 44.6h0.6M-11.3 5.1h0.6M-21.4 12.8h0.6M10.8 18.3h0.6M-7.6 5.6h0.6M17.2 17.1h0.6M-22.7 10.7h0.6M-19.5 30.2h0.6M-19.1 34.5h0.6M23.3 26.2h0.6M7.9 33.9h0.6M8.0 51.0h0.6M6.3 3.3h0.6M2.0 14.1h0.6M5.2 18.8h0.6M-19.1 10.6h0.6M-16.0 8.1h0.6M2.0 18.2h0.6M0.2 45.1h0.6M-0.3 46.1h0.6M-1.6 21.5h0.6M-18.9 23.3h0.6M11.1 16.4h0.6M0.4 37.2h0.6M25.5 26.3h0.6M-0.7 34.0h0.6M15.4 38.3h0.6M-10.4 14.6h0.6M1.1 36.7h0.6M-0.3 19.7h0.6M13.9 42.5h0.6M20.5 27.2h0.6M-0.4 37.5h0.6M13.4 28.4h0.6M-19.9 12.8h0.6M8.6 11.1h0.6M-20.7 12.5h0.6M-8.5 13.4h0.6M-10.1 4.2h0.6M-8.5 42.7h0.6M-3.3 6.6h0.6M-11.1 24.4h0.6M-5.7 9.3h0.6M-9.3 29.2h0.6M-13.4 26.4h0.6M-26.9 17.3h0.6M11.8 21.3h0.6M-6.0 27.7h0.6M9.9 13.9h0.6M-5.5 54.5h0.6M1.4 43.6h0.6M-10.9 4.4h0.6M-0.1 23.9h0.6M20.5 16.5h0.6M12.6 21.3h0.6M-4.0 20.6h0.6M22.1 28.1h0.6M17.6 24.3h0.6M6.2 3.6h0.6M-3.2 46.5h0.6M-1.6 45.3h0.6M-19.8 21.9h0.6M-3.3 12.8h0.6M-10.1 12.7h0.6M-14.8 11.2h0.6M7.6 46.0h0.6M-9.4 10.4h0.6M-7.7 16.6h0.6M-12.8 10.3h0.6M4.7 51.2h0.6M1.5 34.8h0.6M5.5 49.8h0.6M4.5 4.7h0.6M-5.3 43.1h0.6M9.4 47.7h0.6M13.4 27.9h0.6M21.0 37.1h0.6M7.5 5.7h0.6M-3.7 32.3h0.6M5.8 22.8h0.6M-3.4 19.9h0.6M-5.0 16.9h0.6M-27.4 21.2h0.6M4.2 20.0h0.6M20.3 40.8h0.6M4.4 41.6h0.6M1.5 20.9h0.6M-25.3 20.3h0.6M6.5 26.8h0.6M-8.2 24.4h0.6M11.4 10.9h0.6M6.1 7.2h0.6M-23.4 25.6h0.6M2.8 35.5h0.6M-22.2 10.2h0.6M-8.4 36.0h0.6M7.0 41.8h0.6M-1.7 50.3h0.6M9.3 22.5h0.6M-2.9 27.9h0.6M25.6 28.5h0.6M-4.7 16.0h0.6M-5.1 35.5h0.6M4.1 49.9h0.6M8.4 45.2h0.6M-9.2 40.2h0.6M-8.6 36.7h0.6M-0.9 18.7h0.6M11.3 10.4h0.6M-1.2 49.9h0.6M-2.0 34.2h0.6M3.7 19.0h0.6M8.1 18.8h0.6M7.1 47.5h0.6M7.8 43.7h0.6M-10.5 29.3h0.6M9.2 10.9h0.6M-11.0 29.4h0.6M-19.3 21.4h0.6M10.9 48.2h0.6M-23.5 16.8h0.6M-13.0 10.3h0.6M-14.9 10.9h0.6M7.2 55.5h0.6M-15.7 34.9h0.6M24.5 26.5h0.6M-13.6 16.3h0.6M-12.7 37.6h0.6M-26.0 22.2h0.6M0.1 23.7h0.6M-1.7 4.0h0.6M3.0 30.3h0.6M21.7 19.4h0.6M19.9 39.7h0.6M-6.7 36.0h0.6M23.8 29.0h0.6M-14.3 21.7h0.6M7.2 25.9h0.6M25.2 28.3h0.6M21.0 27.6h0.6M10.8 28.6h0.6M3.1 16.6h0.6M24.2 22.4h0.6M-11.2 34.6h0.6M-1.0 21.3h0.6M23.7 22.0h0.6M-12.8 41.2h0.6M-6.7 20.7h0.6M-4.5 43.1h0.6M-1.4 16.8h0.6M-6.1 21.8h0.6M-8.3 46.4h0.6M25.9 25.3h0.6M14.6 9.3h0.6M20.0 27.8h0.6M15.1 44.5h0.6M-8.9 45.8h0.6M25.0 26.0h0.6M7.9 49.8h0.6M-25.7 14.9h0.6M-13.1 18.6h0.6M-18.3 24.4h0.6M-2.4 37.8h0.6M-4.3 35.9h0.6M5.7 49.3h0.6M-5.3 42.7h0.6M9.5 8.1h0.6M-17.2 34.7h0.6M6.3 8.9h0.6M6.4 55.1h0.6M1.2 5.9h0.6M-12.5 21.5h0.6M-13.5 23.0h0.6M9.6 8.7h0.6M13.1 46.3h0.6M-4.9 45.4h0.6M-23.4 11.3h0.6M-15.5 33.2h0.6M-16.3 11.3h0.6M11.2 19.0h0.6M4.7 38.9h0.6" stroke="#CCCCCC" stroke-width="1.25" stroke-linecap="round" fill="none"/></defs>
<g transform="translate(541.4 15.0)"><use href="#sg"/><path d="M-23.9 17.2h1.0M13.4 18.9h1.0M13.5 45.8h1.0M-14.8 35.2h1.0M-13.5 16.2h1.0M-15.5 38.3h1.0M-3.9 33.0h1.0M-2.4 41.2h1.0M-10.9 42.7h1.0M5.5 40.9h1.0M-12.1 24.1h1.0M7.0 50.0h1.0M-5.9 21.6h1.0M21.3 38.9h1.0M-5.0 26.1h1.0M-17.0 20.5h1.0M17.1 16.1h1.0M16.2 44.1h1.0M10.5 7.7h1.0M-6.2 46.9h1.0M-11.3 40.3h1.0M-13.4 19.2h1.0M3.1 39.3h1.0M3.0 30.5h1.0M-11.6 35.4h1.0M-0.8 44.2h1.0M-19.9 24.4h1.0M-4.1 41.5h1.0M-0.8 38.0h1.0M18.0 44.4h1.0M-8.0 45.7h1.0M-5.0 38.3h1.0M-17.7 35.0h1.0M22.3 29.1h1.0M1.2 22.7h1.0M20.0 36.1h1.0M-12.3 12.3h1.0M-7.4 39.7h1.0M0.7 16.0h1.0M-5.9 42.1h1.0M-11.7 39.6h1.0M2.9 45.3h1.0M-23.8 22.5h1.0M11.6 29.0h1.0M-9.6 12.6h1.0M-19.6 30.5h1.0M-11.3 34.8h1.0M16.8 45.7h1.0M-7.3 50.0h1.0M10.5 27.4h1.0M23.0 26.2h1.0M-8.7 47.9h1.0M1.2 2.3h1.0M2.6 47.3h1.0M3.8 43.8h1.0M-7.0 53.5h1.0M4.7 3.0h1.0M9.1 50.4h1.0M9.4 11.2h1.0M-9.8 16.5h1.0M5.6 43.4h1.0M16.3 17.6h1.0M12.0 28.6h1.0M-3.2 1.0h1.0M-14.0 10.7h1.0M-4.4 28.2h1.0M14.5 11.8h1.0M-16.2 18.9h1.0M3.4 40.7h1.0M0.6 4.3h1.0M-7.4 29.7h1.0M-0.9 0.4h1.0M-4.1 35.7h1.0M9.3 41.4h1.0M-3.3 26.4h1.0M-0.3 0.4h1.0M-16.6 35.1h1.0M-1.8 41.1h1.0M9.1 49.8h1.0M3.4 4.7h1.0M11.1 26.3h1.0M-6.5 27.6h1.0M-11.5 34.2h1.0M-0.3 34.3h1.0M3.3 41.5h1.0M6.6 32.9h1.0M10.4 7.6h1.0M14.7 46.0h1.0M-23.4 15.9h1.0M5.9 55.0h1.0M-15.7 34.5h1.0M10.7 12.1h1.0M-17.5 35.8h1.0M16.5 13.9h1.0M-3.1 42.6h1.0M2.0 7.7h1.0M-1.8 21.0h1.0M14.9 10.8h1.0M-26.4 20.3h1.0M10.0 46.5h1.0M17.8 36.2h1.0M-18.2 9.6h1.0M-15.0 39.1h1.0M11.5 28.3h1.0M21.3 29.8h1.0M-4.7 43.6h1.0M16.3 39.2h1.0M-2.4 13.8h1.0M11.5 45.9h1.0M15.3 43.9h1.0M4.1 44.9h1.0M11.7 43.8h1.0M14.2 29.1h1.0M-14.9 22.0h1.0M-7.7 15.5h1.0M5.0 11.9h1.0M16.9 39.3h1.0M3.9 41.5h1.0M-16.1 17.7h1.0M10.2 29.6h1.0M6.4 49.9h1.0M-1.1 37.6h1.0M-4.7 18.4h1.0M6.1 5.1h1.0M-0.9 37.0h1.0M-3.6 40.8h1.0M-16.7 34.3h1.0M-16.9 20.5h1.0M-6.5 18.8h1.0M-1.9 37.9h1.0M-10.9 7.7h1.0M7.1 52.6h1.0M17.7 17.4h1.0M12.4 28.9h1.0M2.3 39.8h1.0M-5.0 4.1h1.0M11.2 28.7h1.0M-5.5 2.4h1.0M0.5 46.2h1.0M12.1 43.7h1.0M6.9 29.7h1.0M-7.0 49.0h1.0M6.6 28.4h1.0M25.1 24.1h1.0M24.1 31.3h1.0M-16.1 33.9h1.0M12.6 45.6h1.0M-1.9 15.1h1.0M-1.3 38.1h1.0M10.6 46.0h1.0M-7.9 49.8h1.0M-1.1 36.1h1.0M-4.0 32.9h1.0M-5.1 8.2h1.0M-21.2 20.0h1.0M-5.4 53.9h1.0M-7.1 3.5h1.0M-5.0 18.9h1.0M-14.8 31.6h1.0M-8.3 17.6h1.0M7.3 31.7h1.0M25.6 22.2h1.0M-5.6 50.2h1.0M8.7 13.2h1.0M-4.1 53.1h1.0M-17.4 7.9h1.0M-12.2 37.4h1.0M-4.1 44.4h1.0M3.3 45.8h1.0M-2.4 33.1h1.0M-6.3 33.9h1.0M11.9 30.3h1.0M-11.3 21.4h1.0M3.5 43.7h1.0M-1.2 0.4h1.0M6.7 56.9h1.0M-8.6 41.6h1.0M1.7 45.9h1.0M11.7 29.1h1.0M6.1 11.8h1.0M-19.9 12.8h1.0M17.6 24.3h1.0M7.0 41.8h1.0M-5.1 35.5h1.0M10.9 48.2h1.0M-23.5 16.8h1.0M-8.3 46.4h1.0M-8.9 45.8h1.0M-2.4 37.8h1.0M-4.3 35.9h1.0M13.1 46.3h1.0" stroke="#F4A898" stroke-width="1.0" fill="none"/><path d="M-20.1 12.0h1.0M-2.4 51.0h1.0M-22.4 26.7h1.0M5.1 50.7h1.0M-9.4 31.1h1.0M7.2 51.5h1.0M-13.4 16.0h1.0M-11.6 20.8h1.0M4.8 5.1h1.0M12.2 28.4h1.0M-26.9 22.7h1.0M-28.7 17.6h1.0M-19.4 30.4h1.0M10.2 14.5h1.0M-0.7 41.7h1.0M21.0 25.5h1.0M-21.8 19.6h1.0M-17.3 36.5h1.0M-2.2 32.3h1.0M-5.1 36.0h1.0M12.3 41.2h1.0M6.2 56.1h1.0M13.5 39.9h1.0M6.5 51.7h1.0M-3.2 39.8h1.0M2.4 41.5h1.0M15.0 37.3h1.0M1.7 16.4h1.0M-18.9 8.7h1.0M5.2 44.2h1.0M8.4 13.0h1.0M-10.9 43.5h1.0M-11.5 41.7h1.0M8.3 32.5h1.0M9.0 21.2h1.0M-16.0 21.7h1.0M-4.4 36.1h1.0M8.8 12.0h1.0M-2.7 32.2h1.0M-15.3 5.7h1.0M-5.7 33.9h1.0M-19.2 21.0h1.0M-13.6 36.8h1.0M22.0 29.7h1.0M-0.1 30.4h1.0M21.0 21.9h1.0M9.5 6.4h1.0M3.1 44.8h1.0M12.9 37.6h1.0M-13.9 34.8h1.0M-14.4 36.2h1.0M-15.1 20.2h1.0M-16.3 36.9h1.0M-13.3 29.6h1.0M-4.2 45.4h1.0M-18.5 35.0h1.0M3.7 8.6h1.0M20.7 37.7h1.0M-11.2 15.3h1.0M-14.5 37.5h1.0M-9.2 42.6h1.0M-21.3 14.2h1.0M0.2 25.4h1.0M-12.8 11.7h1.0M-1.6 40.2h1.0M-10.2 44.5h1.0M3.3 23.2h1.0M0.1 43.6h1.0M-4.3 17.3h1.0M-27.8 21.5h1.0M-1.7 20.2h1.0M-11.7 42.0h1.0M1.0 16.5h1.0M-19.1 13.0h1.0M6.5 43.7h1.0M-17.1 9.1h1.0M18.7 36.6h1.0M-12.9 33.9h1.0M-2.6 50.9h1.0M-4.8 49.3h1.0M-8.9 33.2h1.0M-10.3 14.4h1.0M-10.0 17.5h1.0M6.2 42.8h1.0M17.0 40.7h1.0M-1.5 1.0h1.0M22.3 25.4h1.0M-22.7 27.2h1.0M1.8 40.1h1.0M12.0 27.1h1.0M5.2 22.4h1.0M18.4 42.2h1.0M-3.7 6.9h1.0M-11.1 3.8h1.0M-1.2 20.8h1.0M2.7 22.6h1.0M-7.5 22.5h1.0M-6.3 45.4h1.0M7.7 51.5h1.0M-0.3 42.2h1.0M21.7 20.9h1.0M-1.6 35.3h1.0M-5.7 53.3h1.0M9.7 21.3h1.0M-17.5 19.2h1.0M14.3 15.1h1.0M18.6 36.3h1.0M-12.5 33.7h1.0M-3.0 52.5h1.0M-4.5 48.1h1.0M-17.5 35.8h1.0M-25.9 22.6h1.0M-2.9 45.5h1.0M-4.6 50.7h1.0M-4.1 35.0h1.0M20.5 40.1h1.0M8.4 23.0h1.0M-18.7 19.7h1.0M-3.6 37.7h1.0M-16.9 16.4h1.0M7.9 24.6h1.0M-3.4 30.8h1.0M-22.7 10.1h1.0M-11.0 17.0h1.0M-1.3 44.4h1.0M-12.1 9.7h1.0M-6.4 45.0h1.0M-10.1 41.6h1.0M-0.2 12.9h1.0M-13.5 33.1h1.0M3.3 40.6h1.0M-5.6 51.0h1.0M14.8 39.4h1.0M11.0 41.7h1.0M-10.5 29.1h1.0M7.1 50.5h1.0M-3.0 52.6h1.0M1.0 39.5h1.0M-0.3 44.6h1.0M-0.3 46.1h1.0M15.4 38.3h1.0M13.9 42.5h1.0M1.5 20.9h1.0M-22.2 10.2h1.0M7.1 47.5h1.0M-13.6 16.3h1.0M24.2 22.4h1.0M20.0 27.8h1.0M15.1 44.5h1.0" stroke="#EF7A62" stroke-width="1.0" fill="none"/><path d="M14.3 30.6h1.0M-0.9 26.1h1.0M-2.0 37.7h1.0M-3.5 40.3h1.0M-6.5 21.3h1.0M-0.7 6.9h1.0M-5.9 25.1h1.0M0.5 38.9h1.0M-3.0 46.0h1.0M21.1 39.1h1.0M16.5 38.7h1.0M-0.4 4.3h1.0M-4.3 42.7h1.0M-3.1 34.2h1.0M-2.8 36.5h1.0M13.2 29.2h1.0M-4.1 49.1h1.0M-11.0 36.5h1.0M16.8 12.4h1.0M-12.7 41.4h1.0M17.3 38.5h1.0M17.3 41.7h1.0M11.9 42.3h1.0M-15.4 21.9h1.0M-10.1 37.0h1.0M9.5 22.4h1.0M10.0 41.3h1.0M18.3 26.4h1.0M-4.8 17.5h1.0M-9.4 33.3h1.0M3.3 48.0h1.0M-3.5 36.7h1.0M3.5 32.4h1.0M-14.9 21.0h1.0M-1.1 31.2h1.0M0.4 30.9h1.0M6.9 56.2h1.0M-3.2 12.9h1.0M-9.5 5.4h1.0M-5.7 42.8h1.0M-7.1 34.3h1.0M11.8 39.5h1.0M-15.5 8.5h1.0M-4.0 6.9h1.0M-15.3 24.3h1.0M-2.2 34.1h1.0M1.0 30.7h1.0M1.9 10.1h1.0M-2.1 51.3h1.0M-0.5 6.6h1.0M9.6 50.2h1.0M-14.7 35.2h1.0M14.0 32.1h1.0M-14.9 37.7h1.0M14.6 15.8h1.0M17.2 18.4h1.0M-7.0 45.6h1.0M-5.2 52.1h1.0M-11.4 43.2h1.0M-8.3 33.6h1.0M4.0 28.6h1.0M-13.9 39.8h1.0M-14.9 14.4h1.0M-2.5 14.9h1.0M-1.2 46.8h1.0M-3.5 36.1h1.0M5.8 53.9h1.0M11.9 43.8h1.0M6.2 54.6h1.0M-4.1 53.3h1.0M-2.0 41.8h1.0M-15.4 38.4h1.0M19.7 36.0h1.0M9.1 46.1h1.0M-1.5 43.6h1.0M1.2 23.0h1.0M18.1 38.2h1.0M-22.2 22.3h1.0M-16.3 36.3h1.0M-11.5 7.2h1.0M-16.6 32.8h1.0M-17.0 34.6h1.0M24.2 24.3h1.0M-9.9 39.7h1.0M-5.8 4.7h1.0M2.1 46.3h1.0M-19.1 17.4h1.0M13.5 28.2h1.0M7.8 51.7h1.0M-6.2 33.3h1.0M-3.2 33.4h1.0M2.9 21.4h1.0M-0.0 12.1h1.0M-3.2 50.5h1.0M-7.1 6.8h1.0M-11.5 43.2h1.0M12.4 30.8h1.0M-5.2 24.8h1.0M-17.9 24.1h1.0M-1.0 40.4h1.0M-12.2 11.3h1.0M-16.2 8.5h1.0M0.7 10.2h1.0M5.2 53.6h1.0M1.9 37.1h1.0M6.9 51.5h1.0M-8.5 38.9h1.0M24.6 29.1h1.0M-6.9 51.6h1.0M20.5 42.1h1.0M-12.2 8.9h1.0M-8.1 2.5h1.0M-0.4 37.5h1.0M13.4 28.4h1.0M9.9 13.9h1.0M1.5 34.8h1.0M-1.7 50.3h1.0M8.4 45.2h1.0M-18.3 24.4h1.0M6.4 55.1h1.0" stroke="#EC5234" stroke-width="1.0" fill="none"/><path d="M14.2 30.7h1.0M0.6 8.6h1.0M-2.4 40.9h1.0M0.9 32.6h1.0M-1.4 35.5h1.0M-13.3 8.1h1.0M-7.0 37.7h1.0M-11.8 8.8h1.0M9.1 12.1h1.0M-22.8 23.7h1.0M-4.5 1.3h1.0M-7.1 37.2h1.0M-18.9 21.7h1.0M9.6 10.1h1.0M5.6 47.1h1.0M-8.4 45.1h1.0M2.6 11.5h1.0M0.4 44.8h1.0M-22.3 17.4h1.0M-4.2 51.8h1.0M-22.4 13.5h1.0M5.4 50.1h1.0M-9.5 7.8h1.0M19.5 38.1h1.0M5.6 21.2h1.0M-11.8 7.4h1.0M20.3 26.7h1.0M-7.3 20.0h1.0M-5.8 33.4h1.0M2.6 25.4h1.0M20.7 38.6h1.0M22.1 30.3h1.0M13.2 18.0h1.0M-5.8 44.1h1.0M-4.1 47.5h1.0M-15.2 36.6h1.0M7.1 33.0h1.0M3.6 33.0h1.0M-4.1 53.6h1.0M-8.0 9.6h1.0M21.9 21.1h1.0M1.7 37.2h1.0M13.0 44.3h1.0M-10.2 9.3h1.0M8.1 23.2h1.0M-3.2 10.1h1.0M2.3 34.3h1.0M3.4 47.1h1.0M7.1 42.3h1.0M-2.1 43.3h1.0M-0.0 17.4h1.0M5.3 48.5h1.0M-12.3 41.6h1.0M-3.5 38.7h1.0M19.1 28.3h1.0M-4.8 13.4h1.0M-8.4 44.9h1.0M9.0 7.0h1.0M-17.2 34.9h1.0M-3.7 46.2h1.0M12.6 28.6h1.0M-8.7 35.8h1.0M-17.5 30.6h1.0M8.7 50.7h1.0M-9.2 21.5h1.0M10.3 30.4h1.0M3.0 1.3h1.0M8.7 47.6h1.0M-15.9 32.5h1.0M-3.9 38.8h1.0M-13.8 22.0h1.0M5.9 32.7h1.0M-17.2 16.9h1.0M5.9 31.6h1.0M16.6 38.5h1.0M-4.1 48.0h1.0M11.0 26.4h1.0M-3.3 24.6h1.0M4.6 11.6h1.0M12.7 41.3h1.0M0.6 16.8h1.0M2.6 39.4h1.0M10.8 13.4h1.0M-5.5 46.5h1.0M-4.1 19.9h1.0M-7.0 44.4h1.0M-3.2 50.3h1.0M-5.5 35.2h1.0M-21.7 14.5h1.0M-5.5 54.5h1.0M4.5 4.7h1.0M24.5 26.5h1.0M-1.7 4.0h1.0M10.8 28.6h1.0M23.7 22.0h1.0M-1.4 16.8h1.0" stroke="#E8301A" stroke-width="1.0" fill="none"/></g>
<text x="534.30" y="10.00" font-size="6.2" text-anchor="middle" font-weight="bold" font-style="italic" stroke="#000" stroke-width="0.15">PDCD1</text>
<g transform="translate(629.4 15.0)"><use href="#sg"/><path d="M-12.5 37.1h1.0M2.0 47.5h1.0M-4.7 40.0h1.0M-14.8 35.2h1.0M-4.7 8.0h1.0M-2.4 41.2h1.0M12.3 44.5h1.0M5.1 50.7h1.0M-11.1 36.3h1.0M-12.1 37.6h1.0M-4.9 41.9h1.0M-5.1 53.9h1.0M-6.2 49.5h1.0M-10.4 17.4h1.0M-7.0 37.7h1.0M-3.5 46.1h1.0M15.1 27.1h1.0M-11.3 40.3h1.0M-7.0 38.5h1.0M-17.3 36.5h1.0M22.1 25.2h1.0M-7.6 38.7h1.0M-11.6 35.4h1.0M-9.2 36.0h1.0M19.6 39.4h1.0M8.3 38.7h1.0M-0.8 44.2h1.0M-0.8 38.0h1.0M5.1 3.8h1.0M-21.9 16.1h1.0M-5.0 54.6h1.0M12.3 41.2h1.0M-3.8 30.9h1.0M-5.3 36.1h1.0M-3.2 39.8h1.0M-2.3 49.5h1.0M-9.3 33.6h1.0M-4.1 40.6h1.0M0.3 30.9h1.0M-10.0 43.7h1.0M-3.6 35.7h1.0M12.9 29.6h1.0M-0.2 38.4h1.0M1.4 40.3h1.0M-21.5 25.0h1.0M-9.4 33.3h1.0M-3.6 24.1h1.0M3.5 32.4h1.0M-0.1 30.4h1.0M-16.1 37.5h1.0M2.5 45.1h1.0M20.7 42.1h1.0M13.3 34.1h1.0M-3.6 34.7h1.0M16.4 36.4h1.0M-4.0 37.5h1.0M0.4 33.2h1.0M7.0 55.3h1.0M10.3 46.7h1.0M-16.3 36.9h1.0M-5.8 44.1h1.0M10.8 14.4h1.0M2.8 12.0h1.0M9.6 50.2h1.0M-10.4 26.8h1.0M-14.5 35.5h1.0M-5.9 4.5h1.0M-3.2 38.3h1.0M9.3 41.4h1.0M3.2 40.4h1.0M-0.4 22.0h1.0M11.7 48.3h1.0M-1.7 37.9h1.0M-10.8 40.5h1.0M-11.3 19.5h1.0M-12.3 33.3h1.0M16.5 43.0h1.0M19.7 43.7h1.0M-8.7 33.3h1.0M14.1 45.1h1.0M19.9 36.4h1.0M-1.0 35.9h1.0M6.1 46.9h1.0M16.8 43.7h1.0M-1.8 21.0h1.0M3.3 46.4h1.0M2.4 44.1h1.0M7.1 45.3h1.0M-4.8 49.3h1.0M-3.5 36.1h1.0M12.7 29.9h1.0M-3.4 52.0h1.0M9.7 42.3h1.0M14.9 41.3h1.0M11.9 43.8h1.0M6.2 54.6h1.0M13.5 29.3h1.0M3.4 47.1h1.0M11.9 44.4h1.0M-14.6 35.6h1.0M-22.4 25.1h1.0M-2.0 41.8h1.0M-4.7 18.4h1.0M7.1 42.3h1.0M-2.8 42.8h1.0M0.7 37.6h1.0M13.2 30.8h1.0M-7.1 50.5h1.0M18.4 42.2h1.0M-10.1 40.0h1.0M-16.3 36.3h1.0M-16.6 32.8h1.0M6.8 49.2h1.0M-3.5 38.7h1.0M11.8 26.1h1.0M9.3 21.1h1.0M-11.6 42.7h1.0M-2.2 42.1h1.0M7.5 55.4h1.0M-9.9 39.7h1.0M-1.1 45.8h1.0M-21.9 16.2h1.0M-3.7 46.2h1.0M-5.7 53.3h1.0M11.3 38.4h1.0M-8.7 35.8h1.0M24.1 31.3h1.0M-4.2 54.5h1.0M2.9 37.1h1.0M-18.9 16.0h1.0M-16.4 34.9h1.0M-2.8 42.7h1.0M-6.4 43.3h1.0M-0.1 31.6h1.0M-3.0 52.5h1.0M-1.1 36.1h1.0M12.3 28.9h1.0M1.1 36.3h1.0M-6.1 39.6h1.0M7.0 56.7h1.0M20.5 40.1h1.0M11.2 39.7h1.0M-6.2 37.8h1.0M-1.4 50.6h1.0M-1.3 11.9h1.0M-4.1 53.1h1.0M-16.8 35.7h1.0M-17.1 34.5h1.0M-4.4 9.1h1.0M12.7 41.3h1.0M3.3 45.8h1.0M-4.1 38.2h1.0M-10.3 44.0h1.0M9.9 49.9h1.0M-4.2 53.2h1.0M5.9 54.8h1.0M16.4 45.2h1.0M-4.0 34.1h1.0M3.3 40.6h1.0M-7.2 31.7h1.0M-1.0 44.6h1.0M4.8 31.2h1.0M0.2 45.1h1.0M-0.3 46.1h1.0M-0.4 37.5h1.0M-11.1 24.4h1.0M-5.5 54.5h1.0M17.6 24.3h1.0M-1.6 45.3h1.0M-1.7 50.3h1.0M-1.2 49.9h1.0M0.1 23.7h1.0M3.0 30.3h1.0M-5.3 42.7h1.0" stroke="#F4A898" stroke-width="1.0" fill="none"/><path d="M13.4 45.3h1.0M11.5 43.8h1.0M11.5 48.7h1.0M-3.3 49.6h1.0M14.2 30.7h1.0M1.3 6.2h1.0M-4.4 41.9h1.0M-3.9 37.5h1.0M-15.5 38.3h1.0M19.8 38.8h1.0M-3.9 33.0h1.0M-4.8 45.9h1.0M-1.4 35.5h1.0M-9.4 31.1h1.0M7.2 51.5h1.0M-5.1 32.5h1.0M12.2 28.4h1.0M-16.2 8.2h1.0M3.7 40.1h1.0M-19.4 30.4h1.0M-8.0 35.1h1.0M-6.2 46.9h1.0M-4.0 48.4h1.0M5.9 53.7h1.0M23.1 20.8h1.0M-5.9 53.8h1.0M-7.1 37.2h1.0M-7.6 21.1h1.0M-1.2 34.8h1.0M-8.0 45.7h1.0M-8.9 33.9h1.0M12.3 18.8h1.0M-18.3 34.8h1.0M-4.1 45.5h1.0M13.5 39.9h1.0M15.0 45.4h1.0M-11.0 36.5h1.0M-14.4 35.6h1.0M-5.9 42.1h1.0M0.4 44.8h1.0M15.8 40.4h1.0M-11.7 39.6h1.0M1.7 48.9h1.0M7.2 49.4h1.0M-5.8 48.4h1.0M-5.5 46.3h1.0M-8.4 40.9h1.0M0.1 40.6h1.0M-3.8 42.4h1.0M-14.7 37.9h1.0M0.1 18.1h1.0M-4.4 36.1h1.0M18.5 40.2h1.0M-8.7 47.9h1.0M-11.8 7.4h1.0M2.8 50.4h1.0M-3.2 45.6h1.0M-13.6 36.8h1.0M-13.5 35.6h1.0M-4.2 34.9h1.0M-18.4 12.5h1.0M12.9 37.6h1.0M-4.3 39.0h1.0M4.4 12.7h1.0M5.6 43.4h1.0M20.7 38.6h1.0M-10.9 34.7h1.0M-2.2 34.1h1.0M1.0 30.7h1.0M-3.3 49.2h1.0M3.1 30.3h1.0M16.7 36.0h1.0M-3.5 45.3h1.0M-1.0 37.8h1.0M-10.6 35.0h1.0M6.8 53.4h1.0M7.1 33.0h1.0M-1.8 41.1h1.0M-4.6 44.3h1.0M-11.4 43.2h1.0M-1.6 40.2h1.0M-11.2 23.1h1.0M13.1 47.9h1.0M18.3 39.4h1.0M-8.3 33.6h1.0M1.7 37.2h1.0M12.7 44.1h1.0M-10.7 37.7h1.0M-14.3 39.8h1.0M12.0 40.4h1.0M-12.9 33.9h1.0M-10.5 38.4h1.0M11.5 28.3h1.0M-1.5 21.4h1.0M-6.7 46.7h1.0M1.2 34.9h1.0M-2.1 33.8h1.0M-0.5 41.3h1.0M3.6 36.0h1.0M8.8 42.0h1.0M10.2 29.6h1.0M-5.2 22.6h1.0M12.6 29.1h1.0M-0.9 37.0h1.0M-12.3 41.6h1.0M8.3 10.7h1.0M10.9 41.0h1.0M18.1 38.2h1.0M-4.5 37.2h1.0M12.3 30.2h1.0M4.2 29.9h1.0M-7.8 8.5h1.0M8.6 32.3h1.0M8.1 49.6h1.0M0.5 38.2h1.0M3.8 33.8h1.0M11.2 43.1h1.0M-12.9 37.9h1.0M-9.6 35.6h1.0M2.1 46.3h1.0M-9.6 37.0h1.0M-2.2 21.3h1.0M-1.4 34.0h1.0M12.6 28.6h1.0M-8.1 42.1h1.0M-2.7 6.3h1.0M-1.5 3.3h1.0M10.1 30.5h1.0M-11.1 39.5h1.0M-4.7 21.8h1.0M4.8 32.9h1.0M4.9 56.6h1.0M-1.6 35.0h1.0M-5.4 53.9h1.0M-3.9 38.8h1.0M5.9 32.7h1.0M-3.6 37.7h1.0M-0.6 35.0h1.0M-15.9 38.6h1.0M8.4 38.6h1.0M7.7 42.4h1.0M-4.1 48.0h1.0M-4.1 44.4h1.0M-14.6 39.8h1.0M-13.2 31.5h1.0M21.2 30.8h1.0M-11.2 35.1h1.0M-4.4 46.0h1.0M-6.5 45.1h1.0M7.3 57.9h1.0M24.6 29.1h1.0M-3.9 54.7h1.0M-5.1 50.1h1.0M-3.0 52.6h1.0M7.6 46.0h1.0M1.5 34.8h1.0M5.5 49.8h1.0M20.3 40.8h1.0M7.2 55.5h1.0M10.8 28.6h1.0M-6.1 21.8h1.0M15.1 44.5h1.0M-8.9 45.8h1.0" stroke="#EF7A62" stroke-width="1.0" fill="none"/><path d="M14.3 30.6h1.0M-22.6 13.9h1.0M-3.8 32.7h1.0M17.4 37.6h1.0M-1.1 39.7h1.0M3.0 39.2h1.0M0.5 38.9h1.0M8.3 15.3h1.0M-1.7 42.7h1.0M18.7 41.6h1.0M-7.8 44.5h1.0M-14.2 30.2h1.0M-0.1 38.8h1.0M-5.1 36.0h1.0M17.2 38.0h1.0M6.2 56.1h1.0M-1.7 38.2h1.0M-9.0 45.1h1.0M-6.7 40.3h1.0M-7.4 39.7h1.0M-12.7 41.4h1.0M11.9 42.3h1.0M-10.1 37.0h1.0M4.1 41.4h1.0M8.3 32.5h1.0M10.0 41.3h1.0M-6.6 52.7h1.0M1.4 42.4h1.0M5.6 46.8h1.0M8.5 41.8h1.0M22.0 29.7h1.0M-6.8 40.9h1.0M-21.0 28.8h1.0M-4.6 53.8h1.0M6.1 8.7h1.0M-14.3 35.0h1.0M12.0 28.6h1.0M12.4 47.4h1.0M3.4 31.1h1.0M6.6 33.7h1.0M7.2 34.2h1.0M-14.7 35.2h1.0M14.0 32.1h1.0M-18.5 35.0h1.0M20.7 37.7h1.0M-3.5 38.0h1.0M6.6 55.9h1.0M11.8 27.7h1.0M-16.6 35.1h1.0M-9.2 42.6h1.0M9.9 45.6h1.0M-3.6 35.5h1.0M-7.2 40.6h1.0M0.2 25.4h1.0M-5.2 52.1h1.0M17.1 43.9h1.0M-8.0 43.0h1.0M22.4 24.2h1.0M-5.9 54.0h1.0M14.4 30.2h1.0M10.0 46.5h1.0M-14.0 38.8h1.0M-5.4 53.9h1.0M-4.7 43.6h1.0M6.2 47.9h1.0M-12.6 18.8h1.0M-0.0 37.6h1.0M10.8 29.0h1.0M-8.8 36.5h1.0M-1.2 43.0h1.0M-4.1 53.3h1.0M6.4 49.9h1.0M-9.3 37.7h1.0M-8.7 40.2h1.0M5.6 51.7h1.0M-1.5 43.6h1.0M0.9 35.7h1.0M-3.6 40.8h1.0M-3.2 50.7h1.0M-1.9 37.9h1.0M-11.1 3.8h1.0M-8.3 49.5h1.0M-4.4 23.1h1.0M-3.7 37.8h1.0M16.3 37.2h1.0M-7.2 46.8h1.0M-0.2 43.9h1.0M-1.3 38.1h1.0M-4.0 39.0h1.0M-8.6 43.6h1.0M-5.2 34.0h1.0M21.1 41.1h1.0M12.3 29.9h1.0M-0.1 44.3h1.0M15.6 41.4h1.0M2.1 30.8h1.0M1.1 37.5h1.0M18.0 36.4h1.0M-3.6 45.1h1.0M13.8 45.9h1.0M5.9 56.2h1.0M14.2 45.3h1.0M18.1 45.0h1.0M-5.5 46.1h1.0M-5.6 51.0h1.0M6.9 51.5h1.0M-16.0 33.9h1.0M-6.9 51.6h1.0M7.1 50.5h1.0M-8.4 39.4h1.0M-15.2 17.5h1.0M-2.3 2.5h1.0M7.9 33.9h1.0M-0.7 34.0h1.0M-22.2 10.2h1.0M7.0 41.8h1.0M-5.1 35.5h1.0M-8.6 36.7h1.0M7.1 47.5h1.0M-15.7 34.9h1.0M7.9 49.8h1.0M-2.4 37.8h1.0M13.1 46.3h1.0" stroke="#EC5234" stroke-width="1.0" fill="none"/><path d="M-3.9 37.9h1.0M11.2 28.6h1.0M15.6 43.4h1.0M-4.9 38.6h1.0M6.6 51.6h1.0M-16.7 34.4h1.0M-7.2 39.2h1.0M-4.3 42.7h1.0M-3.1 37.3h1.0M3.1 39.3h1.0M3.0 30.5h1.0M-2.1 43.3h1.0M-15.9 35.2h1.0M7.7 49.8h1.0M-2.8 47.0h1.0M-5.0 38.3h1.0M13.2 29.2h1.0M-4.9 33.6h1.0M-15.0 35.2h1.0M17.4 36.3h1.0M-10.5 39.2h1.0M7.2 53.1h1.0M-9.6 44.1h1.0M-9.0 37.4h1.0M-19.9 8.9h1.0M10.4 28.1h1.0M6.9 30.1h1.0M19.5 38.1h1.0M-7.1 42.2h1.0M-3.5 36.7h1.0M1.2 32.8h1.0M-0.7 12.6h1.0M2.6 47.3h1.0M-6.5 50.1h1.0M-1.1 31.2h1.0M4.7 3.0h1.0M9.1 50.4h1.0M-14.1 34.7h1.0M-7.1 34.3h1.0M13.8 45.6h1.0M-8.9 36.7h1.0M5.9 39.4h1.0M7.2 23.0h1.0M-0.0 43.9h1.0M-7.0 48.4h1.0M10.6 42.7h1.0M-0.8 40.1h1.0M14.1 36.2h1.0M-11.7 42.0h1.0M6.5 43.7h1.0M-5.7 38.7h1.0M-9.4 35.1h1.0M9.2 49.4h1.0M5.8 53.9h1.0M11.7 43.8h1.0M16.9 39.3h1.0M-7.2 45.2h1.0M18.2 39.8h1.0M-7.4 20.3h1.0M17.4 12.1h1.0M-22.1 28.0h1.0M1.0 1.5h1.0M15.4 42.9h1.0M-8.4 44.9h1.0M-0.3 42.2h1.0M-20.4 26.4h1.0M-2.4 48.4h1.0M-10.1 40.8h1.0M-12.5 33.7h1.0M-8.8 24.6h1.0M24.8 30.5h1.0M6.9 55.7h1.0M-11.9 43.1h1.0M-3.1 50.3h1.0M19.2 42.0h1.0M7.3 41.6h1.0M5.2 53.1h1.0M-5.5 50.0h1.0M-4.6 50.7h1.0M-4.1 35.0h1.0M-18.7 19.7h1.0M-1.7 33.8h1.0M-7.4 44.8h1.0M-2.4 43.2h1.0M-10.2 36.9h1.0M-6.0 49.5h1.0M6.5 50.7h1.0M5.4 22.3h1.0M-6.4 45.0h1.0M-6.5 35.2h1.0M-10.1 41.6h1.0M2.6 39.4h1.0M3.5 43.7h1.0M-5.5 46.5h1.0M-4.9 53.2h1.0M-8.6 41.6h1.0M1.7 45.9h1.0M4.7 51.2h1.0M4.1 49.9h1.0M8.4 45.2h1.0M-2.0 34.2h1.0M-17.2 34.7h1.0M-23.4 11.3h1.0" stroke="#E8301A" stroke-width="1.0" fill="none"/></g>
<text x="622.30" y="10.00" font-size="6.2" text-anchor="middle" font-weight="bold" font-style="italic" stroke="#000" stroke-width="0.15">HAVCR2</text>
<g transform="translate(541.9 88.3)"><use href="#sg"/><path d="M20.8 18.2h1.0M-6.4 23.4h1.0M-4.4 41.9h1.0M-3.9 37.5h1.0M-15.5 38.3h1.0M16.5 38.7h1.0M1.7 9.8h1.0M-1.3 35.7h1.0M-18.6 11.6h1.0M-16.1 23.0h1.0M-6.2 46.9h1.0M11.5 30.4h1.0M-0.8 44.2h1.0M20.0 41.4h1.0M-5.3 36.1h1.0M-18.3 34.8h1.0M12.8 17.9h1.0M-1.7 38.2h1.0M-7.0 20.4h1.0M-3.2 6.9h1.0M26.1 24.3h1.0M-5.5 46.3h1.0M-2.0 8.3h1.0M12.5 13.3h1.0M-7.5 39.5h1.0M13.8 29.6h1.0M-9.5 7.8h1.0M-3.5 36.7h1.0M2.8 50.4h1.0M-4.6 53.8h1.0M3.8 43.8h1.0M-9.2 6.3h1.0M5.8 44.0h1.0M-1.1 31.2h1.0M-13.9 34.8h1.0M-3.2 1.0h1.0M-14.4 36.2h1.0M0.4 33.2h1.0M-14.3 34.6h1.0M-6.3 11.2h1.0M-16.3 36.9h1.0M3.4 31.1h1.0M3.7 8.6h1.0M-10.6 35.0h1.0M-7.2 40.6h1.0M-9.8 44.0h1.0M-5.5 53.5h1.0M-5.2 52.1h1.0M-11.4 43.2h1.0M-4.7 42.3h1.0M7.2 11.5h1.0M4.1 4.9h1.0M16.8 43.7h1.0M-6.0 39.7h1.0M-8.8 36.5h1.0M-14.6 35.6h1.0M-16.6 21.9h1.0M7.1 42.3h1.0M3.7 39.4h1.0M-26.9 18.8h1.0M-8.3 49.5h1.0M-4.4 23.1h1.0M21.7 20.9h1.0M-4.1 51.5h1.0M25.1 24.1h1.0M-0.2 43.9h1.0M10.1 30.5h1.0M12.8 15.9h1.0M-1.6 35.0h1.0M-12.3 14.8h1.0M-5.5 50.0h1.0M-4.1 35.0h1.0M-6.1 39.6h1.0M8.7 47.6h1.0M-24.8 21.0h1.0M-3.6 37.7h1.0M5.9 31.6h1.0M-8.6 8.4h1.0M11.9 30.3h1.0M11.8 37.7h1.0M-0.6 40.5h1.0M-5.6 51.0h1.0M-8.6 41.6h1.0M-10.3 6.3h1.0M-10.0 39.9h1.0M-3.9 54.7h1.0M-8.5 42.7h1.0M-1.6 45.3h1.0M7.8 43.7h1.0M10.8 28.6h1.0M5.7 49.3h1.0" stroke="#F4A898" stroke-width="1.0" fill="none"/><path d="M26.1 23.6h1.0M7.7 43.1h1.0M-3.1 44.8h1.0M-20.3 8.7h1.0M-12.1 37.6h1.0M-0.5 14.2h1.0M-2.7 44.9h1.0M12.3 27.5h1.0M-12.4 13.6h1.0M13.9 29.2h1.0M5.6 47.1h1.0M-5.1 36.0h1.0M-5.0 38.3h1.0M12.3 41.2h1.0M-27.4 20.0h1.0M6.2 56.1h1.0M-3.2 39.8h1.0M-10.5 39.2h1.0M-6.5 35.4h1.0M-22.5 10.1h1.0M-5.9 34.9h1.0M-3.8 42.4h1.0M-26.0 20.8h1.0M-4.4 36.1h1.0M-4.1 39.2h1.0M-17.3 37.1h1.0M-22.9 18.5h1.0M-6.5 50.1h1.0M0.4 30.9h1.0M-25.8 17.9h1.0M-2.3 41.8h1.0M6.9 56.2h1.0M-13.5 7.2h1.0M-4.0 37.5h1.0M-10.9 34.7h1.0M7.0 55.3h1.0M-5.8 44.1h1.0M-3.7 40.3h1.0M4.6 18.1h1.0M6.6 33.7h1.0M-3.9 35.7h1.0M16.7 36.0h1.0M4.8 5.8h1.0M-1.0 16.3h1.0M20.7 18.1h1.0M-4.6 44.3h1.0M-7.0 45.6h1.0M-4.1 53.6h1.0M-2.3 45.5h1.0M-8.0 43.0h1.0M-5.9 54.0h1.0M-0.3 46.7h1.0M-6.2 45.2h1.0M-3.1 42.6h1.0M18.7 36.6h1.0M9.2 49.4h1.0M11.5 45.9h1.0M14.0 37.0h1.0M13.5 29.3h1.0M14.2 29.1h1.0M-7.2 45.2h1.0M4.8 50.8h1.0M-15.4 38.4h1.0M-8.7 40.2h1.0M-3.2 50.7h1.0M-7.1 50.5h1.0M7.4 51.9h1.0M-4.8 54.5h1.0M-5.3 42.0h1.0M0.5 46.2h1.0M-5.9 14.8h1.0M11.9 44.5h1.0M10.5 26.3h1.0M-7.9 49.8h1.0M12.3 38.3h1.0M-11.9 43.1h1.0M-3.1 50.3h1.0M-1.1 36.1h1.0M-1.6 2.1h1.0M-7.4 44.8h1.0M-5.7 42.7h1.0M5.9 56.2h1.0M-11.2 35.1h1.0M-1.0 44.6h1.0M-7.0 44.4h1.0M-4.0 19.9h1.0M8.0 52.8h1.0M1.0 39.5h1.0M20.5 16.5h1.0M1.2 5.9h1.0" stroke="#EF7A62" stroke-width="1.0" fill="none"/><path d="M-12.5 37.1h1.0M13.4 45.3h1.0M-4.9 38.6h1.0M-9.1 33.4h1.0M5.5 40.9h1.0M3.0 39.9h1.0M-3.0 46.0h1.0M-1.4 35.5h1.0M21.1 39.1h1.0M-3.1 34.2h1.0M-1.2 34.8h1.0M14.3 41.8h1.0M-0.2 36.3h1.0M-19.9 10.6h1.0M-9.0 46.5h1.0M-9.0 45.1h1.0M-2.7 5.5h1.0M2.5 33.5h1.0M-25.6 20.9h1.0M7.3 27.9h1.0M1.4 42.4h1.0M-2.2 31.2h1.0M-5.8 33.4h1.0M-3.7 13.3h1.0M-11.4 15.7h1.0M-19.9 8.8h1.0M12.3 30.1h1.0M-12.0 33.8h1.0M7.2 34.2h1.0M-8.6 13.6h1.0M-10.3 17.6h1.0M-15.0 13.7h1.0M-3.2 38.3h1.0M17.1 43.9h1.0M-12.3 33.3h1.0M11.6 31.6h1.0M-14.3 39.8h1.0M-10.5 38.4h1.0M-3.5 36.1h1.0M-2.8 42.8h1.0M13.2 30.8h1.0M-4.3 34.3h1.0M-3.5 38.7h1.0M-7.9 16.3h1.0M-0.3 42.2h1.0M6.2 48.4h1.0M-5.6 50.2h1.0M16.6 38.5h1.0M-19.6 19.1h1.0M-4.5 10.9h1.0M-17.9 8.7h1.0M-10.4 3.5h1.0M-7.3 22.3h1.0M-3.4 12.2h1.0M15.1 44.5h1.0M-17.2 34.7h1.0" stroke="#EC5234" stroke-width="1.0" fill="none"/><path d="M-3.9 33.0h1.0M-4.8 45.9h1.0M-1.7 42.7h1.0M18.5 16.9h1.0M4.1 41.4h1.0M-5.9 36.6h1.0M8.3 32.5h1.0M-22.0 15.0h1.0M-18.9 14.5h1.0M12.9 37.6h1.0M12.8 18.4h1.0M-21.0 24.9h1.0M-1.0 37.8h1.0M9.3 41.4h1.0M12.4 28.4h1.0M-0.3 34.3h1.0M14.7 46.0h1.0M-12.5 24.6h1.0M5.4 13.9h1.0M0.2 30.5h1.0M14.0 29.2h1.0M-4.8 49.3h1.0M12.3 42.2h1.0M-3.6 40.8h1.0M-6.5 18.8h1.0M12.4 28.9h1.0M16.8 11.7h1.0M-9.1 7.3h1.0M-11.1 39.5h1.0M10.6 46.0h1.0M1.1 36.3h1.0M14.7 37.1h1.0M-15.9 32.5h1.0M-1.7 15.4h1.0M7.8 15.3h1.0M-4.8 48.4h1.0M18.1 45.0h1.0M-7.2 31.7h1.0M-11.3 5.1h1.0M-5.5 54.5h1.0M7.1 47.5h1.0M19.9 39.7h1.0" stroke="#E8301A" stroke-width="1.0" fill="none"/></g>
<text x="534.30" y="83.70" font-size="6.2" text-anchor="middle" font-weight="bold" font-style="italic" stroke="#000" stroke-width="0.15">CTLA4</text>
<g transform="translate(629.9 88.3)"><use href="#sg"/><path d="M0.9 31.3h1.0M-3.5 40.3h1.0M3.1 29.5h1.0M13.5 45.8h1.0M-22.6 13.9h1.0M-3.3 30.8h1.0M-4.4 41.9h1.0M-3.9 37.5h1.0M-15.5 38.3h1.0M-4.9 38.6h1.0M-2.2 45.9h1.0M4.6 51.2h1.0M3.0 39.2h1.0M-11.1 36.3h1.0M6.5 17.0h1.0M0.9 32.6h1.0M-3.0 46.0h1.0M-13.1 5.2h1.0M21.3 38.9h1.0M-11.9 33.0h1.0M-1.3 5.5h1.0M-6.2 49.5h1.0M-1.7 42.7h1.0M-28.7 17.6h1.0M6.1 50.1h1.0M0.9 39.1h1.0M-4.0 48.4h1.0M-7.8 44.5h1.0M16.3 14.7h1.0M20.5 40.9h1.0M-0.1 37.8h1.0M-11.6 35.4h1.0M8.3 38.7h1.0M12.8 45.1h1.0M-5.0 54.6h1.0M-17.7 35.0h1.0M-5.3 36.1h1.0M-18.3 34.8h1.0M-3.4 43.0h1.0M-4.1 45.5h1.0M17.4 36.3h1.0M-10.5 39.2h1.0M-4.9 25.1h1.0M11.9 42.3h1.0M-10.0 43.7h1.0M-0.9 45.4h1.0M-20.2 27.1h1.0M-3.1 23.1h1.0M-13.3 32.9h1.0M-5.4 36.8h1.0M-15.4 35.0h1.0M-10.9 43.5h1.0M0.1 40.6h1.0M-22.5 10.1h1.0M-23.8 22.5h1.0M-5.9 34.9h1.0M1.4 40.3h1.0M11.6 29.0h1.0M-0.9 39.5h1.0M10.0 41.3h1.0M-25.6 20.9h1.0M6.9 30.1h1.0M-4.2 51.8h1.0M-14.7 37.9h1.0M-22.4 13.5h1.0M-26.0 20.8h1.0M-7.1 42.2h1.0M1.4 42.4h1.0M-3.5 36.7h1.0M-4.0 14.1h1.0M-8.7 47.9h1.0M-17.3 37.1h1.0M2.6 47.3h1.0M-7.9 6.0h1.0M-18.9 18.3h1.0M-0.1 30.4h1.0M-4.6 53.8h1.0M-6.5 50.1h1.0M5.1 15.3h1.0M-3.4 51.4h1.0M-7.2 13.0h1.0M22.0 25.5h1.0M-7.0 53.5h1.0M8.3 15.7h1.0M-3.0 18.6h1.0M9.1 50.4h1.0M-12.8 7.7h1.0M-3.6 34.7h1.0M-23.5 27.6h1.0M-14.3 35.0h1.0M-21.1 10.1h1.0M-4.1 42.9h1.0M-8.9 36.7h1.0M19.7 28.6h1.0M5.9 39.4h1.0M-13.5 23.9h1.0M-8.2 32.9h1.0M-0.6 36.6h1.0M-16.3 36.9h1.0M0.7 33.4h1.0M-2.1 51.3h1.0M-4.2 45.4h1.0M-20.6 28.1h1.0M3.4 40.7h1.0M3.4 31.1h1.0M-4.1 47.5h1.0M-14.5 35.5h1.0M14.9 12.8h1.0M2.9 34.0h1.0M-18.0 9.2h1.0M-15.0 13.7h1.0M8.0 21.2h1.0M-22.6 26.7h1.0M-13.3 16.5h1.0M-0.0 43.9h1.0M-1.0 37.8h1.0M-10.6 35.0h1.0M-15.2 36.6h1.0M-6.8 46.0h1.0M9.3 41.4h1.0M7.1 33.0h1.0M-3.5 7.9h1.0M-14.5 37.5h1.0M-2.5 35.6h1.0M-3.6 35.5h1.0M-7.2 40.6h1.0M-6.0 38.8h1.0M-2.3 45.5h1.0M-6.2 47.3h1.0M-10.2 44.5h1.0M-12.3 33.3h1.0M-6.4 16.8h1.0M19.7 43.7h1.0M-23.4 15.9h1.0M-15.8 14.6h1.0M-13.9 39.8h1.0M-20.9 26.7h1.0M-0.3 46.7h1.0M-8.2 37.8h1.0M0.2 30.5h1.0M-11.7 42.0h1.0M18.4 41.8h1.0M-17.1 9.1h1.0M7.4 9.0h1.0M-16.2 38.0h1.0M-4.3 39.8h1.0M-26.4 20.8h1.0M-14.3 39.8h1.0M-1.2 46.8h1.0M9.2 49.4h1.0M4.2 13.4h1.0M-3.1 4.4h1.0M21.7 21.7h1.0M-11.3 34.9h1.0M-21.3 27.4h1.0M2.8 27.2h1.0M-27.1 17.0h1.0M-12.2 16.1h1.0M-23.3 14.7h1.0M-1.2 43.0h1.0M-9.3 37.7h1.0M9.1 46.1h1.0M-1.5 43.6h1.0M-6.7 17.1h1.0M-8.1 19.4h1.0M0.7 37.6h1.0M0.7 7.6h1.0M-3.6 53.7h1.0M3.5 32.5h1.0M-16.7 34.3h1.0M14.6 44.0h1.0M-4.5 37.2h1.0M-10.9 25.3h1.0M-11.5 7.2h1.0M-4.7 35.7h1.0M-3.5 38.7h1.0M8.6 32.3h1.0M15.4 42.9h1.0M-4.8 54.5h1.0M8.9 12.8h1.0M7.7 51.5h1.0M-3.7 37.8h1.0M-17.2 34.9h1.0M-16.1 21.4h1.0M-0.3 42.2h1.0M7.1 53.3h1.0M4.8 8.8h1.0M-6.7 9.8h1.0M-7.2 46.8h1.0M19.6 28.0h1.0M-6.8 37.9h1.0M-14.5 35.0h1.0M12.8 42.8h1.0M-2.7 39.6h1.0M-16.1 33.9h1.0M-23.6 14.4h1.0M-17.5 30.6h1.0M-3.0 52.5h1.0M-18.7 35.9h1.0M12.3 38.3h1.0M4.8 32.9h1.0M16.4 38.0h1.0M-26.0 18.9h1.0M2.9 5.4h1.0M-1.7 33.8h1.0M-10.2 17.7h1.0M-6.9 35.6h1.0M-28.5 20.4h1.0M-2.4 43.2h1.0M27.2 26.8h1.0M-22.4 12.8h1.0M-10.2 36.9h1.0M-7.0 33.5h1.0M-3.0 11.0h1.0M3.8 49.2h1.0M6.1 17.1h1.0M-2.7 9.4h1.0M-12.2 37.4h1.0M4.6 11.6h1.0M-13.2 31.5h1.0M-4.8 48.4h1.0M-2.7 48.8h1.0M-13.7 10.3h1.0M0.7 10.2h1.0M-11.2 35.1h1.0M-12.3 32.7h1.0M1.9 37.1h1.0M1.6 37.0h1.0M-10.1 41.6h1.0M2.6 39.4h1.0M-19.9 14.6h1.0M3.3 40.6h1.0M19.4 29.1h1.0M-4.4 46.0h1.0M-6.5 45.1h1.0M-4.0 20.4h1.0M12.7 10.1h1.0M-1.1 40.3h1.0M9.7 44.2h1.0M-5.1 50.1h1.0M-8.4 39.4h1.0M-3.0 7.8h1.0M4.8 31.2h1.0M-16.0 8.1h1.0M1.1 36.7h1.0M-0.4 37.5h1.0M11.8 21.3h1.0M-3.2 46.5h1.0M11.4 10.9h1.0M-2.0 34.2h1.0M7.1 47.5h1.0M9.2 10.9h1.0M-1.0 21.3h1.0M-8.9 45.8h1.0" stroke="#F4A898" stroke-width="1.0" fill="none"/><path d="M0.1 1.1h1.0M-2.0 37.7h1.0M13.4 45.3h1.0M-3.3 49.6h1.0M-2.4 20.1h1.0M-0.8 37.5h1.0M11.2 28.6h1.0M-5.1 3.1h1.0M-2.5 42.4h1.0M-10.9 42.7h1.0M-8.7 6.1h1.0M-7.2 39.2h1.0M8.3 15.3h1.0M-3.7 28.5h1.0M12.6 45.6h1.0M-4.9 41.9h1.0M-5.1 53.9h1.0M27.3 23.8h1.0M-6.6 52.8h1.0M-18.7 21.6h1.0M-4.3 42.7h1.0M-26.9 22.7h1.0M-2.7 44.9h1.0M-7.0 37.7h1.0M12.3 27.5h1.0M-1.3 35.7h1.0M-4.7 39.4h1.0M16.2 44.1h1.0M-8.0 35.1h1.0M10.5 7.7h1.0M-11.3 40.3h1.0M-7.0 38.5h1.0M-3.1 37.3h1.0M16.9 15.9h1.0M-10.5 11.8h1.0M16.6 40.6h1.0M-8.8 35.7h1.0M-8.4 31.1h1.0M-1.9 37.6h1.0M-8.0 45.7h1.0M11.5 29.9h1.0M-25.2 21.1h1.0M-5.0 38.3h1.0M17.2 38.0h1.0M-16.2 19.6h1.0M-3.2 39.8h1.0M-4.1 49.1h1.0M-28.9 17.5h1.0M-4.9 9.1h1.0M-9.3 33.6h1.0M-2.6 42.6h1.0M-4.1 40.6h1.0M-4.8 53.7h1.0M15.8 32.0h1.0M2.9 45.3h1.0M8.4 13.0h1.0M-5.5 46.3h1.0M-11.5 41.7h1.0M-28.5 17.5h1.0M-15.0 16.9h1.0M-9.0 37.4h1.0M2.5 33.5h1.0M-10.6 12.8h1.0M-3.8 42.4h1.0M16.8 45.7h1.0M19.5 38.1h1.0M-4.4 36.1h1.0M-4.1 39.2h1.0M0.8 30.8h1.0M18.5 40.2h1.0M-3.6 24.1h1.0M-22.9 18.5h1.0M1.9 45.7h1.0M-14.9 35.3h1.0M-0.1 35.2h1.0M-16.1 37.5h1.0M3.8 43.8h1.0M-5.4 54.7h1.0M19.0 29.3h1.0M-15.7 28.4h1.0M22.5 19.9h1.0M-2.3 41.8h1.0M10.8 13.6h1.0M10.1 13.3h1.0M16.4 36.4h1.0M9.4 11.2h1.0M-4.3 39.0h1.0M-20.4 30.3h1.0M4.4 40.2h1.0M20.7 38.6h1.0M-15.5 8.5h1.0M18.6 16.6h1.0M-4.4 16.5h1.0M12.4 47.4h1.0M-15.1 20.2h1.0M21.6 19.4h1.0M-3.1 20.9h1.0M3.5 8.2h1.0M3.1 30.3h1.0M-2.4 28.9h1.0M-5.9 4.5h1.0M6.6 55.9h1.0M-14.9 37.7h1.0M14.6 15.8h1.0M-13.8 40.1h1.0M-5.7 39.4h1.0M17.2 18.4h1.0M0.6 0.7h1.0M23.7 26.9h1.0M-9.8 44.0h1.0M-5.2 39.4h1.0M-11.4 43.2h1.0M-3.4 36.0h1.0M12.7 37.5h1.0M3.3 41.5h1.0M-8.0 43.0h1.0M-5.9 54.0h1.0M4.0 28.6h1.0M-1.0 35.9h1.0M-19.1 27.3h1.0M7.6 18.1h1.0M3.5 34.7h1.0M-12.3 42.2h1.0M-6.2 45.2h1.0M6.8 25.5h1.0M14.0 29.2h1.0M-5.7 38.7h1.0M11.9 42.3h1.0M10.0 28.9h1.0M10.0 46.5h1.0M-17.1 17.8h1.0M-10.5 38.4h1.0M-12.9 13.6h1.0M5.6 10.8h1.0M-3.4 52.0h1.0M13.7 28.5h1.0M-2.1 33.8h1.0M-1.1 11.4h1.0M0.1 13.4h1.0M-0.1 6.2h1.0M-8.8 36.5h1.0M5.2 39.0h1.0M-4.1 53.3h1.0M-1.5 10.4h1.0M-2.1 43.3h1.0M-0.9 37.0h1.0M0.9 35.7h1.0M25.6 28.6h1.0M1.8 40.1h1.0M13.2 30.8h1.0M-14.6 9.3h1.0M-12.4 23.7h1.0M-0.2 6.3h1.0M18.1 38.2h1.0M17.4 12.1h1.0M9.6 21.7h1.0M-10.1 40.0h1.0M-1.9 37.9h1.0M16.8 11.7h1.0M-11.6 42.7h1.0M8.1 49.6h1.0M0.5 38.2h1.0M-2.2 42.1h1.0M-3.6 50.4h1.0M-6.3 45.4h1.0M7.5 55.4h1.0M-5.3 42.0h1.0M-11.7 42.1h1.0M-9.6 35.6h1.0M24.2 24.3h1.0M9.7 12.8h1.0M-1.1 45.8h1.0M0.4 30.3h1.0M0.5 46.2h1.0M-6.7 37.7h1.0M13.5 28.2h1.0M13.3 45.6h1.0M-5.7 53.3h1.0M-6.8 18.9h1.0M-10.9 14.9h1.0M-1.8 43.8h1.0M11.1 28.8h1.0M-6.2 32.1h1.0M-25.8 20.9h1.0M-10.1 40.8h1.0M-0.2 43.9h1.0M-0.1 31.6h1.0M-1.3 38.1h1.0M-9.1 12.5h1.0M-26.4 22.2h1.0M-5.2 34.0h1.0M21.1 41.1h1.0M-0.0 12.1h1.0M19.2 42.0h1.0M21.2 17.3h1.0M-0.9 4.9h1.0M5.9 54.6h1.0M-2.7 38.4h1.0M-3.2 50.5h1.0M-10.6 39.3h1.0M-6.1 39.6h1.0M-5.0 18.9h1.0M6.9 57.2h1.0M20.5 40.1h1.0M-11.5 43.2h1.0M14.1 31.8h1.0M1.8 5.6h1.0M2.1 30.8h1.0M1.1 37.5h1.0M19.7 36.7h1.0M-0.7 38.7h1.0M7.7 42.4h1.0M6.4 4.5h1.0M13.8 45.9h1.0M-4.6 17.6h1.0M-16.8 35.7h1.0M-2.4 9.0h1.0M16.0 10.3h1.0M-5.6 40.7h1.0M-14.6 39.8h1.0M-16.9 10.2h1.0M-1.3 44.4h1.0M14.2 45.3h1.0M-4.1 38.2h1.0M5.9 54.8h1.0M-25.4 21.3h1.0M-0.6 40.5h1.0M-5.5 46.1h1.0M19.5 24.8h1.0M7.4 21.5h1.0M-1.0 44.6h1.0M-7.6 42.6h1.0M-4.9 53.2h1.0M-7.0 44.4h1.0M14.8 39.4h1.0M7.5 12.6h1.0M8.0 52.8h1.0M11.8 28.2h1.0M1.0 39.5h1.0M23.3 26.2h1.0M0.4 37.2h1.0M-0.7 34.0h1.0M-13.4 26.4h1.0M-5.5 54.5h1.0M1.4 43.6h1.0M20.5 16.5h1.0M1.5 34.8h1.0M7.5 5.7h1.0M-1.7 50.3h1.0M10.9 48.2h1.0M24.5 26.5h1.0M-1.7 4.0h1.0M21.7 19.4h1.0M7.2 25.9h1.0M21.0 27.6h1.0M-12.8 41.2h1.0M-8.3 46.4h1.0M9.6 8.7h1.0M13.1 46.3h1.0" stroke="#EF7A62" stroke-width="1.0" fill="none"/><path d="M24.1 25.3h1.0M-0.3 10.9h1.0M11.5 48.7h1.0M-2.4 51.0h1.0M-14.8 35.2h1.0M-7.4 10.4h1.0M6.6 51.6h1.0M17.5 16.3h1.0M-1.1 39.7h1.0M-4.8 45.9h1.0M-12.1 37.6h1.0M-0.4 2.9h1.0M16.5 38.7h1.0M-5.1 32.5h1.0M-7.9 35.5h1.0M-3.5 46.1h1.0M-0.3 50.0h1.0M6.5 15.5h1.0M-6.2 46.9h1.0M-17.3 36.5h1.0M-7.6 38.7h1.0M-9.2 36.0h1.0M-0.8 44.2h1.0M-16.1 11.1h1.0M-9.4 14.5h1.0M-4.0 45.4h1.0M-8.4 45.1h1.0M-0.2 36.3h1.0M-5.1 36.0h1.0M-5.3 16.6h1.0M-4.9 33.6h1.0M-2.3 49.5h1.0M2.4 41.5h1.0M-18.8 11.9h1.0M-11.0 36.5h1.0M-6.0 5.9h1.0M12.9 29.6h1.0M-10.1 37.0h1.0M1.2 9.9h1.0M3.4 25.2h1.0M-15.0 11.2h1.0M5.4 50.1h1.0M-42.8 25.0h1.0M-4.4 33.6h1.0M5.6 21.2h1.0M-0.1 40.0h1.0M-3.2 45.6h1.0M-6.8 52.7h1.0M-6.8 40.9h1.0M-17.7 29.6h1.0M-9.2 6.3h1.0M-3.5 43.7h1.0M1.6 30.3h1.0M7.5 55.4h1.0M2.6 25.4h1.0M14.0 14.5h1.0M-10.9 34.7h1.0M-14.3 34.6h1.0M-1.9 24.6h1.0M-3.3 49.2h1.0M10.7 16.7h1.0M-28.2 16.5h1.0M-3.7 40.3h1.0M-5.2 54.5h1.0M-3.5 45.3h1.0M4.5 14.8h1.0M-3.5 38.0h1.0M-5.2 53.8h1.0M16.4 43.5h1.0M-1.0 16.3h1.0M-14.1 8.3h1.0M9.9 45.6h1.0M-6.1 21.6h1.0M-18.4 30.7h1.0M5.9 53.3h1.0M4.4 50.8h1.0M-6.2 45.3h1.0M-2.9 44.8h1.0M-4.7 42.3h1.0M17.1 43.9h1.0M-0.8 40.1h1.0M-2.7 10.7h1.0M0.1 43.6h1.0M25.2 27.0h1.0M-0.8 7.8h1.0M-20.4 19.0h1.0M-2.9 31.6h1.0M-24.5 13.6h1.0M-9.4 6.1h1.0M8.5 49.4h1.0M-9.4 39.8h1.0M12.0 40.4h1.0M17.8 36.2h1.0M-5.9 11.9h1.0M3.5 14.3h1.0M22.3 21.7h1.0M-5.4 53.9h1.0M-3.5 25.3h1.0M-12.5 36.5h1.0M-3.2 10.1h1.0M24.2 30.2h1.0M-7.2 37.2h1.0M12.3 42.2h1.0M6.2 54.6h1.0M-0.5 41.3h1.0M14.2 29.1h1.0M-11.8 9.9h1.0M4.8 50.8h1.0M-1.1 37.6h1.0M18.2 39.8h1.0M-15.4 38.4h1.0M-0.9 1.0h1.0M-25.0 12.8h1.0M1.0 7.0h1.0M-14.5 23.0h1.0M12.4 28.9h1.0M-8.3 49.5h1.0M-41.3 22.0h1.0M-11.5 16.6h1.0M-19.8 22.5h1.0M2.1 46.3h1.0M-1.5 35.2h1.0M12.1 43.7h1.0M-3.7 46.2h1.0M-1.6 35.3h1.0M-17.8 16.9h1.0M-8.1 42.1h1.0M-2.4 48.4h1.0M-18.8 30.9h1.0M-4.2 54.5h1.0M-6.4 43.3h1.0M3.4 6.5h1.0M24.8 30.5h1.0M-20.8 13.4h1.0M-11.2 43.9h1.0M-4.5 48.1h1.0M-11.2 43.1h1.0M-3.1 50.3h1.0M-2.4 34.9h1.0M-15.8 22.2h1.0M-1.1 36.1h1.0M-1.2 14.6h1.0M-2.2 21.4h1.0M1.1 36.3h1.0M-17.0 16.2h1.0M-3.2 35.3h1.0M-5.4 53.9h1.0M-4.6 50.7h1.0M14.7 37.1h1.0M15.6 41.4h1.0M-26.1 19.6h1.0M3.3 43.5h1.0M2.1 18.0h1.0M-3.4 30.8h1.0M3.1 33.3h1.0M-1.4 50.6h1.0M12.4 30.8h1.0M-1.3 11.9h1.0M16.6 38.5h1.0M-4.1 48.0h1.0M-6.0 49.5h1.0M11.0 26.4h1.0M1.4 6.4h1.0M-3.8 50.8h1.0M-6.3 33.9h1.0M6.5 50.7h1.0M-4.2 53.2h1.0M8.1 38.9h1.0M-7.4 50.4h1.0M-4.0 34.1h1.0M-13.5 33.1h1.0M3.5 43.7h1.0M5.2 14.8h1.0M-5.9 26.6h1.0M-7.2 31.7h1.0M-5.5 46.5h1.0M11.0 41.7h1.0M-8.6 41.6h1.0M20.5 42.1h1.0M-10.0 39.9h1.0M8.4 30.9h1.0M-5.0 50.4h1.0M-3.0 52.6h1.0M-3.3 1.8h1.0M10.8 18.3h1.0M-0.3 46.1h1.0M-19.9 12.8h1.0M-5.7 9.3h1.0M17.6 24.3h1.0M-23.4 25.6h1.0M-8.4 36.0h1.0M-8.6 36.7h1.0M-1.2 49.9h1.0M23.7 22.0h1.0M-4.5 43.1h1.0M-4.3 35.9h1.0M5.7 49.3h1.0" stroke="#EC5234" stroke-width="1.0" fill="none"/><path d="M19.9 21.5h1.0M-12.5 37.1h1.0M2.0 47.5h1.0M11.5 43.8h1.0M4.2 21.9h1.0M-5.4 37.4h1.0M-5.6 17.9h1.0M5.1 50.7h1.0M-7.8 22.6h1.0M17.3 27.5h1.0M-1.7 19.1h1.0M13.9 29.1h1.0M-0.7 43.3h1.0M-3.0 18.7h1.0M14.8 29.6h1.0M15.1 27.1h1.0M-3.1 34.2h1.0M6.3 16.7h1.0M27.2 25.4h1.0M-21.9 22.2h1.0M-7.1 37.2h1.0M-2.1 43.3h1.0M-15.9 35.2h1.0M9.7 30.8h1.0M-0.8 38.0h1.0M-1.7 38.2h1.0M-9.0 45.1h1.0M-15.0 35.2h1.0M-12.7 41.4h1.0M0.3 30.9h1.0M-6.2 44.0h1.0M1.1 49.1h1.0M-14.4 18.8h1.0M-0.2 38.4h1.0M-3.6 6.7h1.0M17.6 40.7h1.0M-5.8 48.4h1.0M-2.0 8.3h1.0M-5.9 36.6h1.0M-11.4 25.3h1.0M1.6 46.0h1.0M-6.6 52.7h1.0M11.4 29.9h1.0M-7.3 50.0h1.0M-17.8 15.8h1.0M-5.7 33.9h1.0M17.0 42.1h1.0M2.9 39.3h1.0M2.5 45.1h1.0M11.2 16.4h1.0M9.5 6.4h1.0M-4.0 37.5h1.0M-5.7 42.8h1.0M-8.3 15.3h1.0M5.0 13.7h1.0M-18.5 35.0h1.0M20.7 37.7h1.0M-4.1 35.7h1.0M-4.2 50.8h1.0M-16.6 35.1h1.0M-9.2 42.6h1.0M-0.9 22.8h1.0M-4.6 44.3h1.0M-5.5 53.5h1.0M-1.7 37.9h1.0M-11.5 34.2h1.0M-8.3 33.6h1.0M14.1 45.1h1.0M-1.6 32.3h1.0M-12.7 12.9h1.0M-19.1 13.0h1.0M-3.1 42.6h1.0M14.9 10.8h1.0M3.3 46.4h1.0M11.6 31.6h1.0M-10.7 37.7h1.0M-8.3 43.9h1.0M-22.7 20.0h1.0M-7.0 29.6h1.0M-12.9 33.9h1.0M-2.6 50.9h1.0M6.5 29.5h1.0M-8.2 44.0h1.0M-4.7 23.3h1.0M-6.7 46.7h1.0M20.5 40.0h1.0M5.8 53.9h1.0M14.0 37.0h1.0M16.9 39.3h1.0M-7.2 45.2h1.0M-12.5 32.3h1.0M3.4 47.1h1.0M-0.1 19.7h1.0M-6.0 2.6h1.0M-14.9 36.3h1.0M-7.1 50.5h1.0M-6.5 18.8h1.0M-4.8 37.8h1.0M-16.3 36.3h1.0M-7.8 8.5h1.0M-6.7 35.8h1.0M6.8 49.2h1.0M14.1 28.3h1.0M-17.0 34.6h1.0M22.4 27.9h1.0M-3.0 33.2h1.0M3.6 29.7h1.0M-21.9 16.2h1.0M-6.2 33.3h1.0M-7.0 49.0h1.0M20.5 42.1h1.0M18.6 36.3h1.0M-16.4 34.9h1.0M-7.9 49.8h1.0M-2.9 45.5h1.0M-1.6 2.1h1.0M-2.5 37.5h1.0M-19.7 27.4h1.0M-5.5 50.0h1.0M19.6 36.5h1.0M3.0 6.5h1.0M-0.5 32.5h1.0M8.7 47.6h1.0M-0.1 44.3h1.0M2.8 50.0h1.0M-3.6 37.7h1.0M-2.6 22.1h1.0M-23.5 24.1h1.0M-15.9 38.6h1.0M7.9 24.6h1.0M-3.6 45.1h1.0M21.3 30.9h1.0M-1.0 40.4h1.0M-4.9 39.9h1.0M-4.4 13.3h1.0M2.5 22.3h1.0M2.2 31.7h1.0M19.9 26.5h1.0M-2.6 28.7h1.0M-8.5 38.9h1.0M-10.5 29.1h1.0M-6.9 51.6h1.0M19.4 26.9h1.0M-3.9 54.7h1.0M-12.2 8.9h1.0M-15.1 35.8h1.0M-5.5 35.2h1.0M-12.7 10.0h1.0M-11.3 5.1h1.0M0.2 45.1h1.0M-9.3 29.2h1.0M12.6 21.3h1.0M4.7 51.2h1.0M9.3 22.5h1.0M-15.7 34.9h1.0M-12.7 37.6h1.0M-4.9 45.4h1.0" stroke="#E8301A" stroke-width="1.0" fill="none"/></g>
<text x="622.30" y="83.70" font-size="6.2" text-anchor="middle" font-weight="bold" font-style="italic" stroke="#000" stroke-width="0.15">LAG3</text>
<g transform="translate(542.4 161.6)"><use href="#sg"/><path d="M-14.8 22.3h1.0M-21.2 16.2h1.0M8.6 10.9h1.0M-3.5 40.3h1.0M15.6 42.6h1.0M11.5 43.8h1.0M-22.6 13.9h1.0M-14.8 35.2h1.0M11.2 28.6h1.0M-15.8 8.4h1.0M17.4 37.6h1.0M-18.9 11.7h1.0M12.5 15.8h1.0M3.0 39.9h1.0M-1.4 35.5h1.0M7.2 51.5h1.0M10.3 39.8h1.0M16.5 38.7h1.0M-24.4 12.8h1.0M-10.3 8.2h1.0M17.3 27.5h1.0M-11.9 33.0h1.0M3.1 7.4h1.0M-16.1 8.5h1.0M-1.3 5.5h1.0M-15.0 19.9h1.0M-1.7 42.7h1.0M-6.6 52.8h1.0M12.3 30.0h1.0M-15.5 30.1h1.0M-3.3 31.3h1.0M6.9 23.7h1.0M-16.8 20.3h1.0M-13.2 5.8h1.0M0.9 39.1h1.0M17.1 16.1h1.0M-2.8 36.5h1.0M16.2 44.1h1.0M18.7 41.6h1.0M3.3 26.4h1.0M-11.3 40.3h1.0M5.0 11.1h1.0M0.3 21.1h1.0M-3.1 37.3h1.0M16.3 14.7h1.0M16.9 15.9h1.0M16.6 40.6h1.0M-0.6 26.0h1.0M24.8 25.1h1.0M-0.1 38.8h1.0M-0.8 44.2h1.0M18.1 40.1h1.0M9.7 30.8h1.0M9.6 10.1h1.0M12.8 45.1h1.0M-0.2 36.3h1.0M12.3 18.8h1.0M6.2 56.1h1.0M15.5 20.5h1.0M-9.0 46.5h1.0M15.3 30.4h1.0M15.0 37.3h1.0M-1.7 38.2h1.0M-9.0 45.1h1.0M14.0 12.0h1.0M-14.4 35.6h1.0M-10.5 39.2h1.0M-4.1 40.6h1.0M0.3 30.9h1.0M5.2 44.2h1.0M20.5 42.3h1.0M-4.0 17.5h1.0M-3.1 23.1h1.0M-15.4 21.9h1.0M6.9 18.2h1.0M-3.6 6.7h1.0M17.6 40.7h1.0M-15.4 35.0h1.0M-10.9 43.5h1.0M-8.4 40.9h1.0M-8.8 19.8h1.0M-3.7 4.2h1.0M-5.9 36.6h1.0M-15.0 11.2h1.0M6.8 4.5h1.0M-6.6 52.7h1.0M-11.3 34.8h1.0M-9.8 5.0h1.0M-26.0 20.8h1.0M16.9 43.7h1.0M0.8 30.8h1.0M-0.1 40.0h1.0M-16.0 24.2h1.0M-8.7 47.9h1.0M-11.8 7.4h1.0M2.8 50.4h1.0M19.7 21.2h1.0M-3.2 45.6h1.0M-10.5 11.9h1.0M10.0 18.2h1.0M-18.9 23.5h1.0M-0.1 35.2h1.0M-0.1 30.4h1.0M-9.8 5.4h1.0M-4.9 21.3h1.0M-9.1 26.5h1.0M1.6 16.3h1.0M-14.9 21.0h1.0M6.1 26.4h1.0M25.6 28.0h1.0M0.4 30.9h1.0M9.1 50.4h1.0M3.9 8.7h1.0M2.2 23.3h1.0M-4.3 39.0h1.0M-21.1 10.1h1.0M-20.4 30.3h1.0M4.4 12.7h1.0M-16.8 23.2h1.0M26.1 25.2h1.0M20.7 38.6h1.0M11.8 39.5h1.0M-12.4 20.4h1.0M2.5 15.0h1.0M-5.1 34.4h1.0M-2.8 4.1h1.0M5.9 39.4h1.0M-15.1 20.2h1.0M-15.4 30.0h1.0M10.3 46.7h1.0M1.0 30.7h1.0M1.9 10.1h1.0M2.5 3.0h1.0M-2.1 51.3h1.0M-5.8 44.1h1.0M9.8 47.5h1.0M-3.7 40.3h1.0M-3.5 45.3h1.0M13.2 24.8h1.0M5.0 13.7h1.0M-30.2 17.3h1.0M4.8 5.8h1.0M-3.2 38.3h1.0M-0.0 43.9h1.0M6.6 55.9h1.0M-1.0 37.8h1.0M-7.0 48.4h1.0M5.3 30.9h1.0M6.8 53.4h1.0M-15.2 36.6h1.0M-9.2 42.6h1.0M-8.4 7.2h1.0M20.2 17.3h1.0M12.1 27.2h1.0M-22.7 21.0h1.0M-16.2 9.6h1.0M-3.4 36.0h1.0M-8.0 43.0h1.0M14.7 46.0h1.0M-1.0 18.8h1.0M14.4 30.2h1.0M25.2 27.0h1.0M-27.8 21.5h1.0M3.5 34.7h1.0M-11.7 42.0h1.0M2.1 9.2h1.0M6.8 25.5h1.0M-16.2 38.0h1.0M-24.5 13.6h1.0M-14.3 39.8h1.0M-9.7 18.3h1.0M-1.2 46.8h1.0M-5.3 48.4h1.0M7.1 45.3h1.0M2.5 28.4h1.0M-3.5 36.1h1.0M-4.7 43.6h1.0M14.1 22.0h1.0M5.8 53.9h1.0M13.7 28.5h1.0M11.9 43.8h1.0M-2.1 33.8h1.0M10.8 29.0h1.0M11.7 43.8h1.0M-2.7 23.4h1.0M13.5 29.3h1.0M14.2 29.1h1.0M-8.8 36.5h1.0M9.3 16.6h1.0M-22.4 25.1h1.0M-0.1 12.3h1.0M-1.2 12.5h1.0M-8.7 40.2h1.0M2.6 45.4h1.0M-0.9 37.0h1.0M-22.7 27.2h1.0M-11.0 6.3h1.0M1.8 40.1h1.0M-8.1 19.4h1.0M-6.0 2.6h1.0M-14.9 36.3h1.0M-13.1 35.3h1.0M0.7 37.6h1.0M3.0 23.8h1.0M-3.6 53.7h1.0M3.5 32.5h1.0M-16.7 34.3h1.0M-7.1 50.5h1.0M-4.8 37.8h1.0M-4.7 35.7h1.0M-10.1 21.5h1.0M-6.7 35.8h1.0M-14.7 24.0h1.0M12.4 28.9h1.0M-8.7 16.9h1.0M-8.3 49.5h1.0M-23.0 27.1h1.0M5.9 13.4h1.0M10.4 22.0h1.0M-5.3 42.0h1.0M3.5 19.3h1.0M-8.4 44.9h1.0M0.4 30.3h1.0M7.1 53.3h1.0M-7.2 46.8h1.0M-20.3 18.5h1.0M6.9 29.7h1.0M-2.2 21.3h1.0M-1.6 35.3h1.0M-7.0 49.0h1.0M13.3 45.6h1.0M5.3 7.0h1.0M6.6 28.4h1.0M6.2 48.4h1.0M-18.7 30.1h1.0M-1.8 43.8h1.0M-2.7 39.6h1.0M11.9 44.5h1.0M-4.6 2.6h1.0M24.1 31.3h1.0M-4.2 54.5h1.0M2.9 37.1h1.0M-18.9 16.0h1.0M-22.1 27.3h1.0M-16.1 33.9h1.0M-6.4 43.3h1.0M12.4 12.3h1.0M-3.3 33.6h1.0M-20.8 13.4h1.0M-17.5 35.8h1.0M21.1 41.1h1.0M-25.9 22.6h1.0M-1.1 36.1h1.0M-3.2 35.3h1.0M-16.6 8.3h1.0M19.1 37.7h1.0M-11.5 13.5h1.0M14.7 37.1h1.0M-0.1 44.3h1.0M2.9 5.4h1.0M-23.0 19.6h1.0M-1.0 38.5h1.0M-28.5 20.4h1.0M-16.8 35.7h1.0M-9.0 12.0h1.0M0.7 10.2h1.0M-6.4 45.0h1.0M-10.1 41.6h1.0M3.3 40.6h1.0M-14.6 8.8h1.0M5.2 14.8h1.0M-5.5 46.1h1.0M5.4 31.2h1.0M-4.0 20.4h1.0M-5.6 51.0h1.0M-22.6 23.7h1.0M-7.2 31.7h1.0M-3.2 50.3h1.0M-6.9 51.6h1.0M8.1 11.0h1.0M-3.9 54.7h1.0M-1.1 40.3h1.0M18.4 22.1h1.0M15.9 38.9h1.0M7.4 18.3h1.0M-13.1 9.7h1.0M-21.4 12.8h1.0M10.8 18.3h1.0M-19.1 34.5h1.0M-19.1 10.6h1.0M0.2 45.1h1.0M-8.5 42.7h1.0M-3.3 6.6h1.0M12.6 21.3h1.0M-19.8 21.9h1.0M-10.1 12.7h1.0M9.4 47.7h1.0M4.4 41.6h1.0M-22.2 10.2h1.0M-8.4 36.0h1.0M4.1 49.9h1.0M-8.6 36.7h1.0M11.3 10.4h1.0M-12.7 37.6h1.0M-4.5 43.1h1.0M14.6 9.3h1.0M-13.1 18.6h1.0M-17.2 34.7h1.0M-4.9 45.4h1.0" stroke="#F4A898" stroke-width="1.0" fill="none"/><path d="M13.4 45.3h1.0M-13.8 7.4h1.0M-4.4 41.9h1.0M-0.7 6.9h1.0M-5.4 37.4h1.0M-16.7 34.4h1.0M-11.7 41.9h1.0M-8.7 6.1h1.0M-3.4 17.9h1.0M22.7 19.6h1.0M-12.1 37.6h1.0M-23.6 15.2h1.0M21.4 24.7h1.0M-6.2 49.5h1.0M-18.7 21.6h1.0M11.3 20.0h1.0M-15.1 32.3h1.0M3.7 40.1h1.0M-3.1 34.2h1.0M-6.6 24.7h1.0M22.1 25.2h1.0M-7.6 38.7h1.0M-5.4 13.7h1.0M-0.1 37.8h1.0M9.7 13.0h1.0M-4.1 41.5h1.0M18.0 44.4h1.0M15.3 10.5h1.0M5.6 47.1h1.0M-1.9 37.6h1.0M-8.0 45.7h1.0M-8.9 33.9h1.0M-5.3 36.1h1.0M2.6 11.5h1.0M-3.4 43.0h1.0M-4.1 45.5h1.0M6.5 51.7h1.0M22.3 29.1h1.0M-12.3 12.3h1.0M-7.0 20.4h1.0M0.4 44.8h1.0M-12.7 41.4h1.0M-14.5 8.5h1.0M-0.9 45.4h1.0M1.7 48.9h1.0M1.1 49.1h1.0M-22.3 17.4h1.0M12.9 29.6h1.0M19.9 18.7h1.0M-15.9 15.5h1.0M2.5 33.5h1.0M1.6 46.0h1.0M11.6 29.0h1.0M9.0 21.2h1.0M10.4 28.1h1.0M13.8 29.6h1.0M-14.7 37.9h1.0M-22.0 15.0h1.0M-16.0 21.7h1.0M0.4 12.4h1.0M21.5 24.1h1.0M-4.4 33.6h1.0M21.7 20.2h1.0M5.6 21.2h1.0M3.6 12.0h1.0M13.8 23.2h1.0M1.2 2.3h1.0M10.9 23.7h1.0M10.5 10.7h1.0M5.0 9.5h1.0M-22.9 22.0h1.0M-9.2 6.3h1.0M-15.7 28.4h1.0M-7.0 53.5h1.0M-2.3 41.8h1.0M6.9 56.2h1.0M-17.6 21.0h1.0M-3.2 12.9h1.0M3.1 44.8h1.0M-13.9 34.8h1.0M-3.6 34.7h1.0M-4.0 37.5h1.0M-14.3 35.0h1.0M7.5 55.4h1.0M4.4 40.2h1.0M5.3 47.2h1.0M18.6 16.6h1.0M14.0 14.5h1.0M-11.4 15.7h1.0M-14.3 34.6h1.0M-11.9 18.6h1.0M14.5 11.8h1.0M-11.8 7.2h1.0M22.1 21.8h1.0M7.1 12.6h1.0M-3.3 49.2h1.0M4.6 18.1h1.0M2.1 11.2h1.0M9.6 50.2h1.0M16.7 36.0h1.0M-8.6 13.6h1.0M-14.7 35.2h1.0M-4.1 47.5h1.0M-12.9 22.9h1.0M14.0 32.1h1.0M8.0 21.2h1.0M11.8 27.7h1.0M-10.6 35.0h1.0M-4.2 50.8h1.0M-0.3 0.4h1.0M0.9 12.6h1.0M17.2 18.4h1.0M-3.6 35.5h1.0M-4.6 44.3h1.0M9.1 49.8h1.0M-1.7 37.9h1.0M-11.3 35.3h1.0M-4.1 53.6h1.0M-21.6 29.6h1.0M-0.8 40.1h1.0M16.5 43.0h1.0M19.7 43.7h1.0M-12.5 24.6h1.0M2.5 43.8h1.0M7.2 11.5h1.0M10.2 29.0h1.0M-1.0 35.9h1.0M-16.9 17.0h1.0M16.8 43.7h1.0M-12.4 19.5h1.0M0.2 30.5h1.0M8.4 6.2h1.0M12.7 44.1h1.0M13.3 26.0h1.0M-0.7 11.2h1.0M20.3 18.1h1.0M4.9 2.4h1.0M-4.3 39.8h1.0M10.0 28.9h1.0M3.3 46.4h1.0M11.6 31.6h1.0M-10.7 37.7h1.0M13.2 20.8h1.0M-12.0 17.5h1.0M-2.6 50.9h1.0M-15.0 39.1h1.0M-4.8 49.3h1.0M-17.7 26.7h1.0M20.5 17.6h1.0M-6.0 39.7h1.0M1.2 8.9h1.0M-21.3 27.4h1.0M23.0 28.8h1.0M-0.0 37.6h1.0M5.1 19.7h1.0M3.6 36.0h1.0M-7.3 4.9h1.0M10.2 29.6h1.0M4.8 50.8h1.0M-9.3 37.7h1.0M-1.1 37.6h1.0M-2.0 41.8h1.0M-25.0 25.2h1.0M-7.4 20.3h1.0M19.7 36.0h1.0M12.6 29.1h1.0M-16.6 7.0h1.0M3.7 39.4h1.0M18.1 38.2h1.0M-11.1 33.4h1.0M16.1 30.3h1.0M-1.9 37.9h1.0M-20.0 13.2h1.0M8.6 32.3h1.0M19.1 28.3h1.0M0.5 38.2h1.0M-16.5 13.1h1.0M12.1 38.5h1.0M-1.1 45.8h1.0M7.7 51.5h1.0M2.1 46.3h1.0M-3.7 37.8h1.0M-17.2 34.9h1.0M-6.7 9.8h1.0M-1.4 34.0h1.0M-6.2 33.3h1.0M23.1 25.9h1.0M-17.7 33.2h1.0M5.2 30.3h1.0M11.1 28.8h1.0M-8.1 42.1h1.0M-14.5 35.0h1.0M12.8 42.8h1.0M-20.4 26.4h1.0M-2.4 48.4h1.0M-2.8 42.7h1.0M-3.2 33.4h1.0M-23.6 14.4h1.0M12.6 45.6h1.0M-12.5 33.7h1.0M-24.9 16.7h1.0M-5.2 34.0h1.0M-10.3 31.0h1.0M4.9 56.6h1.0M-2.9 45.5h1.0M15.0 11.7h1.0M-10.6 39.3h1.0M-23.1 20.1h1.0M-3.6 23.1h1.0M-5.0 18.9h1.0M6.9 57.2h1.0M8.7 47.6h1.0M8.3 14.6h1.0M-3.9 38.8h1.0M-6.9 45.6h1.0M7.6 55.6h1.0M18.0 36.4h1.0M-1.7 15.4h1.0M-2.4 43.2h1.0M3.3 43.5h1.0M-3.4 30.8h1.0M-3.6 45.1h1.0M-5.6 50.2h1.0M5.9 31.6h1.0M-15.6 22.2h1.0M-3.0 11.0h1.0M6.2 8.4h1.0M-2.4 9.0h1.0M-4.4 9.1h1.0M-4.4 13.3h1.0M3.3 45.8h1.0M-14.7 12.9h1.0M3.9 1.8h1.0M5.2 53.6h1.0M1.9 37.1h1.0M5.9 54.8h1.0M16.4 45.2h1.0M-4.0 34.1h1.0M-0.2 12.9h1.0M20.2 24.4h1.0M-27.0 16.1h1.0M19.5 24.8h1.0M6.9 51.5h1.0M22.2 29.0h1.0M-2.4 22.7h1.0M-21.0 29.7h1.0M-10.0 39.9h1.0M-5.0 50.4h1.0M11.8 28.2h1.0M-22.7 10.7h1.0M7.9 33.9h1.0M0.4 37.2h1.0M-10.4 14.6h1.0M11.8 21.3h1.0M21.0 37.1h1.0M-3.7 32.3h1.0M-9.2 40.2h1.0M3.7 19.0h1.0M-15.7 34.9h1.0M10.8 28.6h1.0M-8.3 46.4h1.0M-15.5 33.2h1.0M11.2 19.0h1.0" stroke="#EF7A62" stroke-width="1.0" fill="none"/><path d="M-14.0 17.9h1.0M-23.9 17.2h1.0M0.9 31.3h1.0M-21.2 12.4h1.0M-3.8 32.7h1.0M-3.9 33.0h1.0M-0.0 23.2h1.0M6.8 20.8h1.0M2.3 18.3h1.0M-7.2 39.2h1.0M-9.4 31.1h1.0M-2.5 15.5h1.0M12.2 28.4h1.0M20.6 39.2h1.0M-0.7 43.3h1.0M10.2 14.5h1.0M-8.0 35.1h1.0M9.4 11.8h1.0M0.9 13.8h1.0M-14.2 30.2h1.0M11.5 30.4h1.0M-2.1 43.3h1.0M-11.6 35.4h1.0M-9.2 36.0h1.0M13.8 11.3h1.0M-8.8 35.7h1.0M-18.6 16.0h1.0M3.9 12.7h1.0M-12.1 39.2h1.0M-25.2 21.1h1.0M-18.3 34.8h1.0M13.5 39.9h1.0M5.9 53.8h1.0M2.4 41.5h1.0M16.8 12.4h1.0M-8.8 9.7h1.0M-5.9 42.1h1.0M-11.7 39.6h1.0M-7.8 5.3h1.0M-3.2 6.9h1.0M-4.8 53.7h1.0M-3.6 35.7h1.0M-14.4 18.8h1.0M2.9 45.3h1.0M-19.1 8.2h1.0M-1.1 12.1h1.0M8.4 13.0h1.0M-0.2 38.4h1.0M-5.5 46.3h1.0M-0.6 9.5h1.0M-9.0 37.4h1.0M0.4 12.6h1.0M-23.8 22.5h1.0M26.0 25.8h1.0M-15.1 5.3h1.0M-7.5 39.5h1.0M-4.2 51.8h1.0M5.4 50.1h1.0M18.5 40.2h1.0M5.6 46.8h1.0M-18.8 16.2h1.0M2.9 39.3h1.0M-4.6 53.8h1.0M-14.8 10.2h1.0M-1.1 31.2h1.0M22.5 19.9h1.0M-21.0 24.3h1.0M2.6 39.0h1.0M9.4 11.2h1.0M1.0 10.5h1.0M13.8 45.6h1.0M-14.4 36.2h1.0M-4.4 16.5h1.0M26.5 25.5h1.0M-4.4 28.2h1.0M-13.7 18.3h1.0M-0.6 36.6h1.0M-16.3 36.9h1.0M2.3 13.8h1.0M3.4 31.1h1.0M-1.2 39.5h1.0M4.2 22.2h1.0M-14.5 35.5h1.0M-14.7 6.3h1.0M14.8 19.1h1.0M-18.5 35.0h1.0M3.7 8.6h1.0M5.9 16.6h1.0M-5.2 53.8h1.0M-12.1 28.7h1.0M-7.2 23.9h1.0M-11.2 15.3h1.0M-14.9 37.7h1.0M-15.6 28.6h1.0M-21.7 20.7h1.0M-3.3 26.4h1.0M-14.5 37.5h1.0M20.7 18.1h1.0M0.6 0.7h1.0M5.9 53.3h1.0M22.9 19.4h1.0M10.6 42.7h1.0M-4.0 48.4h1.0M-11.3 19.5h1.0M-1.6 40.2h1.0M-0.3 34.3h1.0M5.1 16.6h1.0M-13.4 17.3h1.0M-2.7 10.7h1.0M-5.2 54.5h1.0M-12.3 42.2h1.0M-11.6 17.4h1.0M-6.2 45.2h1.0M0.4 32.3h1.0M-6.4 20.0h1.0M-20.1 11.1h1.0M-25.1 18.0h1.0M10.6 11.5h1.0M17.8 36.2h1.0M11.0 38.8h1.0M6.0 9.8h1.0M-12.9 13.6h1.0M19.4 24.5h1.0M5.6 10.8h1.0M-14.1 10.0h1.0M2.2 42.0h1.0M5.0 11.9h1.0M23.9 24.5h1.0M-23.3 14.7h1.0M-12.5 32.3h1.0M-1.2 43.0h1.0M-1.2 18.4h1.0M-4.1 53.3h1.0M24.7 23.6h1.0M-19.5 15.2h1.0M6.4 49.9h1.0M-1.5 43.6h1.0M12.3 30.2h1.0M17.7 17.4h1.0M4.2 29.9h1.0M-2.5 15.0h1.0M16.8 11.7h1.0M15.4 42.9h1.0M24.5 27.9h1.0M-11.7 42.1h1.0M-9.9 39.7h1.0M-3.0 33.2h1.0M-9.6 37.0h1.0M-16.1 21.4h1.0M-19.1 17.4h1.0M-0.3 42.2h1.0M16.3 37.2h1.0M12.6 28.6h1.0M20.5 42.1h1.0M-10.9 14.9h1.0M17.5 32.4h1.0M-2.7 6.3h1.0M-16.5 17.9h1.0M10.1 30.5h1.0M-4.0 32.9h1.0M7.3 41.6h1.0M12.8 15.9h1.0M24.8 24.2h1.0M10.3 30.4h1.0M-3.2 50.5h1.0M19.6 36.5h1.0M-22.7 12.8h1.0M-6.1 39.6h1.0M5.9 32.7h1.0M2.1 30.8h1.0M-3.6 37.7h1.0M13.2 18.9h1.0M-0.7 38.7h1.0M-13.1 21.7h1.0M16.0 10.3h1.0M-5.6 40.7h1.0M-8.6 8.4h1.0M-4.8 48.4h1.0M21.2 30.8h1.0M-16.9 10.2h1.0M-4.1 38.2h1.0M-10.3 44.0h1.0M-13.7 10.3h1.0M-25.4 21.3h1.0M-21.0 13.7h1.0M-19.2 25.8h1.0M-13.5 33.1h1.0M-4.4 46.0h1.0M-16.4 6.1h1.0M-5.9 26.6h1.0M-11.3 13.5h1.0M-3.4 12.2h1.0M-10.5 29.1h1.0M7.5 12.6h1.0M-8.8 2.7h1.0M4.8 31.2h1.0M-5.8 20.4h1.0M2.5 9.2h1.0M-11.3 5.1h1.0M-16.0 8.1h1.0M25.5 26.3h1.0M-0.7 34.0h1.0M20.5 16.5h1.0M5.8 22.8h1.0M6.1 7.2h1.0M-13.6 16.3h1.0M3.0 30.3h1.0M3.1 16.6h1.0M24.2 22.4h1.0" stroke="#EC5234" stroke-width="1.0" fill="none"/><path d="M2.0 47.5h1.0M-2.4 41.2h1.0M-1.1 39.7h1.0M-5.1 53.9h1.0M-11.2 34.9h1.0M-26.9 22.7h1.0M3.5 18.4h1.0M12.3 27.5h1.0M-4.7 39.4h1.0M-16.1 23.0h1.0M8.9 22.7h1.0M-7.0 38.5h1.0M-5.0 38.3h1.0M-2.7 44.7h1.0M15.0 45.4h1.0M12.0 21.5h1.0M-22.7 20.2h1.0M-4.7 21.2h1.0M-2.7 5.5h1.0M12.7 10.6h1.0M15.9 15.3h1.0M15.8 40.4h1.0M-4.9 25.1h1.0M-10.0 43.7h1.0M-1.7 23.3h1.0M4.1 41.4h1.0M-2.6 23.3h1.0M23.7 25.0h1.0M-14.3 15.0h1.0M-10.6 12.8h1.0M11.9 16.4h1.0M6.9 30.1h1.0M-9.6 12.6h1.0M-3.8 42.4h1.0M11.4 29.9h1.0M-8.5 14.3h1.0M14.2 15.9h1.0M11.6 14.1h1.0M8.5 41.8h1.0M-13.6 36.8h1.0M-13.7 26.6h1.0M6.3 47.2h1.0M-6.5 42.3h1.0M2.9 6.3h1.0M-3.4 51.4h1.0M11.6 17.9h1.0M-6.5 16.0h1.0M-1.7 37.8h1.0M-16.2 26.9h1.0M16.4 36.4h1.0M-14.1 34.7h1.0M-4.1 42.9h1.0M19.7 28.6h1.0M4.4 10.6h1.0M7.0 55.3h1.0M-6.1 15.4h1.0M-0.5 6.6h1.0M-3.9 35.7h1.0M-3.5 38.0h1.0M-4.1 35.7h1.0M-6.1 41.4h1.0M13.9 29.5h1.0M-8.7 10.0h1.0M-7.5 11.6h1.0M-25.4 21.1h1.0M-2.5 35.6h1.0M9.9 45.6h1.0M-5.2 52.1h1.0M-6.2 45.3h1.0M17.1 43.9h1.0M10.2 8.6h1.0M3.3 41.5h1.0M-5.9 54.0h1.0M-13.9 39.8h1.0M14.1 45.1h1.0M8.1 12.6h1.0M-1.6 32.3h1.0M13.5 28.7h1.0M-1.7 20.2h1.0M-14.9 14.4h1.0M-21.3 27.5h1.0M-5.7 38.7h1.0M-15.1 9.6h1.0M-1.8 1.9h1.0M15.7 44.6h1.0M10.0 46.5h1.0M-11.6 22.9h1.0M-26.7 16.4h1.0M21.7 21.7h1.0M-7.6 20.1h1.0M-7.2 37.2h1.0M20.6 40.3h1.0M11.5 9.2h1.0M6.9 25.6h1.0M-16.6 21.9h1.0M15.7 10.1h1.0M-15.4 38.4h1.0M5.3 48.5h1.0M8.3 10.7h1.0M-8.3 7.6h1.0M-4.3 34.3h1.0M11.1 11.1h1.0M-3.5 38.7h1.0M-4.8 54.5h1.0M-2.2 42.1h1.0M-17.0 34.6h1.0M-9.3 36.1h1.0M11.2 28.7h1.0M-3.7 46.2h1.0M18.6 36.3h1.0M-7.8 10.8h1.0M11.5 27.9h1.0M-8.6 43.6h1.0M-20.0 9.0h1.0M-1.2 14.6h1.0M6.5 23.6h1.0M-4.6 50.7h1.0M4.4 8.4h1.0M3.9 35.1h1.0M-14.8 31.6h1.0M-10.4 19.3h1.0M-23.5 24.1h1.0M9.6 16.4h1.0M1.9 32.4h1.0M20.8 30.1h1.0M-18.2 13.1h1.0M-3.1 19.2h1.0M1.4 6.4h1.0M-12.2 37.4h1.0M-6.3 33.9h1.0M-24.6 17.4h1.0M-12.1 9.7h1.0M9.9 49.9h1.0M0.7 35.8h1.0M19.9 26.5h1.0M10.8 13.4h1.0M-5.5 46.5h1.0M-7.6 42.6h1.0M-4.9 53.2h1.0M-1.2 0.4h1.0M0.8 10.1h1.0M-15.1 35.8h1.0M-12.7 10.0h1.0M-3.3 1.8h1.0M16.1 11.1h1.0M-5.7 9.3h1.0M-26.9 17.3h1.0M1.4 43.6h1.0M-3.2 46.5h1.0M-5.3 43.1h1.0M-2.9 27.9h1.0M-0.9 18.7h1.0M-6.7 36.0h1.0M-1.4 16.8h1.0M-18.3 24.4h1.0" stroke="#E8301A" stroke-width="1.0" fill="none"/></g>
<text x="534.30" y="157.40" font-size="6.2" text-anchor="middle" font-weight="bold" font-style="italic" stroke="#000" stroke-width="0.15">TIGIT</text>
<g transform="translate(630.4 161.6)"><use href="#sg"/><path d="M-14.8 22.3h1.0M-4.7 40.0h1.0M-22.4 26.7h1.0M-20.3 8.7h1.0M11.4 24.3h1.0M-2.1 18.2h1.0M26.5 27.7h1.0M-4.9 17.3h1.0M-17.0 20.5h1.0M-4.1 17.4h1.0M-19.9 24.4h1.0M22.3 29.1h1.0M-3.6 6.7h1.0M-8.3 26.5h1.0M0.4 12.6h1.0M-18.9 23.5h1.0M6.1 26.4h1.0M-13.3 29.6h1.0M-18.4 30.7h1.0M5.9 53.3h1.0M-15.7 15.0h1.0M-4.7 42.3h1.0M-19.1 27.3h1.0M-22.8 14.7h1.0M-11.6 17.4h1.0M-10.2 9.3h1.0M-17.1 17.8h1.0M-14.1 20.4h1.0M-10.0 17.5h1.0M-7.6 20.1h1.0M6.2 47.9h1.0M-23.4 21.8h1.0M5.0 11.9h1.0M-0.1 6.2h1.0M26.4 27.3h1.0M-16.9 20.5h1.0M-16.5 13.1h1.0M-23.0 27.1h1.0M7.5 55.4h1.0M-11.5 16.6h1.0M-11.4 16.5h1.0M-13.5 7.6h1.0M-20.3 24.5h1.0M-7.9 16.3h1.0M-21.9 16.2h1.0M-18.1 20.4h1.0M-3.0 5.9h1.0M20.8 18.4h1.0M-8.2 20.4h1.0M-14.8 31.6h1.0M-11.7 19.7h1.0M-4.5 10.9h1.0M-16.9 10.2h1.0M-9.0 12.0h1.0M-27.0 16.1h1.0M8.1 11.0h1.0M5.6 33.5h1.0M-22.7 10.7h1.0M7.5 5.7h1.0M7.1 47.5h1.0" stroke="#F4A898" stroke-width="1.0" fill="none"/><path d="M-24.7 18.3h1.0M4.4 13.5h1.0M-17.2 16.4h1.0M-17.6 24.6h1.0M1.7 9.8h1.0M17.3 13.5h1.0M-16.1 23.0h1.0M-14.4 22.4h1.0M5.0 11.1h1.0M-5.4 13.7h1.0M16.6 17.2h1.0M-20.0 28.5h1.0M11.2 10.4h1.0M-10.6 12.8h1.0M-19.9 8.9h1.0M7.3 27.9h1.0M-10.0 22.6h1.0M5.4 50.1h1.0M-22.0 15.0h1.0M-1.8 19.5h1.0M-11.8 9.8h1.0M-12.8 11.6h1.0M-5.1 34.4h1.0M13.2 18.0h1.0M-9.4 14.7h1.0M4.8 4.9h1.0M-12.9 22.9h1.0M-4.8 11.9h1.0M-1.2 18.3h1.0M-7.0 48.4h1.0M-3.5 7.9h1.0M-10.9 17.8h1.0M-6.1 21.6h1.0M-12.2 19.1h1.0M-11.5 34.2h1.0M-8.0 9.6h1.0M5.1 16.6h1.0M2.5 43.8h1.0M-1.5 20.4h1.0M2.0 22.4h1.0M-16.2 38.0h1.0M-14.0 19.5h1.0M-1.8 1.9h1.0M-11.3 34.9h1.0M-16.3 19.8h1.0M-4.7 23.3h1.0M14.2 29.1h1.0M19.7 36.0h1.0M-20.0 13.2h1.0M-4.4 23.1h1.0M-19.8 22.5h1.0M-19.7 16.3h1.0M-2.2 21.4h1.0M10.6 13.5h1.0M-3.0 11.0h1.0M6.4 4.5h1.0M-4.1 38.2h1.0M-8.4 28.0h1.0M-7.9 10.9h1.0M1.7 45.9h1.0M-6.1 21.8h1.0M-18.3 24.4h1.0M-23.4 11.3h1.0" stroke="#EF7A62" stroke-width="1.0" fill="none"/><path d="M-2.4 20.1h1.0M-11.7 41.9h1.0M-5.7 18.0h1.0M2.0 1.4h1.0M4.8 5.1h1.0M-1.3 5.5h1.0M-11.9 25.0h1.0M-21.9 22.2h1.0M-17.7 35.0h1.0M-3.7 4.2h1.0M-1.0 19.3h1.0M10.5 11.7h1.0M-13.5 7.5h1.0M-20.6 28.1h1.0M-17.7 11.9h1.0M-4.1 35.7h1.0M-1.8 22.1h1.0M-4.3 11.6h1.0M23.2 22.7h1.0M-10.5 38.4h1.0M-18.8 14.9h1.0M23.9 24.5h1.0M6.1 5.1h1.0M-3.2 50.7h1.0M-1.5 9.3h1.0M-10.7 10.0h1.0M-6.6 18.4h1.0M-6.1 9.2h1.0M-17.4 7.9h1.0M-3.1 19.2h1.0M-5.6 40.7h1.0M6.1 11.8h1.0M-5.0 16.9h1.0" stroke="#EC5234" stroke-width="1.0" fill="none"/><path d="M4.2 21.9h1.0M-10.3 8.2h1.0M3.5 18.4h1.0M-18.8 29.2h1.0M11.8 10.9h1.0M-13.2 11.4h1.0M5.1 3.8h1.0M15.5 20.5h1.0M-24.9 25.0h1.0M-1.1 12.1h1.0M-9.5 29.4h1.0M-15.9 15.5h1.0M-25.6 20.9h1.0M-5.7 7.2h1.0M-25.0 24.0h1.0M-13.7 26.6h1.0M5.8 44.0h1.0M-18.0 9.2h1.0M-7.5 11.6h1.0M-25.4 21.1h1.0M-9.2 11.2h1.0M-21.3 14.2h1.0M-5.3 8.1h1.0M-8.7 33.3h1.0M4.5 12.7h1.0M-24.3 17.1h1.0M7.1 45.3h1.0M2.5 28.4h1.0M-27.1 17.0h1.0M-12.2 16.1h1.0M-22.4 25.1h1.0M-16.6 7.0h1.0M-4.7 21.5h1.0M-14.5 23.0h1.0M0.0 20.1h1.0M-8.9 18.7h1.0M-5.7 4.1h1.0M-2.5 15.0h1.0M-20.6 17.0h1.0M3.0 25.3h1.0M-13.7 13.4h1.0M-4.6 17.6h1.0M-2.6 28.7h1.0M3.3 40.6h1.0M-11.2 21.5h1.0M-4.0 19.9h1.0M-2.1 0.9h1.0M4.9 20.8h1.0M-10.4 14.6h1.0M-19.9 12.8h1.0M-23.5 16.8h1.0" stroke="#E8301A" stroke-width="1.0" fill="none"/></g>
<text x="622.30" y="157.40" font-size="6.2" text-anchor="middle" font-weight="bold" font-style="italic" stroke="#000" stroke-width="0.15">TCF7</text>
<defs><linearGradient id="eg" x1="0" x2="1"><stop offset="0" stop-color="#E2D6D4"/><stop offset="1" stop-color="#FF0A00"/></linearGradient></defs>
<text x="664.50" y="3.60" font-size="5.8" text-anchor="middle" fill="#333">expr. level</text>
<rect x="643" y="6.2" width="40.9" height="3.3" fill="url(#eg)"/>
<text x="643.30" y="15.80" font-size="5.6" text-anchor="middle" fill="#222">0</text>
<text x="651.30" y="15.80" font-size="5.6" text-anchor="middle" fill="#222">1</text>
<text x="659.30" y="15.80" font-size="5.6" text-anchor="middle" fill="#222">2</text>
<text x="667.30" y="15.80" font-size="5.6" text-anchor="middle" fill="#222">3</text>
<text x="675.30" y="15.80" font-size="5.6" text-anchor="middle" fill="#222">4</text>
<text x="683.30" y="15.80" font-size="5.6" text-anchor="middle" fill="#222">5</text>
<text x="114.10" y="240.80" font-size="9.9" font-weight="bold" stroke="#000" stroke-width="0.15">Malignant T cells</text>
<text x="54.80" y="257.00" font-size="8.4" text-anchor="middle" font-style="italic" stroke="#000" stroke-width="0.15">HLA-A</text>
<path d="M13.30 267.50V319.20H89.00M13.30 317.00h-1.6M13.30 300.56h-1.6M13.30 284.12h-1.6M35.70 319.20v1.8M72.70 319.20v1.8" stroke="#333" stroke-width="0.7" fill="none"/>
<text x="10.70" y="318.90" font-size="5.4" text-anchor="end" fill="#333">0</text>
<text x="10.70" y="302.46" font-size="5.4" text-anchor="end" fill="#333">2</text>
<text x="10.70" y="286.02" font-size="5.4" text-anchor="end" fill="#333">4</text>
<text x="4.50" y="289.85" font-size="8.0" text-anchor="middle" fill="#222" stroke="#222" stroke-width="0.15" transform="rotate(-90 4.50 289.85)">Expression Level</text>
<path d="M35.70 268.10V265.90H72.70V268.10" stroke="#666" stroke-width="0.5" fill="none"/>
<text x="54.20" y="264.70" font-size="4.6" text-anchor="middle" fill="#444">***</text>
<path d="M36.00 268.50L36.01 269.04L36.05 269.59L36.11 270.13L36.20 270.68L36.31 271.22L36.43 271.77L36.58 272.31L36.74 272.86L36.92 273.40L37.12 273.95L37.33 274.49L37.55 275.04L37.79 275.58L38.13 276.13L38.60 276.67L39.17 277.22L39.83 277.76L40.57 278.31L41.53 278.85L42.91 279.40L44.51 279.94L46.16 280.49L47.66 281.03L48.85 281.58L49.94 282.12L51.02 282.67L51.92 283.21L52.49 283.76L52.54 284.30L51.90 284.85L50.75 285.39L49.38 285.94L48.04 286.48L46.98 287.03L46.06 287.57L45.14 288.12L44.25 288.66L43.41 289.21L42.64 289.75L41.95 290.30L41.35 290.84L40.82 291.39L40.32 291.93L39.86 292.48L39.44 293.02L39.05 293.57L38.69 294.11L38.37 294.66L38.07 295.20L37.79 295.75L37.53 296.29L37.28 296.84L37.06 297.38L36.86 297.93L36.68 298.47L36.49 299.02L36.30 299.56L36.16 300.11L36.10 300.65L36.10 301.20L36.10 301.74L36.10 302.29L36.10 302.83L36.10 303.38L36.10 303.92L36.10 304.47L36.10 305.01L36.10 305.56L36.10 306.10L36.10 306.65L36.10 307.19L36.10 307.74L36.10 308.28L36.10 308.83L36.10 309.37L36.10 309.92L36.10 310.46L36.10 311.01L36.10 311.55L36.10 312.10L36.10 312.64L36.10 313.19L36.10 313.73L36.10 314.28L36.10 314.82L36.62 315.37L37.30 315.91L37.30 316.46L37.30 317.00L34.10 317.00L34.10 316.46L34.10 315.91L34.78 315.37L35.30 314.82L35.30 314.28L35.30 313.73L35.30 313.19L35.30 312.64L35.30 312.10L35.30 311.55L35.30 311.01L35.30 310.46L35.30 309.92L35.30 309.37L35.30 308.83L35.30 308.28L35.30 307.74L35.30 307.19L35.30 306.65L35.30 306.10L35.30 305.56L35.30 305.01L35.30 304.47L35.30 303.92L35.30 303.38L35.30 302.83L35.30 302.29L35.30 301.74L35.30 301.20L35.30 300.65L35.24 300.11L35.10 299.56L34.91 299.02L34.72 298.47L34.54 297.93L34.34 297.38L34.12 296.84L33.87 296.29L33.61 295.75L33.33 295.20L33.03 294.66L32.71 294.11L32.35 293.57L31.96 293.02L31.54 292.48L31.08 291.93L30.58 291.39L30.05 290.84L29.45 290.30L28.76 289.75L27.99 289.21L27.15 288.66L26.26 288.12L25.34 287.57L24.42 287.03L23.36 286.48L22.02 285.94L20.65 285.39L19.50 284.85L18.86 284.30L18.91 283.76L19.48 283.21L20.38 282.67L21.46 282.12L22.55 281.58L23.74 281.03L25.24 280.49L26.89 279.94L28.49 279.40L29.87 278.85L30.83 278.31L31.57 277.76L32.23 277.22L32.80 276.67L33.27 276.13L33.61 275.58L33.85 275.04L34.07 274.49L34.28 273.95L34.48 273.40L34.66 272.86L34.82 272.31L34.97 271.77L35.09 271.22L35.20 270.68L35.29 270.13L35.35 269.59L35.39 269.04L35.40 268.50Z" fill="#E41A1C" stroke="#333" stroke-width="0.45" stroke-linejoin="round"/>
<path d="M73.00 269.20L73.01 269.74L73.02 270.27L73.05 270.81L73.09 271.35L73.14 271.89L73.20 272.42L73.27 272.96L73.36 273.50L73.45 274.03L73.56 274.57L73.68 275.11L73.82 275.64L73.96 276.18L74.12 276.72L74.29 277.26L74.48 277.79L74.67 278.33L75.03 278.87L75.73 279.40L76.67 279.94L77.73 280.48L78.80 281.02L79.79 281.55L80.77 282.09L81.82 282.63L82.87 283.16L83.90 283.70L84.84 284.24L85.66 284.78L86.51 285.31L87.38 285.85L88.19 286.39L88.87 286.92L89.33 287.46L89.50 288.00L89.19 288.53L88.41 289.07L87.37 289.61L86.30 290.15L85.42 290.68L84.72 291.22L84.04 291.76L83.39 292.29L82.79 292.83L82.26 293.37L81.82 293.91L81.43 294.44L81.08 294.98L80.75 295.52L80.45 296.05L80.17 296.59L79.90 297.13L79.64 297.67L79.39 298.20L79.13 298.74L78.87 299.28L78.60 299.81L78.31 300.35L78.02 300.89L77.71 301.42L77.41 301.96L77.10 302.50L76.81 303.04L76.52 303.57L76.24 304.11L75.98 304.65L75.74 305.18L75.53 305.72L75.35 306.26L75.17 306.80L74.99 307.33L74.81 307.87L74.63 308.41L74.47 308.94L74.32 309.48L74.19 310.02L74.07 310.56L73.99 311.09L73.93 311.63L73.90 312.17L73.98 312.70L74.33 313.24L74.87 313.78L76.43 314.31L79.01 314.85L81.91 315.39L84.81 315.93L85.50 316.46L85.70 317.00L59.70 317.00L59.90 316.46L60.59 315.93L63.49 315.39L66.39 314.85L68.97 314.31L70.53 313.78L71.07 313.24L71.42 312.70L71.50 312.17L71.47 311.63L71.41 311.09L71.33 310.56L71.21 310.02L71.08 309.48L70.93 308.94L70.77 308.41L70.59 307.87L70.41 307.33L70.23 306.80L70.05 306.26L69.87 305.72L69.66 305.18L69.42 304.65L69.16 304.11L68.88 303.57L68.59 303.04L68.30 302.50L67.99 301.96L67.69 301.42L67.38 300.89L67.09 300.35L66.80 299.81L66.53 299.28L66.27 298.74L66.01 298.20L65.76 297.67L65.50 297.13L65.23 296.59L64.95 296.05L64.65 295.52L64.32 294.98L63.97 294.44L63.58 293.91L63.14 293.37L62.61 292.83L62.01 292.29L61.36 291.76L60.68 291.22L59.98 290.68L59.10 290.15L58.03 289.61L56.99 289.07L56.21 288.53L55.90 288.00L56.07 287.46L56.53 286.92L57.21 286.39L58.02 285.85L58.89 285.31L59.74 284.78L60.56 284.24L61.50 283.70L62.53 283.16L63.58 282.63L64.63 282.09L65.61 281.55L66.60 281.02L67.67 280.48L68.73 279.94L69.67 279.40L70.37 278.87L70.73 278.33L70.92 277.79L71.11 277.26L71.28 276.72L71.44 276.18L71.58 275.64L71.72 275.11L71.84 274.57L71.95 274.03L72.04 273.50L72.13 272.96L72.20 272.42L72.26 271.89L72.31 271.35L72.35 270.81L72.38 270.27L72.39 269.74L72.40 269.20Z" fill="#377EB8" stroke="#333" stroke-width="0.45" stroke-linejoin="round"/>
<text x="28.30" y="328.10" font-size="8.3" fill="#222" stroke="#222" stroke-width="0.15">T<tspan font-size="5.23" dy="3.07">CyEM</tspan></text>
<text x="65.70" y="328.10" font-size="8.3" fill="#222" stroke="#222" stroke-width="0.15">T<tspan font-size="5.23" dy="3.07">CM</tspan></text>
<text x="156.60" y="257.00" font-size="8.4" text-anchor="middle" font-style="italic" stroke="#000" stroke-width="0.15">HLA-B</text>
<path d="M115.80 267.40V319.20H191.00M115.80 317.40h-1.6M115.80 301.66h-1.6M115.80 285.92h-1.6M115.80 270.18h-1.6M137.60 319.20v1.8M174.50 319.20v1.8" stroke="#333" stroke-width="0.7" fill="none"/>
<text x="113.20" y="319.30" font-size="5.4" text-anchor="end" fill="#333">0</text>
<text x="113.20" y="303.56" font-size="5.4" text-anchor="end" fill="#333">2</text>
<text x="113.20" y="287.82" font-size="5.4" text-anchor="end" fill="#333">4</text>
<text x="113.20" y="272.08" font-size="5.4" text-anchor="end" fill="#333">6</text>
<text x="107.00" y="289.80" font-size="8.0" text-anchor="middle" fill="#222" stroke="#222" stroke-width="0.15" transform="rotate(-90 107.00 289.80)">Expression Level</text>
<path d="M137.60 268.10V265.90H174.50V268.10" stroke="#666" stroke-width="0.5" fill="none"/>
<text x="156.05" y="264.70" font-size="4.6" text-anchor="middle" fill="#444">***</text>
<path d="M137.90 272.40L137.92 272.91L137.96 273.41L138.03 273.92L138.13 274.42L138.26 274.93L138.41 275.43L138.58 275.94L138.78 276.44L139.16 276.95L139.92 277.46L140.96 277.96L142.18 278.47L143.48 278.97L144.75 279.48L145.92 279.98L147.20 280.49L148.55 281.00L149.86 281.50L151.03 282.01L151.99 282.51L152.94 283.02L153.79 283.52L154.32 284.03L154.33 284.53L153.80 285.04L152.92 285.55L151.89 286.05L150.88 286.56L149.62 287.06L148.15 287.57L146.71 288.07L145.52 288.58L144.77 289.09L144.20 289.59L143.69 290.10L143.24 290.60L142.85 291.11L142.50 291.61L142.19 292.12L141.90 292.62L141.63 293.13L141.38 293.64L141.14 294.14L140.91 294.65L140.69 295.15L140.49 295.66L140.30 296.16L140.11 296.67L139.94 297.18L139.78 297.68L139.62 298.19L139.47 298.69L139.33 299.20L139.20 299.70L139.06 300.21L138.93 300.71L138.79 301.22L138.66 301.73L138.53 302.23L138.42 302.74L138.33 303.24L138.26 303.75L138.21 304.25L138.20 304.76L138.19 305.27L138.18 305.77L138.17 306.28L138.16 306.78L138.15 307.29L138.15 307.79L138.14 308.30L138.13 308.80L138.13 309.31L138.12 309.82L138.12 310.32L138.11 310.83L138.11 311.33L138.11 311.84L138.11 312.34L138.10 312.85L138.10 313.36L138.10 313.86L138.10 314.37L138.10 314.87L138.36 315.38L138.87 315.88L138.90 316.39L138.90 316.89L138.90 317.40L136.30 317.40L136.30 316.89L136.30 316.39L136.33 315.88L136.84 315.38L137.10 314.87L137.10 314.37L137.10 313.86L137.10 313.36L137.10 312.85L137.09 312.34L137.09 311.84L137.09 311.33L137.09 310.83L137.08 310.32L137.08 309.82L137.07 309.31L137.07 308.80L137.06 308.30L137.05 307.79L137.05 307.29L137.04 306.78L137.03 306.28L137.02 305.77L137.01 305.27L137.00 304.76L136.99 304.25L136.94 303.75L136.87 303.24L136.78 302.74L136.67 302.23L136.54 301.73L136.41 301.22L136.27 300.71L136.14 300.21L136.00 299.70L135.87 299.20L135.73 298.69L135.58 298.19L135.42 297.68L135.26 297.18L135.09 296.67L134.90 296.16L134.71 295.66L134.51 295.15L134.29 294.65L134.06 294.14L133.82 293.64L133.57 293.13L133.30 292.62L133.01 292.12L132.70 291.61L132.35 291.11L131.96 290.60L131.51 290.10L131.00 289.59L130.43 289.09L129.68 288.58L128.49 288.07L127.05 287.57L125.58 287.06L124.32 286.56L123.31 286.05L122.28 285.55L121.40 285.04L120.87 284.53L120.88 284.03L121.41 283.52L122.26 283.02L123.21 282.51L124.17 282.01L125.34 281.50L126.65 281.00L128.00 280.49L129.28 279.98L130.45 279.48L131.72 278.97L133.02 278.47L134.24 277.96L135.28 277.46L136.04 276.95L136.42 276.44L136.62 275.94L136.79 275.43L136.94 274.93L137.07 274.42L137.17 273.92L137.24 273.41L137.28 272.91L137.30 272.40Z" fill="#E41A1C" stroke="#333" stroke-width="0.45" stroke-linejoin="round"/>
<path d="M174.80 269.10L174.80 269.64L174.82 270.19L174.84 270.73L174.87 271.27L174.91 271.81L174.95 272.36L175.01 272.90L175.07 273.44L175.15 273.98L175.23 274.53L175.32 275.07L175.42 275.61L175.52 276.16L175.64 276.70L175.76 277.24L175.89 277.78L176.04 278.33L176.36 278.87L176.90 279.41L177.60 279.95L178.43 280.50L179.34 281.04L180.30 281.58L181.24 282.12L182.14 282.67L182.96 283.21L183.78 283.75L184.66 284.30L185.54 284.84L186.42 285.38L187.26 285.92L188.02 286.47L188.69 287.01L189.25 287.55L189.82 288.09L190.37 288.64L190.85 289.18L191.23 289.72L191.46 290.27L191.47 290.81L191.10 291.35L190.42 291.89L189.56 292.44L188.64 292.98L187.79 293.52L187.11 294.06L186.50 294.61L185.88 295.15L185.27 295.69L184.67 296.23L184.09 296.78L183.53 297.32L183.00 297.86L182.51 298.41L182.05 298.95L181.64 299.49L181.28 300.03L180.94 300.58L180.62 301.12L180.31 301.66L180.02 302.20L179.74 302.75L179.48 303.29L179.23 303.83L178.99 304.38L178.76 304.92L178.54 305.46L178.32 306.00L178.10 306.55L177.87 307.09L177.63 307.63L177.39 308.17L177.16 308.72L176.94 309.26L176.74 309.80L176.57 310.34L176.44 310.89L176.34 311.43L176.30 311.97L176.59 312.52L177.69 313.06L179.30 313.60L181.09 314.14L182.76 314.69L184.94 315.23L187.02 315.77L187.70 316.31L187.70 316.86L187.70 317.40L161.30 317.40L161.30 316.86L161.30 316.31L161.98 315.77L164.06 315.23L166.24 314.69L167.91 314.14L169.70 313.60L171.31 313.06L172.41 312.52L172.70 311.97L172.66 311.43L172.56 310.89L172.43 310.34L172.26 309.80L172.06 309.26L171.84 308.72L171.61 308.17L171.37 307.63L171.13 307.09L170.90 306.55L170.68 306.00L170.46 305.46L170.24 304.92L170.01 304.38L169.77 303.83L169.52 303.29L169.26 302.75L168.98 302.20L168.69 301.66L168.38 301.12L168.06 300.58L167.72 300.03L167.36 299.49L166.95 298.95L166.49 298.41L166.00 297.86L165.47 297.32L164.91 296.78L164.33 296.23L163.73 295.69L163.12 295.15L162.50 294.61L161.89 294.06L161.21 293.52L160.36 292.98L159.44 292.44L158.58 291.89L157.90 291.35L157.53 290.81L157.54 290.27L157.77 289.72L158.15 289.18L158.63 288.64L159.18 288.09L159.75 287.55L160.31 287.01L160.98 286.47L161.74 285.92L162.58 285.38L163.46 284.84L164.34 284.30L165.22 283.75L166.04 283.21L166.86 282.67L167.76 282.12L168.70 281.58L169.66 281.04L170.57 280.50L171.40 279.95L172.10 279.41L172.64 278.87L172.96 278.33L173.11 277.78L173.24 277.24L173.36 276.70L173.48 276.16L173.58 275.61L173.68 275.07L173.77 274.53L173.85 273.98L173.93 273.44L173.99 272.90L174.05 272.36L174.09 271.81L174.13 271.27L174.16 270.73L174.18 270.19L174.20 269.64L174.20 269.10Z" fill="#377EB8" stroke="#333" stroke-width="0.45" stroke-linejoin="round"/>
<text x="130.20" y="328.10" font-size="8.3" fill="#222" stroke="#222" stroke-width="0.15">T<tspan font-size="5.23" dy="3.07">CyEM</tspan></text>
<text x="167.50" y="328.10" font-size="8.3" fill="#222" stroke="#222" stroke-width="0.15">T<tspan font-size="5.23" dy="3.07">CM</tspan></text>
<text x="260.00" y="257.00" font-size="8.4" text-anchor="middle" font-style="italic" stroke="#000" stroke-width="0.15">HLA-C</text>
<path d="M218.20 267.50V319.20H299.00M218.20 317.40h-1.6M218.20 299.46h-1.6M218.20 281.52h-1.6M240.90 319.20v1.8M278.30 319.20v1.8" stroke="#333" stroke-width="0.7" fill="none"/>
<text x="215.60" y="319.30" font-size="5.4" text-anchor="end" fill="#333">0</text>
<text x="215.60" y="301.36" font-size="5.4" text-anchor="end" fill="#333">2</text>
<text x="215.60" y="283.42" font-size="5.4" text-anchor="end" fill="#333">4</text>
<text x="209.40" y="289.85" font-size="8.0" text-anchor="middle" fill="#222" stroke="#222" stroke-width="0.15" transform="rotate(-90 209.40 289.85)">Expression Level</text>
<path d="M240.90 268.10V265.90H278.30V268.10" stroke="#666" stroke-width="0.5" fill="none"/>
<text x="259.60" y="264.70" font-size="4.6" text-anchor="middle" fill="#444">***</text>
<path d="M241.20 270.70L241.31 271.22L241.60 271.75L242.05 272.27L242.62 272.80L243.29 273.32L244.76 273.85L246.90 274.37L249.22 274.90L251.18 275.42L252.40 275.95L253.37 276.47L254.24 277.00L254.99 277.52L255.65 278.05L256.21 278.57L256.68 279.10L257.13 279.62L257.54 280.14L257.82 280.67L257.89 281.19L257.67 281.72L257.18 282.24L256.53 282.77L255.81 283.29L255.12 283.82L254.49 284.34L253.80 284.87L253.06 285.39L252.31 285.92L251.56 286.44L250.85 286.97L250.21 287.49L249.68 288.02L249.22 288.54L248.80 289.07L248.41 289.59L248.04 290.11L247.68 290.64L247.35 291.16L247.03 291.69L246.73 292.21L246.44 292.74L246.15 293.26L245.88 293.79L245.60 294.31L245.33 294.84L245.06 295.36L244.80 295.89L244.54 296.41L244.29 296.94L244.05 297.46L243.81 297.99L243.58 298.51L243.36 299.03L243.15 299.56L242.94 300.08L242.75 300.61L242.56 301.13L242.37 301.66L242.17 302.18L241.97 302.71L241.78 303.23L241.63 303.76L241.53 304.28L241.50 304.81L241.49 305.33L241.48 305.86L241.47 306.38L241.46 306.91L241.45 307.43L241.44 307.96L241.44 308.48L241.43 309.00L241.43 309.53L241.42 310.05L241.42 310.58L241.41 311.10L241.41 311.63L241.41 312.15L241.40 312.68L241.40 313.20L241.40 313.73L241.40 314.25L241.40 314.78L241.44 315.30L242.43 315.83L242.90 316.35L242.90 316.88L242.90 317.40L238.90 317.40L238.90 316.88L238.90 316.35L239.37 315.83L240.36 315.30L240.40 314.78L240.40 314.25L240.40 313.73L240.40 313.20L240.40 312.68L240.39 312.15L240.39 311.63L240.39 311.10L240.38 310.58L240.38 310.05L240.37 309.53L240.37 309.00L240.36 308.48L240.36 307.96L240.35 307.43L240.34 306.91L240.33 306.38L240.32 305.86L240.31 305.33L240.30 304.81L240.27 304.28L240.17 303.76L240.02 303.23L239.83 302.71L239.63 302.18L239.43 301.66L239.24 301.13L239.05 300.61L238.86 300.08L238.65 299.56L238.44 299.03L238.22 298.51L237.99 297.99L237.75 297.46L237.51 296.94L237.26 296.41L237.00 295.89L236.74 295.36L236.47 294.84L236.20 294.31L235.92 293.79L235.65 293.26L235.36 292.74L235.07 292.21L234.77 291.69L234.45 291.16L234.12 290.64L233.76 290.11L233.39 289.59L233.00 289.07L232.58 288.54L232.12 288.02L231.59 287.49L230.95 286.97L230.24 286.44L229.49 285.92L228.74 285.39L228.00 284.87L227.31 284.34L226.68 283.82L225.99 283.29L225.27 282.77L224.62 282.24L224.13 281.72L223.91 281.19L223.98 280.67L224.26 280.14L224.67 279.62L225.12 279.10L225.59 278.57L226.15 278.05L226.81 277.52L227.56 277.00L228.43 276.47L229.40 275.95L230.62 275.42L232.58 274.90L234.90 274.37L237.04 273.85L238.51 273.32L239.18 272.80L239.75 272.27L240.20 271.75L240.49 271.22L240.60 270.70Z" fill="#E41A1C" stroke="#333" stroke-width="0.45" stroke-linejoin="round"/>
<path d="M278.60 269.90L278.61 270.43L278.63 270.97L278.67 271.50L278.72 272.03L278.78 272.57L278.86 273.10L278.96 273.64L279.07 274.17L279.20 274.70L279.34 275.24L279.50 275.77L279.67 276.30L279.86 276.84L280.06 277.37L280.28 277.91L280.52 278.44L280.77 278.97L281.04 279.51L281.39 280.04L282.19 280.57L283.37 281.11L284.76 281.64L286.20 282.18L287.51 282.71L288.55 283.24L289.48 283.78L290.37 284.31L291.22 284.84L291.99 285.38L292.67 285.91L293.24 286.44L293.78 286.98L294.30 287.51L294.76 288.05L295.11 288.58L295.29 289.11L295.23 289.65L294.88 290.18L294.31 290.71L293.60 291.25L292.82 291.78L292.05 292.32L291.37 292.85L290.82 293.38L290.30 293.92L289.79 294.45L289.28 294.98L288.78 295.52L288.30 296.05L287.82 296.59L287.36 297.12L286.90 297.65L286.46 298.19L286.04 298.72L285.63 299.25L285.24 299.79L284.84 300.32L284.44 300.86L284.03 301.39L283.63 301.92L283.24 302.46L282.86 302.99L282.50 303.52L282.17 304.06L281.87 304.59L281.61 305.12L281.40 305.66L281.23 306.19L281.10 306.73L280.97 307.26L280.85 307.79L280.74 308.33L280.63 308.86L280.54 309.39L280.46 309.93L280.39 310.46L280.34 311.00L280.31 311.53L280.30 312.06L280.79 312.60L282.17 313.13L284.04 313.66L286.00 314.20L287.71 314.73L289.71 315.27L291.48 315.80L292.00 316.33L292.00 316.87L292.00 317.40L264.60 317.40L264.60 316.87L264.60 316.33L265.12 315.80L266.89 315.27L268.89 314.73L270.60 314.20L272.56 313.66L274.43 313.13L275.81 312.60L276.30 312.06L276.29 311.53L276.26 311.00L276.21 310.46L276.14 309.93L276.06 309.39L275.97 308.86L275.86 308.33L275.75 307.79L275.63 307.26L275.50 306.73L275.37 306.19L275.20 305.66L274.99 305.12L274.73 304.59L274.43 304.06L274.10 303.52L273.74 302.99L273.36 302.46L272.97 301.92L272.57 301.39L272.16 300.86L271.76 300.32L271.36 299.79L270.97 299.25L270.56 298.72L270.14 298.19L269.70 297.65L269.24 297.12L268.78 296.59L268.30 296.05L267.82 295.52L267.32 294.98L266.81 294.45L266.30 293.92L265.78 293.38L265.23 292.85L264.55 292.32L263.78 291.78L263.00 291.25L262.29 290.71L261.72 290.18L261.37 289.65L261.31 289.11L261.49 288.58L261.84 288.05L262.30 287.51L262.82 286.98L263.36 286.44L263.93 285.91L264.61 285.38L265.38 284.84L266.23 284.31L267.12 283.78L268.05 283.24L269.09 282.71L270.40 282.18L271.84 281.64L273.23 281.11L274.41 280.57L275.21 280.04L275.56 279.51L275.83 278.97L276.08 278.44L276.32 277.91L276.54 277.37L276.74 276.84L276.93 276.30L277.10 275.77L277.26 275.24L277.40 274.70L277.53 274.17L277.64 273.64L277.74 273.10L277.82 272.57L277.88 272.03L277.93 271.50L277.97 270.97L277.99 270.43L278.00 269.90Z" fill="#377EB8" stroke="#333" stroke-width="0.45" stroke-linejoin="round"/>
<text x="233.50" y="328.10" font-size="8.3" fill="#222" stroke="#222" stroke-width="0.15">T<tspan font-size="5.23" dy="3.07">CyEM</tspan></text>
<text x="271.30" y="328.10" font-size="8.3" fill="#222" stroke="#222" stroke-width="0.15">T<tspan font-size="5.23" dy="3.07">CM</tspan></text>
<text x="55.40" y="348.00" font-size="8.4" text-anchor="middle" font-style="italic" stroke="#000" stroke-width="0.15">HLA-E</text>
<path d="M14.40 357.40V409.90H96.50M14.40 407.60h-1.6M14.40 397.74h-1.6M14.40 387.88h-1.6M14.40 378.02h-1.6M14.40 368.16h-1.6M14.40 358.30h-1.6M36.40 409.90v1.8M74.00 409.90v1.8" stroke="#333" stroke-width="0.7" fill="none"/>
<text x="11.80" y="409.50" font-size="5.4" text-anchor="end" fill="#333">0</text>
<text x="11.80" y="399.64" font-size="5.4" text-anchor="end" fill="#333">1</text>
<text x="11.80" y="389.78" font-size="5.4" text-anchor="end" fill="#333">2</text>
<text x="11.80" y="379.92" font-size="5.4" text-anchor="end" fill="#333">3</text>
<text x="11.80" y="370.06" font-size="5.4" text-anchor="end" fill="#333">4</text>
<text x="11.80" y="360.20" font-size="5.4" text-anchor="end" fill="#333">5</text>
<text x="5.60" y="380.15" font-size="8.0" text-anchor="middle" fill="#222" stroke="#222" stroke-width="0.15" transform="rotate(-90 5.60 380.15)">Expression Level</text>
<path d="M36.40 358.80V356.60H74.00V358.80" stroke="#666" stroke-width="0.5" fill="none"/>
<text x="55.20" y="355.40" font-size="4.6" text-anchor="middle" fill="#444">***</text>
<path d="M36.70 361.60L36.72 362.12L36.78 362.63L36.87 363.15L36.99 363.67L37.14 364.18L37.31 364.70L37.52 365.22L37.74 365.73L37.98 366.25L38.27 366.77L38.77 367.29L39.45 367.80L40.26 368.32L41.15 368.84L42.07 369.35L42.95 369.87L43.87 370.39L44.90 370.90L45.99 371.42L47.06 371.94L48.05 372.45L48.89 372.97L49.56 373.49L50.21 374.00L50.85 374.52L51.46 375.04L51.99 375.56L52.42 376.07L52.73 376.59L52.89 377.11L52.87 377.62L52.70 378.14L52.42 378.66L52.06 379.17L51.64 379.69L51.22 380.21L50.80 380.72L50.33 381.24L49.78 381.76L49.17 382.27L48.54 382.79L47.90 383.31L47.27 383.82L46.68 384.34L46.14 384.86L45.62 385.38L45.09 385.89L44.57 386.41L44.06 386.93L43.57 387.44L43.10 387.96L42.67 388.48L42.27 388.99L41.92 389.51L41.61 390.03L41.32 390.54L41.04 391.06L40.78 391.58L40.53 392.09L40.29 392.61L40.07 393.13L39.85 393.64L39.65 394.16L39.46 394.68L39.27 395.20L39.09 395.71L38.92 396.23L38.76 396.75L38.60 397.26L38.45 397.78L38.31 398.30L38.18 398.81L38.05 399.33L37.92 399.85L37.80 400.36L37.69 400.88L37.58 401.40L37.46 401.91L37.33 402.43L37.21 402.95L37.11 403.47L37.04 403.98L37.00 404.50L37.15 405.02L37.61 405.53L38.33 406.05L39.50 406.57L39.70 407.08L39.70 407.60L33.10 407.60L33.10 407.08L33.30 406.57L34.47 406.05L35.19 405.53L35.65 405.02L35.80 404.50L35.76 403.98L35.69 403.47L35.59 402.95L35.47 402.43L35.34 401.91L35.22 401.40L35.11 400.88L35.00 400.36L34.88 399.85L34.75 399.33L34.62 398.81L34.49 398.30L34.35 397.78L34.20 397.26L34.04 396.75L33.88 396.23L33.71 395.71L33.53 395.20L33.34 394.68L33.15 394.16L32.95 393.64L32.73 393.13L32.51 392.61L32.27 392.09L32.02 391.58L31.76 391.06L31.48 390.54L31.19 390.03L30.88 389.51L30.53 388.99L30.13 388.48L29.70 387.96L29.23 387.44L28.74 386.93L28.23 386.41L27.71 385.89L27.18 385.38L26.66 384.86L26.12 384.34L25.53 383.82L24.90 383.31L24.26 382.79L23.63 382.27L23.02 381.76L22.47 381.24L22.00 380.72L21.58 380.21L21.16 379.69L20.74 379.17L20.38 378.66L20.10 378.14L19.93 377.62L19.91 377.11L20.07 376.59L20.38 376.07L20.81 375.56L21.34 375.04L21.95 374.52L22.59 374.00L23.24 373.49L23.91 372.97L24.75 372.45L25.74 371.94L26.81 371.42L27.90 370.90L28.93 370.39L29.85 369.87L30.73 369.35L31.65 368.84L32.54 368.32L33.35 367.80L34.03 367.29L34.53 366.77L34.82 366.25L35.06 365.73L35.28 365.22L35.49 364.70L35.66 364.18L35.81 363.67L35.93 363.15L36.02 362.63L36.08 362.12L36.10 361.60Z" fill="#E41A1C" stroke="#333" stroke-width="0.45" stroke-linejoin="round"/>
<path d="M74.30 359.90L74.30 360.44L74.32 360.97L74.34 361.51L74.36 362.04L74.40 362.58L74.44 363.12L74.49 363.65L74.55 364.19L74.61 364.72L74.68 365.26L74.76 365.80L74.85 366.33L74.94 366.87L75.04 367.40L75.15 367.94L75.28 368.48L75.56 369.01L75.97 369.55L76.48 370.08L77.08 370.62L77.73 371.16L78.40 371.69L79.08 372.23L79.72 372.76L80.30 373.30L80.91 373.83L81.55 374.37L82.23 374.91L82.90 375.44L83.56 375.98L84.18 376.51L84.74 377.05L85.23 377.59L85.61 378.12L85.95 378.66L86.29 379.19L86.62 379.73L86.92 380.27L87.19 380.80L87.43 381.34L87.61 381.87L87.74 382.41L87.80 382.95L87.76 383.48L87.59 384.02L87.30 384.55L86.93 385.09L86.50 385.63L86.05 386.16L85.60 386.70L85.17 387.23L84.75 387.77L84.28 388.31L83.77 388.84L83.25 389.38L82.71 389.91L82.16 390.45L81.62 390.99L81.10 391.52L80.59 392.06L80.13 392.59L79.70 393.13L79.28 393.67L78.86 394.20L78.44 394.74L78.04 395.27L77.66 395.81L77.31 396.34L77.00 396.88L76.73 397.42L76.52 397.95L76.34 398.49L76.16 399.02L75.99 399.56L75.84 400.10L75.70 400.63L75.58 401.17L75.49 401.70L75.43 402.24L75.40 402.78L75.82 403.31L77.25 403.85L79.09 404.38L80.88 404.92L82.98 405.46L85.19 405.99L87.40 406.53L89.86 407.06L90.50 407.60L57.50 407.60L58.14 407.06L60.60 406.53L62.81 405.99L65.02 405.46L67.12 404.92L68.91 404.38L70.75 403.85L72.18 403.31L72.60 402.78L72.57 402.24L72.51 401.70L72.42 401.17L72.30 400.63L72.16 400.10L72.01 399.56L71.84 399.02L71.66 398.49L71.48 397.95L71.27 397.42L71.00 396.88L70.69 396.34L70.34 395.81L69.96 395.27L69.56 394.74L69.14 394.20L68.72 393.67L68.30 393.13L67.87 392.59L67.41 392.06L66.90 391.52L66.38 390.99L65.84 390.45L65.29 389.91L64.75 389.38L64.23 388.84L63.72 388.31L63.25 387.77L62.83 387.23L62.40 386.70L61.95 386.16L61.50 385.63L61.07 385.09L60.70 384.55L60.41 384.02L60.24 383.48L60.20 382.95L60.26 382.41L60.39 381.87L60.57 381.34L60.81 380.80L61.08 380.27L61.38 379.73L61.71 379.19L62.05 378.66L62.39 378.12L62.77 377.59L63.26 377.05L63.82 376.51L64.44 375.98L65.10 375.44L65.77 374.91L66.45 374.37L67.09 373.83L67.70 373.30L68.28 372.76L68.92 372.23L69.60 371.69L70.27 371.16L70.92 370.62L71.52 370.08L72.03 369.55L72.44 369.01L72.72 368.48L72.85 367.94L72.96 367.40L73.06 366.87L73.15 366.33L73.24 365.80L73.32 365.26L73.39 364.72L73.45 364.19L73.51 363.65L73.56 363.12L73.60 362.58L73.64 362.04L73.66 361.51L73.68 360.97L73.70 360.44L73.70 359.90Z" fill="#377EB8" stroke="#333" stroke-width="0.45" stroke-linejoin="round"/>
<text x="27.10" y="418.50" font-size="8.8" fill="#222" stroke="#222" stroke-width="0.15">T<tspan font-size="5.54" dy="3.26">CyEM</tspan></text>
<text x="67.50" y="418.50" font-size="8.8" fill="#222" stroke="#222" stroke-width="0.15">T<tspan font-size="5.54" dy="3.26">CM</tspan></text>
<text x="156.50" y="348.00" font-size="8.4" text-anchor="middle" font-style="italic" stroke="#000" stroke-width="0.15">HLA-F</text>
<path d="M115.80 357.40V409.30H196.90M115.80 407.40h-1.6M115.80 394.50h-1.6M115.80 381.60h-1.6M115.80 368.70h-1.6M137.60 409.30v1.8M174.80 409.30v1.8" stroke="#333" stroke-width="0.7" fill="none"/>
<text x="113.20" y="409.30" font-size="5.4" text-anchor="end" fill="#333">0</text>
<text x="113.20" y="396.40" font-size="5.4" text-anchor="end" fill="#333">1</text>
<text x="113.20" y="383.50" font-size="5.4" text-anchor="end" fill="#333">2</text>
<text x="113.20" y="370.60" font-size="5.4" text-anchor="end" fill="#333">3</text>
<text x="107.00" y="379.85" font-size="8.0" text-anchor="middle" fill="#222" stroke="#222" stroke-width="0.15" transform="rotate(-90 107.00 379.85)">Expression Level</text>
<path d="M137.60 358.20V356.00H174.80V358.20" stroke="#666" stroke-width="0.5" fill="none"/>
<text x="156.20" y="354.80" font-size="4.6" text-anchor="middle" fill="#444">***</text>
<path d="M137.90 359.90L137.90 360.43L137.90 360.97L137.90 361.50L137.90 362.03L137.90 362.57L137.90 363.10L137.90 363.64L137.91 364.17L137.91 364.70L137.91 365.24L137.91 365.77L137.92 366.30L137.92 366.84L137.92 367.37L137.93 367.91L137.93 368.44L137.94 368.97L137.95 369.51L137.97 370.04L138.10 370.57L138.27 371.11L138.44 371.64L138.63 372.18L138.85 372.71L139.07 373.24L139.30 373.78L139.53 374.31L139.76 374.84L139.97 375.38L140.18 375.91L140.40 376.44L140.62 376.98L140.84 377.51L141.06 378.05L141.27 378.58L141.47 379.11L141.67 379.65L141.86 380.18L142.04 380.71L142.21 381.25L142.39 381.78L142.57 382.32L142.74 382.85L142.91 383.38L143.06 383.92L143.20 384.45L143.32 384.98L143.43 385.52L143.51 386.05L143.57 386.59L143.64 387.12L143.70 387.65L143.76 388.19L143.81 388.72L143.85 389.25L143.88 389.79L143.90 390.32L143.90 390.86L143.81 391.39L143.65 391.92L143.44 392.46L143.19 392.99L142.94 393.52L142.60 394.06L142.16 394.59L141.67 395.12L141.17 395.66L140.71 396.19L140.34 396.73L140.04 397.26L139.73 397.79L139.43 398.33L139.18 398.86L139.00 399.39L138.91 399.93L138.94 400.46L139.16 401.00L139.55 401.53L140.07 402.06L140.72 402.60L141.84 403.13L144.32 403.66L147.21 404.20L149.48 404.73L151.54 405.27L153.22 405.80L153.86 406.33L154.03 406.87L154.10 407.40L121.10 407.40L121.17 406.87L121.34 406.33L121.98 405.80L123.66 405.27L125.72 404.73L127.99 404.20L130.88 403.66L133.36 403.13L134.48 402.60L135.13 402.06L135.65 401.53L136.04 401.00L136.26 400.46L136.29 399.93L136.20 399.39L136.02 398.86L135.77 398.33L135.47 397.79L135.16 397.26L134.86 396.73L134.49 396.19L134.03 395.66L133.53 395.12L133.04 394.59L132.60 394.06L132.26 393.52L132.01 392.99L131.76 392.46L131.55 391.92L131.39 391.39L131.30 390.86L131.30 390.32L131.32 389.79L131.35 389.25L131.39 388.72L131.44 388.19L131.50 387.65L131.56 387.12L131.63 386.59L131.69 386.05L131.77 385.52L131.88 384.98L132.00 384.45L132.14 383.92L132.29 383.38L132.46 382.85L132.63 382.32L132.81 381.78L132.99 381.25L133.16 380.71L133.34 380.18L133.53 379.65L133.73 379.11L133.93 378.58L134.14 378.05L134.36 377.51L134.58 376.98L134.80 376.44L135.02 375.91L135.23 375.38L135.44 374.84L135.67 374.31L135.90 373.78L136.13 373.24L136.35 372.71L136.57 372.18L136.76 371.64L136.93 371.11L137.10 370.57L137.23 370.04L137.25 369.51L137.26 368.97L137.27 368.44L137.27 367.91L137.28 367.37L137.28 366.84L137.28 366.30L137.29 365.77L137.29 365.24L137.29 364.70L137.29 364.17L137.30 363.64L137.30 363.10L137.30 362.57L137.30 362.03L137.30 361.50L137.30 360.97L137.30 360.43L137.30 359.90Z" fill="#E41A1C" stroke="#333" stroke-width="0.45" stroke-linejoin="round"/>
<path d="M175.10 360.40L175.10 360.93L175.10 361.46L175.10 361.98L175.10 362.51L175.11 363.04L175.11 363.57L175.11 364.10L175.12 364.62L175.12 365.15L175.13 365.68L175.13 366.21L175.14 366.74L175.15 367.27L175.15 367.79L175.16 368.32L175.17 368.85L175.18 369.38L175.19 369.91L175.20 370.43L175.21 370.96L175.22 371.49L175.23 372.02L175.24 372.55L175.25 373.07L175.26 373.60L175.27 374.13L175.29 374.66L175.30 375.19L175.32 375.71L175.34 376.24L175.37 376.77L175.40 377.30L175.44 377.83L175.48 378.36L175.53 378.88L175.57 379.41L175.62 379.94L175.67 380.47L175.72 381.00L175.77 381.52L175.81 382.05L175.86 382.58L175.92 383.11L175.98 383.64L176.05 384.16L176.12 384.69L176.18 385.22L176.25 385.75L176.31 386.28L176.36 386.80L176.41 387.33L176.45 387.86L176.49 388.39L176.51 388.92L176.53 389.44L176.55 389.97L176.56 390.50L176.58 391.03L176.59 391.56L176.60 392.09L176.60 392.61L176.58 393.14L176.53 393.67L176.45 394.20L176.35 394.73L176.23 395.25L176.12 395.78L176.01 396.31L175.91 396.84L175.84 397.37L175.80 397.89L175.80 398.42L175.80 398.95L175.80 399.48L175.80 400.01L175.80 400.53L175.80 401.06L175.80 401.59L175.80 402.12L175.81 402.65L176.54 403.18L178.19 403.70L180.30 404.23L182.54 404.76L186.06 405.29L189.46 405.82L190.68 406.34L190.91 406.87L191.00 407.40L158.60 407.40L158.69 406.87L158.92 406.34L160.14 405.82L163.54 405.29L167.06 404.76L169.30 404.23L171.41 403.70L173.06 403.18L173.79 402.65L173.80 402.12L173.80 401.59L173.80 401.06L173.80 400.53L173.80 400.01L173.80 399.48L173.80 398.95L173.80 398.42L173.80 397.89L173.76 397.37L173.69 396.84L173.59 396.31L173.48 395.78L173.37 395.25L173.25 394.73L173.15 394.20L173.07 393.67L173.02 393.14L173.00 392.61L173.00 392.09L173.01 391.56L173.02 391.03L173.04 390.50L173.05 389.97L173.07 389.44L173.09 388.92L173.11 388.39L173.15 387.86L173.19 387.33L173.24 386.80L173.29 386.28L173.35 385.75L173.42 385.22L173.48 384.69L173.55 384.16L173.62 383.64L173.68 383.11L173.74 382.58L173.79 382.05L173.83 381.52L173.88 381.00L173.93 380.47L173.98 379.94L174.03 379.41L174.07 378.88L174.12 378.36L174.16 377.83L174.20 377.30L174.23 376.77L174.26 376.24L174.28 375.71L174.30 375.19L174.31 374.66L174.33 374.13L174.34 373.60L174.35 373.07L174.36 372.55L174.37 372.02L174.38 371.49L174.39 370.96L174.40 370.43L174.41 369.91L174.42 369.38L174.43 368.85L174.44 368.32L174.45 367.79L174.45 367.27L174.46 366.74L174.47 366.21L174.47 365.68L174.48 365.15L174.48 364.62L174.49 364.10L174.49 363.57L174.49 363.04L174.50 362.51L174.50 361.98L174.50 361.46L174.50 360.93L174.50 360.40Z" fill="#377EB8" stroke="#333" stroke-width="0.45" stroke-linejoin="round"/>
<text x="128.30" y="417.90" font-size="8.8" fill="#222" stroke="#222" stroke-width="0.15">T<tspan font-size="5.54" dy="3.26">CyEM</tspan></text>
<text x="168.30" y="417.90" font-size="8.8" fill="#222" stroke="#222" stroke-width="0.15">T<tspan font-size="5.54" dy="3.26">CM</tspan></text>
<text x="258.80" y="348.00" font-size="8.4" text-anchor="middle" font-style="italic" stroke="#000" stroke-width="0.15">LGALS9</text>
<path d="M217.40 358.30V409.90H299.50M217.40 408.30h-1.6M217.40 394.70h-1.6M217.40 381.10h-1.6M217.40 367.50h-1.6M239.40 409.90v1.8M277.20 409.90v1.8" stroke="#333" stroke-width="0.7" fill="none"/>
<text x="214.80" y="410.20" font-size="5.4" text-anchor="end" fill="#333">0</text>
<text x="214.80" y="396.60" font-size="5.4" text-anchor="end" fill="#333">1</text>
<text x="214.80" y="383.00" font-size="5.4" text-anchor="end" fill="#333">2</text>
<text x="214.80" y="369.40" font-size="5.4" text-anchor="end" fill="#333">3</text>
<text x="208.60" y="380.60" font-size="8.0" text-anchor="middle" fill="#222" stroke="#222" stroke-width="0.15" transform="rotate(-90 208.60 380.60)">Expression Level</text>
<path d="M239.40 358.80V356.60H277.20V358.80" stroke="#666" stroke-width="0.5" fill="none"/>
<text x="258.30" y="355.40" font-size="4.6" text-anchor="middle" fill="#444">***</text>
<path d="M277.50 360.80L277.50 361.33L277.50 361.87L277.51 362.40L277.51 362.93L277.52 363.47L277.52 364.00L277.53 364.54L277.54 365.07L277.55 365.60L277.56 366.14L277.57 366.67L277.58 367.20L277.60 367.74L277.61 368.27L277.62 368.81L277.64 369.34L277.65 369.87L277.67 370.41L277.68 370.94L277.70 371.47L277.72 372.01L277.74 372.54L277.77 373.08L277.80 373.61L277.83 374.14L277.87 374.68L277.91 375.21L277.96 375.74L278.00 376.28L278.04 376.81L278.09 377.34L278.14 377.88L278.18 378.41L278.23 378.95L278.27 379.48L278.32 380.01L278.36 380.55L278.41 381.08L278.46 381.61L278.51 382.15L278.57 382.68L278.62 383.22L278.67 383.75L278.72 384.28L278.77 384.82L278.82 385.35L278.86 385.88L278.90 386.42L278.94 386.95L278.98 387.49L279.03 388.02L279.07 388.55L279.11 389.09L279.15 389.62L279.19 390.15L279.23 390.69L279.25 391.22L279.28 391.76L279.29 392.29L279.30 392.82L279.29 393.36L279.24 393.89L279.16 394.42L279.06 394.96L278.94 395.49L278.82 396.02L278.71 396.56L278.61 397.09L278.53 397.63L278.49 398.16L278.46 398.69L278.43 399.23L278.40 399.76L278.37 400.29L278.35 400.83L278.33 401.36L278.31 401.90L278.30 402.43L278.30 402.96L278.62 403.50L279.53 404.03L280.80 404.56L282.19 405.10L284.01 405.63L286.36 406.17L288.78 406.70L291.39 407.23L293.58 407.77L293.70 408.30L260.70 408.30L260.82 407.77L263.01 407.23L265.62 406.70L268.04 406.17L270.39 405.63L272.21 405.10L273.60 404.56L274.87 404.03L275.78 403.50L276.10 402.96L276.10 402.43L276.09 401.90L276.07 401.36L276.05 400.83L276.03 400.29L276.00 399.76L275.97 399.23L275.94 398.69L275.91 398.16L275.87 397.63L275.79 397.09L275.69 396.56L275.58 396.02L275.46 395.49L275.34 394.96L275.24 394.42L275.16 393.89L275.11 393.36L275.10 392.82L275.11 392.29L275.12 391.76L275.15 391.22L275.17 390.69L275.21 390.15L275.25 389.62L275.29 389.09L275.33 388.55L275.37 388.02L275.42 387.49L275.46 386.95L275.50 386.42L275.54 385.88L275.58 385.35L275.63 384.82L275.68 384.28L275.73 383.75L275.78 383.22L275.83 382.68L275.89 382.15L275.94 381.61L275.99 381.08L276.04 380.55L276.08 380.01L276.13 379.48L276.17 378.95L276.22 378.41L276.26 377.88L276.31 377.34L276.36 376.81L276.40 376.28L276.44 375.74L276.49 375.21L276.53 374.68L276.57 374.14L276.60 373.61L276.63 373.08L276.66 372.54L276.68 372.01L276.70 371.47L276.72 370.94L276.73 370.41L276.75 369.87L276.76 369.34L276.78 368.81L276.79 368.27L276.80 367.74L276.82 367.20L276.83 366.67L276.84 366.14L276.85 365.60L276.86 365.07L276.87 364.54L276.88 364.00L276.88 363.47L276.89 362.93L276.89 362.40L276.90 361.87L276.90 361.33L276.90 360.80Z" fill="#377EB8" stroke="#333" stroke-width="0.45" stroke-linejoin="round"/>
<text x="230.10" y="418.50" font-size="8.8" fill="#222" stroke="#222" stroke-width="0.15">T<tspan font-size="5.54" dy="3.26">CyEM</tspan></text>
<text x="270.70" y="418.50" font-size="8.8" fill="#222" stroke="#222" stroke-width="0.15">T<tspan font-size="5.54" dy="3.26">CM</tspan></text>
<path d="M239.4 370.7V408.3M222.9 408.3H256.5" stroke="#555" stroke-width="0.5" fill="none"/>
<text x="308.60" y="235.00" font-size="13" stroke="#000" stroke-width="0.15"></text>
<text x="383.20" y="237.00" font-size="8.0" text-anchor="middle" fill="#3535EE" stroke="#3535EE" stroke-width="0.15">DAPI</text>
<text x="469.20" y="237.00" font-size="8.0" text-anchor="middle" fill="#4DB84D" stroke="#4DB84D" stroke-width="0.15">TOX</text>
<text x="552.80" y="237.00" font-size="8.0" text-anchor="middle" fill="#EE2A2A" stroke="#EE2A2A" stroke-width="0.15">LGALS9</text>
<text x="636.30" y="237.00" font-size="8.0" text-anchor="middle" fill="#111" stroke="#111" stroke-width="0.15">Merge</text>
<text x="342.90" y="278.70" font-size="8.4" text-anchor="end" fill="#222" stroke="#222" stroke-width="0.15">T<tspan font-size="5.2" dy="2">CM</tspan><tspan dy="-2"> group</tspan></text>
<text x="342.90" y="290.30" font-size="8.4" text-anchor="end" fill="#222" stroke="#222" stroke-width="0.15">(MF21-1)</text>
<text x="342.90" y="373.90" font-size="8.4" text-anchor="end" fill="#222" stroke="#222" stroke-width="0.15">T<tspan font-size="5.2" dy="2">CyEM</tspan><tspan dy="-2"> group</tspan></text>
<text x="342.90" y="385.50" font-size="8.4" text-anchor="end" fill="#222" stroke="#222" stroke-width="0.15">(MF22)</text>
<defs><filter id="bl" x="-5%" y="-5%" width="110%" height="110%"><feGaussianBlur stdDeviation="0.65"/></filter><clipPath id="ci"><rect width="81.2" height="81.2"/></clipPath><g id="d1"><path d="M41.6 57.4l0.3 0.3M80.6 8.2l-0.9 0.2M48.2 58.2l0.0 0.1M18.6 39.0l-0.2 0.4M17.1 78.5l-0.1 0.2M37.2 21.6l-0.1 0.3M1.8 69.5l0.0 0.6M69.4 1.8l-0.0 1.0M66.0 20.9l0.5 0.6M17.1 66.7l-0.2 0.6M19.4 66.0l-0.7 0.7M76.2 47.4l-0.2 0.0M35.9 2.8l0.6 0.3M49.8 60.7l0.2 0.6M18.3 18.4l-0.4 0.7M31.9 47.1l0.2 0.0M6.2 22.1h.1M45.7 44.5l-0.2 0.8M74.5 74.7l-0.1 0.1M65.9 52.4l-0.2 0.1M21.2 38.9l0.6 0.5M44.7 48.8l0.4 0.6M65.5 6.6l0.2 0.1M31.0 42.0l0.8 0.1M57.7 45.8l0.2 0.2M69.9 64.5h.1M10.2 8.7l-0.9 0.2" stroke="#000080" stroke-width="2.67" stroke-linecap="round" fill="none"/><path d="M77.9 61.6h.1M44.7 43.6l-0.2 0.1M39.2 27.9l0.0 0.3M37.9 69.5l0.0 0.1M81.9 51.7l-0.5 0.3M60.5 66.2l0.1 0.4M15.3 40.7l-0.2 0.2M1.2 35.2l0.5 0.3M20.5 17.2l0.0 0.2M54.0 61.1l-0.6 0.1M56.6 46.0l-0.1 0.8M64.4 13.2l-0.3 0.5M4.1 5.6l-0.9 0.0M45.2 5.2l-0.1 0.1M9.9 65.6l-0.3 0.9M50.8 18.1l0.7 0.4M20.4 28.3l-0.1 0.8M45.6 77.3l0.1 0.4M71.9 43.7l-0.5 0.7M50.3 34.2l0.6 0.2M43.0 52.9l0.6 0.2M13.2 24.5l0.5 0.3M43.6 20.1l-0.1 0.0" stroke="#000080" stroke-width="3.20" stroke-linecap="round" fill="none"/><path d="M9.7 10.1l-0.7 0.3M49.0 24.4l-0.1 0.4M9.8 58.7l-0.5 0.4M50.7 23.0l0.3 0.4M29.7 33.7l0.1 0.0M54.1 49.1l-0.3 0.1M74.0 24.5l-0.3 0.2M15.7 59.8l0.2 0.4M38.0 16.8l0.1 0.1M74.4 71.0l-0.0 0.2M24.7 12.3l0.1 0.0M48.8 75.1l-0.1 0.6M14.8 74.9l0.3 0.6M59.5 35.3l-0.7 0.7M35.3 59.5l0.1 0.5M28.9 48.1l0.2 0.2M26.0 47.6l-0.0 0.1M25.2 46.4l-0.2 0.2M64.7 36.7l0.5 0.1M49.1 48.7l-0.7 0.2M64.2 20.1l-0.5 0.4M61.9 33.5l0.4 0.1M52.7 7.2l-0.1 0.1M71.9 50.8l0.4 0.5" stroke="#000080" stroke-width="3.73" stroke-linecap="round" fill="none"/><path d="M76.2 -0.3l0.1 0.5M41.5 13.7l0.0 0.2M21.9 68.8l0.6 0.0M54.8 20.7l-0.2 0.7M73.5 71.5l-0.7 0.4M15.8 56.9l-0.3 0.7M27.8 57.8l0.6 0.8M57.0 26.3l-0.1 0.0M0.4 3.2l0.7 0.0M56.5 69.0l0.4 0.9M1.0 69.8l-0.0 0.3M27.3 55.0l-0.0 0.1M60.7 9.2l-0.8 0.4M64.0 26.7l-0.7 0.1M73.4 19.4l-0.1 0.9M19.3 5.6l0.3 0.5M5.5 22.5h.1M52.0 36.3l-0.6 0.2M52.5 67.6l-0.8 0.1M28.3 3.7l0.5 0.6M11.0 47.0l-0.2 0.4M37.7 41.7l-0.2 0.0M19.7 16.7l0.1 0.0M22.8 23.7l-0.4 0.0M49.4 4.2l0.1 0.4M19.0 5.8l0.3 0.4M42.1 48.6l-0.5 0.1M80.5 25.5l0.1 0.3M26.0 47.8l0.1 0.6M11.9 21.3l-0.3 0.2M56.4 12.3l-0.1 0.0M61.0 28.6l0.8 0.1M40.3 70.9l-0.7 0.2M6.6 80.5l-0.1 0.2M50.5 2.6l-0.3 0.5M2.7 77.4l-0.0 0.2" stroke="#00009A" stroke-width="2.67" stroke-linecap="round" fill="none"/><path d="M10.5 63.8l-0.1 0.0M71.2 8.4l0.2 0.5M47.9 20.9l-0.1 0.3M25.4 36.2l-0.1 0.0M37.8 49.4l0.3 0.3M9.6 31.4l-0.7 0.2M40.0 72.5l0.0 0.2M1.9 47.3l-0.3 0.4M51.9 7.7l0.5 0.6M8.6 72.2l-0.4 0.4M57.3 49.0l0.1 0.1M4.6 81.5l-0.6 0.4M55.9 54.1h.1M3.1 51.2l-0.5 0.6M65.7 44.8h.1M65.5 77.8l0.2 0.5M52.0 26.2l-0.8 0.1M64.1 6.6l0.2 0.9M45.2 31.8h.1M8.0 30.1l-0.1 0.7M34.6 32.9l-0.2 0.1M33.4 -0.0l0.1 0.9M40.6 32.8l-0.2 0.6M81.4 38.7l-0.5 0.5" stroke="#00009A" stroke-width="3.20" stroke-linecap="round" fill="none"/><path d="M1.4 28.9l0.9 0.2M16.0 44.0l-0.7 0.1M65.7 32.9l-0.7 0.3M9.7 22.5l0.2 0.3M22.1 79.9l0.2 0.0M11.3 17.1l0.0 0.2M55.0 21.8l0.1 1.0M12.3 36.6l-0.3 0.9M4.2 61.1l0.5 0.7M23.4 17.4l0.2 0.1M70.0 19.5l0.1 0.1M25.2 43.8l0.4 0.4M80.4 30.2l-0.1 0.7M10.9 9.2l-0.4 0.8M12.6 67.4l-0.4 0.0M12.3 31.4l0.0 0.4M40.5 62.5l-0.3 0.4M79.2 43.8l-0.2 0.0M10.5 46.3l0.1 1.0M55.0 17.5l-0.2 0.1M7.0 38.5l-0.5 0.4M11.7 56.3l0.5 0.2M46.1 35.3l0.2 0.1M36.8 23.8l-0.1 0.0M41.6 51.5l-0.0 0.3M4.6 42.3l0.8 0.3" stroke="#00009A" stroke-width="3.73" stroke-linecap="round" fill="none"/><path d="M29.3 51.1l0.7 1.0M62.4 49.8l0.6 0.2M69.4 32.4l0.1 0.8M19.6 66.6l1.1 0.4M12.0 36.9l-0.1 0.6M63.5 29.3l0.1 0.1M55.0 54.1l-0.0 0.1M64.3 24.7l-0.0 1.3M8.7 74.8l0.8 0.4M30.5 79.9l-0.2 0.2M48.0 29.1l1.2 0.1M57.5 22.0l-0.2 0.2M55.0 69.7l-0.7 0.1M72.5 68.1l-0.9 0.7M71.5 17.4l-1.4 0.1M39.1 32.6l-0.1 0.1M20.5 29.8l-0.3 0.9M49.7 67.6l0.6 1.1M48.2 1.9l-0.1 0.4M39.1 79.1l-0.2 0.0M47.4 48.0l-0.6 0.1M66.2 69.6l-0.2 0.4M26.6 57.2l-0.2 0.4M28.7 56.5l-0.1 0.2M53.5 30.8l0.2 0.5" stroke="#1414FF" stroke-width="2.53" stroke-linecap="round" fill="none"/><path d="M35.0 81.9l0.2 0.2M4.9 72.1l-0.2 0.2M55.3 55.8h.1M63.4 59.2l0.7 0.5M8.4 2.5l0.1 1.3M30.8 30.6l0.1 0.3M17.0 68.9l0.8 0.9M45.0 53.4l0.5 0.2M28.1 4.7l-0.5 0.7M9.6 47.7l0.3 0.3M78.2 15.6l-0.7 0.1M24.2 51.2l-0.6 0.5M52.3 62.0h.1M71.3 77.9l0.2 0.2M32.3 62.4l1.2 0.3M75.0 72.2l-1.3 0.4M47.7 43.2l-1.1 0.0M18.2 78.0h.1M72.2 70.6l-0.1 0.7M20.3 71.2l0.1 0.8M65.0 51.1l-0.2 0.1M44.7 21.6l1.0 0.1M79.6 19.8l-0.1 0.3M0.2 20.3l0.6 0.9M33.6 48.8l0.3 1.0M24.8 72.9l-0.2 0.1M71.4 65.4l-0.4 0.8M36.1 72.3l0.6 0.3M52.9 21.9l-1.0 0.9M30.2 76.3l-0.1 0.1M14.0 14.3l0.8 0.5M74.4 0.5l0.3 0.6" stroke="#1414FF" stroke-width="3.20" stroke-linecap="round" fill="none"/><path d="M16.0 35.5l0.4 0.5M29.2 38.5l0.2 0.9M69.6 -0.2l0.6 0.1M56.8 75.5h.1M27.3 55.6l0.0 0.2M4.3 -0.0l-0.3 0.3M14.6 81.6h.1M21.0 14.3l-0.7 0.6M6.3 50.8l0.1 0.0M8.9 80.3l-0.3 0.6M41.3 35.7l0.3 1.3M56.4 35.6l0.3 0.4M43.2 75.4l-0.9 0.9M65.0 23.2l-0.0 0.2M81.2 25.1l1.0 0.8M18.3 8.9l0.2 0.1M18.3 76.8l-0.1 0.5M55.2 35.7l-0.5 0.1M72.5 77.4l0.6 1.2M49.0 56.5l0.4 0.1M7.8 57.0l1.3 0.4M43.3 65.8l0.8 0.9M52.8 50.8l0.6 0.2M18.6 73.1l0.2 0.3M-0.0 70.3l0.1 0.3M71.3 29.5l-0.3 0.3M66.7 73.6l-0.1 0.3M62.6 50.9l-1.1 0.2M40.7 76.0l0.6 1.3M78.8 64.7l1.3 0.4" stroke="#1414FF" stroke-width="3.87" stroke-linecap="round" fill="none"/><path d="M31.5 63.0l0.0 0.9M19.0 16.9l-0.1 0.1M48.9 32.4l-0.2 0.9M50.1 71.9l-0.5 1.0M76.8 30.3l0.7 0.3M8.4 41.0l-0.4 1.0M60.1 7.2l1.2 0.4M3.0 31.2l0.5 0.5M60.7 3.4h.1M62.6 23.3l0.4 0.3M24.9 52.2l-0.4 0.8M20.2 74.1l-0.1 0.3M81.8 27.9l0.1 0.8M22.7 9.8l1.0 0.8M26.9 54.8l-0.5 0.8M32.5 78.8l0.3 0.0M62.3 61.1l-0.7 0.3M72.2 22.8l0.0 0.9M79.7 49.0l0.8 0.7M7.6 24.8l-1.4 0.2M49.0 4.8l-0.4 0.1M47.1 71.9l-0.8 0.2M35.2 5.7l0.3 0.4" stroke="#0000E0" stroke-width="2.53" stroke-linecap="round" fill="none"/><path d="M51.9 9.3l-0.0 1.1M38.7 64.6l0.0 0.1M20.5 -0.9h.1M56.3 4.7l-0.9 0.4M39.2 72.8l1.3 0.3M42.7 42.7l0.7 0.3M65.3 29.2l1.1 0.3M26.3 24.9l0.6 0.1M53.9 54.2l-1.0 0.4M18.9 76.2l0.4 0.3M46.3 33.5l0.3 0.9M37.6 40.5l0.0 0.3M33.3 71.7l-0.1 0.3M38.2 28.6l0.2 0.2M13.0 78.0l1.0 0.1M30.6 21.0l0.1 0.6M25.0 19.9l1.1 0.1M37.0 40.2l0.5 0.6M56.9 20.7l0.7 1.2M5.3 40.4l-0.3 0.3M79.8 66.2l0.9 0.9M44.9 22.2l-1.1 0.3M44.5 19.9l0.0 0.7M18.9 0.1l0.7 0.3M27.2 75.0l-0.1 0.9M18.4 57.8l-0.3 0.2" stroke="#0000E0" stroke-width="3.20" stroke-linecap="round" fill="none"/><path d="M50.9 0.4l-0.4 0.8M58.4 22.5l-0.7 0.6M21.5 63.2l0.9 0.6M30.0 37.6l-0.2 0.0M72.6 0.7l0.4 0.1M1.9 8.3l-0.1 0.4M0.2 4.2l0.6 0.3M38.0 25.9l0.5 0.6M12.0 77.1l-0.2 0.0M33.3 45.4l-0.3 0.6M19.4 43.1l0.1 0.0M20.0 74.1l-0.4 0.2M41.9 64.1l-0.1 0.4M13.6 22.4l0.2 1.3M13.9 80.0l-0.3 1.2M76.7 65.0l-0.1 0.8M11.9 67.8l0.6 0.1M5.1 49.4l0.3 0.4M63.2 63.2l0.5 0.4M10.4 17.3l-0.8 0.5M58.9 56.0l0.2 0.2M7.3 35.1l-0.9 0.5M44.0 59.8l0.4 0.4" stroke="#0000E0" stroke-width="3.87" stroke-linecap="round" fill="none"/><path d="M0.2 76.3l0.0 0.1M31.1 51.9l0.1 0.9M71.7 16.3l0.6 0.6M27.4 44.9l0.4 0.5M79.5 71.4l0.0 1.0M55.7 41.0l-1.0 1.0M11.1 23.5l0.5 1.3M9.6 48.3l0.3 0.5M18.6 14.2l-0.4 0.2M58.2 49.5l0.1 0.3M10.0 49.2l-0.5 0.6M65.2 69.4l0.3 0.1M74.7 21.5h.1M43.6 31.8l0.7 0.8M78.9 18.1l0.8 0.6M47.1 74.5l0.3 0.1M63.5 74.0l-0.2 0.8M21.6 68.8l-0.1 1.3M38.6 19.0l-0.0 0.1M41.9 72.6l-1.4 0.1M13.6 41.2l0.4 0.5M7.5 36.2l-0.1 0.0M32.1 53.1l-0.2 0.8M43.7 76.7l-0.9 1.0M78.4 3.7l0.7 0.5M10.1 79.0l-0.6 0.4M57.1 16.0l-0.5 0.0M58.7 33.5l-0.5 1.0M25.5 45.8l-0.5 0.7M9.0 42.6l-1.0 0.2M18.5 43.1l0.4 0.2M39.9 18.3l-0.2 0.2M14.5 38.0l-0.6 0.9M13.7 61.1l-0.3 1.1M50.9 20.0l0.8 0.0" stroke="#0505F5" stroke-width="2.53" stroke-linecap="round" fill="none"/><path d="M59.1 -0.6l-0.4 0.2M6.3 76.9l0.6 0.6M25.1 74.0l1.2 0.0M9.6 13.6l-0.2 1.1M47.1 71.5l-0.1 0.3M11.9 32.7l0.2 1.0M23.9 27.7h.1M0.5 79.2l0.6 0.2M56.8 45.0l0.1 0.1M25.6 31.0l0.1 0.9M68.2 50.6l0.1 0.1M42.4 73.5l0.1 0.2M73.3 73.3l-0.8 0.4M24.1 18.0l0.5 0.5M-0.3 23.6l1.2 0.4M45.3 67.1l0.3 0.3M14.2 41.6l0.8 0.1M53.1 44.9l-0.0 0.2M52.3 -0.6l-0.7 0.7M64.9 56.7l0.9 0.5M3.3 49.4l0.4 0.7M36.1 81.8l-0.3 0.8M37.0 74.8l0.5 0.2M20.4 34.4l0.5 0.1M79.5 26.0l0.4 0.5" stroke="#0505F5" stroke-width="3.20" stroke-linecap="round" fill="none"/><path d="M74.8 68.8l0.0 0.2M2.8 54.9l-0.2 0.2M9.4 60.7l-0.8 0.9M68.8 57.5l-0.4 1.1M4.8 21.0l-0.5 0.0M19.2 72.6l-0.1 1.3M53.3 14.8h.1M73.3 -0.7l-0.7 0.5M49.4 56.4l1.1 0.7M9.5 82.1l-1.2 0.5M64.2 25.2l-0.0 0.2M3.4 18.3l-0.3 1.0M34.8 28.1l-0.7 0.3M39.5 9.3l0.1 0.0M39.9 32.5l0.9 0.3M53.6 73.2l0.8 0.4M3.8 60.0l0.0 0.3M62.2 78.6l0.0 0.4M75.0 26.8l-0.0 0.1M35.7 50.4l-0.1 0.1M55.1 34.6l-0.4 0.3M34.5 43.4l-0.0 0.3M8.7 10.0l-0.1 0.3M2.8 79.6l0.0 0.3M68.4 26.2l-1.0 0.4M36.3 66.9l0.2 0.4M23.0 1.3l-0.4 0.4M47.4 18.6l0.3 0.0M51.5 7.7l1.1 0.7M79.2 77.7l-0.1 0.1" stroke="#0505F5" stroke-width="3.87" stroke-linecap="round" fill="none"/><path d="M0.7 19.8l-0.0 0.1M6.5 32.5l-0.0 0.3M20.3 42.9l0.0 0.5M76.5 61.1l0.6 1.3M80.3 33.7l-0.4 0.4M50.7 43.3l-0.7 0.6M37.1 8.0l0.5 0.6M54.6 21.0l-1.1 0.9M40.9 1.1l0.4 0.3M54.3 59.0h.1M55.5 21.3l0.2 0.2M25.7 6.5l0.1 0.0M3.5 27.4l0.1 0.0M11.1 80.1l-0.5 0.0M48.1 37.6l0.6 0.6M13.1 1.9l-0.8 0.4M58.0 17.3l0.3 0.6M4.7 61.9l1.1 0.7M28.8 30.1l1.3 0.0M46.8 81.9l0.4 0.3M56.1 81.1l0.6 0.7M79.4 53.3l0.3 0.1M8.2 15.4l0.5 0.5M36.8 28.2l0.2 0.1M27.8 39.7l-0.6 0.3M40.5 45.6l-0.8 0.2M51.8 67.6h.1M62.7 68.3l-1.0 0.4M50.7 4.5l-0.1 0.8M23.0 18.6l0.2 0.4M76.4 10.4l0.7 0.9M42.7 52.8l0.4 0.5M49.1 45.4l-0.8 0.2M79.4 8.8l-1.1 0.2" stroke="#0000C0" stroke-width="2.53" stroke-linecap="round" fill="none"/><path d="M60.1 34.0l-0.1 0.0M38.1 26.4l-0.7 0.5M64.8 31.9h.1M81.0 58.4l-0.6 0.4M46.6 49.5l-0.5 0.3M3.5 18.1l-0.7 0.1M4.9 0.9l0.9 0.4M53.7 42.3l-0.8 0.6M79.9 60.1l0.3 1.0M72.1 75.3l-0.6 0.7M38.0 36.8l0.8 0.2M46.5 -0.3l0.3 0.1M4.4 5.5l-0.4 0.0M30.2 52.7l0.3 0.2M77.2 77.1l0.3 0.1M8.3 76.2l0.1 0.0M30.4 17.8l0.5 0.1M9.7 51.1l0.0 0.2M30.0 13.1l0.1 0.8M75.8 13.8l0.0 0.1M79.4 9.3h.1M68.9 47.0h.1M7.0 39.2l-0.7 0.7M56.7 64.3l0.3 1.4M59.3 75.1l0.0 1.0M15.5 57.9l-0.6 0.2M50.7 59.2l-0.4 0.4" stroke="#0000C0" stroke-width="3.20" stroke-linecap="round" fill="none"/><path d="M14.4 67.6l1.1 0.1M36.0 57.5l-0.7 0.9M4.1 57.0l0.1 0.8M21.0 44.9l0.1 0.6M62.8 59.1l0.5 1.1M40.8 24.1l0.6 1.2M23.1 67.7l-0.9 1.1M46.0 19.3l0.0 0.6M13.8 81.9l-0.9 0.1M78.5 29.7l-0.8 1.0M65.2 16.0l-0.2 0.8M3.1 33.9l0.8 0.1M61.2 43.4l0.9 0.8M72.9 32.0l-0.6 0.7M50.8 58.6l0.2 0.8M4.7 2.7l-1.0 0.7M53.4 79.0l-0.4 0.3M71.4 46.2l-0.1 0.6M9.4 75.7l-0.1 1.3M63.2 35.3l0.2 0.2" stroke="#0000C0" stroke-width="3.87" stroke-linecap="round" fill="none"/></g><g id="t1"><path d="M72.9 59.3l-1.1 0.7M10.2 25.6l0.3 0.6M63.4 39.2l-1.1 0.5M39.9 53.0l0.3 0.5M15.7 67.2l0.8 0.8M0.6 3.5l0.1 0.1M24.1 63.2l-0.3 0.1M16.8 58.7l0.1 0.3M23.4 28.7l0.3 1.1M64.3 36.7l0.5 0.6M65.6 42.4l-0.2 0.0M59.1 80.7l0.3 0.5M10.4 16.7l-0.2 0.8M20.2 28.8l-0.5 0.6M38.1 58.5l-0.1 0.8M68.9 55.6l-0.5 0.7M32.0 28.1l-0.4 0.7M9.8 76.7l-0.1 0.2M19.6 59.7l1.2 0.3M22.6 11.7l-0.0 0.2M7.0 70.2l1.3 0.5M56.4 35.8l0.3 0.8M10.8 69.2l0.2 0.1M66.3 31.0l-1.6 0.2" stroke="#0A300A" stroke-width="2.33" stroke-linecap="round" fill="none"/><path d="M4.9 46.3l0.5 1.2M4.3 57.4l-0.3 0.2M49.6 43.9h.1M33.5 51.3l0.4 0.2M20.6 7.3l1.4 0.7M1.5 18.5l-0.3 0.7M77.9 51.6l-0.5 1.4M58.1 57.2l-0.2 0.3M49.4 25.3l-0.0 0.2M32.3 73.8l0.8 0.3M47.9 79.6l-0.1 0.1M9.1 2.6l-1.1 1.0M44.6 4.9l-0.7 0.7M5.9 36.8l-0.5 0.2M79.1 75.3l0.8 0.4M76.8 73.7l0.1 0.2M51.9 62.3l-1.0 0.9M40.4 53.5l0.2 0.5M74.0 64.7l-1.1 0.7M19.8 76.1l-1.0 0.3" stroke="#0A300A" stroke-width="3.00" stroke-linecap="round" fill="none"/><path d="M28.2 53.9l0.4 0.7M4.3 65.0l-0.1 0.7M38.6 55.1l-1.0 0.1M59.0 64.9l-0.2 0.3M5.1 69.7l0.6 0.1M11.9 77.9l-1.6 0.1M1.9 51.3l0.2 0.0M42.8 62.2l-0.5 0.3M82.2 16.5l-0.7 0.5M19.2 27.5l-1.5 0.2M12.8 63.9l0.2 0.5M19.0 17.3l-0.3 0.4M26.2 44.6h.1M65.7 50.5l0.4 0.4M4.5 72.3l0.0 0.1M15.7 70.5l-1.2 0.8M50.4 61.1l-1.0 0.4M38.9 47.9l-0.6 0.0M54.4 34.4l-1.2 1.0M2.6 36.2l0.9 0.3M29.2 20.8l-1.2 0.1M2.5 10.3l0.3 1.1M68.9 5.2l-0.4 1.5M13.9 55.7l1.5 0.4" stroke="#0A300A" stroke-width="3.67" stroke-linecap="round" fill="none"/><path d="M71.3 2.4l0.3 0.5M10.9 56.7l1.1 0.5M40.3 12.5l0.2 0.9M23.6 30.3l1.4 0.1M32.4 33.9l0.4 0.6M54.4 30.9l-0.1 0.1M3.2 79.1l0.8 0.5M42.8 59.7l0.9 1.0M29.8 72.6l-0.1 0.1M21.3 72.1l0.1 0.2M45.4 51.7l0.7 1.1M23.2 54.8l-0.2 0.1M1.0 6.8l-0.5 0.2M47.1 32.1l0.6 1.3M72.0 33.5l0.1 0.1M45.7 59.1l-0.7 0.5M78.9 13.6l1.0 0.3" stroke="#082608" stroke-width="2.33" stroke-linecap="round" fill="none"/><path d="M76.1 43.5l-0.7 1.2M27.1 31.0l-0.5 0.1M36.0 42.5l0.8 0.8M37.4 8.7l1.2 0.5M54.7 67.6l-0.2 1.3M26.2 4.2l0.2 0.4M22.7 49.9l0.8 1.3M43.3 67.1l-0.2 0.3M28.8 73.7l0.4 0.0M25.3 56.5l0.4 0.2M15.3 52.5l0.6 0.7M34.9 30.8l0.1 0.9M3.9 69.2l-0.5 0.1M32.2 45.6l0.2 0.2M-0.3 13.0l0.2 0.4M10.3 53.3l-0.4 0.2M3.4 19.4l-0.2 0.4" stroke="#082608" stroke-width="3.00" stroke-linecap="round" fill="none"/><path d="M21.8 11.6l0.2 0.4M49.6 7.3l0.0 0.5M10.1 3.5l-0.5 0.1M39.2 38.0l1.3 0.2M67.6 75.4l0.2 0.5M22.7 14.4l-0.2 1.3M25.8 78.0l-0.3 0.2M16.0 59.5l-0.2 0.8M2.9 58.8l-1.1 0.5M24.6 14.7l-0.6 0.6M24.9 13.4l-1.1 1.1M11.1 51.7l0.1 0.1M11.8 7.9l-1.1 0.8M43.8 80.4l0.5 1.0M79.4 69.1l0.3 0.4M43.1 35.2l-1.0 1.1M7.4 25.5l0.5 0.4M53.7 75.0l1.3 0.6M81.0 22.0l-0.8 0.3M78.2 24.8l1.0 1.1M33.9 61.8l0.6 0.2M51.1 3.7l0.0 0.2M40.6 6.1l0.4 0.1M11.4 21.4l-0.9 0.7M20.2 77.2l0.1 0.5M26.4 45.1l1.3 0.2M56.2 2.8l-0.1 0.1M27.1 49.4l-0.6 0.9" stroke="#082608" stroke-width="3.67" stroke-linecap="round" fill="none"/><path d="M32.9 66.0l-0.0 0.1M9.3 37.7l0.1 1.6M2.1 50.0l0.7 1.3M7.3 56.3l-0.1 1.1M62.6 26.6l-1.5 0.0M31.4 7.9l-0.3 0.3M50.4 3.5l-1.1 0.0M80.8 10.8l-0.0 0.6M67.0 38.3l-0.1 0.1M21.4 35.3l-0.7 0.8M75.8 68.6l-0.2 0.5M54.8 63.8l0.1 0.5M35.1 61.3l-0.0 1.3M11.9 4.9l-0.2 0.7M27.5 43.4l-0.3 0.2M13.2 66.5l-0.0 0.3M42.3 13.7l0.7 0.1M20.0 25.6l-0.2 0.8M45.2 25.9l0.3 0.1M78.6 51.6l-0.1 0.2M57.4 23.1l-0.1 0.3M26.9 48.5l-0.8 0.3M17.5 31.4l0.2 0.4M77.3 77.4l0.5 1.1M12.4 67.7l0.3 0.0M25.6 80.3h.1M67.9 35.3l1.1 0.6M63.5 2.6l0.2 0.2" stroke="#0C380C" stroke-width="2.33" stroke-linecap="round" fill="none"/><path d="M2.9 10.3l0.5 0.8M13.5 5.5l0.6 0.3M66.4 14.9l0.2 0.3M2.2 68.4l-0.3 1.5M23.9 23.3l1.1 0.8M30.2 14.9l-0.2 0.2M39.4 73.6l-0.3 0.7M76.1 22.0l0.4 0.7M70.9 50.3l-1.0 1.1M30.9 58.7l1.6 0.1M35.1 55.4l0.2 0.2M64.5 73.2l1.0 0.0M54.1 8.7l-1.4 0.1M0.1 25.7l-1.1 1.1M10.1 44.7l1.1 0.3M34.0 -0.5l-0.3 0.1M3.9 20.7l0.5 0.2M6.0 55.2l-0.3 0.3M19.2 28.8l0.2 0.1M63.9 26.9l-0.3 0.2M59.4 60.9l-1.0 0.7M29.6 47.4l-0.3 0.1" stroke="#0C380C" stroke-width="3.00" stroke-linecap="round" fill="none"/><path d="M31.7 72.3l-1.3 0.2M28.2 26.5l-0.0 0.2M63.6 49.9l-0.7 1.2M8.4 15.3l-0.3 0.2M16.0 6.1l-0.2 1.0M1.8 21.8l0.9 0.4M44.1 50.4l-0.1 0.7M19.3 57.2l0.4 0.0M3.8 66.3l0.2 0.4M2.4 34.7l-0.0 0.4M46.2 58.0l-0.2 1.5M30.8 72.4l1.5 0.6M76.0 60.2l0.8 0.0M17.4 33.0l0.4 0.5M0.4 1.2l0.7 0.7M6.9 37.6l1.0 0.4M49.6 36.4l1.0 0.3M54.3 28.9l0.3 0.9M59.4 39.0l-0.1 0.1M35.2 27.1l-0.5 1.1" stroke="#0C380C" stroke-width="3.67" stroke-linecap="round" fill="none"/><path d="M24.5 16.9l-0.2 0.3M24.9 73.5l1.5 0.4M8.6 41.4l1.1 0.8M31.4 63.0h.1M59.5 -0.5l1.1 1.2M34.2 43.1l0.5 0.2M51.2 58.0l1.1 0.3M20.8 30.0l-1.8 0.8M63.8 63.4l-0.8 1.8M26.7 25.2l0.3 1.2M62.2 61.9l-0.1 0.0M65.1 32.2l0.1 0.4M9.6 13.3l0.6 0.8M30.1 21.7l1.0 0.0M7.7 76.9l-0.5 0.1M79.2 26.3l0.8 1.6M39.1 26.8l-0.1 0.6M5.6 48.7l-0.5 0.4M23.7 51.5l-0.5 0.8M5.1 2.5l-0.2 0.0M71.3 46.1l-1.2 0.5M9.5 47.9l0.1 1.1M8.0 24.6l0.8 0.5M35.2 5.6l-0.3 0.9M79.4 66.5l-0.0 0.5M76.7 60.9l0.9 1.6" stroke="#1A7C1A" stroke-width="1.80" stroke-linecap="round" fill="none"/><path d="M53.1 44.8l0.7 0.4M79.6 19.4l0.3 1.4M18.3 57.2l1.3 0.7M6.6 39.4l0.2 0.3M33.1 48.6l0.0 0.4M18.6 16.3l-0.4 0.1M19.7 73.8l-1.2 1.1M9.7 60.7l-0.1 1.5M7.3 34.7l-0.9 0.3M30.7 52.7h.1M13.6 82.1l0.7 0.6M53.4 30.5l0.2 0.8M12.3 77.0l-0.1 1.7M9.4 82.1l-0.2 1.9M62.7 35.4h.1M35.5 50.9l0.7 0.3" stroke="#1A7C1A" stroke-width="2.20" stroke-linecap="round" fill="none"/><path d="M64.6 25.1l1.4 0.7M50.8 58.9l-1.3 1.2M2.7 80.1l0.5 0.2M53.2 55.0l0.1 1.9M27.0 55.1h.1M71.6 16.4l0.5 0.6M8.9 42.7l-0.8 0.2M8.3 15.3l0.1 0.0M49.0 32.6l-0.2 0.2M19.7 74.3l-0.6 1.6M22.8 19.5l-0.6 0.0M20.9 44.6l-0.2 0.1M58.7 33.0l0.0 0.2M37.3 40.5l0.4 1.3M28.8 56.7l0.5 0.9" stroke="#1A7C1A" stroke-width="2.60" stroke-linecap="round" fill="none"/><path d="M11.1 79.9l0.5 0.1M25.9 56.9l0.2 0.5M78.2 3.2l-1.7 1.0M40.0 31.8l1.2 0.5M49.2 29.2l-0.0 0.5M50.2 71.7l1.0 0.5M28.0 54.4h.1M6.3 77.1l-0.3 0.5M64.9 23.5l0.4 0.6M32.5 72.2h.1M19.6 72.6l-0.2 1.1M0.3 19.8l-0.3 0.8M53.5 73.0l0.7 0.5M48.7 56.2l0.2 1.2M79.1 76.9l-1.7 0.8M8.6 2.0l0.2 1.2M30.3 13.3l0.4 0.3M4.0 57.1l0.3 0.2" stroke="#228A22" stroke-width="1.80" stroke-linecap="round" fill="none"/><path d="M51.8 9.5l-1.4 1.1M19.9 66.5l1.5 1.1M40.7 46.1l1.6 0.2M9.4 50.9l0.2 2.0M-0.0 20.9l-0.4 0.6M56.9 64.6l-1.8 0.2M6.0 50.2l-0.2 0.1M37.0 8.2l-1.8 0.9M23.2 67.5l0.1 0.1M52.6 -1.0l0.4 1.8M1.2 7.9l-0.5 0.2M47.4 43.1l-0.1 1.5M37.3 29.1l-0.1 0.1M29.2 38.4l0.7 0.9" stroke="#228A22" stroke-width="2.20" stroke-linecap="round" fill="none"/><path d="M54.2 43.1l0.6 0.8M38.7 32.5l0.1 0.1M29.9 52.9l-0.2 0.2M47.2 72.5l1.0 0.4M27.5 74.7l-0.1 0.3M78.7 9.2l1.7 0.9M54.1 34.7l-0.3 0.4M25.2 45.7l-0.3 1.9M20.7 71.9l0.6 0.1M59.3 56.0l0.5 0.9M55.1 55.6l0.8 1.6M24.3 51.9l0.2 0.4M25.2 20.3l-0.4 0.4M62.2 49.6l0.8 1.2M18.9 0.6l1.5 0.6M34.8 28.6l1.0 1.5" stroke="#228A22" stroke-width="2.60" stroke-linecap="round" fill="none"/><path d="M43.2 42.4l0.9 0.6M55.9 40.7l0.1 0.4M6.1 32.6l-0.9 1.7M65.9 69.6l-1.3 1.3M30.0 79.9l-1.3 1.2M20.1 43.2l-0.2 0.3M63.0 58.8l-0.9 1.3M1.8 54.9l1.0 1.4M20.3 34.7l-0.1 0.1M51.2 19.1l-1.5 0.7" stroke="#146214" stroke-width="1.80" stroke-linecap="round" fill="none"/><path d="M35.9 81.8l-0.8 1.1M77.1 64.6l-0.8 0.0M29.0 50.7l-1.5 0.6M28.8 4.2l1.1 1.0M41.8 72.2l-0.0 0.5M41.8 35.8l-0.8 1.5M30.8 18.3l-1.7 0.8M74.4 72.0l1.1 0.1M30.2 76.7l0.7 0.6M62.6 68.0l-1.2 1.3M68.6 58.0l1.0 1.5M18.6 43.7l0.0 0.2M10.5 49.0l0.0 0.2M7.9 57.0l-0.4 0.2M43.3 65.6l1.4 0.7M45.8 66.8l0.6 0.9M43.6 32.5l0.0 1.3M36.4 27.4l-0.1 1.2" stroke="#146214" stroke-width="2.20" stroke-linecap="round" fill="none"/><path d="M80.1 33.6l0.4 0.1M3.5 18.3l1.0 0.4M35.7 72.7l0.1 0.2M13.4 61.8l-1.1 1.2M39.0 72.4l0.4 0.4M3.4 30.9l-1.6 0.1M3.9 48.8l-0.3 1.6M37.4 36.8l-0.1 0.1M53.6 59.1l0.3 1.4M36.6 40.0l0.0 0.2M47.5 18.5l0.4 0.4M37.5 75.1l1.1 0.2M15.7 35.8l0.1 0.3M75.1 27.1l0.5 0.1M68.1 51.2l-0.4 0.1M44.5 22.0l0.3 0.3M55.0 69.9l-1.9 0.2" stroke="#146214" stroke-width="2.60" stroke-linecap="round" fill="none"/><path d="M49.7 57.0h.1M40.1 75.3l-0.1 0.0M50.8 71.9l-1.4 0.4M79.0 77.3l0.4 0.3M5.1 21.1l-0.3 1.3M19.1 66.5l0.1 0.0M26.9 45.4l-0.3 0.5M52.0 -0.0l-0.0 0.2M51.7 68.3l-0.1 1.5M64.9 56.3l-0.7 0.6M11.8 67.8l-0.5 1.0" stroke="#3ED83E" stroke-width="1.73" stroke-linecap="round" fill="none"/><path d="M20.7 35.2h.1M67.7 26.2l0.3 0.1M48.0 37.5l0.4 0.3M38.4 64.8l0.1 0.0M72.0 17.6l-0.1 1.1M33.8 48.9l-1.3 0.0M40.3 32.4l0.2 0.1M45.4 53.3l-0.6 0.5" stroke="#3ED83E" stroke-width="2.00" stroke-linecap="round" fill="none"/><path d="M29.5 51.0l0.9 0.2M-0.5 24.4l0.5 0.1M44.8 22.1l-0.6 0.2M8.3 2.3l1.0 0.3M46.8 49.9l0.2 0.8M39.0 33.5l0.8 0.7M52.0 50.0l-1.2 0.9" stroke="#3ED83E" stroke-width="2.27" stroke-linecap="round" fill="none"/><path d="M46.4 71.8l-0.1 0.3M39.6 79.5l-0.4 0.9M39.3 72.6l0.2 0.8M50.8 59.6l0.7 0.4M80.7 58.7l0.8 0.3" stroke="#2EC02E" stroke-width="1.73" stroke-linecap="round" fill="none"/><path d="M72.9 68.1h.1M68.1 50.1l0.7 0.6M54.7 55.7l0.5 0.0M44.2 19.9l0.5 0.2M19.5 72.1h.1M17.7 68.8l-0.7 0.9M26.0 6.5l-0.0 1.1M76.4 13.7l-0.5 0.6" stroke="#2EC02E" stroke-width="2.00" stroke-linecap="round" fill="none"/><path d="M3.7 27.3l-0.7 0.9M2.6 55.0l0.6 0.3" stroke="#2EC02E" stroke-width="2.27" stroke-linecap="round" fill="none"/><path d="M56.5 75.1l-0.4 0.2M42.9 53.3l-0.4 0.2M23.0 1.4l0.5 1.2M7.5 35.6l-1.4 0.0M77.4 77.3l-0.8 1.2" stroke="#4CEA4C" stroke-width="1.73" stroke-linecap="round" fill="none"/><path d="M25.7 25.4l-0.1 0.1M4.2 1.1l0.3 0.9M3.6 18.4l-0.9 0.2M28.8 30.2l0.0 0.9M31.7 30.5l0.0 0.6M53.0 22.2l0.4 0.2M38.3 28.3l1.3 0.7M56.2 35.0l-1.1 0.5M19.1 43.0l0.0 0.9M15.8 35.1l0.6 1.5" stroke="#4CEA4C" stroke-width="2.00" stroke-linecap="round" fill="none"/><path d="M62.4 51.3l-0.5 0.4M11.9 37.2h.1M0.0 20.4l0.2 0.1M41.9 72.4l0.1 0.0" stroke="#4CEA4C" stroke-width="2.27" stroke-linecap="round" fill="none"/></g><g id="l1"><path d="M66.0 50.9l-1.1 2.5M59.7 50.7l-1.8 -2.0M31.1 77.9l-1.7 -1.2M20.1 9.8l-1.2 1.7M8.5 7.2l-1.9 -1.8M47.5 44.0l-0.5 2.1M55.6 12.9l2.8 -0.5M36.3 68.1l-1.3 -1.7M14.8 53.1l0.1 2.8M18.6 71.9l-3.1 -2.3M56.2 60.0l-0.8 -2.5M68.8 64.6l0.6 3.4M32.0 21.7l2.3 1.7M10.1 30.9l3.0 -2.6M8.6 42.7l-2.5 -0.5M16.3 47.9l1.2 3.1M80.1 54.5l-0.7 2.4M5.4 15.2l-1.3 -1.8M33.2 46.1l1.9 0.3M42.7 57.5l2.7 -0.9M-0.7 30.3l-2.3 -1.4M66.8 11.6l-2.5 -0.5M80.5 36.5l-0.2 -3.1M23.7 2.1l3.0 0.2M31.6 8.0l-0.5 -1.6M14.1 69.5l-1.9 1.7M53.2 38.6l-2.5 1.6M11.0 49.2l-0.7 2.3M71.8 24.6l3.3 0.4M40.2 17.4l-0.0 -2.0M77.3 53.9l0.6 2.2M23.4 41.9l-2.7 -1.5M79.9 73.8l-2.8 -0.8M72.0 74.1l-2.5 2.6M39.5 71.2l2.2 -0.8M21.4 10.5l2.0 1.5M0.8 21.5l-2.1 2.5M81.1 78.6l0.8 1.6M14.4 31.5l1.3 3.4M4.2 33.9l-1.3 2.7M-0.3 17.1l0.9 3.6M19.6 28.5l1.6 3.6M16.4 32.4l1.6 0.8M3.3 57.8l0.3 -3.6M28.1 12.6l-3.1 -1.9M46.7 17.7l-1.9 -2.4M18.0 73.9l1.2 -1.0M-0.7 71.8l2.6 2.7M50.6 9.4l0.0 -3.5M41.4 51.5l1.4 -2.3M7.9 45.5l3.7 -1.1M25.5 19.7l1.7 1.4M34.8 59.6l3.0 2.4M53.7 19.7l2.9 -0.0M56.1 69.3l-1.2 2.0M77.2 2.8l-0.6 3.1M33.4 63.3l-1.9 -3.3M44.7 17.6l-1.1 1.0M53.1 30.2l0.3 -1.5M80.4 -0.1l1.5 0.7M53.6 63.5l3.6 -0.0M69.1 70.8l3.1 0.8M7.3 2.8l1.5 -3.6M12.4 32.3l-0.1 -2.6M56.2 24.4l1.9 2.8M78.5 24.2l1.5 -1.7M34.8 50.5l-1.3 -3.1M9.0 30.2l1.8 -0.2" stroke="#560000" stroke-width="0.7" stroke-linecap="round" fill="none"/><path d="M61.3 74.9l-2.4 -1.0M66.8 54.8l-3.3 0.1M62.7 2.9l1.5 1.3M44.4 17.9l1.5 -1.2M18.1 31.2l2.0 -2.4M42.6 8.5l2.1 2.6M21.0 36.8l2.8 -1.9M41.5 14.7l-2.8 -1.0M66.0 11.7l-2.0 -3.2M54.2 23.1l1.7 -1.7M6.9 21.7l-2.1 -0.8M22.2 44.9l3.3 0.1M30.1 49.2l2.4 0.6M5.0 28.6l-0.5 2.8M18.3 44.5l3.7 0.8M71.5 29.6l1.6 -2.3M49.0 40.9l3.7 1.6M77.3 60.1l1.4 1.4M49.9 78.1l-0.3 1.8M15.3 3.9l-2.4 1.8M21.6 34.9l0.2 -1.6M26.2 22.5l-0.0 -1.8M41.1 62.3l0.9 2.5M44.9 46.2l-1.3 -3.8M4.6 0.3l-3.3 -1.5M6.8 36.5l0.1 -2.4M5.7 5.7l0.4 -3.2M22.7 27.9l-2.1 0.8M26.4 52.6l1.8 -1.1M47.4 8.0l1.5 -1.4M6.0 17.3l-2.3 -0.5M44.4 30.2l1.8 -0.4M13.4 34.9l-0.2 3.0M69.1 43.1l3.7 0.8M15.0 28.4l-1.8 -0.6M44.5 68.3l-1.0 -2.1M33.5 60.0l-1.8 0.7M27.4 18.3l-1.0 -1.1M-0.6 8.3l-0.5 -1.9M7.7 37.2l2.8 2.2M42.6 40.6l2.0 -2.8M11.1 73.6l-1.7 -0.5M19.9 36.3l-0.1 -2.5M55.5 82.2l-2.9 -2.4M14.7 13.8l-0.9 -3.8M4.9 53.1l-1.0 1.4M31.0 45.4l-0.7 2.9M71.3 3.0l2.9 -1.9M47.9 39.5l3.2 1.8M38.9 16.2l-0.8 2.7M33.0 53.4l3.4 -0.3M77.7 48.4l-1.6 3.3M25.6 17.5l-1.8 0.7M51.2 49.7l-2.9 -2.6M40.6 45.2l-1.6 2.0M5.0 16.1l-1.1 2.9" stroke="#560000" stroke-width="1.0" stroke-linecap="round" fill="none"/><path d="M57.7 41.5l1.9 2.2M43.1 30.4l0.7 -2.4M3.6 59.1l-2.0 -1.0M72.1 33.9l-1.8 0.1M63.9 36.7l-0.7 1.4M62.9 6.3l-3.3 -1.3M47.6 48.9l1.7 -2.4M29.5 31.1l0.3 -3.7M61.8 42.6l-0.2 -2.5M34.7 42.1l-0.1 -2.0M55.9 40.5l-3.2 1.6M44.0 61.4l3.5 -0.6M42.6 74.2l0.1 3.7M47.3 7.1l-2.5 0.2M55.5 13.6l-0.2 2.1M14.5 39.5l-0.1 -1.6M16.4 54.2l1.5 -1.3M71.8 10.3l-2.8 2.5M31.1 44.1l3.4 -0.4M59.7 1.5l-2.4 -1.0M34.9 31.5l3.1 0.2M10.7 11.1l2.1 -0.1M18.4 36.7l-3.6 0.9M11.3 51.8l-3.0 2.0M38.8 58.9l1.7 -0.1M66.1 49.8l2.5 -1.8M44.1 48.4l2.4 -0.1M7.2 44.0l-2.4 0.6M14.1 25.9l1.9 0.1M43.6 60.3l-1.0 3.2M28.6 5.0l-0.0 -2.4M52.9 52.6l-1.0 -1.6M1.9 19.6l0.3 -3.2M15.7 1.3l-1.9 0.6M41.4 5.5l-0.0 2.1M46.7 39.1l-2.5 2.7M81.9 72.2l-2.0 -2.3M52.2 20.5l1.9 -1.4M34.0 38.6l-1.3 1.6M33.7 31.7l-0.6 -1.5M14.7 33.2l0.7 -2.0M6.9 49.7l-0.9 2.5M18.3 65.0l-0.8 -1.9M11.4 76.6l0.9 1.6M30.5 50.1l-1.5 -0.3M38.9 75.4l-0.8 -2.4M32.9 36.5l1.9 1.2M60.2 74.4l-3.4 1.8M10.3 48.2l2.6 -1.7M24.3 15.3l1.4 1.7M18.1 29.7l-0.1 3.2M66.4 54.7l-2.5 -2.3M47.8 31.5l-2.3 1.0M-0.0 79.7l1.7 1.0M48.1 63.1l-1.4 3.5M64.3 31.0l2.5 -1.9M40.3 40.0l-1.5 1.8M30.7 49.2l-1.0 3.4M25.6 30.5l2.6 -0.1M55.0 -0.3l3.4 0.3M4.8 30.2l-1.6 2.6M14.8 9.2l1.4 -1.0M40.8 53.6l-0.1 -2.3M18.3 44.9l1.0 -2.5M35.0 28.0l-2.7 -1.5M14.6 33.1l0.2 -2.7M38.4 53.2l-2.0 -1.9M48.4 51.4l-2.1 1.7M22.7 57.2l-0.8 2.0M43.1 62.4l0.3 -3.9M27.7 79.7l3.0 2.5M56.9 65.0l1.5 -0.4" stroke="#700000" stroke-width="0.7" stroke-linecap="round" fill="none"/><path d="M16.1 73.2l-2.0 -0.4M27.9 60.7l3.1 0.2M52.8 52.4l-3.8 -0.1M0.2 57.0l-1.4 0.9M56.2 29.2l1.6 1.1M27.2 60.0l1.1 -3.7M22.9 28.4l2.5 -1.7M16.4 54.9l0.4 -3.1M70.0 23.0l-2.7 2.2M75.3 12.2l-2.1 -0.6M43.5 36.0l-1.3 2.4M64.2 29.6l-3.1 2.3M38.2 31.3l1.6 1.7M4.1 30.3l-2.0 -1.2M46.6 48.7l3.2 2.4M11.4 0.4l1.8 1.1M40.7 0.4l2.5 0.8M37.6 53.3l3.8 -0.0M56.3 53.8l3.1 -0.9M31.3 39.9l-1.4 -1.9M47.4 19.8l-1.7 -1.0M29.1 2.7l0.6 1.9M48.7 46.3l-3.5 1.9M35.9 34.6l2.3 1.0M58.2 8.3l-2.5 -2.2M60.1 18.1l2.7 -1.9M35.5 55.2l0.3 -2.3M57.6 16.5l-1.5 -2.2M16.1 76.2l0.5 -3.6M72.0 32.9l3.0 -2.5M53.6 58.2l0.9 1.2M75.8 9.9l-2.9 1.6M25.8 61.0l1.9 1.6M22.4 55.6l-1.4 0.6M29.1 23.4l-3.0 0.6M55.3 23.2l0.6 -2.5M56.0 38.8l2.9 0.1M50.3 11.1l1.2 1.2M29.0 35.0l0.8 3.4M11.3 9.7l-3.1 0.9M66.8 40.5l-3.1 -0.5M58.1 54.3l1.5 3.6M19.6 24.6l1.6 -1.5M31.7 32.4l-0.2 2.0M29.2 48.2l-1.2 1.3M80.5 80.3l3.4 -1.5M21.1 20.3l-0.2 2.8M22.8 60.7l-2.6 1.0M75.7 26.2l1.4 2.4M14.1 16.4l1.1 2.3M34.0 27.7l-2.4 1.4M44.0 14.4l-1.0 2.2M20.2 70.6l2.0 1.2M80.0 61.1l-2.1 -0.1M64.8 48.3l-1.4 -1.1M61.1 7.5l-2.3 1.5M13.5 51.8l-3.0 0.8M58.6 74.4l-0.2 2.3M66.3 13.7l1.3 -1.4M39.6 45.8l-0.9 1.5" stroke="#700000" stroke-width="1.0" stroke-linecap="round" fill="none"/><path d="M8.8 49.6l1.8 -0.3M30.5 60.3l0.0 3.8M64.3 63.8l-1.0 -3.6M14.6 30.8l2.4 2.4M19.7 49.9l-2.0 -1.1M28.4 58.5l3.5 1.7M52.4 33.0l-0.1 -1.9M58.1 32.8l-2.3 0.2M63.9 31.0l-0.6 2.9M37.9 20.4l2.3 2.8M17.9 82.0l1.0 3.1M65.0 24.9l-0.6 2.0M10.4 14.0l-2.2 1.2M28.6 60.3l1.0 -1.8M44.2 81.1l3.6 1.6M31.6 42.6l0.6 1.6M48.7 20.5l-3.0 -2.1M57.3 1.7l2.5 1.8M38.9 46.6l-1.2 -2.5M10.0 36.1l-2.0 0.3M78.1 33.8l0.9 1.5M23.2 76.9l0.3 -1.8M31.3 37.5l-1.4 2.9M37.9 68.5l0.4 -1.6M27.7 27.4l3.0 -2.0M8.4 55.5l2.2 -1.8M40.8 68.4l1.7 0.0M11.4 9.0l0.4 -2.7M25.6 73.5l-3.7 -0.1M38.2 31.0l-0.8 -2.2M33.7 35.5l1.8 -0.5M6.2 33.3l2.4 1.8M33.6 31.9l-0.8 -1.3M8.5 66.8l-2.1 -0.1M15.5 36.1l2.9 0.8M7.3 41.5l-3.4 -1.7M27.7 68.1l1.0 3.5M6.9 28.5l-0.8 -2.5M15.2 70.0l3.1 1.7M59.2 11.8l-1.7 2.1M23.4 43.9l0.7 2.2M45.9 33.3l-2.0 0.8M10.8 25.2l-2.4 -2.0M27.6 20.0l2.2 -2.0M26.6 58.0l-1.7 -0.3M41.4 62.0l-0.9 -1.3M54.3 28.5l1.5 -1.7M47.6 23.6l2.4 -2.1M45.2 39.1l0.3 2.5M22.6 44.5l0.4 -2.0M29.1 71.1l-1.8 -2.3M3.6 19.4l2.0 -0.9M37.8 37.3l-1.6 2.6M7.4 44.6l1.5 -0.9" stroke="#420000" stroke-width="0.7" stroke-linecap="round" fill="none"/><path d="M50.9 45.6l0.3 3.6M27.6 64.5l0.9 -2.2M30.8 6.3l-1.0 3.3M44.1 4.9l2.7 1.7M56.1 79.5l0.5 1.6M25.3 70.3l0.9 -3.1M7.3 26.8l0.7 -2.9M63.3 4.8l-1.4 -1.9M81.1 -0.3l-0.3 1.7M79.3 63.5l-0.9 3.2M55.9 62.9l1.1 -1.7M12.1 63.6l1.3 3.4M6.5 4.3l2.3 -0.1M61.9 64.8l-1.6 0.8M79.7 8.2l1.8 0.4M41.5 65.6l2.2 -1.9M48.8 49.9l0.3 -2.1M65.5 28.1l-2.8 -0.7M56.5 40.9l-3.3 -2.2M26.0 27.0l-1.1 -2.0M39.4 56.6l-1.0 -3.6M53.5 16.3l2.5 -1.7M28.8 59.2l1.0 2.3M24.6 67.9l-1.7 -2.5M15.0 58.0l2.2 -1.3M47.5 69.2l-2.0 0.4M46.2 53.6l-2.3 2.8M26.3 42.8l-3.3 0.2M57.1 26.3l-1.4 3.7M8.4 0.9l2.1 -0.1M54.5 39.3l1.0 -1.7M38.3 24.8l3.8 -0.8M66.9 50.6l1.8 0.5M0.3 76.8l-2.2 0.6M6.1 66.6l-2.6 0.3M21.7 48.0l3.7 1.0M34.9 22.6l-3.4 -1.8M28.2 8.8l-3.3 -1.6M27.2 42.1l2.7 1.8M3.1 16.3l3.0 0.2M49.4 60.3l0.3 2.9M9.7 46.9l1.3 -1.0M43.2 75.5l1.5 1.8M16.6 47.2l0.2 -1.7M36.2 12.1l-0.7 -1.4M20.1 50.7l1.0 1.2M48.9 40.0l1.5 3.4M38.9 57.6l1.1 -3.2M14.0 48.5l-1.3 -1.2M45.1 22.4l1.6 -3.3M2.8 13.7l-0.1 1.6M20.4 68.3l-2.4 0.5M33.2 50.0l2.7 1.1M61.3 28.5l-1.6 -2.4M38.1 44.1l-0.8 1.7M39.7 61.4l2.7 -2.6M56.6 28.4l-1.1 -1.1M6.6 39.5l-1.9 -2.7M19.1 75.0l-1.6 2.7M13.8 17.7l-1.7 0.4M31.2 74.1l-3.2 2.3M21.4 -0.4l-0.1 -3.1M67.5 50.7l-2.1 -1.4M32.5 21.3l2.6 1.1M8.0 74.7l-1.6 2.4M0.3 10.0l1.7 -0.5M64.8 53.2l-0.0 3.1M81.4 26.1l-1.6 -3.6M36.6 56.1l0.3 2.1M76.8 60.7l-1.9 -1.4" stroke="#420000" stroke-width="1.0" stroke-linecap="round" fill="none"/><path d="M73.0 49.8l1.3 0.9M72.9 55.9l0.5 0.5M54.7 56.7l-0.0 1.2M41.2 28.9l-0.4 0.4M38.8 21.5l0.9 0.9M65.3 44.6l0.0 0.2" stroke="#680000" stroke-width="3.20" stroke-linecap="round" fill="none"/><path d="M30.3 47.4l-0.0 0.3M20.0 40.2l0.0 0.8M29.6 42.5l1.0 0.3M44.0 28.0l0.9 0.4M25.3 15.6l-0.4 0.3" stroke="#680000" stroke-width="4.00" stroke-linecap="round" fill="none"/><path d="M19.5 53.2h.1M39.5 12.3l-1.0 0.1" stroke="#680000" stroke-width="4.80" stroke-linecap="round" fill="none"/><path d="M50.8 30.1l-1.0 1.7M35.6 31.3l1.6 0.2M13.7 37.6l1.4 0.2" stroke="#780202" stroke-width="3.20" stroke-linecap="round" fill="none"/><path d="M31.2 52.7l0.4 0.1M57.1 52.7l-0.6 0.1M44.0 52.1l1.4 1.4" stroke="#780202" stroke-width="4.00" stroke-linecap="round" fill="none"/><path d="M59.6 34.6l0.6 0.2M36.6 64.7l0.4 1.7M42.5 24.5l1.1 0.8M42.2 38.0l0.1 0.6M42.0 79.1l1.1 1.6" stroke="#780202" stroke-width="4.80" stroke-linecap="round" fill="none"/><path d="M58.2 80.1l2.0 0.7M58.2 80.1l-0.2 2.7M58.2 80.1l2.8 0.4M58.2 80.1l1.5 -1.7M-0.5 32.6l-1.7 -0.9M-0.5 32.6l2.4 -2.8M-0.5 32.6l-0.7 2.4M-0.5 32.6l-2.8 0.0M-0.5 32.6l0.9 -2.7M21.1 4.3l0.0 -2.5M21.1 4.3l1.1 -2.4M21.1 4.3l1.3 -1.6M21.1 4.3l-0.6 2.2M21.1 4.3l1.6 0.9M26.9 41.0l3.0 1.7M26.9 41.0l-2.8 -0.2M26.9 41.0l1.5 -1.5M26.9 41.0l-0.2 3.7M36.9 76.3l-0.8 -2.5M36.9 76.3l2.3 0.9M36.9 76.3l2.5 -2.3M36.9 76.3l1.8 3.0M37.1 38.8l1.7 -2.7M37.1 38.8l-0.9 2.3M37.1 38.8l-0.6 2.2M37.1 38.8l1.6 -2.1M78.4 8.2l3.4 -0.6M78.4 8.2l-1.0 -1.7M78.4 8.2l1.9 -0.7M78.4 8.2l-2.7 -2.2M78.4 8.2l-0.1 -3.5M22.6 77.4l-1.6 2.3M22.6 77.4l-0.1 -2.6M22.6 77.4l-1.7 -0.8M22.6 77.4l0.7 -2.3M65.0 39.2l-2.8 -1.6M65.0 39.2l-1.6 -1.6M65.0 39.2l-1.6 0.8M65.0 39.2l-2.8 1.4M65.0 39.2l-1.1 -2.9M1.6 78.7l-2.9 -1.9M1.6 78.7l0.8 3.7M1.6 78.7l-2.9 0.1M11.2 62.1l2.1 1.3M11.2 62.1l1.0 -1.6M11.2 62.1l-2.1 0.5M73.9 61.7l-2.0 0.1M73.9 61.7l-2.8 0.6M73.9 61.7l1.3 1.7M21.2 44.1l-2.7 1.2M21.2 44.1l-1.3 2.4M21.2 44.1l-0.5 -2.1M21.2 44.1l0.4 3.6" stroke="#B00808" stroke-width="1.2" stroke-linecap="round" fill="none"/><path d="M58.2 80.1h.3M-0.5 32.6h.3M21.1 4.3h.3M26.9 41.0h.3M36.9 76.3h.3M37.1 38.8h.3M78.4 8.2h.3M22.6 77.4h.3M65.0 39.2h.3M1.6 78.7h.3M11.2 62.1h.3M73.9 61.7h.3M21.2 44.1h.3" stroke="#B00808" stroke-width="3.0" stroke-linecap="round" fill="none"/><path d="M69.1 64.5l-0.6 -1.5M69.1 64.5l-1.2 -0.8M69.1 64.5l0.4 0.9M69.1 64.5l0.9 -0.6M13.6 59.5l-1.1 -0.7M13.6 59.5l-1.2 0.9M13.6 59.5l-1.5 -1.5M41.6 15.1l1.2 -0.3M41.6 15.1l-0.7 -0.7M41.6 15.1l1.3 -0.0M41.6 15.1l1.9 -0.9M28.9 10.1l-2.1 0.1M28.9 10.1l-1.2 -0.5M28.9 10.1l1.3 -0.3M28.9 10.1l0.9 0.4M15.1 19.3l-1.3 -0.7M15.1 19.3l-1.2 -0.1M15.1 19.3l-1.5 -0.7M15.1 19.3l-1.0 -1.7M4.0 0.5l-1.1 1.0M4.0 0.5l0.1 -2.1M4.0 0.5l-1.6 0.4M-1.0 24.5l-1.4 -1.0M-1.0 24.5l-0.7 0.8M-1.0 24.5l-1.6 0.8M18.8 49.5l1.2 0.2M18.8 49.5l1.2 1.5M18.8 49.5l-0.6 1.0M1.6 77.0l0.1 -1.4M1.6 77.0l-0.3 1.9M1.6 77.0l2.0 0.2M1.6 77.0l-1.0 0.3M1.6 77.0l1.4 1.6M52.3 51.9l-0.0 -1.1M52.3 51.9l0.4 -1.3M52.3 51.9l0.7 1.1M49.2 12.5l0.2 -1.0M49.2 12.5l-1.4 -0.0M49.2 12.5l-0.2 -1.5" stroke="#FF1C1C" stroke-width="0.9" stroke-linecap="round" fill="none"/><path d="M69.1 64.5h.3M13.6 59.5h.3M41.6 15.1h.3M28.9 10.1h.3M15.1 19.3h.3M4.0 0.5h.3M-1.0 24.5h.3M18.8 49.5h.3M1.6 77.0h.3M52.3 51.9h.3M49.2 12.5h.3" stroke="#FF1C1C" stroke-width="2.3" stroke-linecap="round" fill="none"/></g><g id="d2"><path d="M31.9 13.5h.1M25.3 58.0l-0.4 0.0M77.0 70.2l0.4 0.3M25.4 0.6l-0.2 0.5M71.6 9.0l-0.5 0.4M33.3 32.8l0.3 0.3M68.0 64.8l0.1 0.5M43.3 0.2h.1M30.7 3.8l-0.0 0.5M32.8 45.7h.1M67.3 14.1l-0.1 0.4M-0.5 69.8l-0.2 0.1M4.1 32.8l0.5 0.2M77.4 79.3l0.1 0.1M3.3 79.0l0.1 0.2M18.3 0.6l0.1 0.4M51.2 6.0h.1M2.7 67.0l0.7 0.3M47.8 11.3l-0.2 0.1M31.5 24.0h.1M14.5 27.0l-0.1 0.1M63.5 23.5l-0.3 0.5" stroke="#00008A" stroke-width="3.17" stroke-linecap="round" fill="none"/><path d="M63.4 77.9l0.2 0.0M37.0 48.0h.1M21.5 15.6h.1M3.1 15.6l-0.1 0.1M31.6 75.4l0.1 0.0M28.1 79.2l-0.0 0.8M66.5 61.9l-0.1 0.4M39.2 44.4l0.1 0.1M7.4 65.3l-0.1 0.4M52.9 67.3h.1M19.5 58.3l0.2 0.1M17.9 8.8l0.2 0.6M9.7 60.7h.1M53.3 50.5l-0.0 0.1M3.2 80.6l-0.1 0.7M69.4 41.4l-0.1 0.4M44.1 25.2l-0.2 0.4M23.4 82.2l-0.2 0.3M40.5 23.8l-0.5 0.5M27.9 58.6l-0.2 0.4M59.2 80.2l0.2 0.5M41.2 76.2l0.7 0.2" stroke="#00008A" stroke-width="3.50" stroke-linecap="round" fill="none"/><path d="M58.4 35.8l0.7 0.0M70.8 1.7l0.1 0.1M46.4 0.1l0.3 0.2M72.2 80.3l-0.1 0.3M73.5 69.1l0.1 0.4M67.8 70.0l-0.0 0.1M73.9 80.8l0.2 0.3M7.0 3.4h.1M73.9 -0.8l0.0 0.1M31.8 21.9l-0.1 0.0M21.5 68.3l0.4 0.1M23.1 3.5l-0.0 0.5M26.3 10.0l0.1 0.5M13.5 53.8l-0.2 0.3M58.6 75.9l-0.4 0.0M-0.6 18.6l-0.3 0.2" stroke="#00008A" stroke-width="3.83" stroke-linecap="round" fill="none"/><path d="M64.6 81.1l0.6 0.5M45.7 31.3l-0.6 0.0M41.3 37.7l0.2 0.3M43.1 15.3l0.0 0.2M36.1 4.7h.1M57.2 78.6l0.4 0.1M-0.1 47.2l-0.0 0.3M13.7 35.1l0.5 0.4M35.2 15.7h.1M41.1 44.6l0.5 0.3M72.5 26.5l-0.5 0.4M65.1 67.2l-0.2 0.3M45.9 44.8l-0.0 0.1M60.4 36.6l-0.0 0.1M31.4 23.0l-0.0 0.1M75.3 30.9l0.1 0.2M48.4 44.5l0.4 0.3M17.2 25.4h.1M10.5 14.1l-0.7 0.4M26.7 7.5l0.3 0.4M1.1 77.5l0.0 0.5M71.5 42.6l-0.3 0.1M17.6 7.9l-0.7 0.0M11.7 46.5l0.4 0.4M56.8 31.5l-0.2 0.2M50.4 31.6l0.2 0.2M33.7 2.7l-0.5 0.1M3.5 25.1l-0.1 0.0M36.9 0.2l0.8 0.3" stroke="#1818FF" stroke-width="3.03" stroke-linecap="round" fill="none"/><path d="M40.1 66.0l0.2 0.5M21.1 56.7l0.2 0.0M35.1 19.9l0.6 0.5M15.2 76.5l0.0 0.7M51.7 7.9l0.7 0.0M6.8 19.1l-0.1 0.1M79.4 0.1l-0.7 0.3M46.0 58.5l-0.2 0.1M10.7 36.1l0.1 0.9M77.1 26.5l-0.4 0.8M73.2 73.2l-0.2 0.0M73.4 13.7l0.1 0.2M4.9 75.5l-0.0 0.2M13.4 29.2h.1M29.8 12.9l-0.4 0.1M36.4 24.9l-0.9 0.1M19.7 60.0l0.2 0.0M0.5 53.2l0.4 0.7M13.5 77.5l0.8 0.5M15.0 4.7l0.2 0.4M59.8 31.1l-0.8 0.1M22.6 54.2l0.0 0.2M47.8 34.2l-0.2 0.1M16.1 10.1l-0.0 0.5M39.1 65.9h.1M32.0 51.7l0.0 0.1M77.0 72.8l0.3 0.0M69.6 5.1h.1M48.4 27.0l-0.4 0.0M38.1 57.1l0.5 0.1M0.9 51.0l-0.7 0.1M23.3 79.2l0.2 0.3M70.2 58.5l0.8 0.3M25.6 37.1h.1M34.4 37.6l-0.2 0.6M53.4 45.9h.1M67.3 75.9l-0.0 0.1M74.6 55.3l-0.1 0.3M59.1 68.9l0.0 0.4M78.9 54.2l0.1 0.2M28.8 10.4l0.2 0.2M43.1 9.3l-0.0 0.3M22.8 41.0l-0.8 0.3" stroke="#1818FF" stroke-width="3.50" stroke-linecap="round" fill="none"/><path d="M70.4 76.3l-0.1 0.1M15.5 13.3l0.8 0.2M54.9 80.4l0.4 0.0M18.8 6.8l-0.1 0.7M55.2 12.9l-0.2 0.3M42.7 69.0l-0.9 0.1M0.5 15.2l0.0 0.3M42.7 69.1l-0.0 0.1M68.4 32.2l-0.3 0.7M44.2 34.9l0.1 0.6M73.6 43.9l-0.4 0.4M56.3 13.0l-0.2 0.1M48.0 27.3l0.0 0.2M61.3 51.7l0.1 0.3M28.0 52.9l-0.2 0.0M60.7 61.2l-0.1 0.5M54.9 62.7l-0.6 0.4M65.7 45.6l0.3 0.3M41.7 3.7l0.1 0.3M71.0 77.8l-0.5 0.0M30.1 35.2l-0.6 0.5M12.8 51.7l-0.5 0.1M48.5 42.5l0.2 0.2M13.1 64.7l-0.1 0.3M60.7 23.2l-0.0 0.2M37.3 20.5l0.1 0.0M53.7 34.0l0.6 0.4M79.5 50.4l0.0 0.1M37.7 57.9l0.0 0.1M29.7 24.4l0.5 0.4M47.1 61.5l0.5 0.2" stroke="#1818FF" stroke-width="3.97" stroke-linecap="round" fill="none"/><path d="M22.2 45.8l0.1 0.5M79.3 56.5l-0.4 0.6M45.4 79.3l0.6 0.4M49.0 24.8l0.0 0.1M42.1 43.2l0.1 0.5M60.0 40.7l-0.5 0.5M39.3 33.7l-0.1 0.1M72.1 35.4l-0.2 0.1M64.2 55.9l0.9 0.2M62.6 40.3l-0.1 0.6M79.7 7.5l0.1 0.5M75.9 14.8l-0.1 0.1M22.3 63.3l-0.2 0.6M15.2 1.8l0.1 0.2M23.2 40.9l0.4 0.3M49.7 31.0l0.8 0.2M44.2 56.7l-0.1 0.6M19.1 80.5l0.1 0.0M45.8 70.1l-0.2 0.1M6.3 63.3l0.5 0.3M47.2 61.0l-0.3 0.0M57.6 23.4h.1M48.6 10.9l-0.6 0.5M21.5 81.9l-0.8 0.0M13.2 52.8l-0.4 0.2M49.0 23.6l0.8 0.5M18.0 70.9l-0.2 0.5" stroke="#0000E8" stroke-width="3.03" stroke-linecap="round" fill="none"/><path d="M17.2 9.3l0.0 0.7M39.0 9.2l0.2 0.7M13.8 9.3l-0.8 0.2M64.0 44.9l0.0 0.1M49.5 12.4l-0.1 0.2M46.5 28.6l-0.0 0.3M39.8 44.4l-0.1 0.5M3.9 73.5l0.1 0.1M8.4 7.1l-0.2 0.2M22.5 60.5l-0.8 0.0M4.7 20.7l0.5 0.4M35.7 46.6l0.1 0.2M31.2 20.1l0.2 0.0M45.3 78.5l0.5 0.6M35.4 36.1l-0.4 0.5M49.9 31.0l0.1 0.1M69.8 29.6l0.1 0.0M-0.0 47.3l0.0 0.5M33.5 64.3l0.6 0.2M15.3 7.8l0.5 0.4M47.4 36.1l-0.2 0.5M45.4 19.0l0.0 0.1M50.8 75.9l0.7 0.4M58.9 52.0l0.7 0.5M74.6 15.1l0.5 0.6M10.7 0.7l-0.1 0.6M70.9 11.2l0.6 0.6M21.5 71.0l0.5 0.0M49.0 67.5l-0.2 0.2M43.6 48.4l-0.2 0.6" stroke="#0000E8" stroke-width="3.50" stroke-linecap="round" fill="none"/><path d="M39.6 78.4l-0.1 0.2M41.4 53.1l-0.4 0.4M7.9 2.4l0.7 0.5M12.2 73.4l0.3 0.5M1.0 32.8l0.3 0.5M20.8 45.9l-0.4 0.0M28.4 69.4l-0.9 0.1M61.2 55.5l-0.8 0.3M62.5 50.8l-0.3 0.6M29.2 43.7l-0.4 0.3M50.0 38.0l0.3 0.1M-0.5 51.5l0.2 0.8M34.4 74.8l0.3 0.1M36.7 40.0l-0.1 0.7M77.5 9.1l0.2 0.0M68.5 51.4l0.3 0.5M55.2 15.0l0.1 0.1M29.1 66.3l0.3 0.3M48.1 5.8l-0.3 0.4M46.6 72.6l0.4 0.3M44.7 20.7l0.6 0.5M74.6 9.0h.1M50.0 46.4l0.2 0.4M44.5 80.0l0.2 0.1M12.6 78.9l-0.7 0.5M8.6 31.6l-0.6 0.5M19.0 79.6l-0.4 0.2M60.6 30.9l0.1 0.2M16.1 76.5l-0.7 0.2M8.1 53.6l-0.1 0.5M31.8 18.0l0.1 0.1M18.6 50.2l-0.1 0.1" stroke="#0000E8" stroke-width="3.97" stroke-linecap="round" fill="none"/><path d="M59.0 51.8l-0.3 0.2M54.2 34.9l0.4 0.2M20.4 4.3l-0.1 0.1M20.2 15.4l0.4 0.2M29.7 44.6l0.8 0.1M78.8 77.5l-0.1 0.0M63.3 47.8l-0.1 0.3M73.0 72.6l-0.3 0.3M17.9 26.9l0.5 0.0M13.9 79.9l-0.0 0.1M28.9 53.2l0.5 0.2M68.9 32.3l-0.0 0.9M36.5 71.5h.1M65.5 14.9h.1M33.0 38.8l-0.5 0.2M24.4 68.6l0.2 0.3M39.1 2.9l0.5 0.2M72.2 56.2l0.6 0.6M78.6 50.7l-0.3 0.2M33.0 73.4h.1M32.6 0.4l-0.2 0.1M2.7 75.7l-0.6 0.0M25.7 68.6l-0.1 0.1" stroke="#0808D0" stroke-width="3.03" stroke-linecap="round" fill="none"/><path d="M77.9 19.1l0.0 0.3M65.3 2.8l0.2 0.5M39.4 21.4l0.7 0.4M45.4 68.4l0.6 0.5M58.5 62.4l-0.0 0.7M11.8 8.9l0.6 0.2M22.6 82.1l0.5 0.4M40.2 4.5l0.2 0.0M64.7 35.6h.1M29.5 13.4l-0.8 0.1M39.4 16.0l-0.1 0.0M73.8 49.1l0.5 0.3M65.7 68.7h.1M69.9 3.9l0.2 0.5M61.2 40.1l0.4 0.5M5.2 80.8l-0.2 0.0M47.1 35.4l0.2 0.6M1.9 18.1l0.2 0.3M21.5 49.3l0.1 0.4M19.2 73.6l0.2 0.3M14.8 21.8l-0.3 0.8M70.2 2.2l0.3 0.6M75.0 48.4l0.0 0.1M79.5 36.2l0.1 0.7M75.0 38.2l-0.5 0.4M57.6 56.3l-0.1 0.1M61.3 30.5l-0.6 0.1M67.0 77.6l-0.0 0.4M9.6 77.5h.1M61.4 5.2l0.0 0.3M23.6 44.1l0.3 0.8M67.1 36.4l-0.0 0.2M17.7 54.3l0.1 0.1M2.2 7.5l0.5 0.2M8.5 21.1l-0.8 0.0M25.6 45.4l-0.1 0.1M17.7 13.7l-0.5 0.0M19.9 8.9l0.8 0.2M15.4 22.2l0.0 0.6M43.7 74.9l-0.5 0.2M68.8 33.0l0.3 0.3M79.0 15.8l0.1 0.3M39.3 15.5l0.1 0.5M79.3 2.6l0.4 0.4M53.5 65.4l-0.3 0.7M20.9 80.5l-0.0 0.6" stroke="#0808D0" stroke-width="3.50" stroke-linecap="round" fill="none"/><path d="M19.3 71.3h.1M18.2 31.4l-0.6 0.0M79.0 35.2l0.5 0.3M23.4 71.6l-0.4 0.7M70.7 78.8l-0.1 0.1M40.6 32.1l0.3 0.4M66.0 72.8l0.1 0.2M71.4 29.3l-0.1 0.6M64.8 5.0l-0.0 0.2M45.7 57.2l0.1 0.1M51.5 55.3l-0.1 0.6M30.9 43.7l0.3 0.4M57.2 -0.4l-0.3 0.6M57.6 59.9l0.0 0.1M81.2 16.1l-0.1 0.3M64.8 64.9l-0.6 0.5M59.0 63.8l0.0 0.1M32.8 12.9l0.3 0.2M78.9 61.9l0.4 0.1M81.0 69.1l-0.0 0.1M9.1 2.8l0.4 0.1M14.5 40.4l-0.3 0.5M80.4 34.9l-0.3 0.3M55.9 39.1l-0.4 0.7M35.0 3.6l-0.3 0.6M31.8 25.1l-0.5 0.7M37.2 40.3l-0.4 0.2M60.9 28.5l0.1 0.3M40.7 81.6l0.0 0.2" stroke="#0808D0" stroke-width="3.97" stroke-linecap="round" fill="none"/></g><g id="t2"><path d="M21.2 80.8l1.3 0.2M46.6 39.1l0.3 0.8M6.4 4.3l0.4 0.5M61.4 70.2l-0.8 1.1M58.4 24.6l0.3 0.7M79.1 10.8l0.2 0.2M47.1 4.6l0.4 0.2M36.9 61.9l0.3 0.2M10.7 77.0l0.1 0.4" stroke="#020E02" stroke-width="3.20" stroke-linecap="round" fill="none"/><path d="M72.5 80.0l-1.4 0.1M49.5 18.2l0.2 0.6M34.7 39.8l1.1 0.1M62.8 80.1l-0.7 0.2M14.0 59.4l-0.2 0.3M77.3 1.7l0.3 0.7M34.8 78.2l-0.2 0.2M39.5 60.1l1.0 0.6M8.2 7.0l0.7 0.9M30.9 33.0l0.0 0.1M19.1 2.7l-0.1 0.4M13.0 55.7l0.1 0.0M35.5 36.6l-0.6 1.1M28.6 55.2l0.5 1.1M78.5 19.2l-0.8 0.2M19.7 5.7l-1.0 0.3M75.2 37.4l0.9 0.7M3.3 77.3l-0.6 0.2M59.6 68.3l-0.3 1.3M15.0 60.9l0.1 0.5M72.0 33.4l0.1 0.0" stroke="#020E02" stroke-width="4.00" stroke-linecap="round" fill="none"/><path d="M41.4 21.1l0.7 1.3M25.4 17.9l0.1 0.5M77.8 59.5l-0.2 0.1M33.8 78.9l0.1 0.7M42.6 2.3l0.6 1.2M23.7 65.1l0.5 0.5M1.4 71.3l0.1 0.2M17.9 14.7l0.3 0.6M59.6 73.0l-0.1 0.4M37.0 23.7l0.5 0.2M75.5 31.0l-0.3 0.1M42.2 28.0l0.4 0.1M59.5 78.6l-0.1 0.1M11.4 13.7l-1.3 0.4M80.0 41.0l0.5 0.7M9.1 59.3l-0.1 0.6M31.8 52.3l-1.4 0.1M70.2 76.2l0.3 0.2" stroke="#020E02" stroke-width="4.80" stroke-linecap="round" fill="none"/><path d="M35.8 13.1l1.1 0.5M35.0 25.3l-0.6 1.1M59.5 51.5l-0.3 0.3M25.1 75.5l-0.3 0.2M2.4 34.7h.1M75.9 5.7l1.1 0.4M41.9 57.8l0.7 0.0M22.9 44.8l-0.2 1.5M65.9 37.6l-0.1 0.1M-0.2 2.7l0.7 0.6M36.9 69.7l0.2 0.0M24.7 18.8l-1.3 0.1M52.1 45.5l-0.1 0.1M19.8 66.3l-0.7 1.1M4.2 53.3l-0.2 0.0M73.4 61.3l0.1 0.2M58.7 27.6l-0.1 0.7M26.5 3.9l0.1 0.3M13.8 35.5l0.8 0.0M67.8 5.5l-0.3 1.4M48.6 26.7l-1.0 0.3M69.3 77.7l1.0 1.1" stroke="#031203" stroke-width="3.20" stroke-linecap="round" fill="none"/><path d="M60.7 50.3l-1.1 0.1M18.7 41.9l0.3 0.8M55.1 56.8l0.1 0.2M51.1 70.6l-0.2 0.4M6.4 9.6l0.0 0.1M5.5 68.6l-0.7 0.0M68.0 81.6h.1M75.6 65.7l0.3 0.5M71.1 27.7l-1.1 0.0M21.4 3.3l0.7 0.7M44.2 41.6l0.6 1.4M81.7 44.0l0.8 0.0M73.6 9.6l0.6 1.1M57.5 50.8l0.1 0.2" stroke="#031203" stroke-width="4.00" stroke-linecap="round" fill="none"/><path d="M57.1 56.4h.1M38.7 69.2l-0.5 1.0M8.9 10.7l0.3 1.0M11.8 31.3l-0.9 0.2M55.0 67.8l-0.8 0.5M5.7 9.1l0.1 0.9M4.2 25.8l-1.4 0.1M53.1 21.8l0.6 0.4M81.4 4.5l-0.2 0.2M59.9 46.5l-1.1 0.6M37.5 63.3l-0.8 0.2M18.0 13.2l0.9 0.0M44.0 29.8l-0.1 0.0" stroke="#031203" stroke-width="4.80" stroke-linecap="round" fill="none"/><path d="M59.9 19.0l1.0 0.7M23.8 52.7l-1.2 0.1M74.8 47.9l-0.4 0.9M5.0 40.1l-0.9 1.0M39.9 55.3l0.5 0.2M29.3 69.1l0.4 0.4M39.7 3.4l-0.5 0.6M40.8 1.7l-0.1 0.2M9.8 54.1l-0.9 0.5M30.6 3.4l0.3 1.2M53.9 40.2l-0.6 0.9M59.8 19.2l0.3 0.2M46.9 11.2l-0.3 0.2M77.2 5.1l0.0 0.4M33.8 16.3l-1.1 1.0" stroke="#020C02" stroke-width="3.20" stroke-linecap="round" fill="none"/><path d="M56.5 0.3l0.9 0.2M71.4 20.9l-0.8 0.6M55.8 63.5l1.1 0.2M13.1 1.0l-0.2 0.2M46.8 24.5l-0.3 0.8M57.5 26.6l0.6 0.4M60.0 50.2l0.5 0.7M64.5 45.0l-0.8 0.2M12.8 69.4l0.6 0.6M18.9 16.0l0.6 0.9M30.8 50.1l-0.1 0.6M61.3 54.0l-0.1 1.3M0.7 61.9l-1.3 0.1" stroke="#020C02" stroke-width="4.00" stroke-linecap="round" fill="none"/><path d="M32.2 60.7l0.3 0.2M34.0 19.1l-0.0 0.4M74.5 63.2l-1.0 0.4M19.9 23.8l-1.4 0.3M14.3 39.2l0.1 0.1M29.1 12.5l0.0 0.2M75.3 38.1l0.1 1.5M30.6 0.9l0.8 0.2M76.3 75.4l0.8 1.1M33.1 74.8l0.4 0.4M18.3 76.6l0.3 0.4M11.3 26.1l-0.1 0.1M72.0 67.4l-1.2 0.8M27.9 71.7l-0.1 1.0M76.6 19.8l0.1 0.2M81.2 9.7l-0.8 0.9M61.6 9.7l-0.0 0.7M60.9 78.1l-0.6 0.4M26.8 12.7l0.3 0.3M29.2 59.4l-0.5 0.4M25.9 28.0l0.3 1.5M69.8 16.7l0.1 0.5M48.8 5.7l-0.1 0.8M16.1 12.3l-0.2 1.2M1.3 2.1l0.1 0.3" stroke="#020C02" stroke-width="4.80" stroke-linecap="round" fill="none"/><path d="M0.9 73.4h.1M50.1 52.2h.1M4.2 62.6h.1" stroke="#092A09" stroke-width="1.33" stroke-linecap="round" fill="none"/><path d="M17.6 42.4h.1M9.1 17.0h.1" stroke="#092A09" stroke-width="1.87" stroke-linecap="round" fill="none"/><path d="M49.9 -0.9h.1M13.3 66.8h.1M65.8 29.4h.1M61.3 53.6h.1M12.9 21.8h.1" stroke="#0B320B" stroke-width="1.33" stroke-linecap="round" fill="none"/><path d="M39.6 51.2h.1" stroke="#0B320B" stroke-width="1.60" stroke-linecap="round" fill="none"/><path d="M5.8 76.8h.1M68.9 40.9h.1M37.7 36.5h.1" stroke="#0B320B" stroke-width="1.87" stroke-linecap="round" fill="none"/><path d="M-0.1 37.6h.1" stroke="#2A9A2A" stroke-width="1.93" stroke-linecap="round" fill="none"/><path d="M29.7 70.4h.1M0.8 5.5h.1" stroke="#2A9A2A" stroke-width="2.20" stroke-linecap="round" fill="none"/></g><g id="l2"><path d="M69.5 8.6l-0.6 0.6M59.6 14.7l0.1 0.2M72.4 66.3l0.8 0.3M75.9 26.7l-1.5 0.1M73.8 77.3l-0.4 0.6M54.5 70.0l0.1 0.0M47.6 63.0l0.7 0.7M81.7 8.4l-0.1 1.1M58.4 34.9l0.4 0.7M27.2 27.0l0.7 0.8M77.0 3.9l-0.3 1.4" stroke="#120000" stroke-width="3.20" stroke-linecap="round" fill="none"/><path d="M25.9 71.7l0.1 0.2M46.5 38.1l0.0 0.2M6.2 50.8l-0.4 0.9M28.3 81.2l0.4 1.0M-0.8 56.0l0.8 1.2M52.8 63.2l-1.3 0.5M65.5 8.3l-0.6 0.2M17.5 12.9l-0.2 0.6M48.5 16.2l0.1 0.6M44.3 17.2l-0.1 0.3M81.8 30.6l0.1 0.4M24.9 80.5l-0.2 0.8M7.5 49.0l-0.9 0.1M81.5 71.8l0.5 0.9M10.4 70.5l-1.3 0.1M-0.6 -0.7l0.1 0.7" stroke="#120000" stroke-width="4.00" stroke-linecap="round" fill="none"/><path d="M57.4 32.6l-0.6 0.4M31.9 49.6l0.2 0.5M24.4 22.9l-0.7 0.1M20.1 59.7l-0.3 0.1M52.6 75.3h.1M69.5 8.2l1.1 1.0M58.1 48.7l0.1 0.5" stroke="#120000" stroke-width="4.80" stroke-linecap="round" fill="none"/><path d="M8.9 54.2l-0.2 0.0M43.2 43.2l-0.0 1.1M15.6 12.8l0.5 0.9M39.0 58.8l0.8 1.2M8.5 10.3l-0.4 0.3M20.0 52.1l0.8 0.3M66.4 1.8l-0.2 0.7M74.4 7.4l0.8 0.1M26.2 50.7l-0.9 0.6M54.2 66.8l-0.7 0.5M45.3 23.5l0.4 1.1M46.9 64.2l-0.0 0.8M23.6 26.1l0.1 0.2M35.9 71.6l0.5 0.4M7.1 40.7l0.0 1.0M16.9 37.0l0.0 0.1" stroke="#180000" stroke-width="3.20" stroke-linecap="round" fill="none"/><path d="M40.7 19.0l-0.1 1.5M48.7 68.6h.1M50.7 1.1l0.1 1.0M60.9 77.9h.1M41.8 34.1l-0.3 0.3M70.4 65.4l0.4 0.9M11.7 40.4h.1" stroke="#180000" stroke-width="4.00" stroke-linecap="round" fill="none"/><path d="M63.8 22.4l0.6 0.5M43.5 33.3l-1.3 0.1M73.2 72.2l-0.3 0.7M10.1 70.7l-0.8 0.8M17.2 65.3h.1M57.3 34.1l-0.1 1.3M76.6 54.2l-0.3 0.6M48.9 53.9l0.2 0.0M57.2 66.4l-0.6 0.7M25.9 55.0l-0.2 0.3" stroke="#180000" stroke-width="4.80" stroke-linecap="round" fill="none"/><path d="M67.1 65.3l0.7 0.0M18.0 22.5l-0.1 0.5M49.7 18.9l0.8 1.2M73.2 23.2l0.2 1.1M10.0 80.0l0.1 0.1M2.9 67.0l0.8 0.6M0.3 13.5l-0.2 0.3M77.1 77.0l-0.0 0.1M11.0 45.6l1.1 0.5M56.0 42.7l-0.4 0.2M44.5 50.9l-0.1 0.2M76.4 37.5l0.7 0.8M62.0 16.3l0.0 0.2M68.9 32.7l-0.4 0.3M38.9 32.3l1.4 0.5M70.5 73.3l-0.1 0.4M42.2 64.0h.1M35.2 66.1l0.1 0.0M72.6 74.8l-0.1 0.7" stroke="#0E0000" stroke-width="3.20" stroke-linecap="round" fill="none"/><path d="M69.0 71.7l1.1 0.3M26.4 2.6l1.1 0.2M37.5 47.9l0.6 1.1M27.0 17.4l0.1 1.2M37.3 61.2l-0.1 0.1M28.2 6.7l0.0 0.1M34.5 58.0l0.1 0.2M19.8 -1.0l-0.4 1.0M19.1 40.5l-0.9 1.0M16.7 45.8l-0.8 1.1M9.4 59.3l0.6 1.3M46.6 27.9l0.2 1.5M57.7 40.0l-0.3 0.3M40.7 77.6l0.5 1.3M16.4 62.0l0.7 0.6M41.3 27.1l-1.1 0.4" stroke="#0E0000" stroke-width="4.00" stroke-linecap="round" fill="none"/><path d="M8.4 19.6l-0.0 0.1M8.8 5.0l0.5 0.2M49.3 11.1l0.2 1.0M59.2 69.4l0.9 0.5M13.4 58.5l-0.2 0.1M39.0 53.5l0.0 0.2M59.6 7.2l0.1 0.4M21.9 80.4l1.0 0.1M0.1 11.2l0.3 1.0M6.0 41.5h.1M0.1 23.0l-0.3 0.6M59.4 45.0l-0.2 0.2M22.0 51.9l-0.5 1.2M0.6 71.9l-0.5 0.9M54.9 26.9h.1M44.3 65.9l0.8 0.1M27.0 9.3l-0.7 0.5M53.9 29.4l0.6 0.7" stroke="#0E0000" stroke-width="4.80" stroke-linecap="round" fill="none"/><path d="M48.2 75.0l0.0 0.1M31.4 42.1l0.4 0.8M76.1 25.6l0.1 0.4" stroke="#2A0202" stroke-width="1.80" stroke-linecap="round" fill="none"/><path d="M80.4 74.8l-0.2 0.1M72.6 71.9l0.4 0.8M64.9 1.7l-0.6 0.2M41.1 53.0l-0.4 0.1M27.1 36.7l-0.9 0.6" stroke="#2A0202" stroke-width="2.20" stroke-linecap="round" fill="none"/><path d="M57.2 8.6l-0.3 1.1M4.5 52.9l0.3 0.8M30.9 34.9l0.4 0.4" stroke="#2A0202" stroke-width="2.60" stroke-linecap="round" fill="none"/><path d="M3.2 41.1l-1.0 0.5M36.0 21.4l-0.6 0.2M60.3 51.1l-0.6 0.1" stroke="#340404" stroke-width="1.80" stroke-linecap="round" fill="none"/><path d="M76.0 37.8l0.8 0.2M14.2 74.2l-0.1 0.1M46.5 15.5h.1M67.6 7.8l-0.2 0.0" stroke="#340404" stroke-width="2.20" stroke-linecap="round" fill="none"/><path d="M60.5 28.6l0.6 0.1M45.7 15.9l1.0 0.7" stroke="#340404" stroke-width="2.60" stroke-linecap="round" fill="none"/></g></defs>
<g transform="translate(344.8 242.1)"><g clip-path="url(#ci)"><rect width="81.2" height="81.2" fill="#00000A"/><g filter="url(#bl)" style="isolation:isolate"><use href="#d1"/></g></g><rect x="50.400000000000006" y="75.9" width="26.5" height="1.8" fill="#fff"/></g>
<g transform="translate(428.6 242.1)"><g clip-path="url(#ci)"><rect width="81.2" height="81.2" fill="#000A00"/><g filter="url(#bl)" style="isolation:isolate"><use href="#t1"/></g></g><rect x="50.400000000000006" y="75.9" width="26.5" height="1.8" fill="#fff"/></g>
<g transform="translate(512.4 242.1)"><g clip-path="url(#ci)"><rect width="81.2" height="81.2" fill="#080000"/><g filter="url(#bl)" style="isolation:isolate"><use href="#l1"/></g></g><rect x="50.400000000000006" y="75.9" width="26.5" height="1.8" fill="#fff"/></g>
<g transform="translate(596.2 242.1)"><g clip-path="url(#ci)"><rect width="81.2" height="81.2" fill="#00000A"/><g filter="url(#bl)" style="isolation:isolate"><use href="#d1"/><use href="#t1" style="mix-blend-mode:screen"/><use href="#l1" style="mix-blend-mode:screen"/></g></g><rect x="50.400000000000006" y="75.9" width="26.5" height="1.8" fill="#fff"/></g>
<g transform="translate(344.8 334.6)"><g clip-path="url(#ci)"><rect width="81.2" height="81.2" fill="#000006"/><g filter="url(#bl)" style="isolation:isolate"><use href="#d2"/></g></g><rect x="50.400000000000006" y="75.9" width="26.5" height="1.8" fill="#fff"/></g>
<g transform="translate(428.6 334.6)"><g clip-path="url(#ci)"><rect width="81.2" height="81.2" fill="#000500"/><g filter="url(#bl)" style="isolation:isolate"><use href="#t2"/></g></g><rect x="50.400000000000006" y="75.9" width="26.5" height="1.8" fill="#fff"/></g>
<g transform="translate(512.4 334.6)"><g clip-path="url(#ci)"><rect width="81.2" height="81.2" fill="#050000"/><g filter="url(#bl)" style="isolation:isolate"><use href="#l2"/></g></g><rect x="50.400000000000006" y="75.9" width="26.5" height="1.8" fill="#fff"/></g>
<g transform="translate(596.2 334.6)"><g clip-path="url(#ci)"><rect width="81.2" height="81.2" fill="#000006"/><g filter="url(#bl)" style="isolation:isolate"><use href="#d2"/></g></g><rect x="50.400000000000006" y="75.9" width="26.5" height="1.8" fill="#fff"/></g>
</svg>
</body></html>
